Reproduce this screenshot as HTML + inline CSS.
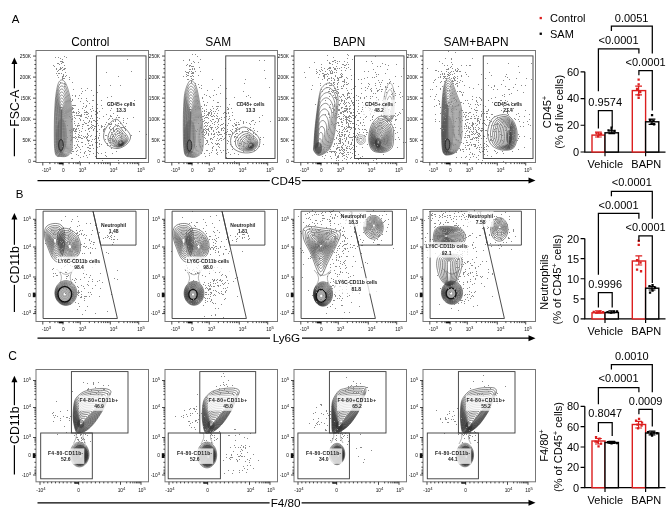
<!DOCTYPE html>
<html><head><meta charset="utf-8"><style>
html,body{margin:0;padding:0;background:#fff;}
body{width:669px;height:526px;overflow:hidden;font-family:"Liberation Sans", sans-serif;}
svg{display:block;will-change:transform;filter:blur(0.25px);}
</style></head><body>
<svg width="669" height="526" viewBox="0 0 669 526" font-family='"Liberation Sans", sans-serif'>
<rect width="669" height="526" fill="#fff"/>
<text x="15.60" y="22.80" font-size="11.50" text-anchor="middle" font-weight="normal" fill="#000" >A</text>
<text x="19.50" y="197.90" font-size="11.50" text-anchor="middle" font-weight="normal" fill="#000" >B</text>
<text x="12.70" y="359.90" font-size="12.00" text-anchor="middle" font-weight="normal" fill="#000" >C</text>
<text x="90.30" y="45.80" font-size="11.90" text-anchor="middle" font-weight="normal" fill="#000" >Control</text>
<text x="218.20" y="45.80" font-size="11.90" text-anchor="middle" font-weight="normal" fill="#000" >SAM</text>
<text x="349.20" y="45.80" font-size="11.90" text-anchor="middle" font-weight="normal" fill="#000" >BAPN</text>
<text x="476.00" y="45.80" font-size="11.90" text-anchor="middle" font-weight="normal" fill="#000" >SAM+BAPN</text>
<rect x="36.00" y="50.50" width="112.50" height="112.00" fill="none" stroke="#777" stroke-width="1"/>
<path d="M33.00,161.30H36.00M33.00,140.25H36.00M33.00,119.20H36.00M33.00,98.15H36.00M33.00,77.10H36.00M33.00,56.05H36.00M34.40,157.09H36.00M34.40,152.88H36.00M34.40,148.67H36.00M34.40,144.46H36.00M34.40,136.04H36.00M34.40,131.83H36.00M34.40,127.62H36.00M34.40,123.41H36.00M34.40,114.99H36.00M34.40,110.78H36.00M34.40,106.57H36.00M34.40,102.36H36.00M34.40,93.94H36.00M34.40,89.73H36.00M34.40,85.52H36.00M34.40,81.31H36.00M34.40,72.89H36.00M34.40,68.68H36.00M34.40,64.47H36.00M34.40,60.26H36.00" stroke="#1a1a1a" stroke-width="0.8" fill="none"/>
<text x="31.00" y="163.00" font-size="4.80" text-anchor="end" font-weight="normal" fill="#111" >0</text>
<text x="31.00" y="141.95" font-size="4.80" text-anchor="end" font-weight="normal" fill="#111" >50K</text>
<text x="31.00" y="120.90" font-size="4.80" text-anchor="end" font-weight="normal" fill="#111" >100K</text>
<text x="31.00" y="99.85" font-size="4.80" text-anchor="end" font-weight="normal" fill="#111" >150K</text>
<text x="31.00" y="78.80" font-size="4.80" text-anchor="end" font-weight="normal" fill="#111" >200K</text>
<text x="31.00" y="57.75" font-size="4.80" text-anchor="end" font-weight="normal" fill="#111" >250K</text>
<path d="M42.80,162.50V165.50M63.00,162.50V165.50M80.30,162.50V165.50M110.30,162.50V165.50M138.70,162.50V165.50M49.87,162.50V164.10M54.92,162.50V164.10M57.95,162.50V164.10M59.97,162.50V164.10M61.38,162.50V164.10M69.05,162.50V164.10M73.38,162.50V164.10M75.97,162.50V164.10M77.70,162.50V164.10M78.92,162.50V164.10M89.33,162.50V164.10M94.61,162.50V164.10M98.36,162.50V164.10M101.27,162.50V164.10M103.64,162.50V164.10M105.65,162.50V164.10M107.39,162.50V164.10M108.93,162.50V164.10M118.85,162.50V164.10M123.85,162.50V164.10M127.40,162.50V164.10M130.15,162.50V164.10M132.40,162.50V164.10M134.30,162.50V164.10M135.95,162.50V164.10M137.40,162.50V164.10" stroke="#1a1a1a" stroke-width="0.8" fill="none"/>
<text x="46.50" y="172.20" font-size="4.80" text-anchor="middle" font-weight="normal" fill="#111" >-10<tspan font-size="4.2" dy="-2.0">3</tspan></text>
<text x="63.40" y="172.20" font-size="4.80" text-anchor="middle" font-weight="normal" fill="#111" >0</text>
<text x="82.50" y="172.20" font-size="4.80" text-anchor="middle" font-weight="normal" fill="#111" >10<tspan font-size="4.2" dy="-2.0">3</tspan></text>
<text x="113.70" y="172.20" font-size="4.80" text-anchor="middle" font-weight="normal" fill="#111" >10<tspan font-size="4.2" dy="-2.0">4</tspan></text>
<text x="141.00" y="172.20" font-size="4.80" text-anchor="middle" font-weight="normal" fill="#111" >10<tspan font-size="4.2" dy="-2.0">5</tspan></text>
<rect x="165.00" y="50.50" width="112.50" height="112.00" fill="none" stroke="#777" stroke-width="1"/>
<path d="M162.00,161.30H165.00M162.00,140.25H165.00M162.00,119.20H165.00M162.00,98.15H165.00M162.00,77.10H165.00M162.00,56.05H165.00M163.40,157.09H165.00M163.40,152.88H165.00M163.40,148.67H165.00M163.40,144.46H165.00M163.40,136.04H165.00M163.40,131.83H165.00M163.40,127.62H165.00M163.40,123.41H165.00M163.40,114.99H165.00M163.40,110.78H165.00M163.40,106.57H165.00M163.40,102.36H165.00M163.40,93.94H165.00M163.40,89.73H165.00M163.40,85.52H165.00M163.40,81.31H165.00M163.40,72.89H165.00M163.40,68.68H165.00M163.40,64.47H165.00M163.40,60.26H165.00" stroke="#1a1a1a" stroke-width="0.8" fill="none"/>
<text x="160.00" y="163.00" font-size="4.80" text-anchor="end" font-weight="normal" fill="#111" >0</text>
<text x="160.00" y="141.95" font-size="4.80" text-anchor="end" font-weight="normal" fill="#111" >50K</text>
<text x="160.00" y="120.90" font-size="4.80" text-anchor="end" font-weight="normal" fill="#111" >100K</text>
<text x="160.00" y="99.85" font-size="4.80" text-anchor="end" font-weight="normal" fill="#111" >150K</text>
<text x="160.00" y="78.80" font-size="4.80" text-anchor="end" font-weight="normal" fill="#111" >200K</text>
<text x="160.00" y="57.75" font-size="4.80" text-anchor="end" font-weight="normal" fill="#111" >250K</text>
<path d="M171.80,162.50V165.50M192.00,162.50V165.50M209.30,162.50V165.50M239.30,162.50V165.50M267.70,162.50V165.50M178.87,162.50V164.10M183.92,162.50V164.10M186.95,162.50V164.10M188.97,162.50V164.10M190.38,162.50V164.10M198.06,162.50V164.10M202.38,162.50V164.10M204.97,162.50V164.10M206.70,162.50V164.10M207.92,162.50V164.10M218.33,162.50V164.10M223.61,162.50V164.10M227.36,162.50V164.10M230.27,162.50V164.10M232.64,162.50V164.10M234.65,162.50V164.10M236.39,162.50V164.10M237.93,162.50V164.10M247.85,162.50V164.10M252.85,162.50V164.10M256.40,162.50V164.10M259.15,162.50V164.10M261.40,162.50V164.10M263.30,162.50V164.10M264.95,162.50V164.10M266.40,162.50V164.10" stroke="#1a1a1a" stroke-width="0.8" fill="none"/>
<text x="175.50" y="172.20" font-size="4.80" text-anchor="middle" font-weight="normal" fill="#111" >-10<tspan font-size="4.2" dy="-2.0">3</tspan></text>
<text x="192.40" y="172.20" font-size="4.80" text-anchor="middle" font-weight="normal" fill="#111" >0</text>
<text x="211.50" y="172.20" font-size="4.80" text-anchor="middle" font-weight="normal" fill="#111" >10<tspan font-size="4.2" dy="-2.0">3</tspan></text>
<text x="242.70" y="172.20" font-size="4.80" text-anchor="middle" font-weight="normal" fill="#111" >10<tspan font-size="4.2" dy="-2.0">4</tspan></text>
<text x="270.00" y="172.20" font-size="4.80" text-anchor="middle" font-weight="normal" fill="#111" >10<tspan font-size="4.2" dy="-2.0">5</tspan></text>
<rect x="294.00" y="50.50" width="112.50" height="112.00" fill="none" stroke="#777" stroke-width="1"/>
<path d="M291.00,161.30H294.00M291.00,140.25H294.00M291.00,119.20H294.00M291.00,98.15H294.00M291.00,77.10H294.00M291.00,56.05H294.00M292.40,157.09H294.00M292.40,152.88H294.00M292.40,148.67H294.00M292.40,144.46H294.00M292.40,136.04H294.00M292.40,131.83H294.00M292.40,127.62H294.00M292.40,123.41H294.00M292.40,114.99H294.00M292.40,110.78H294.00M292.40,106.57H294.00M292.40,102.36H294.00M292.40,93.94H294.00M292.40,89.73H294.00M292.40,85.52H294.00M292.40,81.31H294.00M292.40,72.89H294.00M292.40,68.68H294.00M292.40,64.47H294.00M292.40,60.26H294.00" stroke="#1a1a1a" stroke-width="0.8" fill="none"/>
<text x="289.00" y="163.00" font-size="4.80" text-anchor="end" font-weight="normal" fill="#111" >0</text>
<text x="289.00" y="141.95" font-size="4.80" text-anchor="end" font-weight="normal" fill="#111" >50K</text>
<text x="289.00" y="120.90" font-size="4.80" text-anchor="end" font-weight="normal" fill="#111" >100K</text>
<text x="289.00" y="99.85" font-size="4.80" text-anchor="end" font-weight="normal" fill="#111" >150K</text>
<text x="289.00" y="78.80" font-size="4.80" text-anchor="end" font-weight="normal" fill="#111" >200K</text>
<text x="289.00" y="57.75" font-size="4.80" text-anchor="end" font-weight="normal" fill="#111" >250K</text>
<path d="M300.80,162.50V165.50M321.00,162.50V165.50M338.30,162.50V165.50M368.30,162.50V165.50M396.70,162.50V165.50M307.87,162.50V164.10M312.92,162.50V164.10M315.95,162.50V164.10M317.97,162.50V164.10M319.38,162.50V164.10M327.06,162.50V164.10M331.38,162.50V164.10M333.98,162.50V164.10M335.70,162.50V164.10M336.92,162.50V164.10M347.33,162.50V164.10M352.61,162.50V164.10M356.36,162.50V164.10M359.27,162.50V164.10M361.64,162.50V164.10M363.65,162.50V164.10M365.39,162.50V164.10M366.93,162.50V164.10M376.85,162.50V164.10M381.85,162.50V164.10M385.40,162.50V164.10M388.15,162.50V164.10M390.40,162.50V164.10M392.30,162.50V164.10M393.95,162.50V164.10M395.40,162.50V164.10" stroke="#1a1a1a" stroke-width="0.8" fill="none"/>
<text x="304.50" y="172.20" font-size="4.80" text-anchor="middle" font-weight="normal" fill="#111" >-10<tspan font-size="4.2" dy="-2.0">3</tspan></text>
<text x="321.40" y="172.20" font-size="4.80" text-anchor="middle" font-weight="normal" fill="#111" >0</text>
<text x="340.50" y="172.20" font-size="4.80" text-anchor="middle" font-weight="normal" fill="#111" >10<tspan font-size="4.2" dy="-2.0">3</tspan></text>
<text x="371.70" y="172.20" font-size="4.80" text-anchor="middle" font-weight="normal" fill="#111" >10<tspan font-size="4.2" dy="-2.0">4</tspan></text>
<text x="399.00" y="172.20" font-size="4.80" text-anchor="middle" font-weight="normal" fill="#111" >10<tspan font-size="4.2" dy="-2.0">5</tspan></text>
<rect x="423.00" y="50.50" width="112.50" height="112.00" fill="none" stroke="#777" stroke-width="1"/>
<path d="M420.00,161.30H423.00M420.00,140.25H423.00M420.00,119.20H423.00M420.00,98.15H423.00M420.00,77.10H423.00M420.00,56.05H423.00M421.40,157.09H423.00M421.40,152.88H423.00M421.40,148.67H423.00M421.40,144.46H423.00M421.40,136.04H423.00M421.40,131.83H423.00M421.40,127.62H423.00M421.40,123.41H423.00M421.40,114.99H423.00M421.40,110.78H423.00M421.40,106.57H423.00M421.40,102.36H423.00M421.40,93.94H423.00M421.40,89.73H423.00M421.40,85.52H423.00M421.40,81.31H423.00M421.40,72.89H423.00M421.40,68.68H423.00M421.40,64.47H423.00M421.40,60.26H423.00" stroke="#1a1a1a" stroke-width="0.8" fill="none"/>
<text x="418.00" y="163.00" font-size="4.80" text-anchor="end" font-weight="normal" fill="#111" >0</text>
<text x="418.00" y="141.95" font-size="4.80" text-anchor="end" font-weight="normal" fill="#111" >50K</text>
<text x="418.00" y="120.90" font-size="4.80" text-anchor="end" font-weight="normal" fill="#111" >100K</text>
<text x="418.00" y="99.85" font-size="4.80" text-anchor="end" font-weight="normal" fill="#111" >150K</text>
<text x="418.00" y="78.80" font-size="4.80" text-anchor="end" font-weight="normal" fill="#111" >200K</text>
<text x="418.00" y="57.75" font-size="4.80" text-anchor="end" font-weight="normal" fill="#111" >250K</text>
<path d="M429.80,162.50V165.50M450.00,162.50V165.50M467.30,162.50V165.50M497.30,162.50V165.50M525.70,162.50V165.50M436.87,162.50V164.10M441.92,162.50V164.10M444.95,162.50V164.10M446.97,162.50V164.10M448.38,162.50V164.10M456.06,162.50V164.10M460.38,162.50V164.10M462.98,162.50V164.10M464.70,162.50V164.10M465.92,162.50V164.10M476.33,162.50V164.10M481.61,162.50V164.10M485.36,162.50V164.10M488.27,162.50V164.10M490.64,162.50V164.10M492.65,162.50V164.10M494.39,162.50V164.10M495.93,162.50V164.10M505.85,162.50V164.10M510.85,162.50V164.10M514.40,162.50V164.10M517.15,162.50V164.10M519.40,162.50V164.10M521.30,162.50V164.10M522.95,162.50V164.10M524.40,162.50V164.10" stroke="#1a1a1a" stroke-width="0.8" fill="none"/>
<text x="433.50" y="172.20" font-size="4.80" text-anchor="middle" font-weight="normal" fill="#111" >-10<tspan font-size="4.2" dy="-2.0">3</tspan></text>
<text x="450.40" y="172.20" font-size="4.80" text-anchor="middle" font-weight="normal" fill="#111" >0</text>
<text x="469.50" y="172.20" font-size="4.80" text-anchor="middle" font-weight="normal" fill="#111" >10<tspan font-size="4.2" dy="-2.0">3</tspan></text>
<text x="500.70" y="172.20" font-size="4.80" text-anchor="middle" font-weight="normal" fill="#111" >10<tspan font-size="4.2" dy="-2.0">4</tspan></text>
<text x="528.00" y="172.20" font-size="4.80" text-anchor="middle" font-weight="normal" fill="#111" >10<tspan font-size="4.2" dy="-2.0">5</tspan></text>
<ellipse cx="61.5" cy="136.0" rx="5.5" ry="17.0" fill="#777" fill-opacity="0.35"/>
<ellipse cx="190.0" cy="137.0" rx="6.0" ry="17.0" fill="#777" fill-opacity="0.35"/>
<ellipse cx="447.5" cy="134.0" rx="6.0" ry="19.0" fill="#777" fill-opacity="0.35"/>
<path d="M61.30,80.00C62.72,79.67 64.47,80.67 66.00,84.00C67.53,87.33 69.45,93.17 70.50,100.00C71.55,106.83 72.05,117.00 72.30,125.00C72.55,133.00 72.72,142.92 72.00,148.00C71.28,153.08 69.83,154.08 68.00,155.50C66.17,156.92 63.08,156.75 61.00,156.50C58.92,156.25 56.62,157.58 55.50,154.00C54.38,150.42 54.38,143.17 54.30,135.00C54.22,126.83 54.47,113.17 55.00,105.00C55.53,96.83 56.45,90.17 57.50,86.00C58.55,81.83 59.88,80.33 61.30,80.00Z" fill="none" stroke="#2e2e2e" stroke-width="0.52"/>
<path d="M61.32,83.00C62.59,82.70 64.17,83.60 65.55,86.60C66.93,89.60 68.66,94.60 69.60,101.00C70.54,107.40 70.98,117.16 71.20,124.99C71.42,132.82 71.55,142.99 70.90,147.99C70.25,152.98 68.95,153.64 67.30,154.95C65.65,156.26 62.88,156.07 61.00,155.85C59.12,155.62 57.05,157.07 56.05,153.60C55.05,150.13 55.06,143.03 54.99,135.01C54.92,126.99 55.16,113.27 55.65,105.50C56.14,97.73 56.95,92.15 57.90,88.40C58.84,84.65 60.05,83.30 61.32,83.00Z" fill="none" stroke="#2e2e2e" stroke-width="0.52"/>
<path d="M61.34,86.00C62.47,85.73 63.87,86.53 65.10,89.20C66.33,91.87 67.87,96.04 68.70,102.00C69.53,107.96 69.92,117.31 70.10,124.97C70.29,132.63 70.39,143.07 69.81,147.97C69.22,152.88 68.07,153.20 66.60,154.40C65.13,155.60 62.67,155.40 61.00,155.20C59.33,155.00 57.49,156.56 56.60,153.20C55.71,149.84 55.73,142.88 55.68,135.02C55.63,127.15 55.86,113.37 56.30,106.00C56.74,98.63 57.46,94.13 58.30,90.80C59.14,87.47 60.21,86.27 61.34,86.00Z" fill="none" stroke="#2e2e2e" stroke-width="0.52"/>
<path d="M61.36,89.00C62.35,88.77 63.58,89.47 64.65,91.80C65.72,94.13 67.07,97.47 67.80,103.00C68.53,108.53 68.85,117.47 69.00,124.96C69.16,132.45 69.23,143.14 68.71,147.96C68.19,152.77 67.18,152.75 65.90,153.85C64.62,154.95 62.46,154.73 61.00,154.55C59.54,154.38 57.92,156.05 57.15,152.80C56.38,149.55 56.40,142.74 56.37,135.03C56.33,127.31 56.56,113.47 56.95,106.50C57.34,99.53 57.97,96.12 58.70,93.20C59.44,90.28 60.37,89.23 61.36,89.00Z" fill="none" stroke="#2e2e2e" stroke-width="0.52"/>
<path d="M61.38,92.00C62.23,91.80 63.28,92.40 64.20,94.40C65.12,96.40 66.28,98.91 66.90,104.00C67.52,109.09 67.79,117.62 67.91,124.95C68.02,132.27 68.06,143.22 67.61,147.95C67.16,152.67 66.30,152.31 65.20,153.30C64.10,154.29 62.25,154.05 61.00,153.90C59.75,153.75 58.36,155.54 57.70,152.40C57.04,149.26 57.07,142.60 57.05,135.03C57.04,127.47 57.26,113.57 57.60,107.00C57.94,100.43 58.47,98.10 59.10,95.60C59.73,93.10 60.53,92.20 61.38,92.00Z" fill="none" stroke="#2e2e2e" stroke-width="0.52"/>
<path d="M61.40,95.00C62.11,94.83 62.98,95.33 63.75,97.00C64.52,98.67 65.49,100.34 66.00,105.00C66.51,109.66 66.72,117.78 66.81,124.93C66.89,132.09 66.90,143.29 66.51,147.93C66.13,152.57 65.42,151.86 64.50,152.75C63.58,153.64 62.04,153.38 61.00,153.25C59.96,153.12 58.79,155.03 58.25,152.00C57.71,148.97 57.74,142.46 57.74,135.04C57.74,127.63 57.96,113.67 58.25,107.50C58.54,101.33 58.98,100.08 59.50,98.00C60.02,95.92 60.69,95.17 61.40,95.00Z" fill="none" stroke="#2e2e2e" stroke-width="0.52"/>
<path d="M61.42,98.00C61.99,97.87 62.69,98.27 63.30,99.60C63.91,100.93 64.70,101.78 65.10,106.00C65.50,110.22 65.66,117.93 65.71,124.92C65.76,131.90 65.73,143.37 65.42,147.92C65.10,152.46 64.54,151.42 63.80,152.20C63.06,152.98 61.83,152.70 61.00,152.60C60.17,152.50 59.23,154.52 58.80,151.60C58.37,148.68 58.42,142.32 58.43,135.05C58.45,127.78 58.66,113.78 58.90,108.00C59.14,102.22 59.48,102.07 59.90,100.40C60.32,98.73 60.85,98.13 61.42,98.00Z" fill="none" stroke="#2e2e2e" stroke-width="0.52"/>
<path d="M61.44,101.00C61.86,100.90 62.39,101.20 62.85,102.20C63.31,103.20 63.91,103.22 64.20,107.00C64.49,110.78 64.59,118.09 64.61,124.90C64.63,131.72 64.57,143.45 64.32,147.90C64.07,152.36 63.65,150.98 63.10,151.65C62.55,152.32 61.62,152.02 61.00,151.95C60.38,151.88 59.66,154.01 59.35,151.20C59.04,148.39 59.09,142.18 59.12,135.06C59.15,127.94 59.35,113.88 59.55,108.50C59.75,103.12 59.98,104.05 60.30,102.80C60.61,101.55 61.02,101.10 61.44,101.00Z" fill="none" stroke="#2e2e2e" stroke-width="0.52"/>
<path d="M61.46,104.00C61.74,103.93 62.09,104.13 62.40,104.80C62.71,105.47 63.11,104.65 63.30,108.00C63.49,111.35 63.52,118.24 63.51,124.89C63.50,131.54 63.41,143.52 63.22,147.89C63.04,152.26 62.77,150.53 62.40,151.10C62.03,151.67 61.42,151.35 61.00,151.30C60.58,151.25 60.10,153.51 59.90,150.80C59.70,148.09 59.76,142.04 59.81,135.07C59.86,128.10 60.05,113.98 60.20,109.00C60.35,104.02 60.49,106.03 60.70,105.20C60.91,104.37 61.18,104.07 61.46,104.00Z" fill="none" stroke="#2e2e2e" stroke-width="0.52"/>
<path d="M61.48,107.00C61.62,106.97 61.80,107.07 61.95,107.40C62.10,107.73 62.32,106.09 62.40,109.00C62.48,111.91 62.46,118.40 62.41,124.88C62.37,131.36 62.24,143.60 62.12,147.88C62.01,152.16 61.89,150.09 61.70,150.55C61.51,151.01 61.21,150.68 61.00,150.65C60.79,150.62 60.53,153.00 60.45,150.40C60.37,147.80 60.43,141.89 60.50,135.08C60.56,128.26 60.75,114.08 60.85,109.50C60.95,104.92 61.00,108.02 61.10,107.60C61.20,107.18 61.34,107.03 61.48,107.00Z" fill="none" stroke="#2e2e2e" stroke-width="0.52"/>
<path d="M61.50,110.00L61.00,150.00" stroke="#666" stroke-width="1.6" stroke-linecap="round"/>
<path d="M190.70,80.50C192.28,80.33 194.45,81.92 196.00,86.00C197.55,90.08 198.83,97.67 200.00,105.00C201.17,112.33 202.58,122.50 203.00,130.00C203.42,137.50 203.50,145.58 202.50,150.00C201.50,154.42 199.08,155.33 197.00,156.50C194.92,157.67 192.08,157.58 190.00,157.00C187.92,156.42 185.62,157.50 184.50,153.00C183.38,148.50 183.38,138.83 183.30,130.00C183.22,121.17 183.47,107.17 184.00,100.00C184.53,92.83 185.38,90.25 186.50,87.00C187.62,83.75 189.12,80.67 190.70,80.50Z" fill="none" stroke="#2e2e2e" stroke-width="0.52"/>
<path d="M190.68,83.36C192.12,83.21 194.09,84.65 195.50,88.36C196.91,92.08 198.08,98.70 199.14,105.64C200.19,112.57 201.46,122.58 201.82,129.97C202.19,137.36 202.24,145.65 201.32,149.97C200.40,154.29 198.21,154.84 196.32,155.91C194.42,156.97 191.85,156.89 189.95,156.36C188.06,155.83 185.96,157.12 184.95,152.73C183.95,148.34 183.97,138.62 183.91,130.02C183.85,121.41 184.10,107.88 184.59,101.09C185.08,94.30 185.85,92.23 186.86,89.27C187.88,86.32 189.24,83.52 190.68,83.36Z" fill="none" stroke="#2e2e2e" stroke-width="0.52"/>
<path d="M190.66,86.23C191.96,86.09 193.73,87.39 195.00,90.73C196.27,94.07 197.33,99.74 198.27,106.27C199.21,112.81 200.33,122.66 200.64,129.94C200.95,137.22 200.97,145.71 200.14,149.94C199.30,154.17 197.34,154.35 195.64,155.32C193.93,156.28 191.61,156.20 189.91,155.73C188.20,155.25 186.31,156.74 185.41,152.45C184.51,148.17 184.56,138.41 184.52,130.03C184.48,121.65 184.73,108.60 185.18,102.18C185.63,95.77 186.31,94.20 187.23,91.55C188.14,88.89 189.37,86.36 190.66,86.23Z" fill="none" stroke="#2e2e2e" stroke-width="0.52"/>
<path d="M190.65,89.09C191.80,88.97 193.37,90.12 194.50,93.09C195.63,96.06 196.58,100.77 197.41,106.91C198.24,113.05 199.21,122.74 199.46,129.91C199.72,137.07 199.71,145.77 198.96,149.91C198.21,154.04 196.47,153.86 194.95,154.73C193.44,155.59 191.38,155.52 189.86,155.09C188.35,154.67 186.65,156.36 185.86,152.18C185.08,148.01 185.15,138.20 185.13,130.05C185.12,121.90 185.36,109.31 185.77,103.27C186.18,97.23 186.78,96.18 187.59,93.82C188.40,91.45 189.49,89.21 190.65,89.09Z" fill="none" stroke="#2e2e2e" stroke-width="0.52"/>
<path d="M190.63,91.95C191.63,91.85 193.01,92.86 194.00,95.45C194.99,98.05 195.83,101.81 196.55,107.55C197.26,113.28 198.08,122.82 198.29,129.88C198.49,136.93 198.44,145.83 197.78,149.88C197.11,153.92 195.60,153.37 194.27,154.14C192.95,154.90 191.14,154.83 189.82,154.45C188.49,154.08 187.00,155.97 186.32,151.91C185.64,147.84 185.74,137.99 185.74,130.06C185.75,122.14 186.00,110.03 186.36,104.36C186.73,98.70 187.24,98.16 187.95,96.09C188.67,94.02 189.62,92.06 190.63,91.95Z" fill="none" stroke="#2e2e2e" stroke-width="0.52"/>
<path d="M190.61,94.82C191.47,94.73 192.65,95.59 193.50,97.82C194.35,100.05 195.08,102.84 195.68,108.18C196.28,113.52 196.95,122.90 197.11,129.84C197.26,136.79 197.18,145.89 196.59,149.84C196.01,153.79 194.73,152.88 193.59,153.55C192.45,154.21 190.91,154.14 189.77,153.82C188.64,153.50 187.34,155.59 186.77,151.64C186.20,147.68 186.32,137.78 186.36,130.08C186.39,122.38 186.63,110.74 186.95,105.45C187.28,100.17 187.71,100.14 188.32,98.36C188.93,96.59 189.75,94.91 190.61,94.82Z" fill="none" stroke="#2e2e2e" stroke-width="0.52"/>
<path d="M190.59,97.68C191.31,97.61 192.30,98.33 193.00,100.18C193.70,102.04 194.33,103.88 194.82,108.82C195.31,113.76 195.83,122.98 195.93,129.81C196.03,136.65 195.92,145.96 195.41,149.81C194.91,153.67 193.86,152.39 192.91,152.95C191.96,153.52 190.67,153.45 189.73,153.18C188.78,152.92 187.69,155.21 187.23,151.36C186.77,147.52 186.91,137.57 186.97,130.10C187.02,122.63 187.26,111.46 187.55,106.55C187.83,101.64 188.17,102.11 188.68,100.64C189.19,99.16 189.87,97.76 190.59,97.68Z" fill="none" stroke="#2e2e2e" stroke-width="0.52"/>
<path d="M190.57,100.55C191.15,100.48 191.94,101.06 192.50,102.55C193.06,104.03 193.58,104.91 193.95,109.45C194.33,113.99 194.70,123.06 194.75,129.78C194.80,136.50 194.65,146.02 194.23,149.78C193.81,153.55 192.99,151.90 192.23,152.36C191.47,152.82 190.44,152.76 189.68,152.55C188.92,152.33 188.03,154.83 187.68,151.09C187.33,147.35 187.50,137.35 187.58,130.11C187.65,122.87 187.89,112.17 188.14,107.64C188.38,103.10 188.64,104.09 189.05,102.91C189.45,101.73 190.00,100.61 190.57,100.55Z" fill="none" stroke="#2e2e2e" stroke-width="0.52"/>
<path d="M190.55,103.41C190.99,103.36 191.58,103.80 192.00,104.91C192.42,106.02 192.83,105.95 193.09,110.09C193.35,114.23 193.58,123.14 193.57,129.75C193.56,136.36 193.39,146.08 193.05,149.75C192.71,153.42 192.11,151.41 191.55,151.77C190.98,152.13 190.20,152.07 189.64,151.91C189.07,151.75 188.38,154.45 188.14,150.82C187.90,147.19 188.09,137.14 188.19,130.13C188.29,123.11 188.52,112.89 188.73,108.73C188.93,104.57 189.10,106.07 189.41,105.18C189.71,104.30 190.12,103.45 190.55,103.41Z" fill="none" stroke="#2e2e2e" stroke-width="0.52"/>
<path d="M190.54,106.27C190.82,106.24 191.22,106.53 191.50,107.27C191.78,108.02 192.08,106.99 192.23,110.73C192.38,114.47 192.45,123.22 192.39,129.72C192.33,136.22 192.13,146.14 191.87,149.72C191.62,153.30 191.24,150.92 190.86,151.18C190.48,151.44 189.97,151.38 189.59,151.27C189.21,151.17 188.72,154.07 188.59,150.55C188.46,147.02 188.68,136.93 188.80,130.14C188.92,123.36 189.16,113.60 189.32,109.82C189.48,106.04 189.57,108.05 189.77,107.45C189.98,106.86 190.25,106.30 190.54,106.27Z" fill="none" stroke="#2e2e2e" stroke-width="0.52"/>
<path d="M190.52,109.14C190.66,109.12 190.86,109.27 191.00,109.64C191.14,110.01 191.33,108.02 191.36,111.36C191.40,114.71 191.33,123.30 191.21,129.69C191.10,136.08 190.86,146.21 190.69,149.69C190.52,153.17 190.37,150.43 190.18,150.59C189.99,150.75 189.73,150.69 189.55,150.64C189.36,150.58 189.07,153.69 189.05,150.27C189.02,146.86 189.27,136.72 189.41,130.16C189.55,123.60 189.79,114.31 189.91,110.91C190.03,107.50 190.03,110.02 190.14,109.73C190.24,109.43 190.37,109.15 190.52,109.14Z" fill="none" stroke="#2e2e2e" stroke-width="0.52"/>
<path d="M190.50,112.00L189.50,150.00" stroke="#666" stroke-width="1.6" stroke-linecap="round"/>
<path d="M329.20,83.10C331.20,83.38 333.52,85.32 335.00,88.00C336.48,90.68 337.85,94.20 338.10,99.20C338.35,104.20 337.18,111.80 336.50,118.00C335.82,124.20 335.22,131.18 334.00,136.40C332.78,141.62 331.62,146.12 329.20,149.30C326.78,152.48 322.03,155.22 319.50,155.50C316.97,155.78 314.93,152.83 314.00,151.00C313.07,149.17 313.65,149.08 313.90,144.50C314.15,139.92 314.57,131.85 315.50,123.50C316.43,115.15 318.25,100.60 319.50,94.40C320.75,88.20 321.38,88.18 323.00,86.30C324.62,84.42 327.20,82.82 329.20,83.10Z" fill="none" stroke="#2e2e2e" stroke-width="0.52"/>
<path d="M328.47,87.50C330.33,87.76 332.49,89.56 333.87,92.06C335.25,94.56 336.52,97.83 336.75,102.48C336.99,107.13 335.90,114.21 335.27,119.98C334.63,125.75 334.07,132.25 332.94,137.10C331.81,141.96 330.72,146.14 328.47,149.11C326.22,152.07 321.80,154.61 319.44,154.88C317.09,155.14 315.19,152.39 314.33,150.69C313.46,148.98 314.00,148.90 314.23,144.64C314.47,140.37 314.85,132.87 315.72,125.10C316.59,117.33 318.28,103.78 319.44,98.01C320.61,92.24 321.20,92.23 322.70,90.48C324.21,88.72 326.61,87.24 328.47,87.50Z" fill="none" stroke="#2e2e2e" stroke-width="0.52"/>
<path d="M327.64,92.53C329.34,92.77 331.31,94.42 332.58,96.70C333.84,98.98 335.00,101.98 335.21,106.23C335.43,110.49 334.43,116.96 333.85,122.24C333.27,127.52 332.76,133.46 331.72,137.90C330.69,142.34 329.70,146.17 327.64,148.88C325.58,151.59 321.54,153.92 319.38,154.16C317.22,154.40 315.49,151.89 314.70,150.33C313.90,148.77 314.40,148.70 314.61,144.80C314.83,140.90 315.18,134.03 315.98,126.92C316.77,119.81 318.32,107.43 319.38,102.15C320.45,96.87 320.98,96.86 322.36,95.25C323.74,93.65 325.94,92.29 327.64,92.53Z" fill="none" stroke="#2e2e2e" stroke-width="0.52"/>
<path d="M326.76,97.83C328.30,98.05 330.07,99.53 331.21,101.59C332.35,103.65 333.40,106.35 333.59,110.19C333.79,114.03 332.89,119.86 332.36,124.62C331.84,129.38 331.38,134.74 330.45,138.75C329.51,142.75 328.62,146.21 326.76,148.65C324.91,151.09 321.26,153.19 319.31,153.41C317.37,153.63 315.81,151.36 315.09,149.95C314.38,148.55 314.82,148.48 315.02,144.96C315.21,141.45 315.53,135.25 316.24,128.84C316.96,122.43 318.35,111.26 319.31,106.50C320.27,101.74 320.76,101.73 322.00,100.29C323.24,98.84 325.23,97.61 326.76,97.83Z" fill="none" stroke="#2e2e2e" stroke-width="0.52"/>
<path d="M325.85,103.31C327.22,103.50 328.79,104.82 329.80,106.65C330.81,108.48 331.75,110.87 331.92,114.28C332.09,117.68 331.29,122.86 330.83,127.09C330.36,131.31 329.95,136.07 329.12,139.62C328.29,143.17 327.50,146.24 325.85,148.41C324.21,150.58 320.97,152.44 319.24,152.63C317.52,152.82 316.13,150.81 315.50,149.57C314.86,148.32 315.26,148.26 315.43,145.14C315.60,142.02 315.88,136.52 316.52,130.83C317.16,125.14 318.39,115.23 319.24,111.01C320.10,106.79 320.53,106.77 321.63,105.49C322.73,104.21 324.49,103.12 325.85,103.31Z" fill="none" stroke="#2e2e2e" stroke-width="0.52"/>
<path d="M324.92,108.93C326.11,109.10 327.48,110.25 328.36,111.84C329.24,113.43 330.05,115.51 330.19,118.47C330.34,121.44 329.65,125.94 329.25,129.61C328.84,133.29 328.49,137.42 327.77,140.52C327.04,143.61 326.35,146.27 324.92,148.16C323.49,150.05 320.68,151.66 319.17,151.83C317.67,152.00 316.47,150.25 315.92,149.17C315.36,148.08 315.71,148.03 315.86,145.31C316.00,142.60 316.25,137.82 316.80,132.87C317.36,127.92 318.43,119.30 319.17,115.63C319.91,111.96 320.29,111.95 321.25,110.83C322.21,109.71 323.74,108.77 324.92,108.93Z" fill="none" stroke="#2e2e2e" stroke-width="0.52"/>
<path d="M323.97,114.67C324.98,114.81 326.14,115.78 326.88,117.13C327.63,118.48 328.31,120.24 328.44,122.75C328.56,125.26 327.98,129.08 327.64,132.19C327.29,135.30 326.99,138.81 326.38,141.43C325.77,144.05 325.18,146.31 323.97,147.91C322.76,149.50 320.37,150.88 319.10,151.02C317.83,151.16 316.81,149.68 316.34,148.76C315.87,147.84 316.16,147.80 316.29,145.50C316.42,143.19 316.62,139.15 317.09,134.95C317.56,130.76 318.47,123.46 319.10,120.34C319.73,117.23 320.05,117.22 320.86,116.28C321.67,115.33 322.97,114.53 323.97,114.67Z" fill="none" stroke="#2e2e2e" stroke-width="0.52"/>
<path d="M323.01,120.51C323.83,120.62 324.77,121.41 325.38,122.51C325.99,123.61 326.55,125.06 326.65,127.11C326.76,129.16 326.28,132.27 326.00,134.81C325.72,137.36 325.47,140.22 324.97,142.36C324.47,144.50 324.00,146.34 323.01,147.65C322.01,148.95 320.07,150.07 319.03,150.19C317.99,150.31 317.16,149.10 316.77,148.35C316.39,147.59 316.63,147.56 316.73,145.68C316.83,143.80 317.01,140.49 317.39,137.07C317.77,133.65 318.52,127.68 319.03,125.14C319.54,122.60 319.80,122.59 320.46,121.82C321.13,121.05 322.19,120.39 323.01,120.51Z" fill="none" stroke="#2e2e2e" stroke-width="0.52"/>
<path d="M322.02,126.42C322.66,126.51 323.39,127.13 323.86,127.98C324.33,128.83 324.76,129.94 324.84,131.52C324.92,133.11 324.55,135.51 324.34,137.48C324.12,139.44 323.93,141.65 323.54,143.30C323.16,144.95 322.79,146.38 322.02,147.39C321.26,148.39 319.76,149.26 318.95,149.35C318.15,149.44 317.51,148.51 317.21,147.92C316.92,147.34 317.10,147.32 317.18,145.87C317.26,144.42 317.39,141.86 317.69,139.22C317.98,136.57 318.56,131.97 318.95,130.00C319.35,128.04 319.55,128.03 320.06,127.44C320.57,126.84 321.39,126.33 322.02,126.42Z" fill="none" stroke="#2e2e2e" stroke-width="0.52"/>
<path d="M321.03,132.42C321.48,132.48 321.99,132.91 322.32,133.51C322.65,134.10 322.95,134.88 323.01,135.99C323.06,137.10 322.81,138.79 322.65,140.17C322.50,141.55 322.37,143.10 322.10,144.26C321.83,145.42 321.57,146.41 321.03,147.12C320.50,147.83 319.44,148.44 318.88,148.50C318.31,148.56 317.86,147.91 317.66,147.50C317.45,147.09 317.58,147.07 317.63,146.06C317.69,145.04 317.78,143.25 317.99,141.39C318.20,139.54 318.60,136.30 318.88,134.93C319.16,133.55 319.30,133.55 319.66,133.13C320.01,132.71 320.59,132.35 321.03,132.42Z" fill="none" stroke="#2e2e2e" stroke-width="0.52"/>
<path d="M320.03,138.48C320.28,138.51 320.57,138.76 320.76,139.10C320.95,139.44 321.12,139.88 321.16,140.51C321.19,141.15 321.04,142.11 320.95,142.89C320.87,143.68 320.79,144.56 320.64,145.22C320.48,145.88 320.33,146.45 320.03,146.85C319.72,147.26 319.12,147.60 318.80,147.64C318.48,147.67 318.22,147.30 318.11,147.07C317.99,146.84 318.06,146.83 318.09,146.25C318.12,145.67 318.18,144.65 318.30,143.59C318.41,142.53 318.64,140.69 318.80,139.91C318.96,139.12 319.04,139.12 319.24,138.88C319.45,138.64 319.78,138.44 320.03,138.48Z" fill="none" stroke="#2e2e2e" stroke-width="0.52"/>
<path d="M447.60,78.60C448.90,77.93 450.23,79.27 451.80,82.00C453.37,84.73 455.42,90.72 457.00,95.00C458.58,99.28 460.50,102.70 461.30,107.70C462.10,112.70 461.77,119.87 461.80,125.00C461.83,130.13 462.30,134.17 461.50,138.50C460.70,142.83 459.18,148.25 457.00,151.00C454.82,153.75 450.73,154.83 448.40,155.00C446.07,155.17 444.13,155.33 443.00,152.00C441.87,148.67 441.77,142.83 441.60,135.00C441.43,127.17 441.60,113.17 442.00,105.00C442.40,96.83 443.07,90.40 444.00,86.00C444.93,81.60 446.30,79.27 447.60,78.60Z" fill="none" stroke="#2e2e2e" stroke-width="0.52"/>
<path d="M447.63,81.05C448.82,80.44 450.05,81.66 451.48,84.17C452.92,86.67 454.80,92.16 456.25,96.08C457.70,100.01 459.46,102.91 460.19,107.73C460.92,112.54 460.60,119.85 460.62,124.97C460.64,130.10 461.06,134.15 460.32,138.47C459.57,142.80 458.17,148.23 456.17,150.92C454.16,153.60 450.42,154.43 448.28,154.58C446.14,154.74 444.37,155.10 443.33,151.83C442.30,148.57 442.22,142.78 442.08,135.01C441.94,127.25 442.12,113.11 442.50,105.25C442.88,97.39 443.48,91.87 444.33,87.83C445.19,83.80 446.44,81.66 447.63,81.05Z" fill="none" stroke="#2e2e2e" stroke-width="0.52"/>
<path d="M447.67,83.50C448.75,82.94 449.86,84.06 451.17,86.33C452.47,88.61 454.18,93.60 455.50,97.17C456.82,100.74 458.43,103.12 459.08,107.75C459.74,112.38 459.43,119.83 459.43,124.94C459.44,130.06 459.81,134.13 459.13,138.44C458.45,142.76 457.16,148.21 455.33,150.83C453.51,153.45 450.11,154.03 448.17,154.17C446.22,154.31 444.60,154.86 443.67,151.67C442.73,148.48 442.67,142.72 442.56,135.02C442.45,127.33 442.65,113.06 443.00,105.50C443.35,97.94 443.89,93.33 444.67,89.67C445.44,86.00 446.58,84.06 447.67,83.50Z" fill="none" stroke="#2e2e2e" stroke-width="0.52"/>
<path d="M447.70,85.95C448.68,85.45 449.68,86.45 450.85,88.50C452.03,90.55 453.56,95.04 454.75,98.25C455.94,101.46 457.39,103.33 457.98,107.78C458.56,112.22 458.26,119.81 458.25,124.92C458.25,130.02 458.57,134.11 457.95,138.42C457.32,142.72 456.15,148.19 454.50,150.75C452.85,153.31 449.80,153.62 448.05,153.75C446.30,153.88 444.84,154.62 444.00,151.50C443.16,148.38 443.12,142.66 443.04,135.03C442.96,127.41 443.17,113.01 443.50,105.75C443.83,98.49 444.30,94.80 445.00,91.50C445.70,88.20 446.73,86.45 447.70,85.95Z" fill="none" stroke="#2e2e2e" stroke-width="0.52"/>
<path d="M447.73,88.40C448.60,87.96 449.49,88.84 450.53,90.67C451.58,92.49 452.94,96.48 454.00,99.33C455.06,102.19 456.36,103.54 456.87,107.80C457.38,112.06 457.09,119.79 457.07,124.89C457.05,129.99 457.33,134.09 456.76,138.39C456.19,142.68 455.14,148.18 453.67,150.67C452.20,153.16 449.49,153.22 447.93,153.33C446.38,153.44 445.07,154.38 444.33,151.33C443.60,148.29 443.57,142.60 443.52,135.05C443.46,127.49 443.70,112.95 444.00,106.00C444.30,99.05 444.71,96.27 445.33,93.33C445.96,90.40 446.87,88.84 447.73,88.40Z" fill="none" stroke="#2e2e2e" stroke-width="0.52"/>
<path d="M447.77,90.85C448.53,90.46 449.30,91.24 450.22,92.83C451.13,94.43 452.33,97.92 453.25,100.42C454.17,102.92 455.32,103.75 455.76,107.83C456.20,111.90 455.92,119.77 455.88,124.86C455.85,129.95 456.08,134.07 455.58,138.36C455.07,142.65 454.13,148.16 452.83,150.58C451.54,153.01 449.18,152.82 447.82,152.92C446.46,153.01 445.30,154.14 444.67,151.17C444.03,148.19 444.03,142.54 444.00,135.06C443.97,127.57 444.22,112.90 444.50,106.25C444.78,99.60 445.12,97.73 445.67,95.17C446.21,92.60 447.01,91.24 447.77,90.85Z" fill="none" stroke="#2e2e2e" stroke-width="0.52"/>
<path d="M447.80,93.30C448.45,92.97 449.12,93.63 449.90,95.00C450.68,96.37 451.71,99.36 452.50,101.50C453.29,103.64 454.28,103.96 454.65,107.85C455.02,111.74 454.74,119.75 454.70,124.83C454.66,129.91 454.84,134.05 454.39,138.33C453.94,142.61 453.12,148.14 452.00,150.50C450.88,152.86 448.87,152.42 447.70,152.50C446.53,152.58 445.54,153.91 445.00,151.00C444.46,148.09 444.48,142.49 444.48,135.07C444.48,127.65 444.75,112.84 445.00,106.50C445.25,100.16 445.53,99.20 446.00,97.00C446.47,94.80 447.15,93.63 447.80,93.30Z" fill="none" stroke="#2e2e2e" stroke-width="0.52"/>
<path d="M447.83,95.75C448.38,95.47 448.93,96.03 449.58,97.17C450.24,98.31 451.09,100.80 451.75,102.58C452.41,104.37 453.25,104.17 453.54,107.88C453.84,111.58 453.57,119.73 453.52,124.80C453.46,129.87 453.60,134.03 453.21,138.30C452.81,142.57 452.10,148.12 451.17,150.42C450.23,152.71 448.56,152.01 447.58,152.08C446.61,152.15 445.77,153.67 445.33,150.83C444.90,148.00 444.93,142.43 444.96,135.08C444.98,127.73 445.27,112.79 445.50,106.75C445.73,100.71 445.94,100.67 446.33,98.83C446.72,97.00 447.29,96.03 447.83,95.75Z" fill="none" stroke="#2e2e2e" stroke-width="0.52"/>
<path d="M447.87,98.20C448.30,97.98 448.74,98.42 449.27,99.33C449.79,100.24 450.47,102.24 451.00,103.67C451.53,105.09 452.21,104.38 452.43,107.90C452.66,111.42 452.40,119.71 452.34,124.77C452.27,129.84 452.35,134.01 452.02,138.27C451.69,142.53 451.09,148.10 450.33,150.33C449.57,152.57 448.24,151.61 447.47,151.67C446.69,151.72 446.01,153.43 445.67,150.67C445.33,147.90 445.38,142.37 445.44,135.09C445.49,127.81 445.79,112.74 446.00,107.00C446.21,101.26 446.36,102.13 446.67,100.67C446.98,99.20 447.43,98.42 447.87,98.20Z" fill="none" stroke="#2e2e2e" stroke-width="0.52"/>
<path d="M447.90,100.65C448.22,100.48 448.56,100.82 448.95,101.50C449.34,102.18 449.85,103.68 450.25,104.75C450.65,105.82 451.17,104.59 451.32,107.92C451.48,111.26 451.23,119.69 451.15,124.75C451.07,129.80 451.11,134.00 450.84,138.25C450.56,142.50 450.08,148.08 449.50,150.25C448.92,152.42 447.93,151.21 447.35,151.25C446.77,151.29 446.24,153.19 446.00,150.50C445.76,147.81 445.83,142.31 445.92,135.10C446.00,127.89 446.32,112.68 446.50,107.25C446.68,101.82 446.77,103.60 447.00,102.50C447.23,101.40 447.57,100.82 447.90,100.65Z" fill="none" stroke="#2e2e2e" stroke-width="0.52"/>
<path d="M447.93,103.10C448.15,102.99 448.37,103.21 448.63,103.67C448.89,104.12 449.24,105.12 449.50,105.83C449.76,106.55 450.14,104.80 450.22,107.95C450.29,111.10 450.06,119.67 449.97,124.72C449.88,129.76 449.87,133.98 449.65,138.22C449.43,142.46 449.07,148.06 448.67,150.17C448.26,152.27 447.62,150.81 447.23,150.83C446.84,150.86 446.47,152.95 446.33,150.33C446.19,147.71 446.28,142.25 446.39,135.11C446.51,127.98 446.84,112.63 447.00,107.50C447.16,102.37 447.18,105.07 447.33,104.33C447.49,103.60 447.72,103.21 447.93,103.10Z" fill="none" stroke="#2e2e2e" stroke-width="0.52"/>
<path d="M447.97,105.55C448.07,105.49 448.19,105.61 448.32,105.83C448.45,106.06 448.62,106.56 448.75,106.92C448.88,107.27 449.10,105.01 449.11,107.97C449.11,110.94 448.89,119.65 448.79,124.69C448.68,129.73 448.63,133.96 448.47,138.19C448.31,142.42 448.06,148.05 447.83,150.08C447.61,152.12 447.31,150.40 447.12,150.42C446.92,150.43 446.71,152.72 446.67,150.17C446.63,147.62 446.74,142.20 446.87,135.13C447.01,128.06 447.37,112.58 447.50,107.75C447.63,102.92 447.59,106.53 447.67,106.17C447.74,105.80 447.86,105.61 447.97,105.55Z" fill="none" stroke="#2e2e2e" stroke-width="0.52"/>
<path d="M448.00,108.00L447.00,150.00" stroke="#666" stroke-width="1.6" stroke-linecap="round"/>
<path d="M115.90,119.20C118.90,119.03 121.57,124.22 124.00,127.00C126.43,129.78 130.00,133.07 130.50,135.90C131.00,138.73 129.08,141.90 127.00,144.00C124.92,146.10 121.00,148.17 118.00,148.50C115.00,148.83 111.38,147.75 109.00,146.00C106.62,144.25 104.20,141.00 103.70,138.00C103.20,135.00 103.97,131.13 106.00,128.00C108.03,124.87 112.90,119.37 115.90,119.20Z" fill="none" stroke="#262626" stroke-width="0.55"/>
<path d="M117.18,125.31C119.43,125.19 121.42,129.07 123.25,131.15C125.07,133.23 127.74,135.69 128.11,137.81C128.48,139.93 127.05,142.30 125.49,143.87C123.93,145.45 121.00,146.99 118.75,147.24C116.51,147.49 113.80,146.68 112.02,145.37C110.23,144.06 108.43,141.63 108.05,139.38C107.68,137.14 108.25,134.24 109.77,131.90C111.29,129.55 114.94,125.44 117.18,125.31Z" fill="none" stroke="#262626" stroke-width="0.55"/>
<path d="M117.84,128.46C119.70,128.36 121.35,131.57 122.86,133.29C124.36,135.01 126.57,137.04 126.88,138.80C127.19,140.55 126.00,142.51 124.71,143.81C123.42,145.11 121.00,146.39 119.14,146.59C117.29,146.80 115.05,146.13 113.57,145.05C112.10,143.96 110.60,141.95 110.30,140.10C109.99,138.24 110.46,135.85 111.72,133.91C112.98,131.97 115.99,128.57 117.84,128.46Z" fill="none" stroke="#262626" stroke-width="0.55"/>
<path d="M118.38,131.02C119.92,130.93 121.29,133.59 122.54,135.02C123.79,136.45 125.62,138.14 125.88,139.60C126.14,141.05 125.15,142.68 124.08,143.76C123.01,144.84 121.00,145.90 119.46,146.07C117.92,146.24 116.06,145.68 114.83,144.78C113.61,143.89 112.37,142.22 112.11,140.67C111.86,139.13 112.25,137.15 113.29,135.54C114.34,133.93 116.84,131.10 118.38,131.02Z" fill="none" stroke="#262626" stroke-width="0.55"/>
<path d="M118.85,133.24C120.11,133.17 121.24,135.36 122.27,136.53C123.29,137.71 124.80,139.10 125.01,140.29C125.22,141.49 124.41,142.82 123.53,143.71C122.65,144.60 121.00,145.47 119.73,145.61C118.47,145.75 116.94,145.29 115.93,144.56C114.93,143.82 113.91,142.44 113.70,141.18C113.49,139.91 113.81,138.28 114.67,136.96C115.53,135.63 117.58,133.31 118.85,133.24Z" fill="none" stroke="#262626" stroke-width="0.55"/>
<path d="M119.27,135.25C120.29,135.20 121.19,136.96 122.02,137.90C122.84,138.85 124.05,139.96 124.22,140.92C124.39,141.88 123.74,142.96 123.04,143.67C122.33,144.38 121.00,145.08 119.98,145.20C118.96,145.31 117.74,144.94 116.93,144.35C116.12,143.75 115.30,142.65 115.13,141.63C114.96,140.62 115.22,139.30 115.91,138.24C116.60,137.18 118.25,135.31 119.27,135.25Z" fill="none" stroke="#262626" stroke-width="0.55"/>
<path d="M119.66,137.11C120.45,137.07 121.15,138.43 121.79,139.16C122.43,139.89 123.37,140.76 123.50,141.50C123.63,142.25 123.13,143.08 122.58,143.63C122.03,144.18 121.00,144.73 120.21,144.81C119.42,144.90 118.47,144.62 117.84,144.16C117.22,143.70 116.58,142.84 116.45,142.05C116.32,141.26 116.52,140.25 117.06,139.42C117.59,138.60 118.87,137.15 119.66,137.11Z" fill="none" stroke="#262626" stroke-width="0.55"/>
<path d="M120.02,138.84C120.60,138.81 121.11,139.81 121.57,140.34C122.04,140.87 122.72,141.50 122.82,142.04C122.92,142.59 122.55,143.19 122.15,143.60C121.75,144.00 121.00,144.39 120.43,144.46C119.85,144.52 119.16,144.31 118.70,143.98C118.24,143.64 117.78,143.02 117.69,142.45C117.59,141.87 117.74,141.13 118.13,140.53C118.52,139.93 119.45,138.88 120.02,138.84Z" fill="none" stroke="#262626" stroke-width="0.55"/>
<path d="M120.37,140.48C120.74,140.46 121.07,141.11 121.37,141.45C121.67,141.80 122.12,142.20 122.18,142.56C122.24,142.91 122.00,143.30 121.74,143.56C121.49,143.82 121.00,144.08 120.63,144.12C120.26,144.16 119.81,144.03 119.51,143.81C119.21,143.59 118.91,143.19 118.85,142.82C118.79,142.44 118.89,141.96 119.14,141.58C119.39,141.19 119.99,140.50 120.37,140.48Z" fill="none" stroke="#262626" stroke-width="0.55"/>
<path d="M242.30,127.30C245.47,126.47 248.13,128.05 251.00,130.00C253.87,131.95 258.33,136.00 259.50,139.00C260.67,142.00 259.42,145.75 258.00,148.00C256.58,150.25 254.00,151.83 251.00,152.50C248.00,153.17 243.25,153.08 240.00,152.00C236.75,150.92 232.83,148.83 231.50,146.00C230.17,143.17 230.20,138.12 232.00,135.00C233.80,131.88 239.13,128.13 242.30,127.30Z" fill="none" stroke="#262626" stroke-width="0.55"/>
<path d="M244.35,131.62C246.77,130.98 248.81,132.19 251.00,133.68C253.19,135.17 256.60,138.27 257.49,140.56C258.38,142.85 257.43,145.71 256.35,147.43C255.27,149.15 253.29,150.36 251.00,150.87C248.71,151.38 245.08,151.32 242.60,150.49C240.11,149.66 237.12,148.07 236.10,145.91C235.09,143.74 235.11,139.88 236.49,137.50C237.86,135.12 241.94,132.26 244.35,131.62Z" fill="none" stroke="#262626" stroke-width="0.55"/>
<path d="M245.41,133.85C247.45,133.31 249.16,134.33 251.00,135.58C252.84,136.84 255.71,139.44 256.46,141.36C257.21,143.29 256.40,145.70 255.49,147.14C254.59,148.59 252.93,149.60 251.00,150.03C249.07,150.46 246.02,150.41 243.94,149.71C241.85,149.01 239.33,147.68 238.48,145.86C237.62,144.04 237.64,140.79 238.80,138.79C239.96,136.79 243.38,134.38 245.41,133.85Z" fill="none" stroke="#262626" stroke-width="0.55"/>
<path d="M246.27,135.65C247.99,135.20 249.44,136.06 251.00,137.12C252.56,138.18 254.99,140.38 255.62,142.01C256.25,143.64 255.57,145.68 254.80,146.90C254.03,148.13 252.63,148.99 251.00,149.35C249.37,149.71 246.79,149.67 245.02,149.08C243.25,148.49 241.13,147.36 240.40,145.82C239.68,144.28 239.69,141.53 240.67,139.84C241.65,138.14 244.55,136.11 246.27,135.65Z" fill="none" stroke="#262626" stroke-width="0.55"/>
<path d="M247.02,137.23C248.47,136.85 249.69,137.57 251.00,138.46C252.31,139.35 254.36,141.21 254.89,142.58C255.42,143.95 254.85,145.67 254.20,146.70C253.55,147.73 252.37,148.45 251.00,148.76C249.63,149.06 247.45,149.02 245.97,148.53C244.48,148.03 242.69,147.08 242.08,145.78C241.47,144.49 241.48,142.18 242.31,140.75C243.13,139.32 245.57,137.61 247.02,137.23Z" fill="none" stroke="#262626" stroke-width="0.55"/>
<path d="M247.70,138.65C248.90,138.33 249.91,138.93 251.00,139.67C252.09,140.42 253.79,141.95 254.23,143.09C254.67,144.23 254.20,145.66 253.66,146.51C253.12,147.37 252.14,147.97 251.00,148.22C249.86,148.47 248.06,148.44 246.82,148.03C245.59,147.62 244.10,146.83 243.59,145.75C243.09,144.68 243.10,142.76 243.78,141.57C244.47,140.39 246.49,138.97 247.70,138.65Z" fill="none" stroke="#262626" stroke-width="0.55"/>
<path d="M248.32,139.96C249.29,139.70 250.12,140.19 251.00,140.79C251.88,141.39 253.26,142.64 253.62,143.57C253.98,144.49 253.59,145.65 253.16,146.34C252.72,147.03 251.92,147.52 251.00,147.73C250.08,147.93 248.61,147.91 247.61,147.57C246.61,147.24 245.40,146.60 244.99,145.72C244.58,144.85 244.59,143.29 245.15,142.33C245.70,141.37 247.34,140.22 248.32,139.96Z" fill="none" stroke="#262626" stroke-width="0.55"/>
<path d="M248.90,141.19C249.67,140.99 250.31,141.37 251.00,141.84C251.69,142.31 252.77,143.29 253.05,144.01C253.33,144.73 253.03,145.64 252.69,146.18C252.35,146.72 251.72,147.10 251.00,147.26C250.28,147.42 249.13,147.40 248.35,147.14C247.56,146.88 246.62,146.38 246.30,145.70C245.98,145.01 245.99,143.80 246.42,143.04C246.85,142.29 248.14,141.39 248.90,141.19Z" fill="none" stroke="#262626" stroke-width="0.55"/>
<path d="M249.45,142.35C250.02,142.20 250.49,142.48 251.00,142.83C251.51,143.17 252.30,143.89 252.51,144.43C252.72,144.96 252.50,145.63 252.24,146.03C251.99,146.43 251.53,146.71 251.00,146.83C250.47,146.95 249.62,146.93 249.04,146.74C248.47,146.55 247.77,146.17 247.53,145.67C247.30,145.17 247.30,144.27 247.62,143.72C247.94,143.16 248.89,142.49 249.45,142.35Z" fill="none" stroke="#262626" stroke-width="0.55"/>
<path d="M249.98,143.45C250.35,143.35 250.66,143.54 251.00,143.77C251.34,143.99 251.86,144.47 252.00,144.82C252.14,145.18 251.99,145.62 251.82,145.88C251.66,146.15 251.35,146.33 251.00,146.41C250.65,146.49 250.09,146.48 249.71,146.35C249.32,146.23 248.86,145.98 248.71,145.65C248.55,145.31 248.55,144.72 248.77,144.35C248.98,143.99 249.60,143.55 249.98,143.45Z" fill="none" stroke="#262626" stroke-width="0.55"/>
<path d="M368.70,140.00C368.53,136.00 369.38,129.83 371.00,126.00C372.62,122.17 375.90,118.33 378.40,117.00C380.90,115.67 383.57,116.17 386.00,118.00C388.43,119.83 391.83,123.50 393.00,128.00C394.17,132.50 393.83,141.17 393.00,145.00C392.17,148.83 390.17,149.75 388.00,151.00C385.83,152.25 382.67,152.67 380.00,152.50C377.33,152.33 373.88,152.08 372.00,150.00C370.12,147.92 368.87,144.00 368.70,140.00Z" fill="none" stroke="#262626" stroke-width="0.55"/>
<path d="M369.57,140.28C369.41,136.65 370.19,131.06 371.65,127.58C373.12,124.11 376.10,120.63 378.36,119.42C380.63,118.21 383.05,118.66 385.26,120.33C387.46,121.99 390.55,125.32 391.60,129.40C392.66,133.48 392.36,141.34 391.60,144.81C390.85,148.29 389.03,149.12 387.07,150.26C385.10,151.39 382.23,151.77 379.81,151.62C377.40,151.46 374.27,151.24 372.56,149.35C370.85,147.46 369.72,143.91 369.57,140.28Z" fill="none" stroke="#262626" stroke-width="0.55"/>
<path d="M370.21,140.49C370.07,137.13 370.78,131.97 372.13,128.76C373.49,125.54 376.24,122.33 378.34,121.21C380.43,120.10 382.66,120.52 384.70,122.05C386.74,123.59 389.59,126.66 390.57,130.43C391.55,134.20 391.27,141.46 390.57,144.68C389.87,147.89 388.19,148.66 386.38,149.70C384.56,150.75 381.91,151.10 379.68,150.96C377.44,150.82 374.55,150.61 372.97,148.87C371.39,147.12 370.35,143.84 370.21,140.49Z" fill="none" stroke="#262626" stroke-width="0.55"/>
<path d="M370.78,140.67C370.66,137.57 371.32,132.79 372.57,129.81C373.82,126.84 376.37,123.86 378.31,122.83C380.25,121.79 382.32,122.18 384.21,123.60C386.09,125.03 388.73,127.87 389.64,131.36C390.54,134.85 390.28,141.58 389.64,144.55C388.99,147.53 387.44,148.24 385.76,149.21C384.08,150.18 381.62,150.50 379.55,150.37C377.48,150.24 374.81,150.05 373.35,148.43C371.88,146.81 370.91,143.78 370.78,140.67Z" fill="none" stroke="#262626" stroke-width="0.55"/>
<path d="M371.32,140.85C371.20,137.98 371.81,133.55 372.98,130.80C374.14,128.05 376.49,125.29 378.29,124.34C380.08,123.38 382.00,123.74 383.74,125.06C385.49,126.37 387.93,129.00 388.77,132.23C389.60,135.46 389.37,141.68 388.77,144.44C388.17,147.19 386.73,147.85 385.18,148.74C383.62,149.64 381.35,149.94 379.44,149.82C377.52,149.70 375.05,149.52 373.69,148.02C372.34,146.53 371.44,143.72 371.32,140.85Z" fill="none" stroke="#262626" stroke-width="0.55"/>
<path d="M371.84,141.01C371.73,138.36 372.29,134.28 373.36,131.74C374.43,129.19 376.61,126.65 378.27,125.77C379.92,124.89 381.69,125.22 383.30,126.43C384.91,127.65 387.17,130.08 387.94,133.06C388.71,136.04 388.49,141.79 387.94,144.33C387.39,146.87 386.06,147.47 384.63,148.30C383.19,149.13 381.09,149.41 379.33,149.30C377.56,149.18 375.27,149.02 374.02,147.64C372.78,146.26 371.95,143.66 371.84,141.01Z" fill="none" stroke="#262626" stroke-width="0.55"/>
<path d="M372.33,141.17C372.23,138.73 372.75,134.97 373.73,132.64C374.72,130.30 376.72,127.96 378.24,127.15C379.77,126.34 381.39,126.64 382.88,127.76C384.36,128.88 386.43,131.11 387.15,133.85C387.86,136.60 387.65,141.88 387.15,144.22C386.64,146.56 385.42,147.12 384.10,147.88C382.78,148.64 380.85,148.89 379.22,148.79C377.59,148.69 375.49,148.54 374.34,147.27C373.19,146.00 372.43,143.61 372.33,141.17Z" fill="none" stroke="#262626" stroke-width="0.55"/>
<path d="M372.81,141.32C372.71,139.09 373.19,135.65 374.09,133.51C374.99,131.37 376.83,129.23 378.22,128.48C379.62,127.74 381.11,128.02 382.47,129.04C383.83,130.06 385.73,132.11 386.38,134.62C387.03,137.14 386.84,141.98 386.38,144.12C385.91,146.26 384.79,146.77 383.58,147.47C382.37,148.17 380.61,148.40 379.12,148.31C377.63,148.21 375.70,148.07 374.65,146.91C373.60,145.75 372.90,143.56 372.81,141.32Z" fill="none" stroke="#262626" stroke-width="0.55"/>
<path d="M373.27,141.47C373.18,139.44 373.62,136.30 374.44,134.35C375.26,132.40 376.93,130.45 378.20,129.77C379.48,129.10 380.83,129.35 382.07,130.28C383.31,131.22 385.04,133.08 385.63,135.37C386.22,137.66 386.05,142.07 385.63,144.02C385.21,145.97 384.19,146.43 383.09,147.07C381.98,147.71 380.37,147.92 379.02,147.83C377.66,147.75 375.91,147.62 374.95,146.56C373.99,145.50 373.35,143.51 373.27,141.47Z" fill="none" stroke="#262626" stroke-width="0.55"/>
<path d="M373.72,141.62C373.64,139.78 374.04,136.94 374.78,135.18C375.52,133.41 377.03,131.65 378.18,131.04C379.33,130.42 380.56,130.65 381.68,131.50C382.80,132.34 384.36,134.03 384.90,136.10C385.44,138.17 385.29,142.16 384.90,143.92C384.52,145.68 383.60,146.11 382.60,146.68C381.60,147.26 380.15,147.45 378.92,147.37C377.69,147.29 376.11,147.18 375.24,146.22C374.37,145.26 373.80,143.46 373.72,141.62Z" fill="none" stroke="#262626" stroke-width="0.55"/>
<path d="M374.16,141.76C374.09,140.11 374.44,137.57 375.11,135.99C375.78,134.40 377.13,132.82 378.17,132.27C379.20,131.72 380.30,131.93 381.30,132.68C382.31,133.44 383.71,134.95 384.19,136.81C384.67,138.67 384.53,142.24 384.19,143.83C383.85,145.41 383.02,145.79 382.13,146.30C381.23,146.82 379.93,146.99 378.83,146.92C377.72,146.85 376.30,146.75 375.52,145.89C374.75,145.03 374.23,143.41 374.16,141.76Z" fill="none" stroke="#262626" stroke-width="0.55"/>
<path d="M374.60,141.90C374.53,140.44 374.85,138.18 375.44,136.78C376.03,135.37 377.23,133.97 378.15,133.48C379.06,132.99 380.04,133.18 380.93,133.85C381.82,134.52 383.06,135.86 383.49,137.51C383.92,139.16 383.80,142.33 383.49,143.73C383.19,145.14 382.45,145.47 381.66,145.93C380.87,146.39 379.71,146.54 378.73,146.48C377.76,146.42 376.49,146.33 375.80,145.56C375.11,144.80 374.66,143.37 374.60,141.90Z" fill="none" stroke="#262626" stroke-width="0.55"/>
<path d="M375.02,142.04C374.97,140.76 375.24,138.78 375.76,137.55C376.28,136.33 377.33,135.10 378.13,134.67C378.93,134.24 379.78,134.40 380.56,134.99C381.34,135.58 382.43,136.75 382.81,138.19C383.18,139.64 383.07,142.41 382.81,143.64C382.54,144.87 381.90,145.16 381.20,145.56C380.51,145.96 379.50,146.10 378.64,146.04C377.79,145.99 376.68,145.91 376.08,145.24C375.47,144.58 375.07,143.32 375.02,142.04Z" fill="none" stroke="#262626" stroke-width="0.55"/>
<path d="M375.44,142.17C375.39,141.07 375.63,139.37 376.07,138.32C376.52,137.26 377.42,136.21 378.11,135.84C378.80,135.47 379.53,135.61 380.20,136.11C380.87,136.62 381.81,137.63 382.13,138.87C382.45,140.11 382.36,142.49 382.13,143.55C381.90,144.61 381.35,144.86 380.75,145.20C380.16,145.55 379.29,145.66 378.55,145.62C377.82,145.57 376.87,145.50 376.35,144.93C375.83,144.35 375.48,143.28 375.44,142.17Z" fill="none" stroke="#262626" stroke-width="0.55"/>
<path d="M375.85,142.31C375.81,141.38 376.01,139.96 376.38,139.07C376.76,138.18 377.51,137.30 378.09,136.99C378.67,136.68 379.29,136.80 379.85,137.22C380.41,137.64 381.20,138.49 381.47,139.53C381.74,140.57 381.66,142.58 381.47,143.46C381.28,144.35 380.81,144.56 380.31,144.85C379.81,145.14 379.08,145.23 378.46,145.20C377.85,145.16 377.05,145.10 376.61,144.62C376.18,144.14 375.89,143.23 375.85,142.31Z" fill="none" stroke="#262626" stroke-width="0.55"/>
<path d="M376.26,142.44C376.22,141.69 376.38,140.53 376.69,139.81C376.99,139.09 377.61,138.37 378.08,138.12C378.54,137.87 379.04,137.97 379.50,138.31C379.96,138.65 380.59,139.34 380.81,140.19C381.03,141.03 380.97,142.66 380.81,143.38C380.66,144.09 380.28,144.27 379.88,144.50C379.47,144.74 378.88,144.81 378.38,144.78C377.87,144.75 377.23,144.70 376.87,144.31C376.52,143.92 376.29,143.19 376.26,142.44Z" fill="none" stroke="#262626" stroke-width="0.55"/>
<path d="M376.66,142.57C376.63,141.99 376.75,141.10 376.99,140.54C377.22,139.99 377.70,139.43 378.06,139.24C378.42,139.05 378.80,139.12 379.16,139.39C379.51,139.65 380.00,140.18 380.17,140.83C380.34,141.48 380.29,142.74 380.17,143.29C380.05,143.84 379.76,143.98 379.45,144.16C379.13,144.34 378.67,144.40 378.29,144.37C377.90,144.35 377.41,144.31 377.13,144.01C376.86,143.71 376.68,143.14 376.66,142.57Z" fill="none" stroke="#262626" stroke-width="0.55"/>
<path d="M377.05,142.69C377.03,142.29 377.12,141.66 377.29,141.27C377.45,140.87 377.79,140.48 378.04,140.35C378.30,140.21 378.57,140.26 378.82,140.45C379.06,140.64 379.41,141.01 379.53,141.47C379.65,141.93 379.62,142.81 379.53,143.20C379.45,143.60 379.24,143.69 379.02,143.82C378.80,143.94 378.48,143.99 378.20,143.97C377.93,143.95 377.58,143.93 377.39,143.71C377.20,143.50 377.07,143.10 377.05,142.69Z" fill="none" stroke="#262626" stroke-width="0.55"/>
<path d="M487.60,135.30C487.17,131.70 488.37,127.03 489.50,124.00C490.63,120.97 491.68,118.63 494.40,117.10C497.12,115.57 502.57,114.05 505.80,114.80C509.03,115.55 511.90,118.37 513.80,121.60C515.70,124.83 517.20,129.83 517.20,134.20C517.20,138.57 516.27,145.15 513.80,147.80C511.33,150.45 506.02,150.47 502.40,150.10C498.78,149.73 494.57,148.07 492.10,145.60C489.63,143.13 488.03,138.90 487.60,135.30Z" fill="none" stroke="#262626" stroke-width="0.55"/>
<path d="M490.53,135.48C490.17,132.01 491.25,127.36 492.24,124.55C493.23,121.73 494.12,119.92 496.47,118.59C498.81,117.27 503.52,115.96 506.31,116.61C509.10,117.26 511.58,119.56 513.21,122.48C514.84,125.40 516.12,130.00 516.10,134.13C516.07,138.26 515.22,144.76 513.07,147.28C510.93,149.80 506.36,149.58 503.24,149.26C500.11,148.95 496.46,147.68 494.35,145.38C492.23,143.08 490.88,138.96 490.53,135.48Z" fill="none" stroke="#262626" stroke-width="0.55"/>
<path d="M492.69,135.62C492.40,132.24 493.39,127.61 494.27,124.95C495.15,122.30 495.93,120.87 498.00,119.70C500.07,118.53 504.22,117.38 506.68,117.95C509.14,118.52 511.34,120.44 512.77,123.13C514.21,125.81 515.32,130.12 515.28,134.08C515.24,138.04 514.44,144.47 512.54,146.89C510.63,149.32 506.61,148.92 503.85,148.65C501.10,148.37 497.87,147.39 496.01,145.22C494.15,143.05 492.98,139.00 492.69,135.62Z" fill="none" stroke="#262626" stroke-width="0.55"/>
<path d="M494.65,135.74C494.41,132.45 495.31,127.83 496.10,125.32C496.89,122.81 497.56,121.72 499.38,120.70C501.20,119.67 504.85,118.65 507.02,119.15C509.19,119.66 511.13,121.23 512.38,123.71C513.64,126.19 514.60,130.23 514.54,134.03C514.49,137.84 513.74,144.20 512.05,146.55C510.36,148.89 506.84,148.33 504.41,148.09C501.99,147.84 499.14,147.13 497.51,145.07C495.88,143.01 494.88,139.03 494.65,135.74Z" fill="none" stroke="#262626" stroke-width="0.55"/>
<path d="M496.47,135.85C496.29,132.64 497.10,128.03 497.80,125.66C498.50,123.29 499.08,122.52 500.67,121.63C502.26,120.73 505.45,119.84 507.34,120.28C509.23,120.72 510.93,121.97 512.01,124.26C513.10,126.54 513.92,130.33 513.85,133.99C513.79,137.65 513.09,143.96 511.60,146.22C510.11,148.48 507.05,147.78 504.93,147.57C502.82,147.35 500.32,146.89 498.91,144.94C497.50,142.98 496.65,139.07 496.47,135.85Z" fill="none" stroke="#262626" stroke-width="0.55"/>
<path d="M498.20,135.96C498.07,132.83 498.81,128.23 499.43,125.99C500.04,123.74 500.53,123.28 501.90,122.51C503.26,121.74 506.01,120.97 507.64,121.35C509.26,121.73 510.74,122.68 511.67,124.78C512.59,126.88 513.28,130.43 513.20,133.95C513.12,137.47 512.46,143.73 511.17,145.91C509.87,148.10 507.25,147.26 505.43,147.07C503.61,146.89 501.45,146.66 500.24,144.81C499.04,142.95 498.34,139.10 498.20,135.96Z" fill="none" stroke="#262626" stroke-width="0.55"/>
<path d="M499.87,136.07C499.78,133.00 500.45,128.42 500.99,126.30C501.52,124.18 501.92,124.01 503.07,123.36C504.23,122.71 506.55,122.06 507.93,122.38C509.30,122.70 510.56,123.35 511.33,125.28C512.10,127.20 512.67,130.52 512.57,133.91C512.48,137.30 511.87,143.50 510.76,145.62C509.64,147.73 507.44,146.75 505.90,146.60C504.36,146.44 502.53,146.44 501.52,144.68C500.51,142.93 499.96,139.13 499.87,136.07Z" fill="none" stroke="#262626" stroke-width="0.55"/>
<path d="M501.48,136.17C501.43,133.17 502.04,128.60 502.49,126.60C502.95,124.60 503.26,124.72 504.21,124.18C505.16,123.64 507.07,123.11 508.20,123.38C509.34,123.64 510.38,124.01 511.01,125.76C511.63,127.51 512.07,130.61 511.97,133.87C511.86,137.13 511.29,143.29 510.36,145.33C509.42,147.37 507.63,146.27 506.36,146.14C505.10,146.01 503.57,146.22 502.76,144.56C501.94,142.90 501.52,139.16 501.48,136.17Z" fill="none" stroke="#262626" stroke-width="0.55"/>
<path d="M503.04,136.27C503.04,133.34 503.58,128.77 503.96,126.89C504.34,125.01 504.56,125.41 505.32,124.98C506.07,124.56 507.58,124.14 508.48,124.34C509.37,124.55 510.21,124.64 510.69,126.23C511.17,127.81 511.50,130.70 511.38,133.84C511.26,136.97 510.73,143.08 509.97,145.05C509.21,147.03 507.81,145.79 506.81,145.69C505.81,145.59 504.58,146.01 503.96,144.44C503.33,142.87 503.04,139.19 503.04,136.27Z" fill="none" stroke="#262626" stroke-width="0.55"/>
<path d="M504.57,136.36C504.61,133.50 505.08,128.94 505.39,127.18C505.69,125.41 505.84,126.07 506.40,125.76C506.95,125.44 508.07,125.13 508.74,125.29C509.40,125.44 510.04,125.27 510.38,126.68C510.73,128.10 510.93,130.78 510.80,133.80C510.67,136.82 510.18,142.87 509.59,144.78C509.00,146.69 507.99,145.33 507.25,145.25C506.50,145.18 505.57,145.81 505.13,144.33C504.68,142.85 504.53,139.22 504.57,136.36Z" fill="none" stroke="#262626" stroke-width="0.55"/>
<path d="M506.06,136.45C506.15,133.66 506.55,129.11 506.79,127.46C507.02,125.80 507.08,126.73 507.45,126.52C507.82,126.31 508.56,126.11 509.00,126.21C509.44,126.31 509.88,125.87 510.08,127.13C510.29,128.39 510.38,130.87 510.24,133.76C510.09,136.66 509.65,142.67 509.22,144.52C508.79,146.36 508.16,144.88 507.67,144.83C507.18,144.78 506.54,145.61 506.27,144.22C506.01,142.82 505.98,139.25 506.06,136.45Z" fill="none" stroke="#262626" stroke-width="0.55"/>
<path d="M507.52,136.55C507.65,133.82 508.00,129.28 508.16,127.73C508.32,126.18 508.30,127.37 508.48,127.27C508.67,127.16 509.03,127.06 509.25,127.11C509.47,127.16 509.72,126.47 509.79,127.57C509.86,128.67 509.84,130.95 509.69,133.73C509.53,136.51 509.12,142.48 508.86,144.26C508.59,146.04 508.33,144.43 508.09,144.41C507.85,144.39 507.49,145.42 507.40,144.11C507.30,142.80 507.40,139.27 507.52,136.55Z" fill="none" stroke="#262626" stroke-width="0.55"/>
<path d="M384.00,118.00C382.58,114.17 383.55,100.83 384.50,95.00C385.45,89.17 388.15,83.50 389.70,83.00C391.25,82.50 393.25,86.17 393.80,92.00C394.35,97.83 394.63,113.67 393.00,118.00C391.37,122.33 385.42,121.83 384.00,118.00Z" fill="none" stroke="#555" stroke-width="0.45"/>
<path d="M385.03,118.00C383.88,114.89 384.67,104.06 385.44,99.32C386.21,94.59 388.40,89.99 389.66,89.58C390.92,89.17 392.55,92.15 392.99,96.89C393.44,101.62 393.67,114.48 392.34,118.00C391.02,121.52 386.18,121.11 385.03,118.00Z" fill="none" stroke="#555" stroke-width="0.45"/>
<path d="M386.07,118.00C385.18,115.61 385.79,107.29 386.38,103.65C386.97,100.01 388.66,96.47 389.62,96.16C390.59,95.85 391.84,98.14 392.18,101.78C392.53,105.42 392.70,115.30 391.68,118.00C390.66,120.70 386.95,120.39 386.07,118.00Z" fill="none" stroke="#555" stroke-width="0.45"/>
<path d="M387.10,118.00C386.48,116.33 386.91,110.52 387.32,107.97C387.73,105.43 388.91,102.96 389.59,102.74C390.26,102.52 391.13,104.12 391.37,106.66C391.61,109.21 391.74,116.11 391.03,118.00C390.31,119.89 387.72,119.67 387.10,118.00Z" fill="none" stroke="#555" stroke-width="0.45"/>
<path d="M388.14,118.00C387.78,117.05 388.02,113.74 388.26,112.30C388.50,110.85 389.17,109.44 389.55,109.32C389.93,109.20 390.43,110.11 390.57,111.55C390.70,113.00 390.77,116.93 390.37,118.00C389.96,119.07 388.49,118.95 388.14,118.00Z" fill="none" stroke="#555" stroke-width="0.45"/>
<path d="M356.50,140.00C356.33,138.42 357.75,135.67 359.00,135.00C360.25,134.33 363.00,134.83 364.00,136.00C365.00,137.17 365.67,140.58 365.00,142.00C364.33,143.42 361.42,144.83 360.00,144.50C358.58,144.17 356.67,141.58 356.50,140.00Z" fill="none" stroke="#555" stroke-width="0.45"/>
<path d="M357.75,140.00C357.64,138.91 358.61,137.02 359.47,136.57C360.33,136.11 362.22,136.45 362.90,137.25C363.59,138.05 364.05,140.40 363.59,141.37C363.13,142.35 361.13,143.32 360.16,143.09C359.18,142.86 357.87,141.09 357.75,140.00Z" fill="none" stroke="#555" stroke-width="0.45"/>
<path d="M359.01,140.00C358.94,139.41 359.47,138.38 359.94,138.13C360.41,137.88 361.43,138.07 361.81,138.51C362.18,138.94 362.43,140.22 362.18,140.75C361.93,141.28 360.84,141.80 360.31,141.68C359.78,141.56 359.07,140.59 359.01,140.00Z" fill="none" stroke="#555" stroke-width="0.45"/>
<ellipse cx="318.5" cy="148" rx="3.6" ry="6" fill="#333" fill-opacity="0.6"/>
<ellipse cx="61.0" cy="145.0" rx="2.3" ry="5.5" fill="#666" stroke="#222" stroke-width="0.9"/>
<ellipse cx="189.5" cy="145.5" rx="2.3" ry="5.5" fill="#666" stroke="#222" stroke-width="0.9"/>
<ellipse cx="447.5" cy="144.5" rx="2.3" ry="5.5" fill="#666" stroke="#222" stroke-width="0.9"/>
<ellipse cx="378.0" cy="143.0" rx="3.0" ry="5.0" fill="#222" fill-opacity="0.45"/>
<ellipse cx="509.0" cy="137.0" rx="3.0" ry="7.0" fill="#222" fill-opacity="0.45"/>
<ellipse cx="121.0" cy="143.0" rx="3.0" ry="3.0" fill="#222" fill-opacity="0.45"/>
<ellipse cx="251.0" cy="145.5" rx="3.0" ry="3.0" fill="#222" fill-opacity="0.45"/>
<path d="M64 78.5h1M62 59.5h1M61 63.5h1M63 62.5h1M65 76.5h1M69 77.5h1M64 69.5h1M59 84.5h1M62 76.5h1M63 78.5h1M55 57.5h1M64 91.5h1M54 66.5h1M62 67.5h1M60 68.5h1M65 72.5h1M62 61.5h1M64 86.5h1M64 68.5h1M57 75.5h1M63 69.5h1M53 65.5h1M57 63.5h1M62 62.5h1M60 82.5h1M58 70.5h1M64 65.5h1M56 73.5h1M64 56.5h1M60 67.5h1M66 57.5h1M60 58.5h1M57 71.5h1M60 69.5h1M58 57.5h1M64 83.5h1M61 68.5h1M66 75.5h1M62 78.5h1M58 63.5h1M61 61.5h1M61 73.5h1M63 75.5h1M56 69.5h1M62 79.5h1M65 68.5h1M60 61.5h1M59 64.5h1M56 68.5h1M65 84.5h1M62 70.5h1M62 77.5h1M63 74.5h1M60 68.5h1M69 79.5h1M58 77.5h1M58 73.5h1M59 73.5h1M59 69.5h1M63 76.5h1" stroke="#8a8a8a" stroke-width="1" fill="none"/>
<path d="M72 119.5h1M80 116.5h1M69 130.5h1M74 137.5h1M72 151.5h1M75 130.5h1M78 141.5h1M71 140.5h1M72 147.5h1M72 131.5h1M71 131.5h1M78 146.5h1M72 100.5h1M76 112.5h1M71 137.5h1M70 140.5h1M77 125.5h1M71 121.5h1M78 128.5h1M77 126.5h1M74 128.5h1M74 131.5h1M76 147.5h1M73 108.5h1M72 108.5h1M67 125.5h1M71 158.5h1M72 99.5h1M75 125.5h1M76 128.5h1M79 112.5h1M74 117.5h1M72 95.5h1M75 95.5h1M75 133.5h1M75 96.5h1M76 112.5h1M75 118.5h1M80 115.5h1M73 130.5h1M69 116.5h1M73 130.5h1M72 158.5h1M79 147.5h1M73 137.5h1M80 157.5h1M76 115.5h1M77 139.5h1M74 123.5h1M70 98.5h1M70 130.5h1M74 112.5h1M73 151.5h1M70 117.5h1M72 151.5h1M76 113.5h1M75 129.5h1M75 129.5h1M75 136.5h1M71 139.5h1M71 101.5h1M72 109.5h1M72 105.5h1M76 141.5h1M72 149.5h1M73 111.5h1M70 132.5h1M73 129.5h1M82 142.5h1M73 105.5h1M72 112.5h1M72 82.5h1M74 105.5h1M80 120.5h1M76 131.5h1M71 129.5h1M72 118.5h1M73 89.5h1" stroke="#8a8a8a" stroke-width="1" fill="none"/>
<path d="M93 148.5h1M93 153.5h1M80 119.5h1M79 115.5h1M96 135.5h1M79 115.5h1M96 110.5h1M82 138.5h1M97 152.5h1M82 108.5h1M78 137.5h1M88 150.5h1M93 148.5h1M78 111.5h1M87 137.5h1M80 152.5h1M73 128.5h1M79 137.5h1M91 124.5h1M89 151.5h1M81 116.5h1M78 123.5h1M78 98.5h1M92 108.5h1M67 137.5h1M76 137.5h1M95 111.5h1M76 147.5h1M72 107.5h1M79 115.5h1M96 126.5h1M71 153.5h1M91 126.5h1M101 144.5h1M92 118.5h1M86 155.5h1M92 125.5h1M75 138.5h1M88 147.5h1M92 145.5h1M87 136.5h1M83 136.5h1M90 136.5h1M80 137.5h1M85 112.5h1M87 140.5h1M83 156.5h1M89 148.5h1M92 100.5h1M72 137.5h1M83 120.5h1M91 135.5h1M88 113.5h1M97 92.5h1M94 120.5h1M93 130.5h1M89 154.5h1M81 93.5h1M81 88.5h1M81 115.5h1M90 118.5h1M89 103.5h1M88 125.5h1M92 144.5h1M79 118.5h1M101 100.5h1M84 137.5h1M94 120.5h1M87 139.5h1M97 131.5h1M85 151.5h1M95 121.5h1M89 128.5h1M87 101.5h1M88 128.5h1M76 129.5h1M79 118.5h1M95 111.5h1M96 124.5h1M97 142.5h1M97 147.5h1M83 120.5h1M88 135.5h1M91 141.5h1M79 132.5h1M92 127.5h1M81 131.5h1M96 146.5h1M82 146.5h1M85 123.5h1M98 138.5h1M88 129.5h1M62 146.5h1M99 85.5h1M65 121.5h1M95 136.5h1M91 116.5h1M78 136.5h1M76 151.5h1M92 127.5h1M80 157.5h1M86 98.5h1M79 95.5h1M93 110.5h1M86 137.5h1M97 104.5h1M91 121.5h1M85 90.5h1M87 133.5h1M89 140.5h1M80 101.5h1M92 106.5h1M108 123.5h1M70 144.5h1M85 117.5h1M82 124.5h1M75 148.5h1M96 131.5h1M81 135.5h1M95 138.5h1M85 136.5h1M77 144.5h1M99 144.5h1M94 139.5h1M76 154.5h1M97 112.5h1M85 144.5h1M91 111.5h1M78 109.5h1M89 145.5h1M93 125.5h1M89 121.5h1M96 131.5h1M84 152.5h1M87 125.5h1M79 130.5h1M99 111.5h1M96 111.5h1M80 149.5h1M79 125.5h1M84 153.5h1M91 122.5h1M84 137.5h1M81 142.5h1M96 143.5h1M78 155.5h1M87 157.5h1M91 128.5h1M81 138.5h1M95 156.5h1M79 161.5h1M82 126.5h1M104 128.5h1M86 106.5h1M87 88.5h1M88 141.5h1M87 112.5h1M102 126.5h1M82 128.5h1M78 115.5h1M74 115.5h1M70 135.5h1M83 124.5h1M89 120.5h1M102 108.5h1M88 140.5h1M84 112.5h1M77 150.5h1M84 137.5h1M71 119.5h1M90 127.5h1M86 114.5h1M94 126.5h1M92 139.5h1M82 128.5h1M87 114.5h1M86 117.5h1M75 131.5h1M88 143.5h1M91 115.5h1M80 149.5h1M81 98.5h1M72 116.5h1M101 105.5h1M97 117.5h1M84 114.5h1M101 153.5h1M80 137.5h1M74 121.5h1M88 122.5h1M91 90.5h1M105 124.5h1M71 114.5h1M73 112.5h1M94 128.5h1M96 149.5h1M103 116.5h1M78 134.5h1M98 153.5h1M86 138.5h1M101 153.5h1M74 145.5h1M95 138.5h1M86 100.5h1M90 148.5h1M93 95.5h1M95 142.5h1M95 114.5h1M88 116.5h1M85 130.5h1M90 109.5h1M87 134.5h1M86 123.5h1M84 122.5h1M99 133.5h1M78 113.5h1M83 103.5h1M90 145.5h1M73 111.5h1M81 114.5h1M93 100.5h1M87 140.5h1M103 131.5h1M89 151.5h1M75 125.5h1M97 120.5h1M90 145.5h1M90 145.5h1M86 105.5h1M75 105.5h1M93 129.5h1M83 106.5h1M111 138.5h1M77 145.5h1M88 147.5h1M102 160.5h1M89 131.5h1M85 107.5h1M84 112.5h1M82 91.5h1M92 118.5h1M87 118.5h1M86 112.5h1M78 125.5h1M84 110.5h1M79 135.5h1M97 108.5h1M87 147.5h1M97 113.5h1M77 115.5h1M90 151.5h1M86 111.5h1" stroke="#8a8a8a" stroke-width="1" fill="none"/>
<path d="M122 130.5h1M110 116.5h1M113 135.5h1M109 128.5h1M99 146.5h1M116 128.5h1M118 135.5h1M113 130.5h1M113 136.5h1M120 140.5h1M116 141.5h1M111 116.5h1M99 140.5h1M97 123.5h1M113 141.5h1M93 120.5h1M105 124.5h1M112 140.5h1M118 160.5h1M127 118.5h1M99 129.5h1M110 142.5h1M118 140.5h1M112 136.5h1M116 129.5h1M118 117.5h1M121 138.5h1M139 131.5h1M98 125.5h1M111 123.5h1M101 127.5h1M99 143.5h1M98 137.5h1M121 136.5h1M125 135.5h1M120 123.5h1M101 126.5h1M114 141.5h1M101 125.5h1M105 139.5h1M107 143.5h1M109 124.5h1M106 114.5h1M88 125.5h1M105 152.5h1M116 140.5h1M113 129.5h1M99 118.5h1M125 126.5h1M108 139.5h1M110 129.5h1M131 135.5h1M109 127.5h1M106 135.5h1M118 125.5h1M110 115.5h1M110 138.5h1M103 130.5h1M106 127.5h1M115 121.5h1M123 145.5h1M123 122.5h1M95 126.5h1M114 131.5h1M111 132.5h1M109 138.5h1M99 135.5h1M117 126.5h1M146 134.5h1M115 119.5h1M115 134.5h1M123 127.5h1M123 118.5h1M113 113.5h1M112 139.5h1M98 138.5h1M117 115.5h1M104 126.5h1M117 145.5h1M106 122.5h1M109 104.5h1M117 130.5h1M110 145.5h1M110 124.5h1M122 127.5h1M113 128.5h1M112 134.5h1M115 120.5h1M124 128.5h1M109 140.5h1M108 136.5h1M123 141.5h1M109 142.5h1M111 124.5h1M105 135.5h1M107 145.5h1M120 137.5h1M123 141.5h1M106 156.5h1M99 133.5h1M96 129.5h1M109 118.5h1M117 133.5h1M113 121.5h1M125 129.5h1M119 117.5h1M125 128.5h1M121 127.5h1M112 136.5h1M112 153.5h1M111 129.5h1M122 133.5h1M104 129.5h1M119 132.5h1M123 120.5h1M115 124.5h1M110 126.5h1M105 155.5h1M114 140.5h1M116 151.5h1M108 119.5h1M118 123.5h1M126 123.5h1M110 138.5h1M103 129.5h1M116 117.5h1M112 118.5h1M111 148.5h1M125 130.5h1M111 124.5h1" stroke="#8a8a8a" stroke-width="1" fill="none"/>
<path d="M145 79.5h1M118 76.5h1M110 110.5h1M120 85.5h1M133 117.5h1M133 103.5h1M111 108.5h1M131 71.5h1M111 96.5h1M106 72.5h1M107 97.5h1M110 85.5h1M127 106.5h1M134 100.5h1M127 59.5h1" stroke="#8a8a8a" stroke-width="1" fill="none"/>
<path d="M194 68.5h1M192 66.5h1M187 72.5h1M189 71.5h1M187 75.5h1M198 75.5h1M192 69.5h1M187 64.5h1M186 76.5h1M189 66.5h1M187 79.5h1M200 71.5h1M191 63.5h1M200 59.5h1M192 68.5h1M188 75.5h1M183 76.5h1M187 72.5h1M192 75.5h1M195 54.5h1M191 71.5h1M190 76.5h1M188 73.5h1M186 72.5h1M187 64.5h1M189 71.5h1M194 69.5h1M193 66.5h1M201 85.5h1M188 72.5h1M199 67.5h1M198 84.5h1M192 75.5h1M195 85.5h1M186 65.5h1M189 65.5h1M192 73.5h1M191 82.5h1M192 73.5h1M191 73.5h1M193 73.5h1M193 76.5h1M194 62.5h1M192 72.5h1M188 79.5h1M186 74.5h1M189 60.5h1M191 78.5h1M195 71.5h1M198 62.5h1M193 61.5h1M190 65.5h1M192 79.5h1M191 76.5h1M192 75.5h1M193 72.5h1M190 69.5h1M189 59.5h1M193 79.5h1M183 60.5h1M189 69.5h1M193 73.5h1M195 83.5h1M192 68.5h1M192 54.5h1M191 81.5h1M191 80.5h1M191 66.5h1M185 71.5h1M197 56.5h1" stroke="#8a8a8a" stroke-width="1" fill="none"/>
<path d="M204 113.5h1M207 117.5h1M200 139.5h1M204 135.5h1M202 131.5h1M202 108.5h1M202 134.5h1M204 153.5h1M206 115.5h1M204 110.5h1M204 111.5h1M201 117.5h1M207 102.5h1M205 130.5h1M201 128.5h1M204 123.5h1M208 128.5h1M209 112.5h1M202 97.5h1M200 127.5h1M204 118.5h1M202 98.5h1M206 150.5h1M204 105.5h1M197 100.5h1M202 134.5h1M201 88.5h1M206 150.5h1M200 142.5h1M196 131.5h1M197 103.5h1M205 122.5h1M208 113.5h1M206 143.5h1M203 130.5h1M206 131.5h1M204 120.5h1M198 106.5h1M200 146.5h1M199 108.5h1M195 130.5h1M202 132.5h1M205 134.5h1M209 153.5h1M207 150.5h1M204 104.5h1M205 128.5h1M206 117.5h1M204 115.5h1M206 129.5h1M202 134.5h1M201 106.5h1M201 119.5h1M201 132.5h1M201 119.5h1M199 87.5h1M202 146.5h1M208 144.5h1M200 120.5h1M202 121.5h1M204 123.5h1M205 144.5h1M208 112.5h1M206 115.5h1M200 117.5h1M204 132.5h1M203 131.5h1M205 125.5h1M206 105.5h1M203 101.5h1M197 129.5h1M202 136.5h1M203 131.5h1M206 126.5h1M202 116.5h1M201 127.5h1M204 111.5h1M199 134.5h1" stroke="#8a8a8a" stroke-width="1" fill="none"/>
<path d="M204 132.5h1M206 111.5h1M226 113.5h1M218 140.5h1M208 134.5h1M228 123.5h1M208 133.5h1M217 152.5h1M220 125.5h1M208 134.5h1M211 121.5h1M227 140.5h1M211 152.5h1M224 117.5h1M228 113.5h1M221 134.5h1M211 113.5h1M230 130.5h1M210 115.5h1M211 128.5h1M211 127.5h1M206 95.5h1M217 143.5h1M201 114.5h1M219 144.5h1M212 123.5h1M228 141.5h1M208 114.5h1M212 127.5h1M206 132.5h1M211 129.5h1M224 138.5h1M212 106.5h1M223 123.5h1M210 139.5h1M204 129.5h1M218 124.5h1M203 116.5h1M215 111.5h1M222 136.5h1M204 113.5h1M217 144.5h1M214 134.5h1M223 127.5h1M196 146.5h1M217 116.5h1M229 118.5h1M208 122.5h1M226 98.5h1M212 116.5h1M224 112.5h1M229 116.5h1M209 96.5h1M205 138.5h1M215 111.5h1M226 153.5h1M207 125.5h1M209 126.5h1M219 118.5h1M216 153.5h1M209 131.5h1M223 139.5h1M207 141.5h1M212 119.5h1M218 132.5h1M198 117.5h1M214 90.5h1M219 139.5h1M214 113.5h1M202 145.5h1M232 149.5h1M220 150.5h1M210 111.5h1M214 116.5h1M217 154.5h1M218 127.5h1M234 161.5h1M219 132.5h1M208 129.5h1M213 111.5h1M217 122.5h1M216 140.5h1M225 68.5h1M211 138.5h1M220 134.5h1M235 125.5h1M220 125.5h1M238 154.5h1M213 95.5h1M228 108.5h1M232 132.5h1M195 109.5h1M218 146.5h1M225 150.5h1M202 111.5h1M202 119.5h1M214 134.5h1M218 132.5h1M228 134.5h1M212 79.5h1M217 118.5h1M219 144.5h1M213 137.5h1M217 102.5h1M206 140.5h1M207 117.5h1M207 114.5h1M222 128.5h1M219 134.5h1M208 118.5h1M225 120.5h1M228 112.5h1M212 139.5h1M211 114.5h1M217 134.5h1M226 88.5h1M215 121.5h1M227 131.5h1M201 153.5h1M204 137.5h1M218 131.5h1M216 106.5h1M221 119.5h1M207 123.5h1M217 106.5h1M218 121.5h1M211 116.5h1M217 113.5h1M216 132.5h1M211 129.5h1M216 94.5h1M209 155.5h1M211 110.5h1M234 153.5h1M214 136.5h1M218 87.5h1M220 106.5h1M203 134.5h1M217 113.5h1M224 128.5h1M213 119.5h1M216 149.5h1M223 150.5h1M218 143.5h1M228 109.5h1M228 119.5h1M212 143.5h1M217 108.5h1M232 112.5h1M211 133.5h1M227 109.5h1M204 126.5h1M211 112.5h1M213 146.5h1M228 108.5h1M231 108.5h1M208 130.5h1M216 129.5h1M217 126.5h1M214 124.5h1M214 136.5h1M207 129.5h1M221 117.5h1M220 93.5h1M222 124.5h1M221 124.5h1M200 146.5h1M210 125.5h1M210 138.5h1M226 116.5h1M227 125.5h1M221 129.5h1M211 134.5h1M206 133.5h1M223 113.5h1M208 113.5h1M227 107.5h1M212 148.5h1M214 133.5h1M215 143.5h1M234 97.5h1M221 140.5h1M214 122.5h1M208 135.5h1M204 94.5h1M218 119.5h1M219 147.5h1M203 129.5h1M213 100.5h1M216 144.5h1M216 109.5h1M225 112.5h1M210 127.5h1M217 143.5h1M205 156.5h1M213 108.5h1M210 97.5h1M202 150.5h1M224 133.5h1M218 120.5h1M207 125.5h1M213 134.5h1M220 85.5h1M232 125.5h1M206 122.5h1M217 128.5h1M225 132.5h1M218 106.5h1M225 137.5h1M203 121.5h1M226 134.5h1M207 140.5h1M216 115.5h1M217 138.5h1M217 102.5h1M212 150.5h1M218 102.5h1M212 147.5h1M213 134.5h1M212 119.5h1M210 109.5h1M211 142.5h1M218 110.5h1M229 104.5h1M206 109.5h1M209 113.5h1M206 143.5h1M215 121.5h1M216 94.5h1M227 129.5h1M225 125.5h1M226 132.5h1M213 115.5h1M207 142.5h1M206 117.5h1M208 115.5h1M216 118.5h1M223 130.5h1M221 130.5h1M208 133.5h1M215 127.5h1M207 90.5h1M226 157.5h1M213 131.5h1M198 123.5h1M221 119.5h1M205 117.5h1M220 138.5h1M221 152.5h1M221 128.5h1M229 134.5h1M225 124.5h1M230 144.5h1M211 128.5h1M218 135.5h1M216 150.5h1M210 120.5h1" stroke="#8a8a8a" stroke-width="1" fill="none"/>
<path d="M260 137.5h1M242 132.5h1M236 131.5h1M255 122.5h1M239 145.5h1M235 134.5h1M234 137.5h1M221 138.5h1M242 131.5h1M228 152.5h1M243 121.5h1M234 123.5h1M247 141.5h1M241 139.5h1M242 131.5h1M249 146.5h1M249 129.5h1M253 120.5h1M254 150.5h1M248 142.5h1M246 136.5h1M234 119.5h1M249 139.5h1M233 126.5h1M251 144.5h1M259 146.5h1M236 122.5h1M248 130.5h1M246 146.5h1M259 121.5h1M246 122.5h1M232 146.5h1M230 120.5h1M243 123.5h1M239 129.5h1M239 148.5h1M242 131.5h1M245 143.5h1M235 130.5h1M227 149.5h1M235 140.5h1M250 130.5h1M237 133.5h1M252 120.5h1M243 146.5h1M243 151.5h1M235 134.5h1M253 132.5h1M221 124.5h1M240 143.5h1M250 129.5h1M250 124.5h1M254 130.5h1M250 127.5h1M244 142.5h1M230 134.5h1M234 136.5h1M241 144.5h1M238 122.5h1M249 135.5h1M238 124.5h1M239 145.5h1M253 136.5h1M250 130.5h1M250 145.5h1M236 129.5h1M243 134.5h1M256 143.5h1M227 143.5h1M257 131.5h1M240 137.5h1M247 131.5h1M248 141.5h1M242 141.5h1M244 136.5h1M263 137.5h1M250 139.5h1M235 124.5h1M259 117.5h1M235 128.5h1M237 127.5h1M247 143.5h1M236 133.5h1M234 136.5h1M263 144.5h1M231 131.5h1M249 137.5h1M260 139.5h1M236 125.5h1M239 124.5h1M213 130.5h1M253 142.5h1M237 137.5h1M248 144.5h1M257 142.5h1M236 137.5h1M234 137.5h1M235 136.5h1M237 137.5h1M243 122.5h1M237 140.5h1M230 154.5h1M232 115.5h1M254 124.5h1M236 128.5h1M239 131.5h1M229 136.5h1M232 133.5h1M236 124.5h1M232 129.5h1M234 141.5h1M255 134.5h1M245 147.5h1M253 138.5h1M239 143.5h1M251 121.5h1M249 123.5h1M262 115.5h1M247 129.5h1M248 139.5h1M236 131.5h1M253 133.5h1M247 133.5h1M253 135.5h1M245 127.5h1M247 133.5h1M270 121.5h1M240 120.5h1M239 128.5h1M256 134.5h1" stroke="#8a8a8a" stroke-width="1" fill="none"/>
<path d="M250 97.5h1M245 79.5h1M244 83.5h1M269 87.5h1M248 95.5h1M264 60.5h1M246 96.5h1M243 91.5h1M246 104.5h1M264 70.5h1M265 78.5h1M253 128.5h1M259 60.5h1" stroke="#8a8a8a" stroke-width="1" fill="none"/>
<path d="M327 73.5h1M345 70.5h1M314 62.5h1M346 82.5h1M334 80.5h1M326 87.5h1M346 68.5h1M331 78.5h1M331 80.5h1M322 73.5h1M337 78.5h1M343 64.5h1M347 84.5h1M324 76.5h1M337 61.5h1M324 77.5h1M316 69.5h1M331 70.5h1M341 75.5h1M329 89.5h1M329 70.5h1M322 79.5h1M326 74.5h1M330 67.5h1M341 73.5h1M316 73.5h1M321 89.5h1M322 70.5h1M333 82.5h1M316 71.5h1M342 88.5h1M336 72.5h1M328 68.5h1M353 88.5h1M333 83.5h1M329 62.5h1M352 59.5h1M328 74.5h1M335 69.5h1M328 78.5h1M335 68.5h1M337 63.5h1M321 64.5h1M329 78.5h1M332 61.5h1M327 76.5h1M338 82.5h1M329 67.5h1M342 74.5h1M334 88.5h1M329 63.5h1M344 80.5h1M318 77.5h1M334 69.5h1M330 85.5h1M337 77.5h1M332 71.5h1M333 78.5h1M344 65.5h1M333 57.5h1M335 90.5h1M327 80.5h1M339 77.5h1M320 85.5h1M325 74.5h1M327 69.5h1M336 66.5h1M334 82.5h1M321 67.5h1M331 85.5h1M329 68.5h1M329 82.5h1M334 69.5h1M330 93.5h1M332 73.5h1M309 67.5h1M317 72.5h1M335 69.5h1M334 72.5h1M344 81.5h1M320 83.5h1M322 79.5h1M319 70.5h1M348 55.5h1M311 89.5h1M346 77.5h1M330 72.5h1M330 88.5h1M342 76.5h1M330 68.5h1M330 73.5h1M335 76.5h1M323 73.5h1M335 60.5h1M332 72.5h1M305 77.5h1M320 71.5h1M334 68.5h1M341 73.5h1M304 72.5h1M347 78.5h1M343 86.5h1M327 87.5h1M319 74.5h1M345 65.5h1M333 67.5h1M334 60.5h1M337 83.5h1M323 75.5h1M331 70.5h1M347 58.5h1M335 75.5h1M324 75.5h1M324 78.5h1M331 83.5h1M327 79.5h1M335 62.5h1M350 69.5h1M337 68.5h1M330 63.5h1M337 78.5h1M341 76.5h1M330 71.5h1M328 68.5h1M335 76.5h1M328 68.5h1M324 74.5h1M327 60.5h1M339 61.5h1M323 76.5h1M331 77.5h1M333 85.5h1M322 91.5h1M339 68.5h1M333 61.5h1M329 85.5h1M340 74.5h1M321 69.5h1M327 55.5h1M348 67.5h1M324 68.5h1M327 80.5h1M338 79.5h1M325 71.5h1M337 86.5h1M326 84.5h1M342 81.5h1M312 85.5h1M338 78.5h1M332 64.5h1" stroke="#8a8a8a" stroke-width="1" fill="none"/>
<path d="M357 137.5h1M331 151.5h1M338 104.5h1M353 115.5h1M352 103.5h1M336 70.5h1M351 93.5h1M347 117.5h1M330 140.5h1M347 97.5h1M348 142.5h1M342 126.5h1M358 109.5h1M341 119.5h1M342 142.5h1M351 137.5h1M337 148.5h1M348 120.5h1M358 154.5h1M353 123.5h1M336 111.5h1M350 158.5h1M346 119.5h1M344 101.5h1M335 123.5h1M337 89.5h1M349 134.5h1M348 135.5h1M351 79.5h1M338 147.5h1M351 79.5h1M348 93.5h1M349 103.5h1M341 112.5h1M339 134.5h1M346 122.5h1M337 131.5h1M358 103.5h1M352 139.5h1M347 112.5h1M348 116.5h1M341 96.5h1M355 116.5h1M344 134.5h1M345 140.5h1M340 113.5h1M367 144.5h1M346 159.5h1M344 67.5h1M347 119.5h1M348 64.5h1M349 96.5h1M348 123.5h1M347 157.5h1M353 145.5h1M347 93.5h1M344 82.5h1M346 119.5h1M340 97.5h1M349 106.5h1M348 127.5h1M341 126.5h1M348 93.5h1M341 136.5h1M351 128.5h1M351 113.5h1M335 115.5h1M347 108.5h1M343 129.5h1M353 136.5h1M339 118.5h1M338 139.5h1M364 129.5h1M356 124.5h1M346 119.5h1M348 125.5h1M354 144.5h1M346 64.5h1M328 113.5h1M337 135.5h1M349 120.5h1M353 112.5h1M327 141.5h1M328 141.5h1M344 111.5h1M349 121.5h1M344 104.5h1M353 118.5h1M349 137.5h1M344 100.5h1M331 91.5h1M343 81.5h1M346 131.5h1M341 121.5h1M347 94.5h1M341 113.5h1M333 146.5h1M341 107.5h1M336 113.5h1M354 96.5h1M350 127.5h1M346 123.5h1M340 103.5h1M347 130.5h1M344 96.5h1M352 115.5h1M335 153.5h1M346 106.5h1M347 157.5h1M346 122.5h1M327 133.5h1M337 122.5h1M344 128.5h1M350 113.5h1M338 133.5h1M346 128.5h1M364 135.5h1M357 111.5h1M365 117.5h1M344 108.5h1M347 127.5h1M346 117.5h1M358 106.5h1M353 102.5h1M352 102.5h1M362 129.5h1M329 107.5h1M349 115.5h1M339 138.5h1M343 116.5h1M349 116.5h1M366 130.5h1M328 114.5h1M351 117.5h1M345 129.5h1M343 118.5h1M346 105.5h1M354 108.5h1M346 137.5h1M353 104.5h1M346 99.5h1M347 109.5h1M346 110.5h1M351 121.5h1M345 116.5h1M363 132.5h1M349 120.5h1M342 139.5h1M355 129.5h1M340 138.5h1M344 100.5h1M359 129.5h1M349 146.5h1M346 116.5h1M368 102.5h1M342 122.5h1M332 133.5h1M340 77.5h1M348 83.5h1M345 103.5h1M340 112.5h1M348 117.5h1M350 113.5h1M336 114.5h1M345 119.5h1M344 115.5h1M351 137.5h1M352 115.5h1M344 79.5h1M353 97.5h1M338 123.5h1M341 146.5h1M358 100.5h1M361 138.5h1M364 125.5h1M348 126.5h1M344 110.5h1M337 117.5h1M351 128.5h1M354 74.5h1M369 108.5h1M349 118.5h1M324 158.5h1M361 83.5h1M344 131.5h1M350 137.5h1M355 136.5h1M348 143.5h1M361 111.5h1M344 108.5h1M353 97.5h1M357 158.5h1M339 109.5h1M352 153.5h1M350 129.5h1M350 112.5h1M345 98.5h1M335 128.5h1M344 111.5h1M349 115.5h1M348 92.5h1M344 102.5h1M360 98.5h1M351 127.5h1M334 124.5h1M347 54.5h1M353 109.5h1M339 104.5h1M343 111.5h1M341 146.5h1M365 87.5h1M358 113.5h1M339 105.5h1M338 110.5h1M342 64.5h1M337 106.5h1M349 109.5h1M340 119.5h1M338 139.5h1M343 143.5h1M349 97.5h1M331 124.5h1M315 104.5h1M338 109.5h1M343 151.5h1M349 118.5h1M346 108.5h1M344 127.5h1M341 88.5h1M341 134.5h1M338 116.5h1M341 132.5h1M341 67.5h1M348 154.5h1M339 132.5h1M360 97.5h1M350 112.5h1M339 131.5h1M334 127.5h1M351 143.5h1M342 124.5h1M359 132.5h1M351 144.5h1M346 102.5h1M321 105.5h1M343 120.5h1M349 108.5h1M343 116.5h1M339 140.5h1M343 149.5h1M352 140.5h1M335 113.5h1M342 100.5h1M355 86.5h1M339 125.5h1M338 125.5h1M325 100.5h1M338 160.5h1M346 109.5h1M338 155.5h1M332 117.5h1M347 122.5h1M335 88.5h1M336 149.5h1M341 121.5h1M357 142.5h1M343 112.5h1M346 121.5h1M337 106.5h1M334 90.5h1M354 126.5h1M353 105.5h1M340 139.5h1M354 139.5h1M360 117.5h1M346 120.5h1M338 109.5h1M350 152.5h1M340 143.5h1M349 111.5h1M346 139.5h1M342 154.5h1M353 127.5h1M356 135.5h1M344 127.5h1M354 131.5h1M350 121.5h1M336 137.5h1M341 101.5h1M348 141.5h1M339 136.5h1M346 118.5h1M345 108.5h1M341 86.5h1M365 136.5h1M349 115.5h1M326 74.5h1M354 118.5h1M347 131.5h1M366 116.5h1M351 148.5h1M329 146.5h1M349 134.5h1M356 146.5h1M355 128.5h1M344 149.5h1M346 156.5h1M345 110.5h1M329 117.5h1M338 143.5h1M346 121.5h1M345 134.5h1M348 97.5h1M346 84.5h1M342 134.5h1M336 114.5h1M358 79.5h1M350 108.5h1M350 144.5h1M346 122.5h1M346 138.5h1M341 147.5h1M350 116.5h1M343 114.5h1M341 122.5h1M339 129.5h1M351 142.5h1M336 99.5h1M347 95.5h1M354 123.5h1M358 159.5h1M349 127.5h1M347 152.5h1M355 137.5h1M341 118.5h1M338 80.5h1M351 101.5h1M358 106.5h1M348 102.5h1M331 158.5h1M342 107.5h1M349 148.5h1M352 123.5h1M339 132.5h1M352 139.5h1M344 136.5h1M329 135.5h1M334 144.5h1M360 157.5h1M338 114.5h1M343 143.5h1M347 131.5h1M360 122.5h1M350 105.5h1M363 122.5h1M358 120.5h1M346 159.5h1M342 135.5h1M332 104.5h1M344 138.5h1M336 130.5h1M355 117.5h1M328 129.5h1M350 113.5h1M339 116.5h1M350 123.5h1M345 117.5h1M358 134.5h1M345 145.5h1M339 110.5h1M362 125.5h1M357 133.5h1M333 134.5h1M340 152.5h1M338 122.5h1M345 141.5h1M358 125.5h1M351 100.5h1M347 62.5h1M361 158.5h1M345 106.5h1M359 113.5h1M351 112.5h1M337 147.5h1M354 133.5h1M351 75.5h1M348 123.5h1M352 123.5h1M347 111.5h1M350 98.5h1M365 107.5h1M349 132.5h1M330 142.5h1M337 145.5h1M357 139.5h1M341 126.5h1M343 114.5h1M350 137.5h1M351 89.5h1M348 124.5h1M336 123.5h1M360 123.5h1M336 148.5h1M362 147.5h1M345 119.5h1M336 160.5h1M358 128.5h1M335 90.5h1M352 137.5h1M334 139.5h1M343 94.5h1M334 109.5h1M348 136.5h1M345 111.5h1M342 132.5h1M356 115.5h1M353 118.5h1M338 123.5h1M339 131.5h1M337 108.5h1M347 119.5h1M362 156.5h1M342 130.5h1" stroke="#8a8a8a" stroke-width="1" fill="none"/>
<path d="M363 105.5h1M377 66.5h1M357 120.5h1M378 74.5h1M390 124.5h1M395 102.5h1M367 132.5h1M386 125.5h1M382 80.5h1M355 151.5h1M366 104.5h1M394 124.5h1M370 108.5h1M395 93.5h1M356 95.5h1M353 149.5h1M375 85.5h1M349 126.5h1M378 105.5h1M387 87.5h1M375 135.5h1M385 143.5h1M370 89.5h1M369 110.5h1M372 63.5h1M396 119.5h1M364 71.5h1M379 89.5h1M376 74.5h1M371 104.5h1M400 92.5h1M382 89.5h1M383 121.5h1M372 123.5h1M379 82.5h1M383 107.5h1M360 138.5h1M362 107.5h1M389 79.5h1M381 115.5h1M392 104.5h1M374 106.5h1M368 107.5h1M389 140.5h1M372 77.5h1M382 100.5h1M362 102.5h1M391 88.5h1M370 114.5h1M383 154.5h1M399 112.5h1M383 106.5h1M383 126.5h1M388 65.5h1M394 91.5h1M366 104.5h1M361 93.5h1M373 160.5h1M376 109.5h1M394 130.5h1M384 102.5h1M390 111.5h1M381 91.5h1M372 119.5h1M385 108.5h1M370 136.5h1M375 72.5h1M393 89.5h1M367 77.5h1M397 147.5h1M371 111.5h1M370 133.5h1M382 116.5h1M380 84.5h1M377 91.5h1M389 127.5h1M397 132.5h1M403 142.5h1M376 97.5h1M373 69.5h1M375 83.5h1M378 126.5h1M370 98.5h1M373 93.5h1M400 128.5h1M368 86.5h1M369 101.5h1M385 106.5h1M363 111.5h1M382 128.5h1M388 147.5h1M395 95.5h1M384 96.5h1M378 118.5h1M362 109.5h1M375 127.5h1M371 61.5h1M387 83.5h1M392 118.5h1M395 139.5h1M399 139.5h1M390 120.5h1M367 88.5h1M378 111.5h1M366 132.5h1M353 133.5h1M371 88.5h1M385 110.5h1M376 159.5h1M391 94.5h1M379 125.5h1M364 98.5h1M376 149.5h1M372 116.5h1M392 136.5h1M373 123.5h1M386 92.5h1M366 134.5h1M387 124.5h1M405 142.5h1M361 79.5h1M377 145.5h1M366 96.5h1M375 93.5h1M368 83.5h1M389 116.5h1M376 127.5h1M381 105.5h1M363 114.5h1M392 106.5h1M393 127.5h1M376 108.5h1M391 116.5h1M334 110.5h1M384 115.5h1M382 145.5h1M378 90.5h1M395 116.5h1M380 86.5h1M398 86.5h1M378 99.5h1M376 135.5h1M375 56.5h1M395 113.5h1M390 81.5h1M403 68.5h1M373 133.5h1M391 121.5h1M383 113.5h1M391 116.5h1M389 82.5h1M370 109.5h1M373 115.5h1M380 150.5h1M381 114.5h1M371 111.5h1M385 116.5h1M387 121.5h1M374 77.5h1M402 109.5h1M388 106.5h1M391 121.5h1M400 97.5h1M394 115.5h1M394 105.5h1M371 90.5h1M381 123.5h1M385 86.5h1M395 76.5h1M358 96.5h1M374 112.5h1M381 89.5h1M387 69.5h1M350 149.5h1M376 100.5h1M387 144.5h1M392 93.5h1M370 120.5h1M378 110.5h1M365 129.5h1M396 64.5h1M385 87.5h1M389 83.5h1M374 144.5h1M376 108.5h1M397 115.5h1M388 103.5h1M344 61.5h1M372 117.5h1M369 137.5h1M376 76.5h1M378 105.5h1M382 119.5h1M370 113.5h1M384 107.5h1M371 104.5h1M356 100.5h1M378 100.5h1M369 84.5h1M393 96.5h1M361 111.5h1M395 127.5h1M380 122.5h1M380 66.5h1M346 126.5h1M398 114.5h1M389 140.5h1M381 127.5h1M367 104.5h1M376 88.5h1M377 133.5h1M393 90.5h1M402 96.5h1M363 119.5h1M387 137.5h1M395 133.5h1M364 78.5h1M401 76.5h1M378 99.5h1M383 119.5h1M380 132.5h1M372 96.5h1M393 83.5h1M389 132.5h1M379 103.5h1M385 73.5h1M361 93.5h1M346 88.5h1M364 114.5h1M392 106.5h1M372 109.5h1M386 116.5h1M361 88.5h1M388 109.5h1M381 82.5h1M395 102.5h1M395 119.5h1M378 100.5h1M394 103.5h1M395 120.5h1M370 96.5h1M379 123.5h1M389 114.5h1M387 99.5h1M391 116.5h1M366 61.5h1M365 90.5h1M386 89.5h1M391 118.5h1M381 135.5h1M385 64.5h1M393 116.5h1M377 90.5h1M399 94.5h1M400 113.5h1M398 137.5h1M382 63.5h1M364 97.5h1M378 80.5h1M371 91.5h1M375 130.5h1M368 71.5h1M378 108.5h1" stroke="#8a8a8a" stroke-width="1" fill="none"/>
<path d="M339 96.5h1M335 98.5h1M338 93.5h1M332 92.5h1M338 89.5h1M334 104.5h1M337 95.5h1M335 97.5h1M335 92.5h1M334 106.5h1M338 92.5h1M342 111.5h1M347 98.5h1M333 90.5h1M341 77.5h1M332 112.5h1M338 110.5h1M328 91.5h1M334 106.5h1M337 80.5h1M334 79.5h1M331 73.5h1M329 96.5h1M336 97.5h1M337 87.5h1M341 70.5h1M335 88.5h1M334 105.5h1M341 100.5h1M332 90.5h1M337 99.5h1M336 93.5h1M334 101.5h1M329 91.5h1M343 85.5h1M349 93.5h1M334 88.5h1M333 95.5h1M342 94.5h1M337 91.5h1M339 100.5h1M336 106.5h1M336 107.5h1M334 97.5h1M341 99.5h1M341 101.5h1M343 95.5h1M343 103.5h1M325 114.5h1M336 108.5h1M337 84.5h1M332 108.5h1M347 90.5h1M330 104.5h1M334 84.5h1M337 99.5h1M338 92.5h1M330 93.5h1M341 108.5h1M344 84.5h1" stroke="#8a8a8a" stroke-width="1" fill="none"/>
<path d="M347 148.5h1M325 155.5h1M342 150.5h1M352 147.5h1M346 150.5h1M332 151.5h1M343 153.5h1M341 153.5h1M342 145.5h1M335 155.5h1M351 157.5h1M326 149.5h1M341 149.5h1M329 147.5h1M339 141.5h1M333 151.5h1M324 147.5h1M346 147.5h1M323 149.5h1M330 151.5h1M336 137.5h1M340 136.5h1M342 156.5h1M355 155.5h1M338 157.5h1M334 143.5h1M329 151.5h1M327 145.5h1M336 143.5h1M334 152.5h1M344 150.5h1M346 148.5h1M343 155.5h1M336 138.5h1M330 156.5h1M352 153.5h1M334 151.5h1M342 160.5h1M342 147.5h1M343 149.5h1M339 150.5h1M344 158.5h1M321 144.5h1M339 153.5h1M343 144.5h1M324 151.5h1M340 150.5h1M344 152.5h1M346 154.5h1M331 152.5h1M337 156.5h1M339 135.5h1M339 149.5h1M328 142.5h1M347 146.5h1M338 156.5h1M342 148.5h1M330 149.5h1M336 152.5h1M327 152.5h1M344 135.5h1M335 154.5h1M344 155.5h1M340 141.5h1M319 154.5h1M354 146.5h1M331 158.5h1M348 152.5h1M337 157.5h1M344 149.5h1M336 158.5h1M342 153.5h1M339 147.5h1M339 143.5h1M322 156.5h1M335 151.5h1M330 146.5h1M340 142.5h1M340 140.5h1" stroke="#8a8a8a" stroke-width="1" fill="none"/>
<path d="M444 73.5h1M451 59.5h1M450 72.5h1M452 81.5h1M465 72.5h1M438 71.5h1M462 81.5h1M448 69.5h1M446 80.5h1M460 71.5h1M468 76.5h1M457 68.5h1M448 51.5h1M441 81.5h1M441 71.5h1M435 70.5h1M470 65.5h1M464 85.5h1M455 77.5h1M454 76.5h1M448 75.5h1M434 80.5h1M448 75.5h1M452 64.5h1M455 80.5h1M451 84.5h1M457 71.5h1M445 76.5h1M439 61.5h1M453 78.5h1M445 82.5h1M440 77.5h1M453 83.5h1M459 82.5h1M446 87.5h1M449 73.5h1M446 69.5h1M448 74.5h1M448 68.5h1M461 76.5h1M457 81.5h1M454 79.5h1M455 77.5h1M455 70.5h1M444 81.5h1M454 78.5h1M449 90.5h1M461 65.5h1M457 76.5h1M450 67.5h1M457 78.5h1M456 71.5h1M453 71.5h1M442 63.5h1M461 75.5h1M469 65.5h1M446 71.5h1M446 78.5h1M447 69.5h1M451 62.5h1M443 76.5h1M455 69.5h1M449 73.5h1M461 76.5h1M452 80.5h1M451 78.5h1M444 76.5h1M466 65.5h1M447 74.5h1M459 71.5h1M466 74.5h1M460 91.5h1M450 74.5h1M451 66.5h1M454 76.5h1M448 72.5h1M454 80.5h1M442 73.5h1M445 58.5h1M458 69.5h1M451 58.5h1M440 76.5h1M447 65.5h1M427 68.5h1M449 75.5h1M449 77.5h1M447 65.5h1M436 70.5h1M452 68.5h1M472 58.5h1M453 77.5h1M455 84.5h1M436 86.5h1M444 74.5h1M457 83.5h1M460 80.5h1M450 86.5h1M442 74.5h1M451 71.5h1M444 77.5h1" stroke="#8a8a8a" stroke-width="1" fill="none"/>
<path d="M466 156.5h1M480 135.5h1M456 152.5h1M465 147.5h1M477 134.5h1M469 106.5h1M471 108.5h1M466 128.5h1M473 133.5h1M478 145.5h1M459 111.5h1M461 102.5h1M472 125.5h1M481 114.5h1M469 131.5h1M475 133.5h1M487 145.5h1M460 150.5h1M486 125.5h1M474 138.5h1M484 123.5h1M482 160.5h1M483 129.5h1M460 134.5h1M477 104.5h1M481 99.5h1M477 132.5h1M464 137.5h1M475 118.5h1M491 125.5h1M468 116.5h1M476 100.5h1M478 116.5h1M474 116.5h1M467 130.5h1M478 127.5h1M472 126.5h1M466 142.5h1M473 133.5h1M462 94.5h1M475 144.5h1M472 99.5h1M470 112.5h1M489 117.5h1M477 104.5h1M463 116.5h1M465 100.5h1M476 137.5h1M469 135.5h1M471 118.5h1M462 110.5h1M472 96.5h1M466 126.5h1M484 113.5h1M452 127.5h1M478 105.5h1M467 135.5h1M475 129.5h1M487 131.5h1M483 148.5h1M471 139.5h1M482 123.5h1M484 143.5h1M459 91.5h1M475 110.5h1M467 122.5h1M467 145.5h1M475 110.5h1M477 110.5h1M476 140.5h1M484 147.5h1M471 134.5h1M483 136.5h1M478 118.5h1M480 98.5h1M480 135.5h1M487 111.5h1M471 125.5h1M473 156.5h1M477 137.5h1M483 138.5h1M478 159.5h1M486 141.5h1M479 122.5h1M459 148.5h1M476 148.5h1M478 142.5h1M470 127.5h1M481 115.5h1M476 131.5h1M472 134.5h1M471 116.5h1M461 126.5h1M472 153.5h1M463 149.5h1M459 119.5h1M489 120.5h1M479 97.5h1M474 109.5h1M468 145.5h1M471 134.5h1M465 123.5h1M469 148.5h1M497 124.5h1M486 113.5h1M467 142.5h1M476 110.5h1M476 115.5h1M461 92.5h1M470 129.5h1M470 139.5h1M469 112.5h1M465 137.5h1M476 107.5h1M478 129.5h1M479 151.5h1M474 144.5h1M483 111.5h1M477 110.5h1M468 128.5h1M480 144.5h1M472 123.5h1M479 149.5h1M473 144.5h1M461 110.5h1M476 130.5h1M466 131.5h1M478 140.5h1M458 130.5h1M500 118.5h1M476 112.5h1M478 136.5h1M478 159.5h1M475 104.5h1M479 133.5h1M466 115.5h1M462 149.5h1M481 128.5h1M460 122.5h1M468 126.5h1M478 135.5h1M494 138.5h1M475 123.5h1M474 118.5h1M481 130.5h1M492 140.5h1M461 157.5h1M485 78.5h1M464 114.5h1M483 122.5h1M476 132.5h1M465 117.5h1M469 128.5h1M444 110.5h1M472 153.5h1M454 98.5h1M453 145.5h1M470 157.5h1M469 144.5h1M488 110.5h1M453 150.5h1M493 131.5h1M458 126.5h1M477 120.5h1M478 155.5h1M485 106.5h1M469 137.5h1M465 112.5h1M456 157.5h1M483 109.5h1M460 121.5h1M481 116.5h1M486 116.5h1M486 138.5h1M465 133.5h1M475 127.5h1M497 152.5h1M454 135.5h1M458 104.5h1M473 128.5h1M468 103.5h1M468 127.5h1M480 130.5h1M483 151.5h1M469 136.5h1M482 130.5h1M491 156.5h1M484 147.5h1M461 132.5h1M495 131.5h1M473 127.5h1M465 116.5h1M479 123.5h1M463 151.5h1M473 128.5h1M486 117.5h1M463 92.5h1M461 142.5h1M477 147.5h1M500 147.5h1M486 149.5h1M465 145.5h1M476 137.5h1M470 104.5h1M473 114.5h1M465 124.5h1M477 147.5h1M471 144.5h1M493 89.5h1M486 149.5h1M488 109.5h1M453 151.5h1M468 119.5h1M469 135.5h1M472 132.5h1M477 119.5h1M477 102.5h1M454 134.5h1M465 145.5h1M487 113.5h1M459 128.5h1M440 128.5h1M480 119.5h1M465 157.5h1M444 120.5h1M458 134.5h1M482 128.5h1M469 154.5h1M473 123.5h1M474 146.5h1M491 98.5h1M461 138.5h1M466 119.5h1M483 135.5h1M477 121.5h1M480 104.5h1M465 135.5h1M486 144.5h1M467 100.5h1M468 135.5h1M460 118.5h1M461 116.5h1M491 98.5h1M452 108.5h1M487 155.5h1M478 120.5h1M481 138.5h1M463 143.5h1M485 124.5h1M485 130.5h1M483 120.5h1M484 154.5h1M476 125.5h1M480 152.5h1M467 137.5h1M463 103.5h1M473 137.5h1M506 132.5h1M459 120.5h1M469 132.5h1M479 128.5h1M458 140.5h1M488 125.5h1M478 138.5h1M471 145.5h1M469 123.5h1M473 88.5h1M455 106.5h1M466 149.5h1M466 119.5h1M468 145.5h1M474 154.5h1M469 87.5h1M455 121.5h1M478 105.5h1M459 112.5h1M450 138.5h1M491 114.5h1M484 136.5h1M494 104.5h1M483 138.5h1M487 151.5h1M477 132.5h1M460 135.5h1M471 131.5h1M462 131.5h1M481 100.5h1M451 111.5h1M481 147.5h1M469 159.5h1M472 138.5h1M479 134.5h1M479 123.5h1M482 113.5h1M460 149.5h1M491 136.5h1M476 101.5h1M472 154.5h1M466 112.5h1M463 112.5h1M464 128.5h1M472 139.5h1M482 151.5h1M476 157.5h1M466 140.5h1M470 142.5h1M473 131.5h1M484 120.5h1M479 136.5h1M475 146.5h1M472 138.5h1M470 104.5h1M488 134.5h1M470 118.5h1M452 132.5h1M470 152.5h1M458 117.5h1M462 120.5h1M466 125.5h1M476 138.5h1M468 113.5h1M473 124.5h1M475 137.5h1M479 121.5h1M465 120.5h1M464 126.5h1M479 147.5h1M449 119.5h1M475 145.5h1M453 120.5h1M494 150.5h1M455 144.5h1M459 119.5h1M467 119.5h1M491 114.5h1M483 145.5h1M483 105.5h1M473 144.5h1M469 149.5h1M477 118.5h1M484 149.5h1M480 104.5h1M481 111.5h1M456 139.5h1M472 122.5h1M481 131.5h1" stroke="#8a8a8a" stroke-width="1" fill="none"/>
<path d="M494 135.5h1M525 110.5h1M496 153.5h1M527 121.5h1M503 153.5h1M512 144.5h1M490 140.5h1M507 101.5h1M516 103.5h1M494 116.5h1M508 108.5h1M508 114.5h1M529 119.5h1M512 151.5h1M489 122.5h1M510 108.5h1M492 102.5h1M507 132.5h1M502 140.5h1M507 131.5h1M481 131.5h1M507 112.5h1M516 114.5h1M501 125.5h1M500 140.5h1M514 134.5h1M500 124.5h1M502 151.5h1M490 139.5h1M509 135.5h1M509 105.5h1M517 140.5h1M507 104.5h1M504 102.5h1M492 140.5h1M503 145.5h1M505 100.5h1M503 106.5h1M524 147.5h1M486 146.5h1M519 136.5h1M473 129.5h1M506 111.5h1M503 112.5h1M511 125.5h1M529 114.5h1M500 149.5h1M513 108.5h1M518 119.5h1M474 134.5h1M488 127.5h1M507 122.5h1M504 148.5h1M495 151.5h1M477 124.5h1M496 128.5h1M502 122.5h1M502 114.5h1M502 135.5h1M486 130.5h1M501 100.5h1M487 133.5h1M502 127.5h1M488 135.5h1M510 131.5h1M523 122.5h1M501 137.5h1M519 116.5h1M487 133.5h1M507 125.5h1M508 133.5h1M507 124.5h1M530 138.5h1M505 130.5h1M523 126.5h1M488 146.5h1M507 126.5h1M486 111.5h1M524 116.5h1M498 105.5h1M477 124.5h1M512 140.5h1M524 136.5h1M508 110.5h1M475 123.5h1M491 139.5h1M505 122.5h1M503 141.5h1M497 117.5h1M513 129.5h1M491 121.5h1M518 149.5h1M506 129.5h1M511 102.5h1M509 94.5h1M518 138.5h1M507 132.5h1M508 120.5h1M487 119.5h1M519 121.5h1M506 127.5h1M510 148.5h1M478 133.5h1M488 100.5h1M503 161.5h1M496 137.5h1M507 119.5h1M506 124.5h1M507 113.5h1M512 135.5h1M515 119.5h1M500 128.5h1M503 121.5h1M518 134.5h1M494 129.5h1M501 119.5h1M530 125.5h1M496 120.5h1M520 126.5h1M507 115.5h1M515 137.5h1M497 123.5h1M500 134.5h1M504 126.5h1M493 125.5h1M506 129.5h1M514 118.5h1M492 114.5h1M528 124.5h1M472 124.5h1M513 87.5h1M518 113.5h1M498 119.5h1M495 124.5h1M501 110.5h1M490 121.5h1M499 131.5h1M492 118.5h1" stroke="#8a8a8a" stroke-width="1" fill="none"/>
<path d="M488 85.5h1M508 63.5h1M495 97.5h1M489 72.5h1M526 78.5h1M519 72.5h1M504 94.5h1M521 85.5h1M511 93.5h1M505 86.5h1M506 74.5h1M487 63.5h1M500 100.5h1M509 89.5h1M503 80.5h1M515 84.5h1M531 63.5h1M517 90.5h1M494 85.5h1M504 96.5h1M494 86.5h1M491 75.5h1M501 84.5h1M516 78.5h1M497 89.5h1M501 100.5h1M476 97.5h1M491 87.5h1M518 66.5h1M531 79.5h1M481 74.5h1M508 89.5h1M525 85.5h1M507 77.5h1M505 76.5h1M509 79.5h1M502 95.5h1M481 89.5h1M478 84.5h1M523 92.5h1" stroke="#8a8a8a" stroke-width="1" fill="none"/>
<path d="M439 101.5h1M462 95.5h1M444 65.5h1M458 105.5h1M451 111.5h1M438 100.5h1M436 94.5h1M451 102.5h1M430 96.5h1M444 85.5h1M456 83.5h1M442 86.5h1M457 70.5h1M435 119.5h1M460 80.5h1M438 77.5h1M454 126.5h1M443 78.5h1M454 73.5h1M457 91.5h1M434 99.5h1M452 105.5h1M445 109.5h1M456 118.5h1M451 109.5h1M440 88.5h1M440 89.5h1M440 74.5h1M447 83.5h1M448 115.5h1M445 92.5h1M457 85.5h1M447 90.5h1M444 91.5h1M445 111.5h1M457 86.5h1M435 96.5h1M435 79.5h1M440 113.5h1M450 95.5h1M460 102.5h1M452 93.5h1M443 92.5h1M445 100.5h1M452 106.5h1M456 100.5h1M439 103.5h1M445 78.5h1M444 95.5h1M430 89.5h1M432 89.5h1M450 104.5h1M445 78.5h1M441 112.5h1M435 121.5h1M452 74.5h1M441 124.5h1M445 139.5h1M439 104.5h1M453 81.5h1M443 115.5h1M443 130.5h1M455 99.5h1M452 112.5h1M449 127.5h1M449 102.5h1M456 71.5h1M451 101.5h1M448 102.5h1M439 121.5h1M456 109.5h1M453 98.5h1M456 100.5h1M455 52.5h1M442 128.5h1M445 76.5h1M440 82.5h1M445 103.5h1M443 96.5h1M448 117.5h1M447 98.5h1M433 82.5h1M435 114.5h1M440 107.5h1M445 117.5h1M434 106.5h1M456 101.5h1M447 76.5h1M436 105.5h1" stroke="#8a8a8a" stroke-width="1" fill="none"/>
<rect x="96.40" y="55.90" width="49.60" height="102.60" fill="none" stroke="#3a3a3a" stroke-width="0.9"/>
<text x="121.10" y="105.80" font-size="5.00" text-anchor="middle" font-weight="bold" fill="#222" >CD45+ cells</text>
<text x="121.10" y="112.00" font-size="5.00" text-anchor="middle" font-weight="bold" fill="#222" >13.3</text>
<rect x="225.75" y="55.90" width="49.25" height="102.60" fill="none" stroke="#3a3a3a" stroke-width="0.9"/>
<text x="250.50" y="105.80" font-size="5.00" text-anchor="middle" font-weight="bold" fill="#222" >CD45+ cells</text>
<text x="250.50" y="112.00" font-size="5.00" text-anchor="middle" font-weight="bold" fill="#222" >13.3</text>
<rect x="354.50" y="55.90" width="49.50" height="102.60" fill="none" stroke="#3a3a3a" stroke-width="0.9"/>
<rect x="363.00" y="99.60" width="32.00" height="15.5" fill="#fff" fill-opacity="0.78"/>
<text x="379.00" y="105.80" font-size="5.00" text-anchor="middle" font-weight="bold" fill="#222" >CD45+ cells</text>
<text x="379.00" y="112.00" font-size="5.00" text-anchor="middle" font-weight="bold" fill="#222" >48.2</text>
<rect x="483.25" y="55.90" width="49.75" height="102.60" fill="none" stroke="#3a3a3a" stroke-width="0.9"/>
<text x="508.00" y="105.80" font-size="5.00" text-anchor="middle" font-weight="bold" fill="#222" >CD45+ cells</text>
<text x="508.00" y="112.00" font-size="5.00" text-anchor="middle" font-weight="bold" fill="#222" >21.4</text>
<rect x="36.00" y="209.50" width="112.50" height="112.00" fill="none" stroke="#777" stroke-width="1"/>
<path d="M33.00,219.30H36.00M33.00,247.00H36.00M33.00,277.00H36.00M33.00,295.00H36.00M33.00,313.60H36.00M34.40,238.66H36.00M34.40,233.78H36.00M34.40,230.32H36.00M34.40,227.64H36.00M34.40,225.45H36.00M34.40,223.59H36.00M34.40,221.98H36.00M34.40,220.57H36.00M34.40,267.97H36.00M34.40,262.69H36.00M34.40,258.94H36.00M34.40,256.03H36.00M34.40,253.66H36.00M34.40,251.65H36.00M34.40,249.91H36.00M34.40,248.37H36.00M34.40,288.70H36.00M34.40,284.20H36.00M34.40,281.50H36.00M34.40,279.70H36.00M34.40,278.44H36.00M34.40,301.82H36.00M34.40,306.70H36.00M34.40,309.62H36.00M34.40,311.57H36.00M34.40,312.94H36.00" stroke="#1a1a1a" stroke-width="0.8" fill="none"/>
<text x="31.00" y="221.00" font-size="4.80" text-anchor="end" font-weight="normal" fill="#111" >10<tspan font-size="4.2" dy="-2.0">5</tspan></text>
<text x="31.00" y="248.70" font-size="4.80" text-anchor="end" font-weight="normal" fill="#111" >10<tspan font-size="4.2" dy="-2.0">4</tspan></text>
<text x="31.00" y="278.70" font-size="4.80" text-anchor="end" font-weight="normal" fill="#111" >10<tspan font-size="4.2" dy="-2.0">3</tspan></text>
<text x="31.00" y="296.70" font-size="4.80" text-anchor="end" font-weight="normal" fill="#111" >0</text>
<text x="31.00" y="315.30" font-size="4.80" text-anchor="end" font-weight="normal" fill="#111" >-10<tspan font-size="4.2" dy="-2.0">3</tspan></text>
<path d="M42.80,321.50V324.50M63.00,321.50V324.50M80.30,321.50V324.50M110.30,321.50V324.50M138.70,321.50V324.50M49.87,321.50V323.10M54.92,321.50V323.10M57.95,321.50V323.10M59.97,321.50V323.10M61.38,321.50V323.10M69.05,321.50V323.10M73.38,321.50V323.10M75.97,321.50V323.10M77.70,321.50V323.10M78.92,321.50V323.10M89.33,321.50V323.10M94.61,321.50V323.10M98.36,321.50V323.10M101.27,321.50V323.10M103.64,321.50V323.10M105.65,321.50V323.10M107.39,321.50V323.10M108.93,321.50V323.10M118.85,321.50V323.10M123.85,321.50V323.10M127.40,321.50V323.10M130.15,321.50V323.10M132.40,321.50V323.10M134.30,321.50V323.10M135.95,321.50V323.10M137.40,321.50V323.10" stroke="#1a1a1a" stroke-width="0.8" fill="none"/>
<text x="46.50" y="331.20" font-size="4.80" text-anchor="middle" font-weight="normal" fill="#111" >-10<tspan font-size="4.2" dy="-2.0">3</tspan></text>
<text x="63.40" y="331.20" font-size="4.80" text-anchor="middle" font-weight="normal" fill="#111" >0</text>
<text x="82.50" y="331.20" font-size="4.80" text-anchor="middle" font-weight="normal" fill="#111" >10<tspan font-size="4.2" dy="-2.0">3</tspan></text>
<text x="113.70" y="331.20" font-size="4.80" text-anchor="middle" font-weight="normal" fill="#111" >10<tspan font-size="4.2" dy="-2.0">4</tspan></text>
<text x="141.00" y="331.20" font-size="4.80" text-anchor="middle" font-weight="normal" fill="#111" >10<tspan font-size="4.2" dy="-2.0">5</tspan></text>
<rect x="165.00" y="209.50" width="112.50" height="112.00" fill="none" stroke="#777" stroke-width="1"/>
<path d="M162.00,219.30H165.00M162.00,247.00H165.00M162.00,277.00H165.00M162.00,295.00H165.00M162.00,313.60H165.00M163.40,238.66H165.00M163.40,233.78H165.00M163.40,230.32H165.00M163.40,227.64H165.00M163.40,225.45H165.00M163.40,223.59H165.00M163.40,221.98H165.00M163.40,220.57H165.00M163.40,267.97H165.00M163.40,262.69H165.00M163.40,258.94H165.00M163.40,256.03H165.00M163.40,253.66H165.00M163.40,251.65H165.00M163.40,249.91H165.00M163.40,248.37H165.00M163.40,288.70H165.00M163.40,284.20H165.00M163.40,281.50H165.00M163.40,279.70H165.00M163.40,278.44H165.00M163.40,301.82H165.00M163.40,306.70H165.00M163.40,309.62H165.00M163.40,311.57H165.00M163.40,312.94H165.00" stroke="#1a1a1a" stroke-width="0.8" fill="none"/>
<text x="160.00" y="221.00" font-size="4.80" text-anchor="end" font-weight="normal" fill="#111" >10<tspan font-size="4.2" dy="-2.0">5</tspan></text>
<text x="160.00" y="248.70" font-size="4.80" text-anchor="end" font-weight="normal" fill="#111" >10<tspan font-size="4.2" dy="-2.0">4</tspan></text>
<text x="160.00" y="278.70" font-size="4.80" text-anchor="end" font-weight="normal" fill="#111" >10<tspan font-size="4.2" dy="-2.0">3</tspan></text>
<text x="160.00" y="296.70" font-size="4.80" text-anchor="end" font-weight="normal" fill="#111" >0</text>
<text x="160.00" y="315.30" font-size="4.80" text-anchor="end" font-weight="normal" fill="#111" >-10<tspan font-size="4.2" dy="-2.0">3</tspan></text>
<path d="M171.80,321.50V324.50M192.00,321.50V324.50M209.30,321.50V324.50M239.30,321.50V324.50M267.70,321.50V324.50M178.87,321.50V323.10M183.92,321.50V323.10M186.95,321.50V323.10M188.97,321.50V323.10M190.38,321.50V323.10M198.06,321.50V323.10M202.38,321.50V323.10M204.97,321.50V323.10M206.70,321.50V323.10M207.92,321.50V323.10M218.33,321.50V323.10M223.61,321.50V323.10M227.36,321.50V323.10M230.27,321.50V323.10M232.64,321.50V323.10M234.65,321.50V323.10M236.39,321.50V323.10M237.93,321.50V323.10M247.85,321.50V323.10M252.85,321.50V323.10M256.40,321.50V323.10M259.15,321.50V323.10M261.40,321.50V323.10M263.30,321.50V323.10M264.95,321.50V323.10M266.40,321.50V323.10" stroke="#1a1a1a" stroke-width="0.8" fill="none"/>
<text x="175.50" y="331.20" font-size="4.80" text-anchor="middle" font-weight="normal" fill="#111" >-10<tspan font-size="4.2" dy="-2.0">3</tspan></text>
<text x="192.40" y="331.20" font-size="4.80" text-anchor="middle" font-weight="normal" fill="#111" >0</text>
<text x="211.50" y="331.20" font-size="4.80" text-anchor="middle" font-weight="normal" fill="#111" >10<tspan font-size="4.2" dy="-2.0">3</tspan></text>
<text x="242.70" y="331.20" font-size="4.80" text-anchor="middle" font-weight="normal" fill="#111" >10<tspan font-size="4.2" dy="-2.0">4</tspan></text>
<text x="270.00" y="331.20" font-size="4.80" text-anchor="middle" font-weight="normal" fill="#111" >10<tspan font-size="4.2" dy="-2.0">5</tspan></text>
<rect x="294.00" y="209.50" width="112.50" height="112.00" fill="none" stroke="#777" stroke-width="1"/>
<path d="M291.00,219.30H294.00M291.00,247.00H294.00M291.00,277.00H294.00M291.00,295.00H294.00M291.00,313.60H294.00M292.40,238.66H294.00M292.40,233.78H294.00M292.40,230.32H294.00M292.40,227.64H294.00M292.40,225.45H294.00M292.40,223.59H294.00M292.40,221.98H294.00M292.40,220.57H294.00M292.40,267.97H294.00M292.40,262.69H294.00M292.40,258.94H294.00M292.40,256.03H294.00M292.40,253.66H294.00M292.40,251.65H294.00M292.40,249.91H294.00M292.40,248.37H294.00M292.40,288.70H294.00M292.40,284.20H294.00M292.40,281.50H294.00M292.40,279.70H294.00M292.40,278.44H294.00M292.40,301.82H294.00M292.40,306.70H294.00M292.40,309.62H294.00M292.40,311.57H294.00M292.40,312.94H294.00" stroke="#1a1a1a" stroke-width="0.8" fill="none"/>
<text x="289.00" y="221.00" font-size="4.80" text-anchor="end" font-weight="normal" fill="#111" >10<tspan font-size="4.2" dy="-2.0">5</tspan></text>
<text x="289.00" y="248.70" font-size="4.80" text-anchor="end" font-weight="normal" fill="#111" >10<tspan font-size="4.2" dy="-2.0">4</tspan></text>
<text x="289.00" y="278.70" font-size="4.80" text-anchor="end" font-weight="normal" fill="#111" >10<tspan font-size="4.2" dy="-2.0">3</tspan></text>
<text x="289.00" y="296.70" font-size="4.80" text-anchor="end" font-weight="normal" fill="#111" >0</text>
<text x="289.00" y="315.30" font-size="4.80" text-anchor="end" font-weight="normal" fill="#111" >-10<tspan font-size="4.2" dy="-2.0">3</tspan></text>
<path d="M300.80,321.50V324.50M321.00,321.50V324.50M338.30,321.50V324.50M368.30,321.50V324.50M396.70,321.50V324.50M307.87,321.50V323.10M312.92,321.50V323.10M315.95,321.50V323.10M317.97,321.50V323.10M319.38,321.50V323.10M327.06,321.50V323.10M331.38,321.50V323.10M333.98,321.50V323.10M335.70,321.50V323.10M336.92,321.50V323.10M347.33,321.50V323.10M352.61,321.50V323.10M356.36,321.50V323.10M359.27,321.50V323.10M361.64,321.50V323.10M363.65,321.50V323.10M365.39,321.50V323.10M366.93,321.50V323.10M376.85,321.50V323.10M381.85,321.50V323.10M385.40,321.50V323.10M388.15,321.50V323.10M390.40,321.50V323.10M392.30,321.50V323.10M393.95,321.50V323.10M395.40,321.50V323.10" stroke="#1a1a1a" stroke-width="0.8" fill="none"/>
<text x="304.50" y="331.20" font-size="4.80" text-anchor="middle" font-weight="normal" fill="#111" >-10<tspan font-size="4.2" dy="-2.0">3</tspan></text>
<text x="321.40" y="331.20" font-size="4.80" text-anchor="middle" font-weight="normal" fill="#111" >0</text>
<text x="340.50" y="331.20" font-size="4.80" text-anchor="middle" font-weight="normal" fill="#111" >10<tspan font-size="4.2" dy="-2.0">3</tspan></text>
<text x="371.70" y="331.20" font-size="4.80" text-anchor="middle" font-weight="normal" fill="#111" >10<tspan font-size="4.2" dy="-2.0">4</tspan></text>
<text x="399.00" y="331.20" font-size="4.80" text-anchor="middle" font-weight="normal" fill="#111" >10<tspan font-size="4.2" dy="-2.0">5</tspan></text>
<rect x="423.00" y="209.50" width="112.50" height="112.00" fill="none" stroke="#777" stroke-width="1"/>
<path d="M420.00,219.30H423.00M420.00,247.00H423.00M420.00,277.00H423.00M420.00,295.00H423.00M420.00,313.60H423.00M421.40,238.66H423.00M421.40,233.78H423.00M421.40,230.32H423.00M421.40,227.64H423.00M421.40,225.45H423.00M421.40,223.59H423.00M421.40,221.98H423.00M421.40,220.57H423.00M421.40,267.97H423.00M421.40,262.69H423.00M421.40,258.94H423.00M421.40,256.03H423.00M421.40,253.66H423.00M421.40,251.65H423.00M421.40,249.91H423.00M421.40,248.37H423.00M421.40,288.70H423.00M421.40,284.20H423.00M421.40,281.50H423.00M421.40,279.70H423.00M421.40,278.44H423.00M421.40,301.82H423.00M421.40,306.70H423.00M421.40,309.62H423.00M421.40,311.57H423.00M421.40,312.94H423.00" stroke="#1a1a1a" stroke-width="0.8" fill="none"/>
<text x="418.00" y="221.00" font-size="4.80" text-anchor="end" font-weight="normal" fill="#111" >10<tspan font-size="4.2" dy="-2.0">5</tspan></text>
<text x="418.00" y="248.70" font-size="4.80" text-anchor="end" font-weight="normal" fill="#111" >10<tspan font-size="4.2" dy="-2.0">4</tspan></text>
<text x="418.00" y="278.70" font-size="4.80" text-anchor="end" font-weight="normal" fill="#111" >10<tspan font-size="4.2" dy="-2.0">3</tspan></text>
<text x="418.00" y="296.70" font-size="4.80" text-anchor="end" font-weight="normal" fill="#111" >0</text>
<text x="418.00" y="315.30" font-size="4.80" text-anchor="end" font-weight="normal" fill="#111" >-10<tspan font-size="4.2" dy="-2.0">3</tspan></text>
<path d="M429.80,321.50V324.50M450.00,321.50V324.50M467.30,321.50V324.50M497.30,321.50V324.50M525.70,321.50V324.50M436.87,321.50V323.10M441.92,321.50V323.10M444.95,321.50V323.10M446.97,321.50V323.10M448.38,321.50V323.10M456.06,321.50V323.10M460.38,321.50V323.10M462.98,321.50V323.10M464.70,321.50V323.10M465.92,321.50V323.10M476.33,321.50V323.10M481.61,321.50V323.10M485.36,321.50V323.10M488.27,321.50V323.10M490.64,321.50V323.10M492.65,321.50V323.10M494.39,321.50V323.10M495.93,321.50V323.10M505.85,321.50V323.10M510.85,321.50V323.10M514.40,321.50V323.10M517.15,321.50V323.10M519.40,321.50V323.10M521.30,321.50V323.10M522.95,321.50V323.10M524.40,321.50V323.10" stroke="#1a1a1a" stroke-width="0.8" fill="none"/>
<text x="433.50" y="331.20" font-size="4.80" text-anchor="middle" font-weight="normal" fill="#111" >-10<tspan font-size="4.2" dy="-2.0">3</tspan></text>
<text x="450.40" y="331.20" font-size="4.80" text-anchor="middle" font-weight="normal" fill="#111" >0</text>
<text x="469.50" y="331.20" font-size="4.80" text-anchor="middle" font-weight="normal" fill="#111" >10<tspan font-size="4.2" dy="-2.0">3</tspan></text>
<text x="500.70" y="331.20" font-size="4.80" text-anchor="middle" font-weight="normal" fill="#111" >10<tspan font-size="4.2" dy="-2.0">4</tspan></text>
<text x="528.00" y="331.20" font-size="4.80" text-anchor="middle" font-weight="normal" fill="#111" >10<tspan font-size="4.2" dy="-2.0">5</tspan></text>
<path d="M44.50,232.00C44.78,229.67 45.42,227.42 47.00,226.00C48.58,224.58 51.67,223.67 54.00,223.50C56.33,223.33 59.25,223.58 61.00,225.00C62.75,226.42 63.92,228.67 64.50,232.00C65.08,235.33 64.92,241.00 64.50,245.00C64.08,249.00 63.08,253.17 62.00,256.00C60.92,258.83 59.58,261.67 58.00,262.00C56.42,262.33 54.17,260.33 52.50,258.00C50.83,255.67 49.20,251.00 48.00,248.00C46.80,245.00 45.88,242.67 45.30,240.00C44.72,237.33 44.22,234.33 44.50,232.00Z" fill="none" stroke="#262626" stroke-width="0.55"/>
<path d="M45.76,233.08C46.01,231.02 46.57,229.04 47.96,227.80C49.35,226.55 52.07,225.74 54.12,225.60C56.17,225.45 58.74,225.67 60.28,226.92C61.82,228.16 62.85,230.14 63.36,233.08C63.87,236.01 63.73,241.00 63.36,244.52C62.99,248.04 62.11,251.71 61.16,254.20C60.21,256.70 59.03,259.19 57.64,259.48C56.25,259.78 54.27,258.02 52.80,255.96C51.33,253.91 49.90,249.80 48.84,247.16C47.78,244.52 46.98,242.47 46.46,240.12C45.95,237.77 45.51,235.13 45.76,233.08Z" fill="none" stroke="#262626" stroke-width="0.55"/>
<path d="M46.77,233.94C46.99,232.11 47.49,230.35 48.73,229.24C49.97,228.13 52.39,227.41 54.22,227.28C56.05,227.15 58.33,227.35 59.70,228.46C61.08,229.57 61.99,231.33 62.45,233.94C62.91,236.56 62.77,241.00 62.45,244.14C62.12,247.27 61.34,250.54 60.49,252.76C59.64,254.98 58.59,257.20 57.35,257.46C56.11,257.73 54.35,256.16 53.04,254.33C51.73,252.50 50.45,248.84 49.51,246.49C48.57,244.14 47.85,242.31 47.40,240.22C46.94,238.13 46.55,235.77 46.77,233.94Z" fill="none" stroke="#262626" stroke-width="0.55"/>
<path d="M47.70,234.74C47.90,233.12 48.34,231.56 49.44,230.57C50.54,229.59 52.68,228.95 54.30,228.84C55.93,228.72 57.95,228.89 59.17,229.88C60.39,230.86 61.20,232.43 61.60,234.74C62.01,237.06 61.89,241.00 61.60,243.78C61.31,246.56 60.62,249.46 59.87,251.43C59.11,253.40 58.19,255.37 57.09,255.60C55.98,255.83 54.42,254.44 53.26,252.82C52.10,251.19 50.97,247.95 50.13,245.87C49.30,243.78 48.66,242.16 48.26,240.30C47.85,238.45 47.50,236.37 47.70,234.74Z" fill="none" stroke="#262626" stroke-width="0.55"/>
<path d="M48.59,235.50C48.76,234.08 49.15,232.71 50.11,231.84C51.08,230.98 52.96,230.42 54.39,230.31C55.81,230.21 57.60,230.36 58.66,231.23C59.73,232.09 60.44,233.47 60.80,235.50C61.16,237.54 61.06,241.00 60.80,243.44C60.55,245.89 59.94,248.43 59.27,250.16C58.61,251.89 57.80,253.62 56.83,253.82C55.87,254.03 54.49,252.81 53.47,251.38C52.46,249.96 51.46,247.11 50.73,245.27C49.99,243.44 49.43,242.02 49.08,240.39C48.72,238.76 48.42,236.93 48.59,235.50Z" fill="none" stroke="#262626" stroke-width="0.55"/>
<path d="M49.44,236.24C49.59,235.00 49.93,233.81 50.77,233.06C51.60,232.31 53.24,231.83 54.47,231.74C55.71,231.65 57.25,231.78 58.18,232.53C59.10,233.28 59.72,234.47 60.03,236.24C60.34,238.00 60.25,241.00 60.03,243.12C59.81,245.23 59.28,247.44 58.71,248.94C58.13,250.44 57.43,251.94 56.59,252.12C55.75,252.29 54.56,251.23 53.68,250.00C52.79,248.76 51.93,246.29 51.29,244.71C50.66,243.12 50.17,241.88 49.87,240.47C49.56,239.06 49.29,237.47 49.44,236.24Z" fill="none" stroke="#262626" stroke-width="0.55"/>
<path d="M50.27,236.95C50.40,235.90 50.68,234.88 51.40,234.24C52.11,233.61 53.50,233.19 54.55,233.12C55.60,233.04 56.91,233.16 57.70,233.79C58.49,234.43 59.02,235.44 59.28,236.95C59.54,238.45 59.47,241.00 59.28,242.80C59.09,244.60 58.64,246.48 58.15,247.76C57.66,249.03 57.06,250.31 56.35,250.46C55.64,250.61 54.62,249.71 53.87,248.66C53.12,247.61 52.39,245.50 51.85,244.15C51.31,242.80 50.89,241.75 50.63,240.55C50.37,239.35 50.14,238.00 50.27,236.95Z" fill="none" stroke="#262626" stroke-width="0.55"/>
<path d="M51.08,237.64C51.18,236.77 51.42,235.93 52.01,235.40C52.60,234.87 53.76,234.53 54.63,234.46C55.50,234.40 56.59,234.50 57.24,235.02C57.89,235.55 58.33,236.39 58.55,237.64C58.77,238.88 58.70,241.00 58.55,242.49C58.39,243.99 58.02,245.54 57.61,246.60C57.21,247.66 56.71,248.72 56.12,248.84C55.53,248.97 54.69,248.22 54.07,247.35C53.44,246.48 52.83,244.73 52.39,243.61C51.94,242.49 51.60,241.62 51.38,240.63C51.16,239.63 50.97,238.51 51.08,237.64Z" fill="none" stroke="#262626" stroke-width="0.55"/>
<path d="M51.87,238.32C51.95,237.62 52.14,236.95 52.61,236.53C53.09,236.11 54.01,235.83 54.70,235.78C55.40,235.73 56.27,235.81 56.79,236.23C57.31,236.65 57.66,237.32 57.83,238.32C58.01,239.31 57.96,241.00 57.83,242.19C57.71,243.39 57.41,244.63 57.09,245.47C56.76,246.32 56.37,247.16 55.89,247.26C55.42,247.36 54.75,246.76 54.25,246.07C53.76,245.37 53.27,243.98 52.91,243.09C52.55,242.19 52.28,241.50 52.11,240.70C51.93,239.91 51.78,239.01 51.87,238.32Z" fill="none" stroke="#262626" stroke-width="0.55"/>
<path d="M52.65,238.98C52.71,238.46 52.85,237.95 53.21,237.64C53.56,237.32 54.25,237.11 54.78,237.08C55.30,237.04 55.95,237.09 56.35,237.41C56.74,237.73 57.00,238.23 57.13,238.98C57.26,239.73 57.22,241.00 57.13,241.90C57.04,242.79 56.81,243.73 56.57,244.36C56.33,245.00 56.03,245.63 55.67,245.71C55.32,245.78 54.81,245.34 54.44,244.81C54.07,244.29 53.70,243.24 53.43,242.57C53.16,241.90 52.96,241.37 52.82,240.78C52.69,240.18 52.58,239.50 52.65,238.98Z" fill="none" stroke="#262626" stroke-width="0.55"/>
<path d="M53.41,239.64C53.45,239.28 53.55,238.94 53.79,238.73C54.03,238.51 54.49,238.37 54.85,238.35C55.20,238.32 55.64,238.36 55.91,238.57C56.17,238.79 56.35,239.13 56.44,239.64C56.53,240.14 56.50,241.00 56.44,241.61C56.38,242.21 56.23,242.84 56.06,243.27C55.90,243.70 55.69,244.13 55.45,244.18C55.21,244.23 54.87,243.93 54.62,243.58C54.37,243.22 54.12,242.52 53.94,242.06C53.76,241.61 53.62,241.25 53.53,240.85C53.44,240.44 53.37,239.99 53.41,239.64Z" fill="none" stroke="#262626" stroke-width="0.55"/>
<path d="M58.00,233.00C58.78,230.58 61.00,229.08 63.00,228.50C65.00,227.92 67.67,228.42 70.00,229.50C72.33,230.58 75.25,232.58 77.00,235.00C78.75,237.42 80.17,240.83 80.50,244.00C80.83,247.17 80.25,251.50 79.00,254.00C77.75,256.50 75.17,258.08 73.00,259.00C70.83,259.92 68.00,260.50 66.00,259.50C64.00,258.50 62.28,255.75 61.00,253.00C59.72,250.25 58.80,246.33 58.30,243.00C57.80,239.67 57.22,235.42 58.00,233.00Z" fill="none" stroke="#262626" stroke-width="0.55"/>
<path d="M59.44,234.68C60.13,232.55 62.08,231.23 63.84,230.72C65.60,230.20 67.95,230.64 70.00,231.60C72.05,232.55 74.62,234.31 76.16,236.44C77.70,238.57 78.95,241.57 79.24,244.36C79.54,247.15 79.02,250.96 77.92,253.16C76.82,255.36 74.55,256.76 72.64,257.56C70.73,258.37 68.24,258.88 66.48,258.00C64.72,257.12 63.21,254.70 62.08,252.28C60.95,249.86 60.14,246.41 59.70,243.48C59.26,240.55 58.75,236.80 59.44,234.68Z" fill="none" stroke="#262626" stroke-width="0.55"/>
<path d="M60.59,236.02C61.21,234.13 62.94,232.95 64.51,232.50C66.08,232.04 68.17,232.43 70.00,233.28C71.83,234.13 74.12,235.70 75.49,237.59C76.86,239.49 77.97,242.17 78.23,244.65C78.49,247.13 78.04,250.53 77.06,252.49C76.08,254.45 74.05,255.69 72.35,256.41C70.65,257.13 68.43,257.58 66.86,256.80C65.30,256.02 63.95,253.86 62.94,251.70C61.94,249.55 61.22,246.48 60.83,243.86C60.44,241.25 59.98,237.92 60.59,236.02Z" fill="none" stroke="#262626" stroke-width="0.55"/>
<path d="M61.66,237.27C62.20,235.59 63.74,234.55 65.13,234.14C66.52,233.74 68.38,234.08 70.00,234.84C71.62,235.59 73.65,236.98 74.87,238.66C76.08,240.34 77.07,242.71 77.30,244.91C77.53,247.12 77.12,250.13 76.26,251.87C75.39,253.60 73.59,254.70 72.09,255.34C70.58,255.98 68.61,256.38 67.22,255.69C65.83,254.99 64.64,253.08 63.74,251.17C62.85,249.26 62.21,246.54 61.87,244.22C61.52,241.90 61.11,238.95 61.66,237.27Z" fill="none" stroke="#262626" stroke-width="0.55"/>
<path d="M62.67,238.45C63.15,236.98 64.50,236.06 65.73,235.70C66.95,235.35 68.58,235.65 70.00,236.31C71.42,236.98 73.21,238.20 74.27,239.67C75.34,241.15 76.21,243.23 76.41,245.17C76.62,247.10 76.26,249.75 75.50,251.27C74.73,252.80 73.15,253.77 71.83,254.33C70.51,254.89 68.78,255.24 67.56,254.63C66.34,254.02 65.29,252.34 64.50,250.66C63.72,248.98 63.16,246.59 62.86,244.56C62.55,242.52 62.19,239.93 62.67,238.45Z" fill="none" stroke="#262626" stroke-width="0.55"/>
<path d="M63.65,239.59C64.06,238.31 65.24,237.52 66.29,237.21C67.35,236.90 68.76,237.16 70.00,237.74C71.24,238.31 72.78,239.37 73.71,240.65C74.63,241.93 75.38,243.74 75.56,245.41C75.73,247.09 75.43,249.38 74.76,250.71C74.10,252.03 72.73,252.87 71.59,253.35C70.44,253.84 68.94,254.15 67.88,253.62C66.82,253.09 65.92,251.63 65.24,250.18C64.56,248.72 64.07,246.65 63.81,244.88C63.54,243.12 63.23,240.87 63.65,239.59Z" fill="none" stroke="#262626" stroke-width="0.55"/>
<path d="M64.59,240.69C64.95,239.61 65.95,238.93 66.85,238.67C67.75,238.40 68.95,238.63 70.00,239.12C71.05,239.61 72.36,240.51 73.15,241.59C73.94,242.68 74.58,244.22 74.73,245.65C74.88,247.08 74.62,249.03 74.05,250.15C73.49,251.28 72.33,251.99 71.35,252.41C70.38,252.82 69.10,253.08 68.20,252.63C67.30,252.18 66.52,250.94 65.95,249.70C65.37,248.46 64.96,246.70 64.73,245.20C64.50,243.70 64.24,241.78 64.59,240.69Z" fill="none" stroke="#262626" stroke-width="0.55"/>
<path d="M65.52,241.77C65.81,240.87 66.64,240.31 67.39,240.09C68.13,239.87 69.13,240.06 70.00,240.46C70.87,240.87 71.96,241.62 72.61,242.52C73.27,243.42 73.80,244.70 73.92,245.88C74.05,247.06 73.83,248.68 73.36,249.61C72.89,250.55 71.93,251.14 71.12,251.48C70.31,251.82 69.25,252.04 68.51,251.67C67.76,251.29 67.12,250.27 66.64,249.24C66.16,248.21 65.82,246.75 65.63,245.51C65.44,244.26 65.23,242.67 65.52,241.77Z" fill="none" stroke="#262626" stroke-width="0.55"/>
<path d="M66.42,242.83C66.66,242.11 67.32,241.66 67.91,241.48C68.51,241.31 69.30,241.46 70.00,241.78C70.70,242.11 71.57,242.70 72.09,243.42C72.61,244.14 73.03,245.16 73.13,246.11C73.23,247.05 73.06,248.34 72.68,249.09C72.31,249.83 71.54,250.30 70.89,250.58C70.25,250.85 69.40,251.03 68.81,250.73C68.21,250.43 67.70,249.61 67.32,248.79C66.93,247.97 66.66,246.80 66.51,245.81C66.36,244.81 66.19,243.55 66.42,242.83Z" fill="none" stroke="#262626" stroke-width="0.55"/>
<path d="M67.31,243.86C67.48,243.32 67.98,242.98 68.43,242.85C68.88,242.72 69.48,242.83 70.00,243.08C70.52,243.32 71.18,243.77 71.57,244.31C71.96,244.85 72.28,245.62 72.35,246.33C72.43,247.04 72.30,248.01 72.02,248.57C71.74,249.13 71.16,249.49 70.67,249.69C70.19,249.90 69.55,250.03 69.10,249.80C68.65,249.58 68.27,248.96 67.98,248.35C67.69,247.73 67.49,246.85 67.38,246.10C67.26,245.36 67.13,244.40 67.31,243.86Z" fill="none" stroke="#262626" stroke-width="0.55"/>
<path d="M68.18,244.88C68.30,244.51 68.64,244.28 68.94,244.20C69.24,244.11 69.65,244.18 70.00,244.35C70.35,244.51 70.80,244.81 71.06,245.18C71.33,245.55 71.54,246.07 71.59,246.55C71.64,247.03 71.55,247.68 71.36,248.06C71.17,248.44 70.78,248.68 70.45,248.82C70.13,248.96 69.70,249.05 69.39,248.89C69.09,248.74 68.83,248.33 68.64,247.91C68.44,247.49 68.30,246.90 68.23,246.39C68.15,245.89 68.06,245.24 68.18,244.88Z" fill="none" stroke="#262626" stroke-width="0.55"/>
<path d="M173.00,232.00C173.28,229.67 173.92,227.42 175.50,226.00C177.08,224.58 180.17,223.67 182.50,223.50C184.83,223.33 187.75,223.58 189.50,225.00C191.25,226.42 192.42,228.67 193.00,232.00C193.58,235.33 193.42,241.00 193.00,245.00C192.58,249.00 191.58,253.17 190.50,256.00C189.42,258.83 188.08,261.67 186.50,262.00C184.92,262.33 182.67,260.33 181.00,258.00C179.33,255.67 177.70,251.00 176.50,248.00C175.30,245.00 174.38,242.67 173.80,240.00C173.22,237.33 172.72,234.33 173.00,232.00Z" fill="none" stroke="#262626" stroke-width="0.55"/>
<path d="M174.26,233.08C174.51,231.02 175.07,229.04 176.46,227.80C177.85,226.55 180.57,225.74 182.62,225.60C184.67,225.45 187.24,225.67 188.78,226.92C190.32,228.16 191.35,230.14 191.86,233.08C192.37,236.01 192.23,241.00 191.86,244.52C191.49,248.04 190.61,251.71 189.66,254.20C188.71,256.70 187.53,259.19 186.14,259.48C184.75,259.78 182.77,258.02 181.30,255.96C179.83,253.91 178.40,249.80 177.34,247.16C176.28,244.52 175.48,242.47 174.96,240.12C174.45,237.77 174.01,235.13 174.26,233.08Z" fill="none" stroke="#262626" stroke-width="0.55"/>
<path d="M175.27,233.94C175.49,232.11 175.99,230.35 177.23,229.24C178.47,228.13 180.89,227.41 182.72,227.28C184.55,227.15 186.83,227.35 188.20,228.46C189.58,229.57 190.49,231.33 190.95,233.94C191.41,236.56 191.27,241.00 190.95,244.14C190.62,247.27 189.84,250.54 188.99,252.76C188.14,254.98 187.09,257.20 185.85,257.46C184.61,257.73 182.85,256.16 181.54,254.33C180.23,252.50 178.95,248.84 178.01,246.49C177.07,244.14 176.35,242.31 175.90,240.22C175.44,238.13 175.05,235.77 175.27,233.94Z" fill="none" stroke="#262626" stroke-width="0.55"/>
<path d="M176.20,234.74C176.40,233.12 176.84,231.56 177.94,230.57C179.04,229.59 181.18,228.95 182.80,228.84C184.43,228.72 186.45,228.89 187.67,229.88C188.89,230.86 189.70,232.43 190.10,234.74C190.51,237.06 190.39,241.00 190.10,243.78C189.81,246.56 189.12,249.46 188.37,251.43C187.61,253.40 186.69,255.37 185.59,255.60C184.48,255.83 182.92,254.44 181.76,252.82C180.60,251.19 179.47,247.95 178.63,245.87C177.80,243.78 177.16,242.16 176.76,240.30C176.35,238.45 176.00,236.37 176.20,234.74Z" fill="none" stroke="#262626" stroke-width="0.55"/>
<path d="M177.09,235.50C177.26,234.08 177.65,232.71 178.61,231.84C179.58,230.98 181.46,230.42 182.89,230.31C184.31,230.21 186.10,230.36 187.16,231.23C188.23,232.09 188.94,233.47 189.30,235.50C189.66,237.54 189.56,241.00 189.30,243.44C189.05,245.89 188.44,248.43 187.77,250.16C187.11,251.89 186.30,253.62 185.33,253.82C184.37,254.03 182.99,252.81 181.97,251.38C180.96,249.96 179.96,247.11 179.23,245.27C178.49,243.44 177.93,242.02 177.58,240.39C177.22,238.76 176.92,236.93 177.09,235.50Z" fill="none" stroke="#262626" stroke-width="0.55"/>
<path d="M177.94,236.24C178.09,235.00 178.43,233.81 179.27,233.06C180.10,232.31 181.74,231.83 182.97,231.74C184.21,231.65 185.75,231.78 186.68,232.53C187.60,233.28 188.22,234.47 188.53,236.24C188.84,238.00 188.75,241.00 188.53,243.12C188.31,245.23 187.78,247.44 187.21,248.94C186.63,250.44 185.93,251.94 185.09,252.12C184.25,252.29 183.06,251.23 182.18,250.00C181.29,248.76 180.43,246.29 179.79,244.71C179.16,243.12 178.67,241.88 178.37,240.47C178.06,239.06 177.79,237.47 177.94,236.24Z" fill="none" stroke="#262626" stroke-width="0.55"/>
<path d="M178.77,236.95C178.90,235.90 179.18,234.88 179.90,234.24C180.61,233.61 182.00,233.19 183.05,233.12C184.10,233.04 185.41,233.16 186.20,233.79C186.99,234.43 187.52,235.44 187.78,236.95C188.04,238.45 187.97,241.00 187.78,242.80C187.59,244.60 187.14,246.48 186.65,247.76C186.16,249.03 185.56,250.31 184.85,250.46C184.14,250.61 183.12,249.71 182.37,248.66C181.62,247.61 180.89,245.50 180.35,244.15C179.81,242.80 179.39,241.75 179.13,240.55C178.87,239.35 178.64,238.00 178.77,236.95Z" fill="none" stroke="#262626" stroke-width="0.55"/>
<path d="M179.58,237.64C179.68,236.77 179.92,235.93 180.51,235.40C181.10,234.87 182.26,234.53 183.13,234.46C184.00,234.40 185.09,234.50 185.74,235.02C186.39,235.55 186.83,236.39 187.05,237.64C187.27,238.88 187.20,241.00 187.05,242.49C186.89,243.99 186.52,245.54 186.11,246.60C185.71,247.66 185.21,248.72 184.62,248.84C184.03,248.97 183.19,248.22 182.57,247.35C181.94,246.48 181.33,244.73 180.89,243.61C180.44,242.49 180.10,241.62 179.88,240.63C179.66,239.63 179.47,238.51 179.58,237.64Z" fill="none" stroke="#262626" stroke-width="0.55"/>
<path d="M180.37,238.32C180.45,237.62 180.64,236.95 181.11,236.53C181.59,236.11 182.51,235.83 183.20,235.78C183.90,235.73 184.77,235.81 185.29,236.23C185.81,236.65 186.16,237.32 186.33,238.32C186.51,239.31 186.46,241.00 186.33,242.19C186.21,243.39 185.91,244.63 185.59,245.47C185.26,246.32 184.87,247.16 184.39,247.26C183.92,247.36 183.25,246.76 182.75,246.07C182.26,245.37 181.77,243.98 181.41,243.09C181.05,242.19 180.78,241.50 180.61,240.70C180.43,239.91 180.28,239.01 180.37,238.32Z" fill="none" stroke="#262626" stroke-width="0.55"/>
<path d="M181.15,238.98C181.21,238.46 181.35,237.95 181.71,237.64C182.06,237.32 182.75,237.11 183.28,237.08C183.80,237.04 184.45,237.09 184.85,237.41C185.24,237.73 185.50,238.23 185.63,238.98C185.76,239.73 185.72,241.00 185.63,241.90C185.54,242.79 185.31,243.73 185.07,244.36C184.83,245.00 184.53,245.63 184.17,245.71C183.82,245.78 183.31,245.34 182.94,244.81C182.57,244.29 182.20,243.24 181.93,242.57C181.66,241.90 181.46,241.37 181.32,240.78C181.19,240.18 181.08,239.50 181.15,238.98Z" fill="none" stroke="#262626" stroke-width="0.55"/>
<path d="M181.91,239.64C181.95,239.28 182.05,238.94 182.29,238.73C182.53,238.51 182.99,238.37 183.35,238.35C183.70,238.32 184.14,238.36 184.41,238.57C184.67,238.79 184.85,239.13 184.94,239.64C185.03,240.14 185.00,241.00 184.94,241.61C184.88,242.21 184.73,242.84 184.56,243.27C184.40,243.70 184.19,244.13 183.95,244.18C183.71,244.23 183.37,243.93 183.12,243.58C182.87,243.22 182.62,242.52 182.44,242.06C182.26,241.61 182.12,241.25 182.03,240.85C181.94,240.44 181.87,239.99 181.91,239.64Z" fill="none" stroke="#262626" stroke-width="0.55"/>
<path d="M186.50,233.00C187.28,230.58 189.50,229.08 191.50,228.50C193.50,227.92 196.17,228.42 198.50,229.50C200.83,230.58 203.75,232.58 205.50,235.00C207.25,237.42 208.67,240.83 209.00,244.00C209.33,247.17 208.75,251.50 207.50,254.00C206.25,256.50 203.67,258.08 201.50,259.00C199.33,259.92 196.50,260.50 194.50,259.50C192.50,258.50 190.78,255.75 189.50,253.00C188.22,250.25 187.30,246.33 186.80,243.00C186.30,239.67 185.72,235.42 186.50,233.00Z" fill="none" stroke="#262626" stroke-width="0.55"/>
<path d="M187.94,234.68C188.63,232.55 190.58,231.23 192.34,230.72C194.10,230.20 196.45,230.64 198.50,231.60C200.55,232.55 203.12,234.31 204.66,236.44C206.20,238.57 207.45,241.57 207.74,244.36C208.04,247.15 207.52,250.96 206.42,253.16C205.32,255.36 203.05,256.76 201.14,257.56C199.23,258.37 196.74,258.88 194.98,258.00C193.22,257.12 191.71,254.70 190.58,252.28C189.45,249.86 188.64,246.41 188.20,243.48C187.76,240.55 187.25,236.80 187.94,234.68Z" fill="none" stroke="#262626" stroke-width="0.55"/>
<path d="M189.09,236.02C189.71,234.13 191.44,232.95 193.01,232.50C194.58,232.04 196.67,232.43 198.50,233.28C200.33,234.13 202.62,235.70 203.99,237.59C205.36,239.49 206.47,242.17 206.73,244.65C206.99,247.13 206.54,250.53 205.56,252.49C204.58,254.45 202.55,255.69 200.85,256.41C199.15,257.13 196.93,257.58 195.36,256.80C193.80,256.02 192.45,253.86 191.44,251.70C190.44,249.55 189.72,246.48 189.33,243.86C188.94,241.25 188.48,237.92 189.09,236.02Z" fill="none" stroke="#262626" stroke-width="0.55"/>
<path d="M190.16,237.27C190.70,235.59 192.24,234.55 193.63,234.14C195.02,233.74 196.88,234.08 198.50,234.84C200.12,235.59 202.15,236.98 203.37,238.66C204.58,240.34 205.57,242.71 205.80,244.91C206.03,247.12 205.62,250.13 204.76,251.87C203.89,253.60 202.09,254.70 200.59,255.34C199.08,255.98 197.11,256.38 195.72,255.69C194.33,254.99 193.14,253.08 192.24,251.17C191.35,249.26 190.71,246.54 190.37,244.22C190.02,241.90 189.61,238.95 190.16,237.27Z" fill="none" stroke="#262626" stroke-width="0.55"/>
<path d="M191.17,238.45C191.65,236.98 193.00,236.06 194.23,235.70C195.45,235.35 197.08,235.65 198.50,236.31C199.92,236.98 201.71,238.20 202.77,239.67C203.84,241.15 204.71,243.23 204.91,245.17C205.12,247.10 204.76,249.75 204.00,251.27C203.23,252.80 201.65,253.77 200.33,254.33C199.01,254.89 197.28,255.24 196.06,254.63C194.84,254.02 193.79,252.34 193.00,250.66C192.22,248.98 191.66,246.59 191.36,244.56C191.05,242.52 190.69,239.93 191.17,238.45Z" fill="none" stroke="#262626" stroke-width="0.55"/>
<path d="M192.15,239.59C192.56,238.31 193.74,237.52 194.79,237.21C195.85,236.90 197.26,237.16 198.50,237.74C199.74,238.31 201.28,239.37 202.21,240.65C203.13,241.93 203.88,243.74 204.06,245.41C204.23,247.09 203.93,249.38 203.26,250.71C202.60,252.03 201.23,252.87 200.09,253.35C198.94,253.84 197.44,254.15 196.38,253.62C195.32,253.09 194.42,251.63 193.74,250.18C193.06,248.72 192.57,246.65 192.31,244.88C192.04,243.12 191.73,240.87 192.15,239.59Z" fill="none" stroke="#262626" stroke-width="0.55"/>
<path d="M193.09,240.69C193.45,239.61 194.45,238.93 195.35,238.67C196.25,238.40 197.45,238.63 198.50,239.12C199.55,239.61 200.86,240.51 201.65,241.59C202.44,242.68 203.08,244.22 203.23,245.65C203.38,247.08 203.12,249.03 202.55,250.15C201.99,251.28 200.83,251.99 199.85,252.41C198.88,252.82 197.60,253.08 196.70,252.63C195.80,252.18 195.02,250.94 194.45,249.70C193.87,248.46 193.46,246.70 193.23,245.20C193.00,243.70 192.74,241.78 193.09,240.69Z" fill="none" stroke="#262626" stroke-width="0.55"/>
<path d="M194.02,241.77C194.31,240.87 195.14,240.31 195.89,240.09C196.63,239.87 197.63,240.06 198.50,240.46C199.37,240.87 200.46,241.62 201.11,242.52C201.77,243.42 202.30,244.70 202.42,245.88C202.55,247.06 202.33,248.68 201.86,249.61C201.39,250.55 200.43,251.14 199.62,251.48C198.81,251.82 197.75,252.04 197.01,251.67C196.26,251.29 195.62,250.27 195.14,249.24C194.66,248.21 194.32,246.75 194.13,245.51C193.94,244.26 193.73,242.67 194.02,241.77Z" fill="none" stroke="#262626" stroke-width="0.55"/>
<path d="M194.92,242.83C195.16,242.11 195.82,241.66 196.41,241.48C197.01,241.31 197.80,241.46 198.50,241.78C199.20,242.11 200.07,242.70 200.59,243.42C201.11,244.14 201.53,245.16 201.63,246.11C201.73,247.05 201.56,248.34 201.18,249.09C200.81,249.83 200.04,250.30 199.39,250.58C198.75,250.85 197.90,251.03 197.31,250.73C196.71,250.43 196.20,249.61 195.82,248.79C195.43,247.97 195.16,246.80 195.01,245.81C194.86,244.81 194.69,243.55 194.92,242.83Z" fill="none" stroke="#262626" stroke-width="0.55"/>
<path d="M195.81,243.86C195.98,243.32 196.48,242.98 196.93,242.85C197.38,242.72 197.98,242.83 198.50,243.08C199.02,243.32 199.68,243.77 200.07,244.31C200.46,244.85 200.78,245.62 200.85,246.33C200.93,247.04 200.80,248.01 200.52,248.57C200.24,249.13 199.66,249.49 199.17,249.69C198.69,249.90 198.05,250.03 197.60,249.80C197.15,249.58 196.77,248.96 196.48,248.35C196.19,247.73 195.99,246.85 195.88,246.10C195.76,245.36 195.63,244.40 195.81,243.86Z" fill="none" stroke="#262626" stroke-width="0.55"/>
<path d="M196.68,244.88C196.80,244.51 197.14,244.28 197.44,244.20C197.74,244.11 198.15,244.18 198.50,244.35C198.85,244.51 199.30,244.81 199.56,245.18C199.83,245.55 200.04,246.07 200.09,246.55C200.14,247.03 200.05,247.68 199.86,248.06C199.67,248.44 199.28,248.68 198.95,248.82C198.63,248.96 198.20,249.05 197.89,248.89C197.59,248.74 197.33,248.33 197.14,247.91C196.94,247.49 196.80,246.90 196.73,246.39C196.65,245.89 196.56,245.24 196.68,244.88Z" fill="none" stroke="#262626" stroke-width="0.55"/>
<path d="M303.50,229.00C304.50,226.75 306.92,226.67 310.00,226.50C313.08,226.33 317.83,227.42 322.00,228.00C326.17,228.58 331.92,229.00 335.00,230.00C338.08,231.00 340.33,231.33 340.50,234.00C340.67,236.67 338.08,241.33 336.00,246.00C333.92,250.67 330.42,257.08 328.00,262.00C325.58,266.92 323.33,274.17 321.50,275.50C319.67,276.83 318.75,273.58 317.00,270.00C315.25,266.42 313.17,259.00 311.00,254.00C308.83,249.00 305.25,244.17 304.00,240.00C302.75,235.83 302.50,231.25 303.50,229.00Z" fill="none" stroke="#262626" stroke-width="0.55"/>
<path d="M305.77,231.20C306.68,229.25 308.69,229.13 311.37,228.93C314.06,228.73 318.24,229.50 321.89,230.00C325.54,230.50 330.60,231.03 333.30,231.95C335.99,232.87 337.83,233.17 338.04,235.51C338.25,237.85 336.35,241.88 334.55,246.00C332.75,250.12 329.43,256.03 327.24,260.26C325.05,264.50 323.05,270.31 321.43,271.41C319.81,272.52 319.12,269.91 317.52,266.90C315.92,263.88 313.76,257.71 311.82,253.34C309.88,248.97 306.90,244.36 305.89,240.67C304.88,236.98 304.85,233.16 305.77,231.20Z" fill="none" stroke="#262626" stroke-width="0.55"/>
<path d="M307.51,232.90C308.36,231.17 310.04,231.03 312.43,230.80C314.81,230.57 318.54,231.07 321.80,231.51C325.07,231.95 329.60,232.58 331.99,233.44C334.38,234.30 335.91,234.58 336.15,236.68C336.40,238.77 335.05,242.29 333.47,246.00C331.89,249.71 328.68,255.24 326.66,258.94C324.65,262.65 322.83,267.32 321.38,268.24C319.92,269.17 319.41,267.07 317.92,264.50C316.42,261.94 314.18,256.75 312.42,252.87C310.65,248.98 308.14,244.50 307.32,241.17C306.50,237.84 306.66,234.63 307.51,232.90Z" fill="none" stroke="#262626" stroke-width="0.55"/>
<path d="M309.06,234.40C309.85,232.87 311.25,232.71 313.36,232.46C315.47,232.20 318.82,232.48 321.73,232.86C324.64,233.25 328.71,233.96 330.83,234.76C332.96,235.57 334.20,235.83 334.48,237.70C334.76,239.58 333.89,242.66 332.50,246.00C331.11,249.34 328.01,254.53 326.15,257.77C324.29,261.01 322.64,264.68 321.33,265.45C320.02,266.22 319.66,264.56 318.27,262.39C316.87,260.22 314.57,255.89 312.96,252.43C311.35,248.97 309.24,244.63 308.59,241.62C307.94,238.62 308.26,235.93 309.06,234.40Z" fill="none" stroke="#262626" stroke-width="0.55"/>
<path d="M310.45,235.76C311.20,234.41 312.34,234.24 314.21,233.96C316.08,233.68 319.07,233.77 321.66,234.10C324.26,234.43 327.90,235.21 329.78,235.97C331.66,236.72 332.66,236.97 332.96,238.64C333.27,240.31 332.81,242.99 331.60,246.00C330.38,249.01 327.40,253.87 325.68,256.69C323.96,259.52 322.47,262.30 321.29,262.93C320.11,263.56 319.89,262.29 318.59,260.47C317.29,258.66 314.95,255.09 313.48,252.02C312.00,248.95 310.26,244.74 309.76,242.03C309.26,239.32 309.71,237.10 310.45,235.76Z" fill="none" stroke="#262626" stroke-width="0.55"/>
<path d="M311.73,236.99C312.42,235.81 313.34,235.63 314.98,235.34C316.63,235.04 319.29,234.96 321.60,235.25C323.90,235.54 327.15,236.37 328.81,237.07C330.47,237.78 331.25,238.00 331.57,239.49C331.90,240.98 331.80,243.30 330.74,246.00C329.69,248.70 326.82,253.25 325.24,255.69C323.66,258.13 322.31,260.15 321.25,260.65C320.19,261.16 320.09,260.23 318.88,258.73C317.67,257.22 315.31,254.34 313.97,251.62C312.63,248.90 311.22,244.85 310.85,242.42C310.47,239.98 311.04,238.17 311.73,236.99Z" fill="none" stroke="#262626" stroke-width="0.55"/>
<path d="M312.90,238.13C313.54,237.10 314.26,236.90 315.70,236.60C317.14,236.30 319.50,236.08 321.54,236.33C323.57,236.57 326.46,237.44 327.92,238.10C329.38,238.75 329.96,238.96 330.30,240.28C330.63,241.60 330.84,243.59 329.93,246.00C329.01,248.41 326.28,252.65 324.83,254.75C323.37,256.84 322.16,258.18 321.21,258.58C320.27,258.98 320.27,258.35 319.15,257.12C318.02,255.90 315.68,253.62 314.46,251.23C313.25,248.84 312.12,244.96 311.86,242.78C311.60,240.59 312.26,239.16 312.90,238.13Z" fill="none" stroke="#262626" stroke-width="0.55"/>
<path d="M313.97,239.17C314.56,238.28 315.11,238.08 316.36,237.77C317.61,237.47 319.69,237.13 321.48,237.34C323.27,237.55 325.82,238.43 327.09,239.04C328.36,239.65 328.78,239.84 329.12,241.00C329.46,242.16 329.92,243.86 329.14,246.00C328.36,248.14 325.76,252.08 324.44,253.86C323.11,255.64 322.02,256.40 321.18,256.70C320.34,257.00 320.43,256.63 319.39,255.65C318.35,254.68 316.04,252.94 314.94,250.85C313.85,248.76 312.98,245.06 312.82,243.11C312.66,241.17 313.38,240.06 313.97,239.17Z" fill="none" stroke="#262626" stroke-width="0.55"/>
<path d="M314.96,240.13C315.50,239.37 315.89,239.16 316.97,238.85C318.05,238.55 319.87,238.11 321.43,238.29C322.99,238.47 325.22,239.36 326.32,239.92C327.42,240.48 327.69,240.66 328.04,241.67C328.38,242.68 329.05,244.11 328.39,246.00C327.73,247.89 325.28,251.52 324.07,253.02C322.86,254.52 321.89,254.78 321.15,254.99C320.41,255.21 320.57,255.06 319.62,254.31C318.66,253.55 316.40,252.28 315.42,250.46C314.44,248.65 313.80,245.15 313.72,243.43C313.64,241.71 314.41,240.89 314.96,240.13Z" fill="none" stroke="#262626" stroke-width="0.55"/>
<path d="M315.85,241.00C316.35,240.36 316.61,240.15 317.53,239.85C318.45,239.55 320.03,239.04 321.38,239.19C322.72,239.34 324.67,240.22 325.61,240.73C326.55,241.25 326.70,241.41 327.04,242.28C327.38,243.16 328.21,244.34 327.65,246.00C327.10,247.66 324.81,250.98 323.72,252.22C322.63,253.46 321.78,253.31 321.13,253.45C320.48,253.60 320.69,253.63 319.82,253.07C318.95,252.51 316.77,251.64 315.90,250.08C315.02,248.52 314.57,245.24 314.57,243.73C314.56,242.22 315.36,241.65 315.85,241.00Z" fill="none" stroke="#262626" stroke-width="0.55"/>
<path d="M316.68,241.80C317.12,241.26 317.27,241.06 318.05,240.76C318.82,240.47 320.18,239.92 321.33,240.04C322.48,240.16 324.15,241.02 324.95,241.48C325.75,241.95 325.79,242.09 326.12,242.85C326.45,243.60 327.40,244.56 326.94,246.00C326.49,247.44 324.36,250.45 323.39,251.47C322.42,252.48 321.67,251.99 321.10,252.07C320.54,252.16 320.80,252.34 320.01,251.95C319.22,251.55 317.15,251.02 316.38,249.70C315.60,248.38 315.32,245.33 315.37,244.01C315.42,242.70 316.23,242.34 316.68,241.80Z" fill="none" stroke="#262626" stroke-width="0.55"/>
<path d="M317.22,242.33C317.62,241.86 317.73,241.68 318.41,241.41C319.09,241.15 320.28,240.64 321.29,240.74C322.30,240.84 323.77,241.62 324.47,242.04C325.17,242.45 325.19,242.58 325.49,243.24C325.79,243.90 326.66,244.74 326.27,246.00C325.87,247.26 323.97,249.95 323.11,250.83C322.25,251.70 321.59,251.21 321.09,251.27C320.59,251.33 320.83,251.53 320.13,251.20C319.43,250.87 317.57,250.45 316.89,249.29C316.20,248.13 315.98,245.41 316.03,244.25C316.09,243.09 316.83,242.80 317.22,242.33Z" fill="none" stroke="#262626" stroke-width="0.55"/>
<path d="M317.69,242.79C318.04,242.37 318.14,242.22 318.73,241.98C319.33,241.75 320.37,241.31 321.26,241.40C322.14,241.49 323.42,242.17 324.04,242.53C324.65,242.90 324.66,243.01 324.93,243.58C325.19,244.16 325.96,244.89 325.61,246.00C325.26,247.11 323.60,249.46 322.85,250.22C322.09,250.99 321.51,250.56 321.08,250.61C320.64,250.66 320.86,250.84 320.24,250.55C319.63,250.26 318.00,249.89 317.40,248.88C316.80,247.87 316.60,245.48 316.65,244.47C316.70,243.45 317.35,243.20 317.69,242.79Z" fill="none" stroke="#262626" stroke-width="0.55"/>
<path d="M318.16,243.24C318.46,242.88 318.54,242.75 319.05,242.55C319.56,242.35 320.46,241.96 321.22,242.04C321.98,242.12 323.08,242.70 323.61,243.02C324.14,243.33 324.15,243.43 324.38,243.92C324.60,244.42 325.26,245.05 324.96,246.00C324.67,246.95 323.24,248.97 322.59,249.63C321.94,250.29 321.44,249.92 321.07,249.96C320.69,250.01 320.88,250.16 320.35,249.91C319.82,249.66 318.42,249.35 317.91,248.48C317.39,247.60 317.22,245.55 317.26,244.68C317.30,243.81 317.86,243.59 318.16,243.24Z" fill="none" stroke="#262626" stroke-width="0.55"/>
<path d="M318.61,243.68C318.86,243.38 318.94,243.27 319.37,243.10C319.79,242.94 320.55,242.61 321.18,242.68C321.82,242.74 322.75,243.23 323.19,243.50C323.63,243.76 323.64,243.84 323.83,244.26C324.02,244.67 324.58,245.20 324.33,246.00C324.08,246.80 322.88,248.49 322.33,249.05C321.79,249.60 321.37,249.29 321.06,249.33C320.74,249.37 320.90,249.49 320.45,249.28C320.01,249.07 318.83,248.81 318.40,248.08C317.97,247.35 317.83,245.63 317.86,244.89C317.90,244.16 318.36,243.98 318.61,243.68Z" fill="none" stroke="#262626" stroke-width="0.55"/>
<path d="M319.06,244.12C319.27,243.88 319.33,243.78 319.67,243.65C320.02,243.51 320.63,243.25 321.15,243.31C321.67,243.36 322.42,243.76 322.78,243.97C323.14,244.18 323.14,244.25 323.30,244.59C323.45,244.92 323.90,245.35 323.70,246.00C323.50,246.65 322.52,248.02 322.08,248.47C321.64,248.92 321.30,248.67 321.05,248.70C320.79,248.73 320.92,248.83 320.56,248.66C320.20,248.49 319.24,248.28 318.89,247.69C318.54,247.09 318.43,245.70 318.45,245.10C318.48,244.51 318.86,244.36 319.06,244.12Z" fill="none" stroke="#262626" stroke-width="0.55"/>
<path d="M319.51,244.55C319.66,244.36 319.71,244.29 319.98,244.19C320.25,244.08 320.72,243.88 321.12,243.92C321.51,243.96 322.09,244.27 322.37,244.43C322.65,244.60 322.65,244.65 322.77,244.91C322.89,245.17 323.24,245.50 323.08,246.00C322.92,246.50 322.17,247.56 321.83,247.91C321.49,248.25 321.23,248.05 321.04,248.08C320.84,248.10 320.93,248.18 320.66,248.05C320.38,247.92 319.65,247.76 319.38,247.30C319.11,246.84 319.02,245.77 319.04,245.31C319.06,244.85 319.35,244.74 319.51,244.55Z" fill="none" stroke="#262626" stroke-width="0.55"/>
<path d="M319.95,244.98C320.06,244.85 320.09,244.80 320.28,244.72C320.47,244.65 320.80,244.51 321.08,244.53C321.36,244.56 321.77,244.78 321.97,244.90C322.16,245.01 322.17,245.05 322.25,245.23C322.33,245.41 322.58,245.65 322.47,246.00C322.36,246.35 321.83,247.10 321.59,247.34C321.35,247.59 321.16,247.45 321.02,247.47C320.89,247.48 320.95,247.54 320.76,247.45C320.56,247.36 320.04,247.24 319.85,246.92C319.66,246.59 319.60,245.83 319.62,245.51C319.63,245.19 319.84,245.11 319.95,244.98Z" fill="none" stroke="#262626" stroke-width="0.55"/>
<path d="M433.40,236.00C433.68,233.32 434.43,229.52 436.70,227.90C438.97,226.28 443.38,226.30 447.00,226.30C450.62,226.30 455.57,226.95 458.40,227.90C461.23,228.85 462.88,229.98 464.00,232.00C465.12,234.02 465.77,237.83 465.10,240.00C464.43,242.17 463.35,244.00 460.00,245.00C456.65,246.00 449.17,246.17 445.00,246.00C440.83,245.83 436.93,245.67 435.00,244.00C433.07,242.33 433.12,238.68 433.40,236.00Z" fill="none" stroke="#262626" stroke-width="0.55"/>
<path d="M434.47,236.00C434.73,233.54 435.41,230.06 437.49,228.59C439.56,227.11 443.60,227.12 446.92,227.12C450.23,227.12 454.76,227.72 457.35,228.59C459.94,229.45 461.46,230.49 462.48,232.34C463.50,234.18 464.09,237.68 463.48,239.66C462.87,241.65 461.88,243.32 458.82,244.24C455.75,245.15 448.90,245.31 445.08,245.15C441.27,245.00 437.70,244.85 435.93,243.32C434.16,241.80 434.21,238.46 434.47,236.00Z" fill="none" stroke="#262626" stroke-width="0.55"/>
<path d="M435.32,236.00C435.56,233.73 436.20,230.51 438.12,229.13C440.04,227.76 443.78,227.78 446.85,227.78C449.91,227.78 454.11,228.33 456.51,229.13C458.91,229.94 460.31,230.90 461.26,232.61C462.20,234.32 462.75,237.55 462.19,239.39C461.62,241.23 460.71,242.78 457.87,243.63C455.03,244.48 448.68,244.62 445.15,244.48C441.62,244.33 438.32,244.19 436.68,242.78C435.04,241.37 435.08,238.27 435.32,236.00Z" fill="none" stroke="#262626" stroke-width="0.55"/>
<path d="M436.11,236.00C436.33,233.89 436.92,230.91 438.70,229.64C440.48,228.37 443.95,228.39 446.78,228.39C449.62,228.39 453.51,228.90 455.73,229.64C457.96,230.39 459.25,231.28 460.13,232.86C461.00,234.44 461.51,237.44 460.99,239.14C460.47,240.84 459.62,242.28 456.99,243.06C454.36,243.85 448.49,243.98 445.22,243.85C441.95,243.72 438.88,243.59 437.37,242.28C435.85,240.97 435.89,238.11 436.11,236.00Z" fill="none" stroke="#262626" stroke-width="0.55"/>
<path d="M436.86,236.00C437.07,234.05 437.61,231.30 439.26,230.13C440.90,228.95 444.10,228.97 446.73,228.97C449.35,228.97 452.94,229.44 454.99,230.13C457.05,230.81 458.24,231.64 459.05,233.10C459.86,234.56 460.34,237.33 459.85,238.90C459.37,240.47 458.58,241.80 456.15,242.53C453.72,243.25 448.30,243.37 445.27,243.25C442.25,243.13 439.42,243.01 438.02,241.80C436.62,240.59 436.66,237.95 436.86,236.00Z" fill="none" stroke="#262626" stroke-width="0.55"/>
<path d="M437.59,236.00C437.77,234.21 438.28,231.67 439.79,230.59C441.30,229.51 444.25,229.52 446.67,229.52C449.08,229.52 452.39,229.96 454.28,230.59C456.17,231.23 457.28,231.98 458.02,233.33C458.77,234.68 459.20,237.22 458.76,238.67C458.31,240.12 457.59,241.34 455.35,242.01C453.11,242.68 448.11,242.79 445.33,242.68C442.55,242.57 439.95,242.46 438.65,241.34C437.36,240.23 437.40,237.79 437.59,236.00Z" fill="none" stroke="#262626" stroke-width="0.55"/>
<path d="M438.29,236.00C438.46,234.36 438.92,232.03 440.31,231.04C441.69,230.05 444.40,230.06 446.61,230.06C448.83,230.06 451.86,230.46 453.59,231.04C455.32,231.62 456.33,232.32 457.02,233.55C457.70,234.79 458.10,237.12 457.69,238.45C457.28,239.77 456.62,240.90 454.57,241.51C452.52,242.12 447.94,242.22 445.39,242.12C442.84,242.02 440.45,241.92 439.27,240.90C438.08,239.88 438.11,237.64 438.29,236.00Z" fill="none" stroke="#262626" stroke-width="0.55"/>
<path d="M438.97,236.00C439.13,234.50 439.55,232.38 440.81,231.48C442.08,230.58 444.54,230.59 446.56,230.59C448.58,230.59 451.34,230.95 452.92,231.48C454.50,232.01 455.42,232.64 456.04,233.77C456.66,234.89 457.03,237.02 456.65,238.23C456.28,239.44 455.68,240.46 453.81,241.02C451.94,241.58 447.77,241.67 445.44,241.58C443.12,241.49 440.94,241.39 439.86,240.46C438.79,239.53 438.81,237.50 438.97,236.00Z" fill="none" stroke="#262626" stroke-width="0.55"/>
<path d="M439.64,236.00C439.78,234.65 440.16,232.73 441.31,231.91C442.45,231.10 444.68,231.10 446.50,231.10C448.33,231.10 450.83,231.43 452.26,231.91C453.69,232.39 454.52,232.96 455.08,233.98C455.65,235.00 455.98,236.93 455.64,238.02C455.30,239.11 454.76,240.04 453.07,240.54C451.38,241.05 447.60,241.13 445.50,241.05C443.39,240.96 441.42,240.88 440.45,240.04C439.47,239.20 439.50,237.35 439.64,236.00Z" fill="none" stroke="#262626" stroke-width="0.55"/>
<path d="M440.30,236.00C440.43,234.79 440.77,233.07 441.79,232.33C442.82,231.60 444.82,231.61 446.45,231.61C448.09,231.61 450.33,231.90 451.61,232.33C452.89,232.76 453.64,233.28 454.15,234.19C454.65,235.10 454.95,236.83 454.64,237.81C454.34,238.79 453.85,239.62 452.34,240.07C450.82,240.53 447.43,240.60 445.55,240.53C443.66,240.45 441.90,240.37 441.02,239.62C440.15,238.87 440.17,237.21 440.30,236.00Z" fill="none" stroke="#262626" stroke-width="0.55"/>
<path d="M440.94,236.00C441.06,234.92 441.36,233.40 442.27,232.75C443.18,232.10 444.95,232.11 446.40,232.11C447.85,232.11 449.84,232.37 450.98,232.75C452.11,233.13 452.77,233.59 453.22,234.40C453.67,235.20 453.93,236.74 453.66,237.60C453.40,238.47 452.96,239.21 451.62,239.61C450.27,240.01 447.27,240.08 445.60,240.01C443.93,239.95 442.36,239.88 441.59,239.21C440.81,238.54 440.83,237.08 440.94,236.00Z" fill="none" stroke="#262626" stroke-width="0.55"/>
<path d="M441.58,236.00C441.68,235.06 441.94,233.73 442.74,233.16C443.53,232.59 445.08,232.60 446.35,232.60C447.62,232.60 449.36,232.83 450.35,233.16C451.34,233.49 451.92,233.89 452.31,234.60C452.70,235.30 452.93,236.64 452.70,237.40C452.46,238.16 452.09,238.81 450.91,239.16C449.74,239.51 447.11,239.57 445.65,239.51C444.19,239.45 442.82,239.39 442.14,238.81C441.46,238.22 441.48,236.94 441.58,236.00Z" fill="none" stroke="#262626" stroke-width="0.55"/>
<path d="M442.21,236.00C442.29,235.19 442.52,234.05 443.20,233.56C443.88,233.08 445.21,233.08 446.30,233.08C447.39,233.08 448.88,233.28 449.73,233.56C450.58,233.85 451.08,234.19 451.42,234.80C451.75,235.40 451.95,236.55 451.75,237.20C451.55,237.86 451.22,238.41 450.21,238.71C449.20,239.01 446.95,239.06 445.70,239.01C444.45,238.96 443.27,238.91 442.69,238.41C442.11,237.91 442.12,236.81 442.21,236.00Z" fill="none" stroke="#262626" stroke-width="0.55"/>
<path d="M442.83,236.00C442.90,235.32 443.09,234.37 443.66,233.96C444.23,233.55 445.34,233.56 446.25,233.56C447.16,233.56 448.41,233.72 449.12,233.96C449.83,234.20 450.25,234.49 450.53,234.99C450.81,235.50 450.97,236.46 450.81,237.01C450.64,237.55 450.37,238.01 449.52,238.26C448.68,238.52 446.80,238.56 445.75,238.52C444.70,238.47 443.72,238.43 443.23,238.01C442.75,237.59 442.76,236.68 442.83,236.00Z" fill="none" stroke="#262626" stroke-width="0.55"/>
<path d="M443.44,236.00C443.50,235.46 443.65,234.68 444.11,234.36C444.57,234.03 445.47,234.03 446.20,234.03C446.94,234.03 447.94,234.16 448.52,234.36C449.09,234.55 449.43,234.78 449.65,235.19C449.88,235.60 450.01,236.37 449.88,236.81C449.74,237.25 449.52,237.62 448.84,237.83C448.16,238.03 446.64,238.06 445.80,238.03C444.95,238.00 444.16,237.96 443.77,237.62C443.37,237.29 443.38,236.54 443.44,236.00Z" fill="none" stroke="#262626" stroke-width="0.55"/>
<path d="M444.05,236.00C444.09,235.58 444.21,235.00 444.56,234.75C444.91,234.50 445.59,234.50 446.15,234.50C446.71,234.50 447.48,234.60 447.92,234.75C448.36,234.89 448.61,235.07 448.79,235.38C448.96,235.69 449.06,236.28 448.96,236.62C448.85,236.96 448.69,237.24 448.17,237.39C447.65,237.55 446.49,237.57 445.85,237.55C445.20,237.52 444.60,237.50 444.30,237.24C444.00,236.98 444.00,236.42 444.05,236.00Z" fill="none" stroke="#262626" stroke-width="0.55"/>
<path d="M444.65,236.00C444.68,235.71 444.76,235.30 445.00,235.13C445.25,234.96 445.72,234.96 446.11,234.96C446.49,234.96 447.03,235.03 447.33,235.13C447.63,235.23 447.81,235.35 447.93,235.57C448.05,235.79 448.12,236.20 448.05,236.43C447.98,236.66 447.86,236.86 447.50,236.96C447.14,237.07 446.34,237.09 445.89,237.07C445.45,237.05 445.03,237.04 444.82,236.86C444.61,236.68 444.62,236.29 444.65,236.00Z" fill="none" stroke="#262626" stroke-width="0.55"/>
<path d="M76.90,293.00C76.90,294.58 76.60,296.28 76.06,297.75C75.53,299.21 74.67,300.65 73.68,301.77C72.69,302.89 71.41,303.85 70.11,304.46C68.81,305.06 67.30,305.40 65.90,305.40C64.50,305.40 62.99,305.06 61.69,304.46C60.39,303.85 59.11,302.89 58.12,301.77C57.13,300.65 56.27,299.21 55.74,297.75C55.20,296.28 54.90,294.58 54.90,293.00C54.90,291.42 55.20,289.72 55.74,288.25C56.27,286.79 57.13,285.35 58.12,284.23C59.11,283.11 60.39,282.15 61.69,281.54C62.99,280.94 64.50,280.60 65.90,280.60C67.30,280.60 68.81,280.94 70.11,281.54C71.41,282.15 72.69,283.11 73.68,284.23C74.67,285.35 75.53,286.79 76.06,288.25C76.60,289.72 76.90,291.42 76.90,293.00Z" fill="none" stroke="#262626" stroke-width="0.55"/>
<path d="M75.96,293.24C75.96,294.72 75.68,296.31 75.17,297.67C74.67,299.04 73.87,300.39 72.95,301.43C72.02,302.48 70.82,303.38 69.61,303.94C68.40,304.51 66.99,304.82 65.68,304.82C64.37,304.82 62.96,304.51 61.75,303.94C60.54,303.38 59.34,302.48 58.41,301.43C57.49,300.39 56.69,299.04 56.19,297.67C55.69,296.31 55.40,294.72 55.40,293.24C55.40,291.76 55.69,290.17 56.19,288.81C56.69,287.44 57.49,286.09 58.41,285.05C59.34,284.00 60.54,283.10 61.75,282.54C62.96,281.97 64.37,281.66 65.68,281.66C66.99,281.66 68.40,281.97 69.61,282.54C70.82,283.10 72.02,284.00 72.95,285.05C73.87,286.09 74.67,287.44 75.17,288.81C75.68,290.17 75.96,291.76 75.96,293.24Z" fill="none" stroke="#262626" stroke-width="0.55"/>
<path d="M75.14,293.45C75.14,294.83 74.88,296.33 74.41,297.61C73.93,298.89 73.18,300.16 72.31,301.14C71.44,302.12 70.32,302.97 69.18,303.50C68.05,304.03 66.72,304.32 65.49,304.32C64.26,304.32 62.94,304.03 61.80,303.50C60.66,302.97 59.54,302.12 58.67,301.14C57.80,300.16 57.05,298.89 56.58,297.61C56.10,296.33 55.84,294.83 55.84,293.45C55.84,292.06 56.10,290.57 56.58,289.28C57.05,288.00 57.80,286.74 58.67,285.75C59.54,284.77 60.66,283.93 61.80,283.40C62.94,282.87 64.26,282.57 65.49,282.57C66.72,282.57 68.05,282.87 69.18,283.40C70.32,283.93 71.44,284.77 72.31,285.75C73.18,286.74 73.93,288.00 74.41,289.28C74.88,290.57 75.14,292.06 75.14,293.45Z" fill="none" stroke="#262626" stroke-width="0.55"/>
<path d="M74.37,293.64C74.37,294.95 74.12,296.35 73.68,297.55C73.23,298.75 72.53,299.94 71.71,300.86C70.90,301.78 69.84,302.57 68.78,303.07C67.71,303.57 66.47,303.85 65.31,303.85C64.16,303.85 62.91,303.57 61.85,303.07C60.78,302.57 59.72,301.78 58.91,300.86C58.09,299.94 57.39,298.75 56.95,297.55C56.50,296.35 56.26,294.95 56.26,293.64C56.26,292.34 56.50,290.94 56.95,289.74C57.39,288.53 58.09,287.35 58.91,286.43C59.72,285.50 60.78,284.71 61.85,284.21C62.91,283.71 64.16,283.44 65.31,283.44C66.47,283.44 67.71,283.71 68.78,284.21C69.84,284.71 70.90,285.50 71.71,286.43C72.53,287.35 73.23,288.53 73.68,289.74C74.12,290.94 74.37,292.34 74.37,293.64Z" fill="none" stroke="#262626" stroke-width="0.55"/>
<path d="M73.62,293.83C73.62,295.05 73.38,296.36 72.97,297.49C72.56,298.62 71.90,299.73 71.13,300.59C70.37,301.45 69.38,302.20 68.38,302.66C67.38,303.13 66.22,303.39 65.14,303.39C64.05,303.39 62.89,303.13 61.89,302.66C60.89,302.20 59.91,301.45 59.14,300.59C58.38,299.73 57.72,298.62 57.30,297.49C56.89,296.36 56.66,295.05 56.66,293.83C56.66,292.61 56.89,291.30 57.30,290.17C57.72,289.05 58.38,287.94 59.14,287.07C59.91,286.21 60.89,285.47 61.89,285.00C62.89,284.53 64.05,284.27 65.14,284.27C66.22,284.27 67.38,284.53 68.38,285.00C69.38,285.47 70.37,286.21 71.13,287.07C71.90,287.94 72.56,289.05 72.97,290.17C73.38,291.30 73.62,292.61 73.62,293.83Z" fill="none" stroke="#262626" stroke-width="0.55"/>
<path d="M72.89,294.02C72.89,295.16 72.67,296.38 72.28,297.43C71.90,298.49 71.28,299.53 70.57,300.33C69.85,301.14 68.93,301.83 68.00,302.27C67.06,302.70 65.98,302.95 64.97,302.95C63.96,302.95 62.87,302.70 61.94,302.27C61.00,301.83 60.08,301.14 59.37,300.33C58.65,299.53 58.04,298.49 57.65,297.43C57.26,296.38 57.05,295.16 57.05,294.02C57.05,292.88 57.26,291.65 57.65,290.60C58.04,289.55 58.65,288.51 59.37,287.71C60.08,286.90 61.00,286.21 61.94,285.77C62.87,285.33 63.96,285.09 64.97,285.09C65.98,285.09 67.06,285.33 68.00,285.77C68.93,286.21 69.85,286.90 70.57,287.71C71.28,288.51 71.90,289.55 72.28,290.60C72.67,291.65 72.89,292.88 72.89,294.02Z" fill="none" stroke="#262626" stroke-width="0.55"/>
<path d="M72.17,294.20C72.17,295.26 71.97,296.40 71.61,297.38C71.25,298.36 70.68,299.33 70.01,300.07C69.35,300.82 68.49,301.47 67.62,301.88C66.75,302.28 65.74,302.51 64.80,302.51C63.86,302.51 62.85,302.28 61.98,301.88C61.11,301.47 60.25,300.82 59.59,300.07C58.92,299.33 58.35,298.36 57.99,297.38C57.63,296.40 57.43,295.26 57.43,294.20C57.43,293.14 57.63,292.00 57.99,291.02C58.35,290.04 58.92,289.07 59.59,288.33C60.25,287.58 61.11,286.93 61.98,286.52C62.85,286.12 63.86,285.89 64.80,285.89C65.74,285.89 66.75,286.12 67.62,286.52C68.49,286.93 69.35,287.58 70.01,288.33C70.68,289.07 71.25,290.04 71.61,291.02C71.97,292.00 72.17,293.14 72.17,294.20Z" fill="none" stroke="#262626" stroke-width="0.55"/>
<ellipse cx="64.80" cy="294.20" rx="6.85" ry="7.73" fill="#b8b8b8" stroke="#111" stroke-width="1.5"/>
<ellipse cx="64.80" cy="294.20" rx="5.31" ry="5.98" fill="none" stroke="#777" stroke-width="0.4"/>
<ellipse cx="64.80" cy="294.20" rx="3.83" ry="4.32" fill="none" stroke="#777" stroke-width="0.4"/>
<ellipse cx="64.80" cy="294.20" rx="2.36" ry="2.66" fill="none" stroke="#777" stroke-width="0.4"/>
<circle cx="64.80" cy="294.20" r="1.1" fill="#fff"/>
<path d="M56.9,269.0 C62.9,275.0 61.9,279.0 59.9,283.0 M73.9,269.0 C68.9,275.0 69.9,279.0 71.9,283.0" fill="none" stroke="#555" stroke-width="0.45"/>
<path d="M59.9,271.0 Q65.9,278.0 71.9,271.0" fill="none" stroke="#555" stroke-width="0.45"/>
<path d="M203.90,293.30C203.90,294.83 203.63,296.48 203.15,297.89C202.66,299.31 201.89,300.70 201.00,301.79C200.11,302.87 198.96,303.80 197.79,304.39C196.62,304.97 195.26,305.30 194.00,305.30C192.74,305.30 191.38,304.97 190.21,304.39C189.04,303.80 187.89,302.87 187.00,301.79C186.11,300.70 185.34,299.31 184.85,297.89C184.37,296.48 184.10,294.83 184.10,293.30C184.10,291.77 184.37,290.12 184.85,288.71C185.34,287.29 186.11,285.90 187.00,284.81C187.89,283.73 189.04,282.80 190.21,282.21C191.38,281.63 192.74,281.30 194.00,281.30C195.26,281.30 196.62,281.63 197.79,282.21C198.96,282.80 200.11,283.73 201.00,284.81C201.89,285.90 202.66,287.29 203.15,288.71C203.63,290.12 203.90,291.77 203.90,293.30Z" fill="none" stroke="#262626" stroke-width="0.55"/>
<path d="M203.16,293.44C203.16,294.87 202.90,296.41 202.45,297.74C202.00,299.06 201.28,300.37 200.44,301.38C199.60,302.40 198.52,303.27 197.43,303.82C196.34,304.37 195.07,304.68 193.88,304.68C192.70,304.68 191.43,304.37 190.34,303.82C189.24,303.27 188.17,302.40 187.33,301.38C186.49,300.37 185.77,299.06 185.32,297.74C184.87,296.41 184.61,294.87 184.61,293.44C184.61,292.01 184.87,290.46 185.32,289.14C185.77,287.81 186.49,286.51 187.33,285.49C188.17,284.48 189.24,283.61 190.34,283.06C191.43,282.51 192.70,282.20 193.88,282.20C195.07,282.20 196.34,282.51 197.43,283.06C198.52,283.61 199.60,284.48 200.44,285.49C201.28,286.51 202.00,287.81 202.45,289.14C202.90,290.46 203.16,292.01 203.16,293.44Z" fill="none" stroke="#262626" stroke-width="0.55"/>
<path d="M202.51,293.56C202.51,294.91 202.27,296.36 201.85,297.61C201.42,298.85 200.74,300.08 199.95,301.04C199.17,301.99 198.15,302.81 197.12,303.33C196.10,303.85 194.90,304.14 193.78,304.14C192.67,304.14 191.47,303.85 190.45,303.33C189.42,302.81 188.40,301.99 187.61,301.04C186.83,300.08 186.15,298.85 185.72,297.61C185.30,296.36 185.06,294.91 185.06,293.56C185.06,292.21 185.30,290.76 185.72,289.51C186.15,288.26 186.83,287.03 187.61,286.08C188.40,285.13 189.42,284.30 190.45,283.79C191.47,283.27 192.67,282.98 193.78,282.98C194.90,282.98 196.10,283.27 197.12,283.79C198.15,284.30 199.17,285.13 199.95,286.08C200.74,287.03 201.42,288.26 201.85,289.51C202.27,290.76 202.51,292.21 202.51,293.56Z" fill="none" stroke="#262626" stroke-width="0.55"/>
<path d="M201.90,293.67C201.90,294.94 201.67,296.31 201.27,297.48C200.87,298.65 200.23,299.81 199.49,300.71C198.75,301.61 197.80,302.38 196.83,302.87C195.86,303.35 194.74,303.62 193.69,303.62C192.64,303.62 191.52,303.35 190.55,302.87C189.58,302.38 188.63,301.61 187.88,300.71C187.14,299.81 186.51,298.65 186.11,297.48C185.70,296.31 185.48,294.94 185.48,293.67C185.48,292.40 185.70,291.04 186.11,289.86C186.51,288.69 187.14,287.53 187.88,286.64C188.63,285.74 189.58,284.97 190.55,284.48C191.52,283.99 192.64,283.72 193.69,283.72C194.74,283.72 195.86,283.99 196.83,284.48C197.80,284.97 198.75,285.74 199.49,286.64C200.23,287.53 200.87,288.69 201.27,289.86C201.67,291.04 201.90,292.40 201.90,293.67Z" fill="none" stroke="#262626" stroke-width="0.55"/>
<path d="M201.31,293.78C201.31,294.97 201.10,296.26 200.72,297.36C200.34,298.46 199.74,299.55 199.05,300.39C198.35,301.23 197.46,301.96 196.55,302.42C195.64,302.87 194.58,303.13 193.60,303.13C192.61,303.13 191.56,302.87 190.65,302.42C189.74,301.96 188.84,301.23 188.15,300.39C187.45,299.55 186.85,298.46 186.48,297.36C186.10,296.26 185.89,294.97 185.89,293.78C185.89,292.59 186.10,291.31 186.48,290.21C186.85,289.11 187.45,288.02 188.15,287.18C188.84,286.33 189.74,285.61 190.65,285.15C191.56,284.69 192.61,284.44 193.60,284.44C194.58,284.44 195.64,284.69 196.55,285.15C197.46,285.61 198.35,286.33 199.05,287.18C199.74,288.02 200.34,289.11 200.72,290.21C201.10,291.31 201.31,292.59 201.31,293.78Z" fill="none" stroke="#262626" stroke-width="0.55"/>
<path d="M200.73,293.89C200.73,295.01 200.53,296.21 200.18,297.24C199.83,298.27 199.27,299.29 198.61,300.08C197.96,300.87 197.12,301.55 196.27,301.98C195.42,302.41 194.43,302.64 193.51,302.64C192.59,302.64 191.60,302.41 190.74,301.98C189.89,301.55 189.05,300.87 188.40,300.08C187.75,299.29 187.19,298.27 186.84,297.24C186.48,296.21 186.29,295.01 186.29,293.89C186.29,292.77 186.48,291.57 186.84,290.54C187.19,289.51 187.75,288.49 188.40,287.70C189.05,286.91 189.89,286.23 190.74,285.80C191.60,285.38 192.59,285.14 193.51,285.14C194.43,285.14 195.42,285.38 196.27,285.80C197.12,286.23 197.96,286.91 198.61,287.70C199.27,288.49 199.83,289.51 200.18,290.54C200.53,291.57 200.73,292.77 200.73,293.89Z" fill="none" stroke="#262626" stroke-width="0.55"/>
<path d="M200.16,294.00C200.16,295.04 199.98,296.16 199.65,297.12C199.32,298.09 198.80,299.04 198.19,299.78C197.58,300.51 196.80,301.15 196.00,301.55C195.21,301.95 194.28,302.17 193.42,302.17C192.56,302.17 191.63,301.95 190.84,301.55C190.04,301.15 189.26,300.51 188.65,299.78C188.04,299.04 187.52,298.09 187.19,297.12C186.86,296.16 186.68,295.04 186.68,294.00C186.68,292.95 186.86,291.83 187.19,290.87C187.52,289.90 188.04,288.95 188.65,288.21C189.26,287.48 190.04,286.84 190.84,286.44C191.63,286.04 192.56,285.82 193.42,285.82C194.28,285.82 195.21,286.04 196.00,286.44C196.80,286.84 197.58,287.48 198.19,288.21C198.80,288.95 199.32,289.90 199.65,290.87C199.98,291.83 200.16,292.95 200.16,294.00Z" fill="none" stroke="#262626" stroke-width="0.55"/>
<path d="M199.61,294.10C199.61,295.07 199.44,296.11 199.13,297.01C198.83,297.91 198.34,298.79 197.77,299.48C197.21,300.16 196.47,300.75 195.74,301.13C195.00,301.50 194.13,301.70 193.33,301.70C192.53,301.70 191.67,301.50 190.93,301.13C190.19,300.75 189.46,300.16 188.90,299.48C188.33,298.79 187.84,297.91 187.54,297.01C187.23,296.11 187.06,295.07 187.06,294.10C187.06,293.13 187.23,292.08 187.54,291.19C187.84,290.29 188.33,289.41 188.90,288.72C189.46,288.03 190.19,287.44 190.93,287.07C191.67,286.70 192.53,286.49 193.33,286.49C194.13,286.49 195.00,286.70 195.74,287.07C196.47,287.44 197.21,288.03 197.77,288.72C198.34,289.41 198.83,290.29 199.13,291.19C199.44,292.08 199.61,293.13 199.61,294.10Z" fill="none" stroke="#262626" stroke-width="0.55"/>
<path d="M199.06,294.20C199.06,295.10 198.90,296.07 198.62,296.90C198.33,297.73 197.88,298.55 197.36,299.18C196.83,299.82 196.16,300.37 195.47,300.71C194.79,301.05 193.99,301.25 193.25,301.25C192.51,301.25 191.71,301.05 191.03,300.71C190.34,300.37 189.66,299.82 189.14,299.18C188.62,298.55 188.16,297.73 187.88,296.90C187.60,296.07 187.44,295.10 187.44,294.20C187.44,293.30 187.60,292.34 187.88,291.51C188.16,290.67 188.62,289.86 189.14,289.22C189.66,288.58 190.34,288.04 191.03,287.69C191.71,287.35 192.51,287.16 193.25,287.16C193.99,287.16 194.79,287.35 195.47,287.69C196.16,288.04 196.83,288.58 197.36,289.22C197.88,289.86 198.33,290.67 198.62,291.51C198.90,292.34 199.06,293.30 199.06,294.20Z" fill="none" stroke="#262626" stroke-width="0.55"/>
<path d="M198.52,294.30C198.52,295.13 198.37,296.02 198.11,296.79C197.85,297.55 197.43,298.31 196.95,298.89C196.47,299.48 195.85,299.98 195.21,300.30C194.58,300.62 193.85,300.79 193.17,300.79C192.48,300.79 191.75,300.62 191.12,300.30C190.49,299.98 189.86,299.48 189.38,298.89C188.90,298.31 188.48,297.55 188.22,296.79C187.96,296.02 187.81,295.13 187.81,294.30C187.81,293.47 187.96,292.58 188.22,291.82C188.48,291.05 188.90,290.30 189.38,289.71C189.86,289.13 190.49,288.62 191.12,288.31C191.75,287.99 192.48,287.81 193.17,287.81C193.85,287.81 194.58,287.99 195.21,288.31C195.85,288.62 196.47,289.13 196.95,289.71C197.43,290.30 197.85,291.05 198.11,291.82C198.37,292.58 198.52,293.47 198.52,294.30Z" fill="none" stroke="#262626" stroke-width="0.55"/>
<path d="M197.98,294.40C197.98,295.16 197.85,295.98 197.61,296.68C197.37,297.38 196.99,298.07 196.55,298.60C196.11,299.14 195.54,299.60 194.96,299.89C194.38,300.18 193.71,300.34 193.08,300.34C192.46,300.34 191.78,300.18 191.21,299.89C190.63,299.60 190.06,299.14 189.62,298.60C189.17,298.07 188.79,297.38 188.55,296.68C188.31,295.98 188.18,295.16 188.18,294.40C188.18,293.64 188.31,292.83 188.55,292.13C188.79,291.43 189.17,290.74 189.62,290.20C190.06,289.66 190.63,289.20 191.21,288.91C191.78,288.62 192.46,288.46 193.08,288.46C193.71,288.46 194.38,288.62 194.96,288.91C195.54,289.20 196.11,289.66 196.55,290.20C196.99,290.74 197.37,291.43 197.61,292.13C197.85,292.83 197.98,293.64 197.98,294.40Z" fill="none" stroke="#262626" stroke-width="0.55"/>
<path d="M197.46,294.50C197.46,295.19 197.33,295.93 197.12,296.57C196.90,297.20 196.55,297.83 196.15,298.32C195.75,298.81 195.23,299.23 194.70,299.49C194.18,299.75 193.57,299.90 193.00,299.90C192.43,299.90 191.82,299.75 191.30,299.49C190.77,299.23 190.25,298.81 189.85,298.32C189.45,297.83 189.10,297.20 188.88,296.57C188.67,295.93 188.54,295.19 188.54,294.50C188.54,293.81 188.67,293.07 188.88,292.43C189.10,291.80 189.45,291.17 189.85,290.68C190.25,290.19 190.77,289.77 191.30,289.51C191.82,289.25 192.43,289.10 193.00,289.10C193.57,289.10 194.18,289.25 194.70,289.51C195.23,289.77 195.75,290.19 196.15,290.68C196.55,291.17 196.90,291.80 197.12,292.43C197.33,293.07 197.46,293.81 197.46,294.50Z" fill="none" stroke="#262626" stroke-width="0.55"/>
<ellipse cx="193.00" cy="294.50" rx="4.14" ry="5.02" fill="#b8b8b8" stroke="#111" stroke-width="1.5"/>
<ellipse cx="193.00" cy="294.50" rx="3.21" ry="3.89" fill="none" stroke="#777" stroke-width="0.4"/>
<ellipse cx="193.00" cy="294.50" rx="2.32" ry="2.81" fill="none" stroke="#777" stroke-width="0.4"/>
<ellipse cx="193.00" cy="294.50" rx="1.43" ry="1.73" fill="none" stroke="#777" stroke-width="0.4"/>
<circle cx="193.00" cy="294.50" r="1.1" fill="#fff"/>
<path d="M185.0,269.3 C191.0,275.3 190.0,279.3 188.0,283.3 M202.0,269.3 C197.0,275.3 198.0,279.3 200.0,283.3" fill="none" stroke="#555" stroke-width="0.45"/>
<path d="M188.0,271.3 Q194.0,278.3 200.0,271.3" fill="none" stroke="#555" stroke-width="0.45"/>
<path d="M332.60,294.00C332.60,295.56 332.34,297.23 331.87,298.67C331.40,300.11 330.65,301.53 329.79,302.63C328.92,303.73 327.81,304.68 326.67,305.27C325.54,305.87 324.22,306.20 323.00,306.20C321.78,306.20 320.46,305.87 319.33,305.27C318.19,304.68 317.08,303.73 316.21,302.63C315.35,301.53 314.60,300.11 314.13,298.67C313.66,297.23 313.40,295.56 313.40,294.00C313.40,292.44 313.66,290.77 314.13,289.33C314.60,287.89 315.35,286.47 316.21,285.37C317.08,284.27 318.19,283.32 319.33,282.73C320.46,282.13 321.78,281.80 323.00,281.80C324.22,281.80 325.54,282.13 326.67,282.73C327.81,283.32 328.92,284.27 329.79,285.37C330.65,286.47 331.40,287.89 331.87,289.33C332.34,290.77 332.60,292.44 332.60,294.00Z" fill="none" stroke="#262626" stroke-width="0.55"/>
<path d="M331.84,294.24C331.84,295.71 331.59,297.29 331.15,298.65C330.71,300.01 330.00,301.35 329.19,302.39C328.37,303.43 327.31,304.32 326.24,304.89C325.17,305.45 323.93,305.76 322.77,305.76C321.62,305.76 320.37,305.45 319.30,304.89C318.23,304.32 317.18,303.43 316.36,302.39C315.54,301.35 314.84,300.01 314.40,298.65C313.95,297.29 313.71,295.71 313.71,294.24C313.71,292.77 313.95,291.19 314.40,289.83C314.84,288.47 315.54,287.13 316.36,286.09C317.18,285.05 318.23,284.15 319.30,283.59C320.37,283.03 321.62,282.71 322.77,282.71C323.93,282.71 325.17,283.03 326.24,283.59C327.31,284.15 328.37,285.05 329.19,286.09C330.00,287.13 330.71,288.47 331.15,289.83C331.59,291.19 331.84,292.77 331.84,294.24Z" fill="none" stroke="#262626" stroke-width="0.55"/>
<path d="M331.18,294.45C331.18,295.84 330.95,297.34 330.53,298.63C330.11,299.92 329.44,301.19 328.66,302.18C327.89,303.17 326.89,304.02 325.87,304.55C324.86,305.09 323.68,305.39 322.58,305.39C321.48,305.39 320.30,305.09 319.28,304.55C318.27,304.02 317.27,303.17 316.49,302.18C315.71,301.19 315.04,299.92 314.62,298.63C314.20,297.34 313.97,295.84 313.97,294.45C313.97,293.05 314.20,291.55 314.62,290.26C315.04,288.97 315.71,287.70 316.49,286.71C317.27,285.72 318.27,284.87 319.28,284.34C320.30,283.81 321.48,283.51 322.58,283.51C323.68,283.51 324.86,283.81 325.87,284.34C326.89,284.87 327.89,285.72 328.66,286.71C329.44,287.70 330.11,288.97 330.53,290.26C330.95,291.55 331.18,293.05 331.18,294.45Z" fill="none" stroke="#262626" stroke-width="0.55"/>
<path d="M330.56,294.64C330.56,295.97 330.34,297.39 329.94,298.62C329.54,299.84 328.91,301.05 328.17,301.99C327.43,302.92 326.48,303.73 325.52,304.24C324.55,304.74 323.43,305.03 322.39,305.03C321.35,305.03 320.23,304.74 319.26,304.24C318.30,303.73 317.35,302.92 316.61,301.99C315.88,301.05 315.24,299.84 314.84,298.62C314.44,297.39 314.22,295.97 314.22,294.64C314.22,293.32 314.44,291.89 314.84,290.67C315.24,289.45 315.88,288.24 316.61,287.30C317.35,286.36 318.30,285.56 319.26,285.05C320.23,284.54 321.35,284.26 322.39,284.26C323.43,284.26 324.55,284.54 325.52,285.05C326.48,285.56 327.43,286.36 328.17,287.30C328.91,288.24 329.54,289.45 329.94,290.67C330.34,291.89 330.56,293.32 330.56,294.64Z" fill="none" stroke="#262626" stroke-width="0.55"/>
<path d="M329.96,294.83C329.96,296.09 329.75,297.44 329.37,298.60C328.99,299.76 328.39,300.91 327.69,301.80C326.99,302.68 326.09,303.45 325.18,303.93C324.26,304.41 323.20,304.68 322.21,304.68C321.22,304.68 320.16,304.41 319.25,303.93C318.33,303.45 317.43,302.68 316.73,301.80C316.03,300.91 315.43,299.76 315.05,298.60C314.67,297.44 314.46,296.09 314.46,294.83C314.46,293.58 314.67,292.23 315.05,291.06C315.43,289.90 316.03,288.76 316.73,287.87C317.43,286.98 318.33,286.22 319.25,285.74C320.16,285.26 321.22,284.99 322.21,284.99C323.20,284.99 324.26,285.26 325.18,285.74C326.09,286.22 326.99,286.98 327.69,287.87C328.39,288.76 328.99,289.90 329.37,291.06C329.75,292.23 329.96,293.58 329.96,294.83Z" fill="none" stroke="#262626" stroke-width="0.55"/>
<path d="M329.37,295.02C329.37,296.21 329.17,297.49 328.81,298.59C328.46,299.68 327.88,300.77 327.22,301.61C326.56,302.45 325.71,303.18 324.84,303.63C323.98,304.09 322.97,304.34 322.04,304.34C321.10,304.34 320.09,304.09 319.23,303.63C318.36,303.18 317.51,302.45 316.85,301.61C316.19,300.77 315.62,299.68 315.26,298.59C314.90,297.49 314.70,296.21 314.70,295.02C314.70,293.83 314.90,292.55 315.26,291.45C315.62,290.35 316.19,289.27 316.85,288.43C317.51,287.58 318.36,286.86 319.23,286.40C320.09,285.95 321.10,285.69 322.04,285.69C322.97,285.69 323.98,285.95 324.84,286.40C325.71,286.86 326.56,287.58 327.22,288.43C327.88,289.27 328.46,290.35 328.81,291.45C329.17,292.55 329.37,293.83 329.37,295.02Z" fill="none" stroke="#262626" stroke-width="0.55"/>
<path d="M328.80,295.20C328.80,296.32 328.61,297.53 328.27,298.57C327.93,299.61 327.39,300.63 326.77,301.43C326.14,302.22 325.33,302.91 324.52,303.34C323.70,303.77 322.75,304.01 321.86,304.01C320.98,304.01 320.03,303.77 319.21,303.34C318.39,302.91 317.59,302.22 316.96,301.43C316.34,300.63 315.80,299.61 315.46,298.57C315.12,297.53 314.93,296.32 314.93,295.20C314.93,294.08 315.12,292.87 315.46,291.83C315.80,290.79 316.34,289.76 316.96,288.97C317.59,288.18 318.39,287.49 319.21,287.06C320.03,286.63 320.98,286.39 321.86,286.39C322.75,286.39 323.70,286.63 324.52,287.06C325.33,287.49 326.14,288.18 326.77,288.97C327.39,289.76 327.93,290.79 328.27,291.83C328.61,292.87 328.80,294.08 328.80,295.20Z" fill="none" stroke="#262626" stroke-width="0.55"/>
<path d="M328.23,295.38C328.23,296.44 328.05,297.58 327.73,298.56C327.41,299.54 326.91,300.50 326.32,301.25C325.73,302.00 324.97,302.65 324.20,303.05C323.43,303.46 322.53,303.68 321.69,303.68C320.86,303.68 319.96,303.46 319.19,303.05C318.42,302.65 317.66,302.00 317.07,301.25C316.48,300.50 315.97,299.54 315.66,298.56C315.34,297.58 315.16,296.44 315.16,295.38C315.16,294.32 315.34,293.18 315.66,292.20C315.97,291.22 316.48,290.25 317.07,289.51C317.66,288.76 318.42,288.11 319.19,287.70C319.96,287.30 320.86,287.07 321.69,287.07C322.53,287.07 323.43,287.30 324.20,287.70C324.97,288.11 325.73,288.76 326.32,289.51C326.91,290.25 327.41,291.22 327.73,292.20C328.05,293.18 328.23,294.32 328.23,295.38Z" fill="none" stroke="#262626" stroke-width="0.55"/>
<path d="M327.67,295.55C327.67,296.55 327.50,297.62 327.20,298.54C326.90,299.46 326.43,300.37 325.87,301.08C325.32,301.78 324.60,302.39 323.88,302.77C323.15,303.15 322.31,303.36 321.53,303.36C320.74,303.36 319.90,303.15 319.18,302.77C318.45,302.39 317.74,301.78 317.18,301.08C316.63,300.37 316.15,299.46 315.85,298.54C315.55,297.62 315.38,296.55 315.38,295.55C315.38,294.56 315.55,293.49 315.85,292.57C316.15,291.65 316.63,290.74 317.18,290.03C317.74,289.33 318.45,288.72 319.18,288.34C319.90,287.96 320.74,287.75 321.53,287.75C322.31,287.75 323.15,287.96 323.88,288.34C324.60,288.72 325.32,289.33 325.87,290.03C326.43,290.74 326.90,291.65 327.20,292.57C327.50,293.49 327.67,294.56 327.67,295.55Z" fill="none" stroke="#262626" stroke-width="0.55"/>
<path d="M327.12,295.73C327.12,296.66 326.96,297.67 326.68,298.53C326.40,299.39 325.95,300.24 325.43,300.90C324.92,301.56 324.24,302.13 323.57,302.49C322.89,302.85 322.10,303.05 321.36,303.05C320.63,303.05 319.84,302.85 319.16,302.49C318.48,302.13 317.81,301.56 317.29,300.90C316.77,300.24 316.32,299.39 316.04,298.53C315.76,297.67 315.60,296.66 315.60,295.73C315.60,294.79 315.76,293.79 316.04,292.93C316.32,292.07 316.77,291.21 317.29,290.55C317.81,289.89 318.48,289.32 319.16,288.97C319.84,288.61 320.63,288.41 321.36,288.41C322.10,288.41 322.89,288.61 323.57,288.97C324.24,289.32 324.92,289.89 325.43,290.55C325.95,291.21 326.40,292.07 326.68,292.93C326.96,293.79 327.12,294.79 327.12,295.73Z" fill="none" stroke="#262626" stroke-width="0.55"/>
<path d="M326.58,295.90C326.58,296.77 326.43,297.71 326.17,298.51C325.90,299.32 325.49,300.11 325.00,300.73C324.52,301.35 323.89,301.88 323.26,302.21C322.62,302.55 321.89,302.73 321.20,302.73C320.51,302.73 319.78,302.55 319.14,302.21C318.51,301.88 317.88,301.35 317.40,300.73C316.91,300.11 316.50,299.32 316.23,298.51C315.97,297.71 315.82,296.77 315.82,295.90C315.82,295.03 315.97,294.09 316.23,293.29C316.50,292.48 316.91,291.69 317.40,291.07C317.88,290.45 318.51,289.92 319.14,289.59C319.78,289.25 320.51,289.07 321.20,289.07C321.89,289.07 322.62,289.25 323.26,289.59C323.89,289.92 324.52,290.45 325.00,291.07C325.49,291.69 325.90,292.48 326.17,293.29C326.43,294.09 326.58,295.03 326.58,295.90Z" fill="none" stroke="#262626" stroke-width="0.55"/>
<ellipse cx="321.20" cy="295.90" rx="5.00" ry="6.35" fill="#b8b8b8" stroke="#111" stroke-width="1.5"/>
<ellipse cx="321.20" cy="295.90" rx="3.87" ry="4.92" fill="none" stroke="#777" stroke-width="0.4"/>
<ellipse cx="321.20" cy="295.90" rx="2.80" ry="3.55" fill="none" stroke="#777" stroke-width="0.4"/>
<ellipse cx="321.20" cy="295.90" rx="1.72" ry="2.19" fill="none" stroke="#777" stroke-width="0.4"/>
<circle cx="321.20" cy="295.90" r="1.1" fill="#fff"/>
<path d="M314.0,270.0 C320.0,276.0 319.0,280.0 317.0,284.0 M331.0,270.0 C326.0,276.0 327.0,280.0 329.0,284.0" fill="none" stroke="#555" stroke-width="0.45"/>
<path d="M317.0,272.0 Q323.0,279.0 329.0,272.0" fill="none" stroke="#555" stroke-width="0.45"/>
<path d="M462.60,292.70C462.60,294.18 462.31,295.77 461.79,297.14C461.28,298.51 460.45,299.86 459.50,300.90C458.54,301.95 457.31,302.85 456.06,303.42C454.81,303.98 453.35,304.30 452.00,304.30C450.65,304.30 449.19,303.98 447.94,303.42C446.69,302.85 445.46,301.95 444.50,300.90C443.55,299.86 442.72,298.51 442.21,297.14C441.69,295.77 441.40,294.18 441.40,292.70C441.40,291.22 441.69,289.63 442.21,288.26C442.72,286.89 443.55,285.54 444.50,284.50C445.46,283.45 446.69,282.55 447.94,281.98C449.19,281.42 450.65,281.10 452.00,281.10C453.35,281.10 454.81,281.42 456.06,281.98C457.31,282.55 458.54,283.45 459.50,284.50C460.45,285.54 461.28,286.89 461.79,288.26C462.31,289.63 462.60,291.22 462.60,292.70Z" fill="none" stroke="#262626" stroke-width="0.55"/>
<path d="M461.82,292.79C461.82,294.17 461.55,295.67 461.06,296.95C460.58,298.23 459.81,299.49 458.91,300.47C458.01,301.45 456.86,302.30 455.69,302.83C454.52,303.36 453.15,303.66 451.89,303.66C450.62,303.66 449.26,303.36 448.09,302.83C446.92,302.30 445.76,301.45 444.86,300.47C443.97,299.49 443.19,298.23 442.71,296.95C442.23,295.67 441.95,294.17 441.95,292.79C441.95,291.40 442.23,289.91 442.71,288.63C443.19,287.35 443.97,286.08 444.86,285.10C445.76,284.12 446.92,283.28 448.09,282.75C449.26,282.22 450.62,281.92 451.89,281.92C453.15,281.92 454.52,282.22 455.69,282.75C456.86,283.28 458.01,284.12 458.91,285.10C459.81,286.08 460.58,287.35 461.06,288.63C461.55,289.91 461.82,291.40 461.82,292.79Z" fill="none" stroke="#262626" stroke-width="0.55"/>
<path d="M461.14,292.86C461.14,294.17 460.89,295.58 460.43,296.78C459.97,297.99 459.25,299.18 458.40,300.10C457.56,301.03 456.47,301.82 455.37,302.32C454.27,302.82 452.98,303.10 451.79,303.10C450.60,303.10 449.31,302.82 448.21,302.32C447.11,301.82 446.02,301.03 445.17,300.10C444.33,299.18 443.60,297.99 443.15,296.78C442.69,295.58 442.43,294.17 442.43,292.86C442.43,291.56 442.69,290.15 443.15,288.95C443.60,287.74 444.33,286.55 445.17,285.63C446.02,284.70 447.11,283.91 448.21,283.41C449.31,282.91 450.60,282.63 451.79,282.63C452.98,282.63 454.27,282.91 455.37,283.41C456.47,283.91 457.56,284.70 458.40,285.63C459.25,286.55 459.97,287.74 460.43,288.95C460.89,290.15 461.14,291.56 461.14,292.86Z" fill="none" stroke="#262626" stroke-width="0.55"/>
<path d="M460.50,292.94C460.50,294.17 460.26,295.49 459.83,296.62C459.40,297.76 458.72,298.88 457.92,299.75C457.13,300.62 456.10,301.37 455.07,301.84C454.03,302.31 452.82,302.57 451.70,302.57C450.57,302.57 449.36,302.31 448.33,301.84C447.29,301.37 446.26,300.62 445.47,299.75C444.67,298.88 443.99,297.76 443.56,296.62C443.13,295.49 442.89,294.17 442.89,292.94C442.89,291.71 443.13,290.38 443.56,289.25C443.99,288.11 444.67,286.99 445.47,286.12C446.26,285.25 447.29,284.50 448.33,284.03C449.36,283.56 450.57,283.30 451.70,283.30C452.82,283.30 454.03,283.56 455.07,284.03C456.10,284.50 457.13,285.25 457.92,286.12C458.72,286.99 459.40,288.11 459.83,289.25C460.26,290.38 460.50,291.71 460.50,292.94Z" fill="none" stroke="#262626" stroke-width="0.55"/>
<path d="M459.88,293.01C459.88,294.16 459.66,295.41 459.25,296.47C458.85,297.54 458.20,298.59 457.46,299.41C456.71,300.23 455.75,300.93 454.77,301.37C453.80,301.82 452.66,302.06 451.61,302.06C450.55,302.06 449.41,301.82 448.44,301.37C447.46,300.93 446.50,300.23 445.75,299.41C445.01,298.59 444.36,297.54 443.96,296.47C443.55,295.41 443.33,294.16 443.33,293.01C443.33,291.85 443.55,290.61 443.96,289.54C444.36,288.47 445.01,287.42 445.75,286.60C446.50,285.79 447.46,285.08 448.44,284.64C449.41,284.20 450.55,283.95 451.61,283.95C452.66,283.95 453.80,284.20 454.77,284.64C455.75,285.08 456.71,285.79 457.46,286.60C458.20,287.42 458.85,288.47 459.25,289.54C459.66,290.61 459.88,291.85 459.88,293.01Z" fill="none" stroke="#262626" stroke-width="0.55"/>
<path d="M459.28,293.08C459.28,294.16 459.07,295.32 458.69,296.32C458.31,297.33 457.70,298.31 457.00,299.08C456.30,299.85 455.40,300.51 454.49,300.92C453.57,301.34 452.51,301.57 451.52,301.57C450.53,301.57 449.46,301.34 448.55,300.92C447.63,300.51 446.73,299.85 446.03,299.08C445.33,298.31 444.73,297.33 444.35,296.32C443.97,295.32 443.76,294.16 443.76,293.08C443.76,291.99 443.97,290.83 444.35,289.83C444.73,288.82 445.33,287.84 446.03,287.07C446.73,286.30 447.63,285.64 448.55,285.23C449.46,284.82 450.53,284.58 451.52,284.58C452.51,284.58 453.57,284.82 454.49,285.23C455.40,285.64 456.30,286.30 457.00,287.07C457.70,287.84 458.31,288.82 458.69,289.83C459.07,290.83 459.28,291.99 459.28,293.08Z" fill="none" stroke="#262626" stroke-width="0.55"/>
<path d="M458.69,293.14C458.69,294.15 458.49,295.24 458.13,296.18C457.78,297.12 457.21,298.04 456.56,298.75C455.91,299.47 455.06,300.09 454.21,300.48C453.35,300.86 452.36,301.08 451.43,301.08C450.51,301.08 449.51,300.86 448.66,300.48C447.80,300.09 446.96,299.47 446.30,298.75C445.65,298.04 445.08,297.12 444.73,296.18C444.38,295.24 444.18,294.15 444.18,293.14C444.18,292.13 444.38,291.04 444.73,290.10C445.08,289.17 445.65,288.25 446.30,287.53C446.96,286.81 447.80,286.20 448.66,285.81C449.51,285.42 450.51,285.20 451.43,285.20C452.36,285.20 453.35,285.42 454.21,285.81C455.06,286.20 455.91,286.81 456.56,287.53C457.21,288.25 457.78,289.17 458.13,290.10C458.49,291.04 458.69,292.13 458.69,293.14Z" fill="none" stroke="#262626" stroke-width="0.55"/>
<path d="M458.10,293.21C458.10,294.15 457.92,295.17 457.59,296.04C457.26,296.91 456.73,297.77 456.12,298.44C455.51,299.10 454.73,299.68 453.93,300.04C453.14,300.40 452.21,300.60 451.35,300.60C450.49,300.60 449.56,300.40 448.76,300.04C447.97,299.68 447.18,299.10 446.57,298.44C445.96,297.77 445.44,296.91 445.11,296.04C444.78,295.17 444.59,294.15 444.59,293.21C444.59,292.26 444.78,291.25 445.11,290.38C445.44,289.51 445.96,288.65 446.57,287.98C447.18,287.31 447.97,286.74 448.76,286.38C449.56,286.02 450.49,285.82 451.35,285.82C452.21,285.82 453.14,286.02 453.93,286.38C454.73,286.74 455.51,287.31 456.12,287.98C456.73,288.65 457.26,289.51 457.59,290.38C457.92,291.25 458.10,292.26 458.10,293.21Z" fill="none" stroke="#262626" stroke-width="0.55"/>
<path d="M457.53,293.27C457.53,294.15 457.36,295.09 457.05,295.90C456.75,296.70 456.26,297.50 455.69,298.12C455.13,298.74 454.40,299.27 453.66,299.61C452.92,299.94 452.06,300.13 451.26,300.13C450.46,300.13 449.60,299.94 448.87,299.61C448.13,299.27 447.40,298.74 446.83,298.12C446.27,297.50 445.78,296.70 445.48,295.90C445.17,295.09 445.00,294.15 445.00,293.27C445.00,292.40 445.17,291.46 445.48,290.65C445.78,289.84 446.27,289.04 446.83,288.43C447.40,287.81 448.13,287.27 448.87,286.94C449.60,286.60 450.46,286.42 451.26,286.42C452.06,286.42 452.92,286.60 453.66,286.94C454.40,287.27 455.13,287.81 455.69,288.43C456.26,289.04 456.75,289.84 457.05,290.65C457.36,291.46 457.53,292.40 457.53,293.27Z" fill="none" stroke="#262626" stroke-width="0.55"/>
<path d="M456.96,293.34C456.96,294.14 456.80,295.01 456.52,295.76C456.24,296.50 455.79,297.24 455.27,297.81C454.75,298.38 454.07,298.87 453.39,299.18C452.71,299.49 451.92,299.66 451.18,299.66C450.44,299.66 449.65,299.49 448.97,299.18C448.29,298.87 447.62,298.38 447.09,297.81C446.57,297.24 446.12,296.50 445.84,295.76C445.56,295.01 445.40,294.14 445.40,293.34C445.40,292.53 445.56,291.66 445.84,290.92C446.12,290.17 446.57,289.43 447.09,288.86C447.62,288.29 448.29,287.80 448.97,287.49C449.65,287.18 450.44,287.01 451.18,287.01C451.92,287.01 452.71,287.18 453.39,287.49C454.07,287.80 454.75,288.29 455.27,288.86C455.79,289.43 456.24,290.17 456.52,290.92C456.80,291.66 456.96,292.53 456.96,293.34Z" fill="none" stroke="#262626" stroke-width="0.55"/>
<path d="M456.40,293.40C456.40,294.14 456.26,294.94 456.00,295.62C455.74,296.30 455.33,296.98 454.85,297.50C454.37,298.02 453.75,298.48 453.13,298.76C452.50,299.04 451.78,299.20 451.10,299.20C450.42,299.20 449.70,299.04 449.07,298.76C448.45,298.48 447.83,298.02 447.35,297.50C446.87,296.98 446.46,296.30 446.20,295.62C445.94,294.94 445.80,294.14 445.80,293.40C445.80,292.66 445.94,291.86 446.20,291.18C446.46,290.50 446.87,289.82 447.35,289.30C447.83,288.78 448.45,288.32 449.07,288.04C449.70,287.76 450.42,287.60 451.10,287.60C451.78,287.60 452.50,287.76 453.13,288.04C453.75,288.32 454.37,288.78 454.85,289.30C455.33,289.82 455.74,290.50 456.00,291.18C456.26,291.86 456.40,292.66 456.40,293.40Z" fill="none" stroke="#262626" stroke-width="0.55"/>
<ellipse cx="451.10" cy="293.40" rx="4.93" ry="5.39" fill="#b8b8b8" stroke="#111" stroke-width="1.5"/>
<ellipse cx="451.10" cy="293.40" rx="3.82" ry="4.18" fill="none" stroke="#777" stroke-width="0.4"/>
<ellipse cx="451.10" cy="293.40" rx="2.76" ry="3.02" fill="none" stroke="#777" stroke-width="0.4"/>
<ellipse cx="451.10" cy="293.40" rx="1.70" ry="1.86" fill="none" stroke="#777" stroke-width="0.4"/>
<circle cx="451.10" cy="293.40" r="1.1" fill="#fff"/>
<path d="M443.0,268.7 C449.0,274.7 448.0,278.7 446.0,282.7 M460.0,268.7 C455.0,274.7 456.0,278.7 458.0,282.7" fill="none" stroke="#555" stroke-width="0.45"/>
<path d="M446.0,270.7 Q452.0,277.7 458.0,270.7" fill="none" stroke="#555" stroke-width="0.45"/>
<path d="M383.20,227.30C383.20,228.81 382.94,230.43 382.46,231.82C381.99,233.21 381.23,234.58 380.36,235.64C379.48,236.71 378.36,237.63 377.21,238.20C376.07,238.78 374.74,239.10 373.50,239.10C372.26,239.10 370.93,238.78 369.79,238.20C368.64,237.63 367.52,236.71 366.64,235.64C365.77,234.58 365.01,233.21 364.54,231.82C364.06,230.43 363.80,228.81 363.80,227.30C363.80,225.79 364.06,224.17 364.54,222.78C365.01,221.39 365.77,220.02 366.64,218.96C367.52,217.89 368.64,216.97 369.79,216.40C370.93,215.82 372.26,215.50 373.50,215.50C374.74,215.50 376.07,215.82 377.21,216.40C378.36,216.97 379.48,217.89 380.36,218.96C381.23,220.02 381.99,221.39 382.46,222.78C382.94,224.17 383.20,225.79 383.20,227.30Z" fill="none" stroke="#262626" stroke-width="0.55"/>
<path d="M382.11,227.06C382.11,228.39 381.88,229.82 381.46,231.04C381.04,232.27 380.38,233.48 379.61,234.42C378.84,235.36 377.84,236.17 376.83,236.67C375.82,237.18 374.65,237.47 373.56,237.47C372.47,237.47 371.29,237.18 370.29,236.67C369.28,236.17 368.28,235.36 367.51,234.42C366.74,233.48 366.08,232.27 365.66,231.04C365.24,229.82 365.01,228.39 365.01,227.06C365.01,225.74 365.24,224.31 365.66,223.08C366.08,221.86 366.74,220.65 367.51,219.71C368.28,218.77 369.28,217.96 370.29,217.45C371.29,216.94 372.47,216.66 373.56,216.66C374.65,216.66 375.82,216.94 376.83,217.45C377.84,217.96 378.84,218.77 379.61,219.71C380.38,220.65 381.04,221.86 381.46,223.08C381.88,224.31 382.11,225.74 382.11,227.06Z" fill="none" stroke="#262626" stroke-width="0.55"/>
<path d="M381.17,226.86C381.17,228.03 380.96,229.29 380.59,230.38C380.22,231.46 379.64,232.53 378.95,233.36C378.27,234.19 377.39,234.90 376.50,235.35C375.61,235.80 374.57,236.05 373.61,236.05C372.65,236.05 371.61,235.80 370.72,235.35C369.83,234.90 368.95,234.19 368.27,233.36C367.58,232.53 367.00,231.46 366.63,230.38C366.26,229.29 366.05,228.03 366.05,226.86C366.05,225.69 366.26,224.42 366.63,223.34C367.00,222.26 367.58,221.19 368.27,220.36C368.95,219.53 369.83,218.81 370.72,218.36C371.61,217.92 372.65,217.66 373.61,217.66C374.57,217.66 375.61,217.92 376.50,218.36C377.39,218.81 378.27,219.53 378.95,220.36C379.64,221.19 380.22,222.26 380.59,223.34C380.96,224.42 381.17,225.69 381.17,226.86Z" fill="none" stroke="#262626" stroke-width="0.55"/>
<path d="M380.27,226.66C380.27,227.69 380.09,228.79 379.77,229.74C379.45,230.69 378.93,231.63 378.34,232.35C377.74,233.08 376.97,233.71 376.19,234.10C375.41,234.49 374.50,234.71 373.66,234.71C372.82,234.71 371.91,234.49 371.13,234.10C370.35,233.71 369.58,233.08 368.98,232.35C368.39,231.63 367.87,230.69 367.55,229.74C367.23,228.79 367.04,227.69 367.04,226.66C367.04,225.64 367.23,224.53 367.55,223.58C367.87,222.64 368.39,221.70 368.98,220.97C369.58,220.25 370.35,219.62 371.13,219.23C371.91,218.84 372.82,218.62 373.66,218.62C374.50,218.62 375.41,218.84 376.19,219.23C376.97,219.62 377.74,220.25 378.34,220.97C378.93,221.70 379.45,222.64 379.77,223.58C380.09,224.53 380.27,225.64 380.27,226.66Z" fill="none" stroke="#262626" stroke-width="0.55"/>
<path d="M379.41,226.48C379.41,227.36 379.25,228.31 378.97,229.13C378.70,229.95 378.25,230.76 377.74,231.38C377.22,232.01 376.56,232.55 375.89,232.89C375.22,233.22 374.43,233.41 373.71,233.41C372.98,233.41 372.20,233.22 371.52,232.89C370.85,232.55 370.19,232.01 369.67,231.38C369.16,230.76 368.72,229.95 368.44,229.13C368.16,228.31 368.00,227.36 368.00,226.48C368.00,225.59 368.16,224.64 368.44,223.82C368.72,223.00 369.16,222.20 369.67,221.57C370.19,220.94 370.85,220.41 371.52,220.07C372.20,219.73 372.98,219.54 373.71,219.54C374.43,219.54 375.22,219.73 375.89,220.07C376.56,220.41 377.22,220.94 377.74,221.57C378.25,222.20 378.70,223.00 378.97,223.82C379.25,224.64 379.41,225.59 379.41,226.48Z" fill="none" stroke="#262626" stroke-width="0.55"/>
<path d="M378.57,226.29C378.57,227.04 378.43,227.84 378.20,228.53C377.96,229.22 377.59,229.91 377.16,230.43C376.72,230.96 376.16,231.42 375.59,231.70C375.03,231.99 374.37,232.15 373.75,232.15C373.14,232.15 372.48,231.99 371.91,231.70C371.34,231.42 370.78,230.96 370.35,230.43C369.91,229.91 369.54,229.22 369.30,228.53C369.07,227.84 368.94,227.04 368.94,226.29C368.94,225.55 369.07,224.74 369.30,224.05C369.54,223.36 369.91,222.68 370.35,222.15C370.78,221.62 371.34,221.17 371.91,220.88C372.48,220.60 373.14,220.44 373.75,220.44C374.37,220.44 375.03,220.60 375.59,220.88C376.16,221.17 376.72,221.62 377.16,222.15C377.59,222.68 377.96,223.36 378.20,224.05C378.43,224.74 378.57,225.55 378.57,226.29Z" fill="none" stroke="#262626" stroke-width="0.55"/>
<path d="M377.74,226.11C377.74,226.72 377.63,227.38 377.44,227.95C377.25,228.51 376.94,229.07 376.58,229.50C376.23,229.94 375.77,230.31 375.31,230.54C374.84,230.78 374.30,230.91 373.80,230.91C373.29,230.91 372.75,230.78 372.29,230.54C371.82,230.31 371.36,229.94 371.01,229.50C370.65,229.07 370.35,228.51 370.15,227.95C369.96,227.38 369.85,226.72 369.85,226.11C369.85,225.50 369.96,224.84 370.15,224.28C370.35,223.71 370.65,223.15 371.01,222.72C371.36,222.29 371.82,221.92 372.29,221.68C372.75,221.45 373.29,221.32 373.80,221.32C374.30,221.32 374.84,221.45 375.31,221.68C375.77,221.92 376.23,222.29 376.58,222.72C376.94,223.15 377.25,223.71 377.44,224.28C377.63,224.84 377.74,225.50 377.74,226.11Z" fill="none" stroke="#262626" stroke-width="0.55"/>
<path d="M376.93,225.94C376.93,226.42 376.84,226.93 376.69,227.37C376.54,227.82 376.30,228.25 376.02,228.59C375.74,228.93 375.39,229.22 375.02,229.40C374.66,229.59 374.23,229.69 373.84,229.69C373.45,229.69 373.02,229.59 372.66,229.40C372.30,229.22 371.94,228.93 371.66,228.59C371.38,228.25 371.14,227.82 370.99,227.37C370.84,226.93 370.76,226.42 370.76,225.94C370.76,225.46 370.84,224.94 370.99,224.50C371.14,224.06 371.38,223.62 371.66,223.28C371.94,222.94 372.30,222.65 372.66,222.47C373.02,222.29 373.45,222.18 373.84,222.18C374.23,222.18 374.66,222.29 375.02,222.47C375.39,222.65 375.74,222.94 376.02,223.28C376.30,223.62 376.54,224.06 376.69,224.50C376.84,224.94 376.93,225.46 376.93,225.94Z" fill="none" stroke="#262626" stroke-width="0.55"/>
<path d="M376.13,225.76C376.13,226.11 376.06,226.48 375.95,226.81C375.85,227.13 375.67,227.44 375.47,227.69C375.27,227.94 375.01,228.15 374.74,228.28C374.48,228.41 374.17,228.49 373.88,228.49C373.60,228.49 373.29,228.41 373.03,228.28C372.76,228.15 372.50,227.94 372.30,227.69C372.10,227.44 371.92,227.13 371.81,226.81C371.70,226.48 371.64,226.11 371.64,225.76C371.64,225.41 371.70,225.04 371.81,224.72C371.92,224.40 372.10,224.08 372.30,223.83C372.50,223.59 372.76,223.38 373.03,223.24C373.29,223.11 373.60,223.04 373.88,223.04C374.17,223.04 374.48,223.11 374.74,223.24C375.01,223.38 375.27,223.59 375.47,223.83C375.67,224.08 375.85,224.40 375.95,224.72C376.06,225.04 376.13,225.41 376.13,225.76Z" fill="none" stroke="#262626" stroke-width="0.55"/>
<path d="M375.33,225.59C375.33,225.81 375.30,226.04 375.23,226.25C375.16,226.45 375.05,226.65 374.92,226.80C374.80,226.95 374.63,227.09 374.47,227.17C374.30,227.25 374.11,227.30 373.93,227.30C373.75,227.30 373.55,227.25 373.39,227.17C373.22,227.09 373.06,226.95 372.93,226.80C372.81,226.65 372.70,226.45 372.63,226.25C372.56,226.04 372.52,225.81 372.52,225.59C372.52,225.37 372.56,225.14 372.63,224.94C372.70,224.73 372.81,224.53 372.93,224.38C373.06,224.23 373.22,224.09 373.39,224.01C373.55,223.93 373.75,223.88 373.93,223.88C374.11,223.88 374.30,223.93 374.47,224.01C374.63,224.09 374.80,224.23 374.92,224.38C375.05,224.53 375.16,224.73 375.23,224.94C375.30,225.14 375.33,225.37 375.33,225.59Z" fill="none" stroke="#262626" stroke-width="0.55"/>
<path d="M507.90,229.40C507.90,230.91 507.67,232.53 507.25,233.92C506.83,235.31 506.16,236.68 505.38,237.74C504.61,238.81 503.60,239.73 502.59,240.30C501.58,240.88 500.40,241.20 499.30,241.20C498.20,241.20 497.02,240.88 496.01,240.30C495.00,239.73 493.99,238.81 493.22,237.74C492.44,236.68 491.77,235.31 491.35,233.92C490.93,232.53 490.70,230.91 490.70,229.40C490.70,227.89 490.93,226.27 491.35,224.88C491.77,223.49 492.44,222.12 493.22,221.06C493.99,219.99 495.00,219.07 496.01,218.50C497.02,217.92 498.20,217.60 499.30,217.60C500.40,217.60 501.58,217.92 502.59,218.50C503.60,219.07 504.61,219.99 505.38,221.06C506.16,222.12 506.83,223.49 507.25,224.88C507.67,226.27 507.90,227.89 507.90,229.40Z" fill="none" stroke="#262626" stroke-width="0.55"/>
<path d="M506.73,229.11C506.73,230.40 506.53,231.78 506.17,232.97C505.81,234.16 505.24,235.34 504.57,236.25C503.91,237.16 503.05,237.94 502.19,238.44C501.32,238.93 500.31,239.20 499.37,239.20C498.43,239.20 497.42,238.93 496.56,238.44C495.69,237.94 494.83,237.16 494.17,236.25C493.51,235.34 492.94,234.16 492.58,232.97C492.22,231.78 492.02,230.40 492.02,229.11C492.02,227.82 492.22,226.44 492.58,225.25C492.94,224.06 493.51,222.88 494.17,221.97C494.83,221.06 495.69,220.28 496.56,219.79C497.42,219.29 498.43,219.02 499.37,219.02C500.31,219.02 501.32,219.29 502.19,219.79C503.05,220.28 503.91,221.06 504.57,221.97C505.24,222.88 505.81,224.06 506.17,225.25C506.53,226.44 506.73,227.82 506.73,229.11Z" fill="none" stroke="#262626" stroke-width="0.55"/>
<path d="M505.71,228.86C505.71,229.96 505.54,231.14 505.24,232.16C504.93,233.17 504.44,234.17 503.87,234.95C503.31,235.73 502.58,236.40 501.84,236.82C501.10,237.24 500.24,237.47 499.43,237.47C498.63,237.47 497.77,237.24 497.03,236.82C496.29,236.40 495.56,235.73 495.00,234.95C494.43,234.17 493.94,233.17 493.63,232.16C493.33,231.14 493.16,229.96 493.16,228.86C493.16,227.76 493.33,226.58 493.63,225.56C493.94,224.55 494.43,223.55 495.00,222.77C495.56,221.99 496.29,221.32 497.03,220.90C497.77,220.48 498.63,220.25 499.43,220.25C500.24,220.25 501.10,220.48 501.84,220.90C502.58,221.32 503.31,221.99 503.87,222.77C504.44,223.55 504.93,224.55 505.24,225.56C505.54,226.58 505.71,227.76 505.71,228.86Z" fill="none" stroke="#262626" stroke-width="0.55"/>
<path d="M504.75,228.62C504.75,229.54 504.61,230.53 504.35,231.38C504.09,232.23 503.69,233.07 503.21,233.72C502.74,234.37 502.13,234.93 501.51,235.29C500.89,235.64 500.16,235.83 499.49,235.83C498.82,235.83 498.10,235.64 497.48,235.29C496.86,234.93 496.25,234.37 495.78,233.72C495.30,233.07 494.89,232.23 494.64,231.38C494.38,230.53 494.24,229.54 494.24,228.62C494.24,227.70 494.38,226.71 494.64,225.86C494.89,225.01 495.30,224.17 495.78,223.52C496.25,222.87 496.86,222.31 497.48,221.96C498.10,221.61 498.82,221.41 499.49,221.41C500.16,221.41 500.89,221.61 501.51,221.96C502.13,222.31 502.74,222.87 503.21,223.52C503.69,224.17 504.09,225.01 504.35,225.86C504.61,226.71 504.75,227.70 504.75,228.62Z" fill="none" stroke="#262626" stroke-width="0.55"/>
<path d="M503.82,228.39C503.82,229.14 503.70,229.94 503.49,230.63C503.29,231.32 502.95,232.01 502.57,232.53C502.18,233.06 501.69,233.52 501.19,233.80C500.68,234.09 500.10,234.25 499.55,234.25C499.01,234.25 498.42,234.09 497.92,233.80C497.42,233.52 496.92,233.06 496.53,232.53C496.15,232.01 495.82,231.32 495.61,230.63C495.40,229.94 495.28,229.14 495.28,228.39C495.28,227.65 495.40,226.84 495.61,226.15C495.82,225.46 496.15,224.78 496.53,224.25C496.92,223.72 497.42,223.27 497.92,222.98C498.42,222.70 499.01,222.54 499.55,222.54C500.10,222.54 500.68,222.70 501.19,222.98C501.69,223.27 502.18,223.72 502.57,224.25C502.95,224.78 503.29,225.46 503.49,226.15C503.70,226.84 503.82,227.65 503.82,228.39Z" fill="none" stroke="#262626" stroke-width="0.55"/>
<path d="M502.91,228.17C502.91,228.75 502.82,229.37 502.66,229.90C502.50,230.44 502.24,230.97 501.94,231.37C501.65,231.78 501.26,232.14 500.87,232.36C500.48,232.58 500.03,232.70 499.61,232.70C499.19,232.70 498.73,232.58 498.34,232.36C497.95,232.14 497.57,231.78 497.27,231.37C496.97,230.97 496.72,230.44 496.56,229.90C496.39,229.37 496.30,228.75 496.30,228.17C496.30,227.59 496.39,226.97 496.56,226.43C496.72,225.90 496.97,225.37 497.27,224.96C497.57,224.55 497.95,224.20 498.34,223.98C498.73,223.76 499.19,223.63 499.61,223.63C500.03,223.63 500.48,223.76 500.87,223.98C501.26,224.20 501.65,224.55 501.94,224.96C502.24,225.37 502.50,225.90 502.66,226.43C502.82,226.97 502.91,227.59 502.91,228.17Z" fill="none" stroke="#262626" stroke-width="0.55"/>
<path d="M502.02,227.95C502.02,228.36 501.96,228.81 501.84,229.19C501.73,229.57 501.54,229.95 501.33,230.24C501.12,230.53 500.84,230.78 500.57,230.94C500.29,231.10 499.96,231.19 499.66,231.19C499.36,231.19 499.04,231.10 498.76,230.94C498.48,230.78 498.21,230.53 497.99,230.24C497.78,229.95 497.60,229.57 497.48,229.19C497.37,228.81 497.30,228.36 497.30,227.95C497.30,227.54 497.37,227.09 497.48,226.71C497.60,226.33 497.78,225.95 497.99,225.66C498.21,225.37 498.48,225.12 498.76,224.96C499.04,224.80 499.36,224.71 499.66,224.71C499.96,224.71 500.29,224.80 500.57,224.96C500.84,225.12 501.12,225.37 501.33,225.66C501.54,225.95 501.73,226.33 501.84,226.71C501.96,227.09 502.02,227.54 502.02,227.95Z" fill="none" stroke="#262626" stroke-width="0.55"/>
<path d="M501.15,227.73C501.15,227.98 501.11,228.25 501.04,228.48C500.97,228.72 500.86,228.94 500.73,229.12C500.60,229.30 500.43,229.45 500.26,229.55C500.10,229.64 499.90,229.70 499.72,229.70C499.53,229.70 499.34,229.64 499.17,229.55C499.00,229.45 498.83,229.30 498.70,229.12C498.58,228.94 498.46,228.72 498.39,228.48C498.32,228.25 498.29,227.98 498.29,227.73C498.29,227.48 498.32,227.21 498.39,226.98C498.46,226.75 498.58,226.52 498.70,226.34C498.83,226.17 499.00,226.01 499.17,225.92C499.34,225.82 499.53,225.77 499.72,225.77C499.90,225.77 500.10,225.82 500.26,225.92C500.43,226.01 500.60,226.17 500.73,226.34C500.86,226.52 500.97,226.75 501.04,226.98C501.11,227.21 501.15,227.48 501.15,227.73Z" fill="none" stroke="#262626" stroke-width="0.55"/>
<path d="M437.00,260.00C437.50,257.83 437.83,256.00 440.00,255.00C442.17,254.00 446.67,253.83 450.00,254.00C453.33,254.17 458.00,254.17 460.00,256.00C462.00,257.83 462.33,261.33 462.00,265.00C461.67,268.67 459.67,274.67 458.00,278.00C456.33,281.33 454.00,283.83 452.00,285.00C450.00,286.17 448.00,286.17 446.00,285.00C444.00,283.83 441.50,280.83 440.00,278.00C438.50,275.17 437.50,271.00 437.00,268.00C436.50,265.00 436.50,262.17 437.00,260.00Z" fill="none" stroke="#262626" stroke-width="0.55"/>
<path d="M439.08,260.35C439.50,258.38 439.77,257.04 441.56,256.21C443.35,255.39 447.07,255.25 449.83,255.39C452.58,255.53 456.44,255.44 458.09,257.04C459.74,258.64 460.02,261.51 459.74,265.00C459.47,268.49 457.82,274.75 456.44,278.00C455.06,281.25 453.13,283.40 451.48,284.48C449.83,285.56 448.17,285.56 446.52,284.48C444.87,283.40 442.80,280.75 441.56,278.00C440.32,275.25 439.50,270.94 439.08,268.00C438.67,265.06 438.67,262.31 439.08,260.35Z" fill="none" stroke="#262626" stroke-width="0.55"/>
<path d="M440.89,260.65C441.22,258.86 441.45,257.94 442.91,257.27C444.38,256.59 447.42,256.48 449.68,256.59C451.93,256.70 455.09,256.54 456.44,257.94C457.79,259.34 458.02,261.66 457.79,265.00C457.56,268.34 456.21,274.83 455.09,278.00C453.96,281.17 452.38,283.02 451.03,284.03C449.68,285.03 448.32,285.03 446.97,284.03C445.62,283.02 443.93,280.67 442.91,278.00C441.90,275.33 441.22,270.89 440.89,268.00C440.55,265.11 440.55,262.44 440.89,260.65Z" fill="none" stroke="#262626" stroke-width="0.55"/>
<path d="M442.60,260.93C442.86,259.31 443.04,258.80 444.20,258.27C445.35,257.73 447.76,257.64 449.53,257.73C451.31,257.82 453.80,257.59 454.87,258.80C455.94,260.01 456.11,261.80 455.94,265.00C455.76,268.20 454.69,274.90 453.80,278.00C452.91,281.10 451.67,282.67 450.60,283.60C449.53,284.53 448.47,284.53 447.40,283.60C446.33,282.67 445.00,280.60 444.20,278.00C443.40,275.40 442.86,270.84 442.60,268.00C442.33,265.16 442.33,262.56 442.60,260.93Z" fill="none" stroke="#262626" stroke-width="0.55"/>
<path d="M444.25,261.21C444.45,259.75 444.58,259.63 445.44,259.23C446.30,258.83 448.08,258.77 449.40,258.83C450.71,258.90 452.56,258.60 453.35,259.63C454.14,260.65 454.28,261.94 454.14,265.00C454.01,268.06 453.22,274.97 452.56,278.00C451.90,281.03 450.98,282.32 450.19,283.19C449.40,284.05 448.60,284.05 447.81,283.19C447.02,282.32 446.03,280.53 445.44,278.00C444.85,275.47 444.45,270.80 444.25,268.00C444.05,265.20 444.05,262.67 444.25,261.21Z" fill="none" stroke="#262626" stroke-width="0.55"/>
<path d="M445.86,261.48C446.00,260.17 446.08,260.43 446.65,260.17C447.21,259.91 448.39,259.87 449.26,259.91C450.13,259.95 451.35,259.58 451.87,260.43C452.40,261.28 452.48,262.07 452.40,265.00C452.31,267.93 451.79,275.04 451.35,278.00C450.92,280.96 450.31,281.99 449.78,282.78C449.26,283.58 448.74,283.58 448.22,282.78C447.69,281.99 447.04,280.46 446.65,278.00C446.26,275.54 446.00,270.75 445.86,268.00C445.73,265.25 445.73,262.78 445.86,261.48Z" fill="none" stroke="#262626" stroke-width="0.55"/>
<path d="M447.45,261.74C447.51,260.59 447.55,261.22 447.83,261.09C448.11,260.96 448.70,260.94 449.13,260.96C449.56,260.99 450.17,260.55 450.42,261.22C450.68,261.90 450.73,262.20 450.68,265.00C450.64,267.80 450.38,275.10 450.17,278.00C449.95,280.90 449.65,281.66 449.39,282.39C449.13,283.12 448.87,283.12 448.61,282.39C448.35,281.66 448.03,280.40 447.83,278.00C447.64,275.60 447.51,270.71 447.45,268.00C447.38,265.29 447.38,262.89 447.45,261.74Z" fill="none" stroke="#262626" stroke-width="0.55"/>
<path d="M77 216.5h1M63 236.5h1M70 230.5h1M72 231.5h1M54 232.5h1M78 241.5h1M63 244.5h1M73 238.5h1M61 242.5h1M73 243.5h1M77 233.5h1M78 235.5h1M66 245.5h1M71 240.5h1M72 219.5h1M84 234.5h1M80 230.5h1M45 243.5h1M64 237.5h1M51 230.5h1M70 227.5h1M69 231.5h1M63 227.5h1M92 248.5h1M79 225.5h1M68 257.5h1M67 242.5h1M82 230.5h1M69 251.5h1M78 259.5h1M60 256.5h1M58 246.5h1M69 242.5h1M76 241.5h1M66 242.5h1M62 241.5h1M68 249.5h1M67 250.5h1M58 233.5h1M75 240.5h1M80 245.5h1M60 241.5h1M65 242.5h1M61 249.5h1M76 230.5h1M68 236.5h1M69 228.5h1M53 234.5h1M68 230.5h1M51 256.5h1M65 216.5h1M53 241.5h1M60 231.5h1M59 229.5h1M65 246.5h1M77 226.5h1M62 248.5h1M86 235.5h1M91 234.5h1M72 251.5h1M86 223.5h1M77 239.5h1M62 252.5h1M69 244.5h1M53 239.5h1M57 240.5h1M67 241.5h1M61 220.5h1M77 232.5h1M55 253.5h1M70 242.5h1M76 233.5h1M65 248.5h1M82 262.5h1M45 232.5h1M59 248.5h1M68 239.5h1M68 235.5h1M79 231.5h1M71 221.5h1M72 243.5h1M53 233.5h1M84 243.5h1M71 251.5h1M63 243.5h1M81 233.5h1M69 243.5h1M78 221.5h1M74 242.5h1M65 234.5h1" stroke="#8a8a8a" stroke-width="1" fill="none"/>
<path d="M79 234.5h1M85 263.5h1M82 253.5h1M83 235.5h1M91 241.5h1M84 246.5h1M85 238.5h1M76 249.5h1M70 250.5h1M80 250.5h1M86 246.5h1M90 253.5h1M90 252.5h1M91 259.5h1M95 248.5h1M98 235.5h1M74 248.5h1M92 267.5h1M94 242.5h1M93 242.5h1M90 243.5h1M88 248.5h1M92 230.5h1M77 255.5h1M89 239.5h1M83 273.5h1M75 261.5h1M84 270.5h1M90 247.5h1M83 246.5h1M90 223.5h1M77 253.5h1M84 253.5h1M81 234.5h1M99 262.5h1M93 244.5h1M89 240.5h1M77 251.5h1M86 246.5h1M81 244.5h1" stroke="#8a8a8a" stroke-width="1" fill="none"/>
<path d="M75 291.5h1M71 303.5h1M78 287.5h1M92 281.5h1M91 294.5h1M77 294.5h1M75 302.5h1M85 296.5h1M77 286.5h1M87 284.5h1M78 290.5h1M89 296.5h1M84 300.5h1M88 285.5h1M76 293.5h1M84 296.5h1M92 288.5h1M81 294.5h1M100 288.5h1M73 290.5h1M63 288.5h1M79 306.5h1M69 292.5h1M81 291.5h1M78 295.5h1M87 306.5h1M99 296.5h1M73 300.5h1M76 292.5h1M80 297.5h1M79 292.5h1M74 289.5h1M75 282.5h1M90 275.5h1M75 302.5h1M81 285.5h1M69 284.5h1M88 281.5h1M70 292.5h1M71 299.5h1M81 291.5h1M74 280.5h1M78 292.5h1M77 309.5h1M80 279.5h1M95 285.5h1M88 292.5h1M75 278.5h1M77 292.5h1M71 283.5h1M78 293.5h1M81 296.5h1M65 293.5h1M84 298.5h1M81 296.5h1M84 300.5h1M83 273.5h1M97 281.5h1M66 289.5h1M78 303.5h1M83 286.5h1M81 297.5h1M70 284.5h1M74 294.5h1M75 292.5h1M84 277.5h1M86 296.5h1M84 288.5h1M89 277.5h1M76 279.5h1" stroke="#8a8a8a" stroke-width="1" fill="none"/>
<path d="M67 276.5h1M66 276.5h1M65 271.5h1M67 264.5h1M66 272.5h1M53 268.5h1M56 275.5h1M74 258.5h1M61 268.5h1M65 265.5h1M53 273.5h1M57 275.5h1M62 262.5h1M72 279.5h1M67 270.5h1M66 278.5h1M53 276.5h1M65 272.5h1M70 265.5h1M60 272.5h1M52 269.5h1M64 266.5h1M68 275.5h1M55 273.5h1M72 266.5h1" stroke="#8a8a8a" stroke-width="1" fill="none"/>
<path d="M103 238.5h1M112 233.5h1M111 239.5h1M109 233.5h1M99 232.5h1M105 237.5h1M109 238.5h1M111 235.5h1M107 237.5h1M114 236.5h1M117 239.5h1M110 236.5h1M108 236.5h1M112 244.5h1M111 237.5h1M114 239.5h1M113 242.5h1M113 239.5h1M107 235.5h1M107 235.5h1" stroke="#8a8a8a" stroke-width="1" fill="none"/>
<path d="M107 311.5h1M85 310.5h1M82 314.5h1M86 274.5h1M117 270.5h1M74 293.5h1M85 247.5h1M111 235.5h1M100 273.5h1M102 282.5h1M95 313.5h1M95 225.5h1M106 252.5h1M114 278.5h1M70 304.5h1M95 264.5h1M90 292.5h1M111 294.5h1M117 279.5h1M61 258.5h1M78 291.5h1M99 280.5h1M83 261.5h1M92 279.5h1M108 253.5h1" stroke="#8a8a8a" stroke-width="1" fill="none"/>
<path d="M193 228.5h1M199 229.5h1M200 234.5h1M212 223.5h1M190 230.5h1M207 253.5h1M219 220.5h1M192 243.5h1M203 228.5h1M186 245.5h1M213 249.5h1M205 231.5h1M184 236.5h1M203 219.5h1M191 230.5h1M187 235.5h1M184 244.5h1M198 242.5h1M201 246.5h1M202 245.5h1M201 243.5h1M199 229.5h1M206 240.5h1M194 239.5h1M213 231.5h1M200 242.5h1M206 225.5h1M204 247.5h1M194 238.5h1M188 238.5h1M179 240.5h1M179 224.5h1M192 236.5h1M205 222.5h1M197 222.5h1M197 241.5h1M204 240.5h1M195 242.5h1M187 231.5h1M193 239.5h1M215 250.5h1M203 252.5h1M194 225.5h1M201 237.5h1M209 236.5h1M195 241.5h1M171 251.5h1M213 242.5h1M199 240.5h1M216 238.5h1M214 227.5h1M197 263.5h1M189 250.5h1M203 237.5h1M196 244.5h1M196 248.5h1M187 235.5h1M192 229.5h1M197 247.5h1M205 238.5h1M192 241.5h1M193 244.5h1M198 261.5h1M213 245.5h1M214 247.5h1M214 239.5h1M208 246.5h1M206 245.5h1M193 235.5h1M203 241.5h1M192 237.5h1M188 246.5h1M181 232.5h1M197 237.5h1M185 237.5h1M174 242.5h1M202 235.5h1M205 241.5h1M180 250.5h1M191 222.5h1M199 253.5h1M208 251.5h1M189 223.5h1M186 251.5h1M191 242.5h1M194 255.5h1M195 226.5h1M186 230.5h1M205 240.5h1M195 235.5h1M200 243.5h1M175 242.5h1M197 245.5h1M193 260.5h1M219 232.5h1M208 248.5h1M196 243.5h1M182 217.5h1M196 222.5h1" stroke="#8a8a8a" stroke-width="1" fill="none"/>
<path d="M216 248.5h1M214 261.5h1M215 252.5h1M215 240.5h1M203 238.5h1M213 248.5h1M223 253.5h1M211 247.5h1M226 249.5h1M216 215.5h1M206 233.5h1M209 239.5h1M215 246.5h1M218 248.5h1M210 249.5h1M207 241.5h1M210 216.5h1M218 251.5h1M216 241.5h1M224 246.5h1M212 247.5h1M228 253.5h1M212 239.5h1M221 241.5h1M214 232.5h1M220 246.5h1M214 267.5h1M210 248.5h1M215 243.5h1M219 255.5h1M216 246.5h1M221 268.5h1M226 239.5h1M210 236.5h1M207 249.5h1M225 249.5h1M220 247.5h1M215 235.5h1M218 237.5h1M209 247.5h1" stroke="#8a8a8a" stroke-width="1" fill="none"/>
<path d="M221 291.5h1M207 298.5h1M220 285.5h1M215 295.5h1M226 290.5h1M202 290.5h1M197 288.5h1M217 285.5h1M214 286.5h1M220 279.5h1M215 290.5h1M215 303.5h1M202 293.5h1M210 288.5h1M221 275.5h1M213 280.5h1M212 279.5h1M191 300.5h1M213 295.5h1M208 290.5h1M219 293.5h1M221 281.5h1M221 304.5h1M228 283.5h1M205 288.5h1M209 286.5h1M224 283.5h1M227 287.5h1M220 280.5h1M208 294.5h1M215 283.5h1M227 280.5h1M226 277.5h1M213 303.5h1M213 283.5h1M214 279.5h1M218 292.5h1M219 293.5h1M194 283.5h1M212 302.5h1M196 281.5h1M216 291.5h1M206 292.5h1M208 289.5h1M213 286.5h1M211 300.5h1M217 285.5h1M220 285.5h1M205 276.5h1M205 292.5h1M207 264.5h1M205 285.5h1M209 273.5h1M217 279.5h1M193 280.5h1M225 288.5h1M211 292.5h1M213 270.5h1M209 289.5h1M205 300.5h1M204 316.5h1M204 282.5h1M220 285.5h1M209 271.5h1M203 284.5h1M229 271.5h1M206 294.5h1M213 283.5h1M210 296.5h1M191 294.5h1M225 282.5h1M207 288.5h1M218 286.5h1M217 282.5h1M219 280.5h1M206 287.5h1M209 288.5h1M221 293.5h1M213 290.5h1M213 281.5h1M210 289.5h1M223 284.5h1M203 305.5h1M226 276.5h1M210 282.5h1M225 291.5h1M209 298.5h1M216 280.5h1M204 297.5h1M201 287.5h1M211 293.5h1M210 284.5h1M224 299.5h1M214 294.5h1M193 299.5h1M196 284.5h1M208 283.5h1M205 292.5h1M210 292.5h1M205 294.5h1M233 281.5h1M214 280.5h1M225 298.5h1M213 286.5h1M211 286.5h1M205 298.5h1M195 296.5h1M218 285.5h1M191 303.5h1M210 301.5h1M192 285.5h1M205 302.5h1M223 294.5h1M202 275.5h1M223 288.5h1M198 273.5h1M202 318.5h1M211 315.5h1M220 271.5h1M237 296.5h1M222 294.5h1M207 301.5h1M210 294.5h1M208 285.5h1M219 272.5h1M196 301.5h1M215 308.5h1M210 285.5h1M218 308.5h1" stroke="#8a8a8a" stroke-width="1" fill="none"/>
<path d="M197 272.5h1M187 267.5h1M189 269.5h1M194 271.5h1M191 263.5h1M188 260.5h1M187 270.5h1M199 270.5h1M198 265.5h1M195 273.5h1M197 273.5h1M198 273.5h1M187 268.5h1M193 269.5h1M197 268.5h1M189 272.5h1M199 270.5h1M194 271.5h1M191 273.5h1M196 271.5h1M196 267.5h1M189 282.5h1M186 265.5h1M185 270.5h1M192 270.5h1" stroke="#8a8a8a" stroke-width="1" fill="none"/>
<path d="M236 239.5h1M242 238.5h1M237 233.5h1M237 234.5h1M236 241.5h1M248 236.5h1M248 239.5h1M237 238.5h1M242 238.5h1M232 240.5h1M248 235.5h1M230 235.5h1M242 238.5h1M227 237.5h1M242 237.5h1M244 234.5h1M243 232.5h1M247 233.5h1M241 231.5h1M243 234.5h1M239 236.5h1M242 234.5h1M249 238.5h1M244 237.5h1M235 236.5h1" stroke="#8a8a8a" stroke-width="1" fill="none"/>
<path d="M225 275.5h1M235 270.5h1M215 315.5h1M222 274.5h1M225 292.5h1M211 299.5h1M210 254.5h1M235 278.5h1M223 317.5h1M237 277.5h1M192 211.5h1M215 314.5h1M215 272.5h1M193 269.5h1M222 280.5h1M217 267.5h1M222 283.5h1M242 251.5h1M229 251.5h1M223 254.5h1M217 230.5h1M217 261.5h1M205 269.5h1M218 252.5h1" stroke="#8a8a8a" stroke-width="1" fill="none"/>
<path d="M326 239.5h1M329 230.5h1M330 249.5h1M323 215.5h1M322 252.5h1M327 239.5h1M318 247.5h1M316 245.5h1M319 234.5h1M315 220.5h1M320 263.5h1M328 239.5h1M302 250.5h1M308 225.5h1M310 256.5h1M326 243.5h1M334 236.5h1M332 250.5h1M314 223.5h1M311 227.5h1M320 247.5h1M329 251.5h1M325 212.5h1M330 225.5h1M322 245.5h1M329 252.5h1M340 271.5h1M314 233.5h1M344 231.5h1M329 248.5h1M335 237.5h1M317 223.5h1M331 232.5h1M334 241.5h1M312 238.5h1M324 251.5h1M301 252.5h1M329 252.5h1M319 232.5h1M314 238.5h1M322 220.5h1M320 243.5h1M308 232.5h1M330 223.5h1M330 228.5h1M314 244.5h1M334 223.5h1M317 229.5h1M321 246.5h1M329 246.5h1M319 251.5h1M318 236.5h1M313 232.5h1M314 241.5h1M335 239.5h1M301 233.5h1M300 248.5h1M330 220.5h1M326 242.5h1M303 238.5h1M315 229.5h1M321 237.5h1M312 243.5h1M317 251.5h1M327 232.5h1M310 258.5h1M317 243.5h1M336 231.5h1M345 218.5h1M347 238.5h1M348 251.5h1M347 243.5h1M327 233.5h1M308 245.5h1M309 228.5h1M306 225.5h1M313 249.5h1M312 243.5h1M317 241.5h1M318 243.5h1M312 215.5h1M309 242.5h1M318 264.5h1M316 231.5h1M319 234.5h1M340 230.5h1M330 221.5h1M320 249.5h1M310 226.5h1M307 237.5h1M312 249.5h1M324 244.5h1M300 231.5h1M344 244.5h1M314 234.5h1M323 256.5h1M312 229.5h1M313 255.5h1M315 252.5h1M317 232.5h1M332 251.5h1M317 245.5h1M320 258.5h1M337 250.5h1M328 232.5h1M307 238.5h1M318 234.5h1M314 245.5h1M316 252.5h1M318 230.5h1M319 258.5h1M350 244.5h1M334 244.5h1M303 252.5h1M343 228.5h1M335 228.5h1M312 255.5h1M325 238.5h1M316 214.5h1M325 250.5h1M331 230.5h1M312 250.5h1M320 229.5h1M326 249.5h1M323 245.5h1M327 230.5h1M314 226.5h1M326 232.5h1M316 254.5h1M312 245.5h1M326 233.5h1M309 224.5h1M315 225.5h1M309 229.5h1M310 258.5h1M319 259.5h1M326 228.5h1M338 246.5h1M336 257.5h1M308 237.5h1M308 258.5h1M312 232.5h1M322 241.5h1M330 257.5h1M309 217.5h1M328 238.5h1M333 263.5h1M338 239.5h1M306 218.5h1M300 248.5h1M326 264.5h1M318 232.5h1M314 256.5h1M303 229.5h1M320 240.5h1M329 245.5h1M308 235.5h1M313 235.5h1M307 237.5h1M323 246.5h1M312 235.5h1M319 230.5h1M321 246.5h1M339 230.5h1M320 238.5h1M318 234.5h1M312 241.5h1M311 257.5h1M335 236.5h1M317 250.5h1M331 241.5h1M326 234.5h1M327 232.5h1M303 264.5h1M298 216.5h1M321 224.5h1M304 230.5h1M329 233.5h1M343 245.5h1M322 244.5h1M342 241.5h1M318 229.5h1M331 246.5h1M320 241.5h1M334 242.5h1M319 241.5h1M331 241.5h1M311 231.5h1M326 227.5h1M330 247.5h1M330 245.5h1M335 245.5h1M310 253.5h1M342 235.5h1" stroke="#8a8a8a" stroke-width="1" fill="none"/>
<path d="M352 266.5h1M339 274.5h1M343 211.5h1M345 223.5h1M354 245.5h1M336 260.5h1M345 260.5h1M345 268.5h1M347 256.5h1M343 227.5h1M343 250.5h1M338 254.5h1M337 248.5h1M327 236.5h1M344 236.5h1M341 226.5h1M337 248.5h1M328 248.5h1M340 229.5h1M344 248.5h1M342 251.5h1M345 265.5h1M346 244.5h1M330 264.5h1M342 246.5h1M345 244.5h1M328 246.5h1M334 234.5h1M333 281.5h1M333 231.5h1M346 267.5h1M336 266.5h1M340 261.5h1M332 259.5h1M343 234.5h1M320 275.5h1M333 241.5h1M354 231.5h1M332 246.5h1M336 266.5h1M334 247.5h1M333 242.5h1M331 252.5h1M336 238.5h1M332 285.5h1M343 262.5h1M344 261.5h1M351 236.5h1M330 267.5h1M321 234.5h1M344 263.5h1M339 245.5h1M334 270.5h1M352 247.5h1M340 272.5h1M335 273.5h1M345 237.5h1M340 268.5h1M342 272.5h1M353 245.5h1M355 261.5h1M323 271.5h1M342 279.5h1M355 248.5h1M345 223.5h1M340 243.5h1M337 274.5h1M343 253.5h1M335 239.5h1M331 255.5h1M335 266.5h1M345 248.5h1M342 231.5h1M339 256.5h1M322 246.5h1M336 252.5h1M335 238.5h1M346 256.5h1M334 232.5h1M343 235.5h1M357 246.5h1M329 219.5h1M339 279.5h1M347 248.5h1M346 219.5h1M344 240.5h1M341 256.5h1M344 241.5h1M339 248.5h1M338 224.5h1M333 236.5h1M350 276.5h1M350 247.5h1M348 273.5h1M339 256.5h1M342 264.5h1M361 245.5h1M339 257.5h1M338 260.5h1M334 252.5h1" stroke="#8a8a8a" stroke-width="1" fill="none"/>
<path d="M340 296.5h1M340 282.5h1M347 293.5h1M315 288.5h1M335 286.5h1M334 294.5h1M323 289.5h1M323 287.5h1M339 290.5h1M330 282.5h1M342 292.5h1M334 282.5h1M328 293.5h1M322 300.5h1M346 289.5h1M339 286.5h1M330 291.5h1M333 279.5h1M334 287.5h1M333 285.5h1M324 299.5h1M354 290.5h1M332 291.5h1M342 289.5h1M327 282.5h1M316 292.5h1M324 290.5h1M325 298.5h1M329 273.5h1M331 286.5h1M335 308.5h1M326 313.5h1M316 289.5h1M342 293.5h1M322 290.5h1M332 288.5h1M325 291.5h1M329 288.5h1M331 299.5h1M342 298.5h1M341 300.5h1M331 298.5h1M327 276.5h1M335 296.5h1M327 286.5h1M351 302.5h1M323 295.5h1M350 285.5h1M341 305.5h1M346 286.5h1M351 285.5h1M340 286.5h1M321 299.5h1M325 290.5h1M332 285.5h1M329 292.5h1M330 272.5h1M324 285.5h1M347 284.5h1M329 295.5h1M333 300.5h1M320 299.5h1M334 286.5h1M316 301.5h1M344 283.5h1M332 304.5h1M328 301.5h1M344 312.5h1M335 295.5h1M359 306.5h1M334 300.5h1M349 295.5h1M351 288.5h1M337 298.5h1M322 274.5h1M319 290.5h1M321 288.5h1M317 295.5h1M335 285.5h1M329 290.5h1M335 292.5h1M325 282.5h1M331 278.5h1M349 312.5h1M331 294.5h1M327 283.5h1M320 287.5h1M330 306.5h1M312 295.5h1M333 285.5h1" stroke="#8a8a8a" stroke-width="1" fill="none"/>
<path d="M388 224.5h1M371 238.5h1M377 232.5h1M379 215.5h1M372 226.5h1M375 217.5h1M381 218.5h1M355 226.5h1M373 242.5h1M379 244.5h1M373 232.5h1M371 233.5h1M374 240.5h1M388 219.5h1M360 215.5h1M367 221.5h1M376 228.5h1M360 218.5h1M363 240.5h1M370 217.5h1M373 210.5h1M371 238.5h1M376 222.5h1M380 225.5h1M379 234.5h1M373 236.5h1M372 231.5h1M371 231.5h1M358 241.5h1M370 214.5h1M366 228.5h1M375 215.5h1M359 235.5h1M384 211.5h1M360 222.5h1M393 248.5h1M377 244.5h1M378 228.5h1M377 239.5h1M379 235.5h1M374 234.5h1M387 227.5h1M381 222.5h1M369 229.5h1M378 224.5h1M385 220.5h1M384 221.5h1M361 213.5h1M386 231.5h1M369 232.5h1M381 240.5h1M366 226.5h1M366 232.5h1M350 226.5h1M378 236.5h1M357 225.5h1M362 242.5h1M377 234.5h1M382 234.5h1M371 227.5h1M365 233.5h1M362 245.5h1M376 222.5h1M379 226.5h1M372 229.5h1M366 232.5h1M365 219.5h1M365 221.5h1M379 230.5h1M370 229.5h1M386 214.5h1M363 222.5h1M377 229.5h1M382 215.5h1M358 242.5h1M354 232.5h1M378 244.5h1M365 226.5h1M360 239.5h1M382 226.5h1M379 228.5h1M383 222.5h1M340 223.5h1" stroke="#8a8a8a" stroke-width="1" fill="none"/>
<path d="M330 216.5h1M327 219.5h1M346 215.5h1M334 217.5h1M331 214.5h1M340 213.5h1M333 210.5h1M346 216.5h1M340 215.5h1M308 218.5h1M318 214.5h1M307 213.5h1M305 214.5h1M347 217.5h1M303 222.5h1M315 212.5h1M332 218.5h1M332 217.5h1M324 218.5h1M316 220.5h1M312 210.5h1M329 221.5h1M330 212.5h1M359 213.5h1M322 215.5h1M351 221.5h1M335 214.5h1M314 214.5h1M320 221.5h1M350 218.5h1M349 213.5h1M355 217.5h1M346 220.5h1M340 213.5h1M335 215.5h1M321 213.5h1M345 220.5h1M309 212.5h1M337 216.5h1M340 218.5h1M323 218.5h1M322 212.5h1M331 211.5h1M352 213.5h1M363 218.5h1M364 214.5h1M365 216.5h1M332 211.5h1M334 218.5h1M335 215.5h1M343 219.5h1M352 212.5h1M322 218.5h1M329 211.5h1M339 212.5h1M312 222.5h1M310 219.5h1" stroke="#8a8a8a" stroke-width="1" fill="none"/>
<path d="M363 232.5h1M318 285.5h1M336 255.5h1M352 292.5h1M327 289.5h1M355 282.5h1M361 253.5h1M353 275.5h1M337 283.5h1M342 305.5h1M364 281.5h1M365 262.5h1M355 289.5h1M317 265.5h1M367 263.5h1M360 290.5h1M340 263.5h1M339 295.5h1M348 277.5h1M352 288.5h1M327 307.5h1M359 293.5h1M353 256.5h1M336 259.5h1M308 290.5h1M339 298.5h1M337 276.5h1M302 277.5h1M328 303.5h1M340 268.5h1M376 291.5h1M345 238.5h1M361 267.5h1M345 249.5h1M347 296.5h1M357 283.5h1M339 266.5h1M346 272.5h1M342 318.5h1M346 280.5h1" stroke="#8a8a8a" stroke-width="1" fill="none"/>
<path d="M462 214.5h1M461 211.5h1M434 214.5h1M485 217.5h1M477 213.5h1M447 222.5h1M445 222.5h1M501 214.5h1M461 216.5h1M464 217.5h1M445 216.5h1M478 211.5h1M456 216.5h1M477 212.5h1M465 219.5h1M439 215.5h1M486 221.5h1M458 212.5h1M429 211.5h1M446 220.5h1M432 215.5h1M453 221.5h1M464 217.5h1M431 214.5h1M481 221.5h1M449 211.5h1M454 216.5h1M442 214.5h1M439 217.5h1M443 213.5h1M440 222.5h1M467 219.5h1M432 218.5h1M450 217.5h1M434 223.5h1M435 214.5h1M450 215.5h1M474 216.5h1M494 216.5h1M424 220.5h1M443 224.5h1M432 213.5h1M454 216.5h1M455 211.5h1M453 218.5h1M444 216.5h1M468 222.5h1M438 220.5h1M479 217.5h1M449 215.5h1M485 219.5h1M456 219.5h1M466 216.5h1M497 222.5h1M475 214.5h1M474 218.5h1M459 216.5h1M447 215.5h1M489 218.5h1M440 223.5h1M454 213.5h1M431 220.5h1M451 219.5h1M461 219.5h1M456 219.5h1M445 212.5h1M442 215.5h1M492 213.5h1M474 210.5h1M463 215.5h1M469 212.5h1M435 216.5h1M481 211.5h1M496 219.5h1M493 219.5h1M474 211.5h1M447 217.5h1M431 215.5h1M442 217.5h1" stroke="#8a8a8a" stroke-width="1" fill="none"/>
<path d="M467 226.5h1M465 234.5h1M439 244.5h1M448 232.5h1M457 240.5h1M445 232.5h1M444 230.5h1M449 231.5h1M452 244.5h1M477 223.5h1M428 216.5h1M446 230.5h1M446 240.5h1M448 245.5h1M462 237.5h1M468 246.5h1M440 247.5h1M459 232.5h1M465 248.5h1M462 243.5h1M441 231.5h1M432 245.5h1M476 237.5h1M449 237.5h1M451 245.5h1M444 232.5h1M457 247.5h1M472 245.5h1M437 231.5h1M429 247.5h1M424 244.5h1M463 240.5h1M464 213.5h1M451 236.5h1M450 217.5h1M440 226.5h1M455 249.5h1M459 230.5h1M439 224.5h1M430 239.5h1M452 232.5h1M435 234.5h1M428 218.5h1M454 225.5h1M450 243.5h1M435 223.5h1M440 238.5h1M471 217.5h1M458 227.5h1M433 241.5h1M457 243.5h1M450 228.5h1M433 243.5h1M461 230.5h1M434 227.5h1M436 229.5h1M441 211.5h1M457 234.5h1M463 236.5h1M437 239.5h1M437 230.5h1M456 231.5h1M444 230.5h1M446 231.5h1M450 242.5h1M464 246.5h1M441 233.5h1M427 257.5h1M444 242.5h1M463 232.5h1M445 244.5h1M451 231.5h1M456 225.5h1M472 233.5h1M451 231.5h1M456 243.5h1M438 234.5h1M463 225.5h1M452 248.5h1M458 227.5h1M461 245.5h1M473 248.5h1M446 226.5h1M461 245.5h1M449 239.5h1M438 256.5h1M492 216.5h1M461 235.5h1M441 237.5h1M455 225.5h1M437 233.5h1M453 228.5h1M459 229.5h1M450 241.5h1M450 240.5h1M436 230.5h1M459 244.5h1M443 250.5h1M459 241.5h1M439 240.5h1M470 221.5h1M427 233.5h1M459 240.5h1M441 230.5h1M440 234.5h1M450 251.5h1M446 230.5h1M444 239.5h1M443 226.5h1M451 245.5h1M440 253.5h1M442 229.5h1M427 250.5h1M435 226.5h1M450 246.5h1M458 246.5h1M466 237.5h1M449 257.5h1M456 229.5h1M440 216.5h1M452 236.5h1M445 251.5h1M438 233.5h1M455 239.5h1M464 238.5h1M447 244.5h1M469 235.5h1M449 233.5h1M444 216.5h1M457 226.5h1M479 235.5h1M447 236.5h1M458 225.5h1M456 242.5h1M425 237.5h1M470 235.5h1M459 235.5h1M450 232.5h1M440 238.5h1M440 241.5h1M444 234.5h1M425 241.5h1M460 234.5h1M441 230.5h1M452 243.5h1M472 244.5h1M432 239.5h1M457 238.5h1M465 235.5h1M443 232.5h1M460 239.5h1M460 227.5h1M448 222.5h1M435 241.5h1M456 223.5h1M456 223.5h1" stroke="#8a8a8a" stroke-width="1" fill="none"/>
<path d="M467 281.5h1M472 272.5h1M460 239.5h1M462 259.5h1M480 264.5h1M464 276.5h1M458 258.5h1M467 274.5h1M476 251.5h1M463 284.5h1M475 278.5h1M468 261.5h1M476 275.5h1M480 276.5h1M470 279.5h1M470 263.5h1M473 242.5h1M475 267.5h1M472 265.5h1M458 256.5h1M465 263.5h1M465 243.5h1M456 267.5h1M475 268.5h1M470 273.5h1M459 250.5h1M464 262.5h1M453 254.5h1M462 257.5h1M462 266.5h1M476 251.5h1M476 257.5h1M463 240.5h1M467 252.5h1M458 267.5h1M474 262.5h1M472 265.5h1M458 259.5h1M463 282.5h1M457 252.5h1M457 286.5h1M456 267.5h1M473 276.5h1M477 275.5h1M461 254.5h1M455 249.5h1M463 264.5h1M456 261.5h1M458 279.5h1M467 249.5h1M467 262.5h1M460 254.5h1M463 272.5h1M454 289.5h1M450 292.5h1M465 269.5h1M475 247.5h1M462 255.5h1M462 251.5h1M456 255.5h1M472 259.5h1M475 291.5h1M478 266.5h1M454 256.5h1M474 262.5h1M464 272.5h1M457 259.5h1M455 272.5h1M461 264.5h1M464 251.5h1M463 273.5h1M482 276.5h1M481 277.5h1M459 276.5h1M471 265.5h1M468 261.5h1M462 261.5h1M469 268.5h1M467 251.5h1M470 272.5h1" stroke="#8a8a8a" stroke-width="1" fill="none"/>
<path d="M453 300.5h1M461 300.5h1M469 294.5h1M465 299.5h1M445 281.5h1M477 305.5h1M458 303.5h1M464 301.5h1M473 306.5h1M472 284.5h1M465 294.5h1M474 292.5h1M452 280.5h1M461 291.5h1M462 290.5h1M458 283.5h1M463 288.5h1M454 304.5h1M460 286.5h1M461 302.5h1M449 291.5h1M454 297.5h1M468 300.5h1M458 292.5h1M458 293.5h1M469 287.5h1M454 288.5h1M441 290.5h1M456 291.5h1M469 291.5h1M474 283.5h1M464 295.5h1M457 286.5h1M467 288.5h1M459 281.5h1M449 294.5h1M472 295.5h1M460 276.5h1M439 304.5h1M467 297.5h1M456 291.5h1M461 288.5h1M458 289.5h1M440 288.5h1M470 298.5h1M467 282.5h1M471 296.5h1M458 285.5h1M444 299.5h1M461 292.5h1M458 310.5h1M467 294.5h1M471 292.5h1M458 296.5h1M457 289.5h1M464 295.5h1M463 274.5h1M464 303.5h1M451 285.5h1M473 296.5h1M457 289.5h1M460 300.5h1M457 294.5h1M462 291.5h1M448 288.5h1M461 288.5h1M461 293.5h1M460 288.5h1M462 300.5h1M453 285.5h1" stroke="#8a8a8a" stroke-width="1" fill="none"/>
<path d="M489 234.5h1M494 230.5h1M494 237.5h1M503 233.5h1M492 228.5h1M505 228.5h1M495 242.5h1M499 221.5h1M508 238.5h1M513 230.5h1M508 229.5h1M497 232.5h1M498 245.5h1M501 218.5h1M503 242.5h1M491 235.5h1M505 226.5h1M493 233.5h1M482 228.5h1M508 237.5h1M497 217.5h1M499 228.5h1M501 232.5h1M480 235.5h1M489 211.5h1M489 235.5h1M490 243.5h1M491 222.5h1M507 233.5h1M485 244.5h1M500 228.5h1M500 244.5h1M496 216.5h1M487 226.5h1M496 216.5h1M490 229.5h1M495 237.5h1M498 230.5h1M502 240.5h1M509 232.5h1M509 216.5h1M503 229.5h1M500 218.5h1M501 239.5h1M513 231.5h1M507 225.5h1M501 246.5h1M481 216.5h1M513 229.5h1M506 242.5h1M493 224.5h1M485 220.5h1M502 227.5h1M494 237.5h1M506 223.5h1M506 226.5h1M505 227.5h1M515 236.5h1M499 222.5h1M495 228.5h1M495 223.5h1M498 223.5h1M501 239.5h1M505 232.5h1M488 227.5h1M507 224.5h1M511 241.5h1M496 230.5h1M509 238.5h1M500 238.5h1M497 234.5h1M503 232.5h1M489 220.5h1M495 219.5h1M501 234.5h1M509 219.5h1M511 249.5h1M505 212.5h1" stroke="#8a8a8a" stroke-width="1" fill="none"/>
<path d="M484 286.5h1M467 245.5h1M468 275.5h1M475 279.5h1M483 250.5h1M467 261.5h1M441 270.5h1M486 242.5h1M487 228.5h1M492 273.5h1M455 280.5h1M492 296.5h1M468 236.5h1M492 274.5h1M470 281.5h1M465 271.5h1M435 253.5h1M488 272.5h1M491 246.5h1M442 268.5h1M488 269.5h1M445 253.5h1M486 261.5h1M460 285.5h1M468 300.5h1M461 241.5h1M481 283.5h1M456 263.5h1M482 261.5h1M451 308.5h1M468 273.5h1M437 275.5h1M499 248.5h1M487 278.5h1M467 254.5h1M504 233.5h1M462 253.5h1M451 288.5h1M476 273.5h1M476 271.5h1" stroke="#8a8a8a" stroke-width="1" fill="none"/>
<path d="M43.10,211.20 L93.00,211.20 L117.40,318.50 L43.10,318.50 Z" fill="none" stroke="#3a3a3a" stroke-width="0.9"/>
<path d="M93.00,211.20 L136.00,211.20 L136.00,245.10 L100.71,245.10 Z" fill="none" stroke="#3a3a3a" stroke-width="0.9"/>
<path d="M172.10,211.20 L222.00,211.20 L246.40,318.50 L172.10,318.50 Z" fill="none" stroke="#3a3a3a" stroke-width="0.9"/>
<path d="M222.00,211.20 L264.90,211.20 L264.90,245.10 L229.71,245.10 Z" fill="none" stroke="#3a3a3a" stroke-width="0.9"/>
<path d="M301.10,211.20 L351.00,211.20 L375.40,318.50 L301.10,318.50 Z" fill="none" stroke="#3a3a3a" stroke-width="0.9"/>
<path d="M351.00,211.20 L392.40,211.20 L392.40,245.10 L358.71,245.10 Z" fill="none" stroke="#3a3a3a" stroke-width="0.9"/>
<path d="M430.10,211.20 L480.00,211.20 L504.40,318.50 L430.10,318.50 Z" fill="none" stroke="#3a3a3a" stroke-width="0.9"/>
<path d="M480.00,211.20 L521.40,211.20 L521.40,245.10 L487.71,245.10 Z" fill="none" stroke="#3a3a3a" stroke-width="0.9"/>
<text x="113.60" y="226.50" font-size="5.00" text-anchor="middle" font-weight="bold" fill="#222" >Neutrophil</text>
<text x="113.60" y="232.70" font-size="5.00" text-anchor="middle" font-weight="bold" fill="#222" >1.48</text>
<rect x="57.00" y="256.60" width="44.00" height="15.5" fill="#fff" fill-opacity="0.78"/>
<text x="79.00" y="262.80" font-size="5.00" text-anchor="middle" font-weight="bold" fill="#222" >LY6C-CD11b cells</text>
<text x="79.00" y="269.00" font-size="5.00" text-anchor="middle" font-weight="bold" fill="#222" >98.4</text>
<text x="242.80" y="226.80" font-size="5.00" text-anchor="middle" font-weight="bold" fill="#222" >Neutrophil</text>
<text x="242.80" y="233.00" font-size="5.00" text-anchor="middle" font-weight="bold" fill="#222" >1.81</text>
<rect x="186.00" y="256.60" width="44.00" height="15.5" fill="#fff" fill-opacity="0.78"/>
<text x="208.00" y="262.80" font-size="5.00" text-anchor="middle" font-weight="bold" fill="#222" >LY6C-CD11b cells</text>
<text x="208.00" y="269.00" font-size="5.00" text-anchor="middle" font-weight="bold" fill="#222" >98.0</text>
<rect x="340.30" y="211.30" width="26.00" height="15.5" fill="#fff" fill-opacity="0.78"/>
<text x="353.30" y="217.50" font-size="5.00" text-anchor="middle" font-weight="bold" fill="#222" >Neutrophil</text>
<text x="353.30" y="223.70" font-size="5.00" text-anchor="middle" font-weight="bold" fill="#222" >18.3</text>
<rect x="334.30" y="278.10" width="44.00" height="15.5" fill="#fff" fill-opacity="0.78"/>
<text x="356.30" y="284.30" font-size="5.00" text-anchor="middle" font-weight="bold" fill="#222" >LY6C-CD11b cells</text>
<text x="356.30" y="290.50" font-size="5.00" text-anchor="middle" font-weight="bold" fill="#222" >81.8</text>
<rect x="467.60" y="211.30" width="26.00" height="15.5" fill="#fff" fill-opacity="0.78"/>
<text x="480.60" y="217.50" font-size="5.00" text-anchor="middle" font-weight="bold" fill="#222" >Neutrophil</text>
<text x="480.60" y="223.70" font-size="5.00" text-anchor="middle" font-weight="bold" fill="#222" >7.58</text>
<rect x="424.60" y="242.10" width="44.00" height="15.5" fill="#fff" fill-opacity="0.78"/>
<text x="446.60" y="248.30" font-size="5.00" text-anchor="middle" font-weight="bold" fill="#222" >LY6C-CD11b cells</text>
<text x="446.60" y="254.50" font-size="5.00" text-anchor="middle" font-weight="bold" fill="#222" >92.1</text>
<rect x="36.00" y="369.50" width="112.50" height="112.30" fill="none" stroke="#777" stroke-width="1"/>
<path d="M33.00,380.50H36.00M33.00,407.50H36.00M33.00,437.50H36.00M33.00,455.50H36.00M33.00,475.00H36.00M34.40,399.37H36.00M34.40,394.62H36.00M34.40,391.24H36.00M34.40,388.63H36.00M34.40,386.49H36.00M34.40,384.68H36.00M34.40,383.12H36.00M34.40,381.74H36.00M34.40,428.47H36.00M34.40,423.19H36.00M34.40,419.44H36.00M34.40,416.53H36.00M34.40,414.16H36.00M34.40,412.15H36.00M34.40,410.41H36.00M34.40,408.87H36.00M34.40,449.20H36.00M34.40,444.70H36.00M34.40,442.00H36.00M34.40,440.20H36.00M34.40,438.94H36.00M34.40,462.32H36.00M34.40,467.20H36.00M34.40,470.12H36.00M34.40,472.07H36.00M34.40,473.44H36.00" stroke="#1a1a1a" stroke-width="0.8" fill="none"/>
<text x="31.00" y="382.20" font-size="4.80" text-anchor="end" font-weight="normal" fill="#111" >10<tspan font-size="4.2" dy="-2.0">5</tspan></text>
<text x="31.00" y="409.20" font-size="4.80" text-anchor="end" font-weight="normal" fill="#111" >10<tspan font-size="4.2" dy="-2.0">4</tspan></text>
<text x="31.00" y="439.20" font-size="4.80" text-anchor="end" font-weight="normal" fill="#111" >10<tspan font-size="4.2" dy="-2.0">3</tspan></text>
<text x="31.00" y="457.20" font-size="4.80" text-anchor="end" font-weight="normal" fill="#111" >0</text>
<text x="31.00" y="476.70" font-size="4.80" text-anchor="end" font-weight="normal" fill="#111" >-10<tspan font-size="4.2" dy="-2.0">3</tspan></text>
<path d="M40.00,481.80V484.80M78.70,481.80V484.80M120.50,481.80V484.80M141.00,481.80V484.80M43.87,481.80V483.40M47.74,481.80V483.40M51.61,481.80V483.40M55.48,481.80V483.40M59.35,481.80V483.40M63.22,481.80V483.40M67.09,481.80V483.40M70.96,481.80V483.40M74.83,481.80V483.40M82.88,481.80V483.40M87.06,481.80V483.40M91.24,481.80V483.40M95.42,481.80V483.40M99.60,481.80V483.40M103.78,481.80V483.40M107.96,481.80V483.40M112.14,481.80V483.40M116.32,481.80V483.40M126.67,481.80V483.40M130.28,481.80V483.40M132.84,481.80V483.40M134.83,481.80V483.40M136.45,481.80V483.40M137.82,481.80V483.40M139.01,481.80V483.40M140.06,481.80V483.40" stroke="#1a1a1a" stroke-width="0.8" fill="none"/>
<text x="41.00" y="491.50" font-size="4.80" text-anchor="middle" font-weight="normal" fill="#111" >-10<tspan font-size="4.2" dy="-2.0">4</tspan></text>
<text x="78.70" y="491.50" font-size="4.80" text-anchor="middle" font-weight="normal" fill="#111" >0</text>
<text x="121.50" y="491.50" font-size="4.80" text-anchor="middle" font-weight="normal" fill="#111" >10<tspan font-size="4.2" dy="-2.0">4</tspan></text>
<text x="142.00" y="491.50" font-size="4.80" text-anchor="middle" font-weight="normal" fill="#111" >10<tspan font-size="4.2" dy="-2.0">5</tspan></text>
<rect x="165.00" y="369.50" width="112.50" height="112.30" fill="none" stroke="#777" stroke-width="1"/>
<path d="M162.00,380.50H165.00M162.00,407.50H165.00M162.00,437.50H165.00M162.00,455.50H165.00M162.00,475.00H165.00M163.40,399.37H165.00M163.40,394.62H165.00M163.40,391.24H165.00M163.40,388.63H165.00M163.40,386.49H165.00M163.40,384.68H165.00M163.40,383.12H165.00M163.40,381.74H165.00M163.40,428.47H165.00M163.40,423.19H165.00M163.40,419.44H165.00M163.40,416.53H165.00M163.40,414.16H165.00M163.40,412.15H165.00M163.40,410.41H165.00M163.40,408.87H165.00M163.40,449.20H165.00M163.40,444.70H165.00M163.40,442.00H165.00M163.40,440.20H165.00M163.40,438.94H165.00M163.40,462.32H165.00M163.40,467.20H165.00M163.40,470.12H165.00M163.40,472.07H165.00M163.40,473.44H165.00" stroke="#1a1a1a" stroke-width="0.8" fill="none"/>
<text x="160.00" y="382.20" font-size="4.80" text-anchor="end" font-weight="normal" fill="#111" >10<tspan font-size="4.2" dy="-2.0">5</tspan></text>
<text x="160.00" y="409.20" font-size="4.80" text-anchor="end" font-weight="normal" fill="#111" >10<tspan font-size="4.2" dy="-2.0">4</tspan></text>
<text x="160.00" y="439.20" font-size="4.80" text-anchor="end" font-weight="normal" fill="#111" >10<tspan font-size="4.2" dy="-2.0">3</tspan></text>
<text x="160.00" y="457.20" font-size="4.80" text-anchor="end" font-weight="normal" fill="#111" >0</text>
<text x="160.00" y="476.70" font-size="4.80" text-anchor="end" font-weight="normal" fill="#111" >-10<tspan font-size="4.2" dy="-2.0">3</tspan></text>
<path d="M169.00,481.80V484.80M207.70,481.80V484.80M249.50,481.80V484.80M270.00,481.80V484.80M172.87,481.80V483.40M176.74,481.80V483.40M180.61,481.80V483.40M184.48,481.80V483.40M188.35,481.80V483.40M192.22,481.80V483.40M196.09,481.80V483.40M199.96,481.80V483.40M203.83,481.80V483.40M211.88,481.80V483.40M216.06,481.80V483.40M220.24,481.80V483.40M224.42,481.80V483.40M228.60,481.80V483.40M232.78,481.80V483.40M236.96,481.80V483.40M241.14,481.80V483.40M245.32,481.80V483.40M255.67,481.80V483.40M259.28,481.80V483.40M261.84,481.80V483.40M263.83,481.80V483.40M265.45,481.80V483.40M266.82,481.80V483.40M268.01,481.80V483.40M269.06,481.80V483.40" stroke="#1a1a1a" stroke-width="0.8" fill="none"/>
<text x="170.00" y="491.50" font-size="4.80" text-anchor="middle" font-weight="normal" fill="#111" >-10<tspan font-size="4.2" dy="-2.0">4</tspan></text>
<text x="207.70" y="491.50" font-size="4.80" text-anchor="middle" font-weight="normal" fill="#111" >0</text>
<text x="250.50" y="491.50" font-size="4.80" text-anchor="middle" font-weight="normal" fill="#111" >10<tspan font-size="4.2" dy="-2.0">4</tspan></text>
<text x="271.00" y="491.50" font-size="4.80" text-anchor="middle" font-weight="normal" fill="#111" >10<tspan font-size="4.2" dy="-2.0">5</tspan></text>
<rect x="294.00" y="369.50" width="112.50" height="112.30" fill="none" stroke="#777" stroke-width="1"/>
<path d="M291.00,380.50H294.00M291.00,407.50H294.00M291.00,437.50H294.00M291.00,455.50H294.00M291.00,475.00H294.00M292.40,399.37H294.00M292.40,394.62H294.00M292.40,391.24H294.00M292.40,388.63H294.00M292.40,386.49H294.00M292.40,384.68H294.00M292.40,383.12H294.00M292.40,381.74H294.00M292.40,428.47H294.00M292.40,423.19H294.00M292.40,419.44H294.00M292.40,416.53H294.00M292.40,414.16H294.00M292.40,412.15H294.00M292.40,410.41H294.00M292.40,408.87H294.00M292.40,449.20H294.00M292.40,444.70H294.00M292.40,442.00H294.00M292.40,440.20H294.00M292.40,438.94H294.00M292.40,462.32H294.00M292.40,467.20H294.00M292.40,470.12H294.00M292.40,472.07H294.00M292.40,473.44H294.00" stroke="#1a1a1a" stroke-width="0.8" fill="none"/>
<text x="289.00" y="382.20" font-size="4.80" text-anchor="end" font-weight="normal" fill="#111" >10<tspan font-size="4.2" dy="-2.0">5</tspan></text>
<text x="289.00" y="409.20" font-size="4.80" text-anchor="end" font-weight="normal" fill="#111" >10<tspan font-size="4.2" dy="-2.0">4</tspan></text>
<text x="289.00" y="439.20" font-size="4.80" text-anchor="end" font-weight="normal" fill="#111" >10<tspan font-size="4.2" dy="-2.0">3</tspan></text>
<text x="289.00" y="457.20" font-size="4.80" text-anchor="end" font-weight="normal" fill="#111" >0</text>
<text x="289.00" y="476.70" font-size="4.80" text-anchor="end" font-weight="normal" fill="#111" >-10<tspan font-size="4.2" dy="-2.0">3</tspan></text>
<path d="M298.00,481.80V484.80M336.70,481.80V484.80M378.50,481.80V484.80M399.00,481.80V484.80M301.87,481.80V483.40M305.74,481.80V483.40M309.61,481.80V483.40M313.48,481.80V483.40M317.35,481.80V483.40M321.22,481.80V483.40M325.09,481.80V483.40M328.96,481.80V483.40M332.83,481.80V483.40M340.88,481.80V483.40M345.06,481.80V483.40M349.24,481.80V483.40M353.42,481.80V483.40M357.60,481.80V483.40M361.78,481.80V483.40M365.96,481.80V483.40M370.14,481.80V483.40M374.32,481.80V483.40M384.67,481.80V483.40M388.28,481.80V483.40M390.84,481.80V483.40M392.83,481.80V483.40M394.45,481.80V483.40M395.82,481.80V483.40M397.01,481.80V483.40M398.06,481.80V483.40" stroke="#1a1a1a" stroke-width="0.8" fill="none"/>
<text x="299.00" y="491.50" font-size="4.80" text-anchor="middle" font-weight="normal" fill="#111" >-10<tspan font-size="4.2" dy="-2.0">4</tspan></text>
<text x="336.70" y="491.50" font-size="4.80" text-anchor="middle" font-weight="normal" fill="#111" >0</text>
<text x="379.50" y="491.50" font-size="4.80" text-anchor="middle" font-weight="normal" fill="#111" >10<tspan font-size="4.2" dy="-2.0">4</tspan></text>
<text x="400.00" y="491.50" font-size="4.80" text-anchor="middle" font-weight="normal" fill="#111" >10<tspan font-size="4.2" dy="-2.0">5</tspan></text>
<rect x="423.00" y="369.50" width="112.50" height="112.30" fill="none" stroke="#777" stroke-width="1"/>
<path d="M420.00,380.50H423.00M420.00,407.50H423.00M420.00,437.50H423.00M420.00,455.50H423.00M420.00,475.00H423.00M421.40,399.37H423.00M421.40,394.62H423.00M421.40,391.24H423.00M421.40,388.63H423.00M421.40,386.49H423.00M421.40,384.68H423.00M421.40,383.12H423.00M421.40,381.74H423.00M421.40,428.47H423.00M421.40,423.19H423.00M421.40,419.44H423.00M421.40,416.53H423.00M421.40,414.16H423.00M421.40,412.15H423.00M421.40,410.41H423.00M421.40,408.87H423.00M421.40,449.20H423.00M421.40,444.70H423.00M421.40,442.00H423.00M421.40,440.20H423.00M421.40,438.94H423.00M421.40,462.32H423.00M421.40,467.20H423.00M421.40,470.12H423.00M421.40,472.07H423.00M421.40,473.44H423.00" stroke="#1a1a1a" stroke-width="0.8" fill="none"/>
<text x="418.00" y="382.20" font-size="4.80" text-anchor="end" font-weight="normal" fill="#111" >10<tspan font-size="4.2" dy="-2.0">5</tspan></text>
<text x="418.00" y="409.20" font-size="4.80" text-anchor="end" font-weight="normal" fill="#111" >10<tspan font-size="4.2" dy="-2.0">4</tspan></text>
<text x="418.00" y="439.20" font-size="4.80" text-anchor="end" font-weight="normal" fill="#111" >10<tspan font-size="4.2" dy="-2.0">3</tspan></text>
<text x="418.00" y="457.20" font-size="4.80" text-anchor="end" font-weight="normal" fill="#111" >0</text>
<text x="418.00" y="476.70" font-size="4.80" text-anchor="end" font-weight="normal" fill="#111" >-10<tspan font-size="4.2" dy="-2.0">3</tspan></text>
<path d="M427.00,481.80V484.80M465.70,481.80V484.80M507.50,481.80V484.80M528.00,481.80V484.80M430.87,481.80V483.40M434.74,481.80V483.40M438.61,481.80V483.40M442.48,481.80V483.40M446.35,481.80V483.40M450.22,481.80V483.40M454.09,481.80V483.40M457.96,481.80V483.40M461.83,481.80V483.40M469.88,481.80V483.40M474.06,481.80V483.40M478.24,481.80V483.40M482.42,481.80V483.40M486.60,481.80V483.40M490.78,481.80V483.40M494.96,481.80V483.40M499.14,481.80V483.40M503.32,481.80V483.40M513.67,481.80V483.40M517.28,481.80V483.40M519.84,481.80V483.40M521.83,481.80V483.40M523.45,481.80V483.40M524.82,481.80V483.40M526.01,481.80V483.40M527.06,481.80V483.40" stroke="#1a1a1a" stroke-width="0.8" fill="none"/>
<text x="428.00" y="491.50" font-size="4.80" text-anchor="middle" font-weight="normal" fill="#111" >-10<tspan font-size="4.2" dy="-2.0">4</tspan></text>
<text x="465.70" y="491.50" font-size="4.80" text-anchor="middle" font-weight="normal" fill="#111" >0</text>
<text x="508.50" y="491.50" font-size="4.80" text-anchor="middle" font-weight="normal" fill="#111" >10<tspan font-size="4.2" dy="-2.0">4</tspan></text>
<text x="529.00" y="491.50" font-size="4.80" text-anchor="middle" font-weight="normal" fill="#111" >10<tspan font-size="4.2" dy="-2.0">5</tspan></text>
<path d="M76.00,431.50C74.88,429.33 73.72,423.92 73.30,420.00C72.88,416.08 73.13,411.50 73.50,408.00C73.87,404.50 74.12,401.53 75.50,399.00C76.88,396.47 79.72,394.25 81.80,392.80C83.88,391.35 85.87,390.93 88.00,390.30C90.13,389.67 91.90,389.30 94.60,389.00C97.30,388.70 101.55,388.23 104.20,388.50C106.85,388.77 109.53,389.52 110.50,390.60C111.47,391.68 110.58,393.27 110.00,395.00C109.42,396.73 108.17,398.53 107.00,401.00C105.83,403.47 105.07,406.20 103.00,409.80C100.93,413.40 97.25,419.23 94.60,422.60C91.95,425.97 89.53,428.27 87.10,430.00C84.67,431.73 81.85,432.75 80.00,433.00C78.15,433.25 77.12,433.67 76.00,431.50Z" fill="none" stroke="#262626" stroke-width="0.55"/>
<path d="M76.25,431.08C75.20,429.03 74.09,423.90 73.70,420.19C73.30,416.48 73.54,412.14 73.89,408.83C74.23,405.51 74.47,402.70 75.78,400.30C77.09,397.90 79.77,395.80 81.75,394.43C83.72,393.06 85.60,392.66 87.62,392.06C89.64,391.46 91.31,391.12 93.87,390.83C96.43,390.55 100.45,390.11 102.96,390.36C105.47,390.61 108.01,391.32 108.93,392.35C109.84,393.37 109.01,394.87 108.45,396.51C107.90,398.16 106.72,399.86 105.61,402.20C104.51,404.53 103.78,407.12 101.82,410.53C99.87,413.94 96.38,419.46 93.87,422.65C91.36,425.84 89.07,428.02 86.77,429.66C84.46,431.30 81.79,432.27 80.04,432.50C78.29,432.74 77.31,433.13 76.25,431.08Z" fill="none" stroke="#262626" stroke-width="0.55"/>
<path d="M76.51,430.66C75.51,428.73 74.47,423.88 74.09,420.38C73.72,416.88 73.95,412.78 74.27,409.65C74.60,406.52 74.82,403.87 76.06,401.60C77.30,399.34 79.83,397.36 81.69,396.06C83.56,394.76 85.33,394.39 87.24,393.83C89.15,393.26 90.72,392.93 93.14,392.66C95.55,392.40 99.35,391.98 101.72,392.22C104.09,392.45 106.49,393.13 107.36,394.09C108.22,395.06 107.43,396.48 106.91,398.03C106.39,399.58 105.27,401.19 104.23,403.39C103.18,405.60 102.50,408.04 100.65,411.26C98.80,414.48 95.51,419.70 93.14,422.71C90.77,425.72 88.61,427.77 86.43,429.32C84.26,430.87 81.74,431.78 80.08,432.00C78.43,432.23 77.51,432.60 76.51,430.66Z" fill="none" stroke="#262626" stroke-width="0.55"/>
<path d="M76.76,430.25C75.82,428.42 74.84,423.87 74.49,420.57C74.14,417.28 74.35,413.42 74.66,410.48C74.97,407.53 75.18,405.04 76.34,402.91C77.51,400.78 79.89,398.91 81.64,397.69C83.39,396.47 85.06,396.12 86.86,395.59C88.65,395.06 90.14,394.75 92.41,394.50C94.68,394.24 98.25,393.85 100.48,394.07C102.71,394.30 104.97,394.93 105.78,395.84C106.60,396.75 105.85,398.08 105.36,399.54C104.87,401.00 103.82,402.51 102.84,404.59C101.86,406.66 101.21,408.96 99.47,411.99C97.74,415.02 94.64,419.93 92.41,422.76C90.18,425.59 88.15,427.53 86.10,428.98C84.05,430.44 81.68,431.30 80.13,431.51C78.57,431.72 77.70,432.07 76.76,430.25Z" fill="none" stroke="#262626" stroke-width="0.55"/>
<path d="M77.02,429.83C76.14,428.12 75.22,423.85 74.89,420.76C74.56,417.68 74.76,414.06 75.05,411.30C75.33,408.54 75.53,406.21 76.62,404.21C77.71,402.21 79.95,400.47 81.59,399.32C83.23,398.18 84.79,397.85 86.48,397.35C88.16,396.85 89.55,396.56 91.68,396.33C93.81,396.09 97.16,395.72 99.24,395.93C101.33,396.14 103.45,396.73 104.21,397.59C104.97,398.44 104.28,399.69 103.82,401.06C103.36,402.42 102.37,403.84 101.45,405.79C100.53,407.73 99.93,409.88 98.30,412.72C96.67,415.56 93.77,420.16 91.68,422.81C89.59,425.47 87.68,427.28 85.77,428.64C83.85,430.01 81.63,430.81 80.17,431.01C78.71,431.21 77.90,431.53 77.02,429.83Z" fill="none" stroke="#262626" stroke-width="0.55"/>
<path d="M77.27,429.41C76.45,427.82 75.59,423.83 75.29,420.95C74.98,418.07 75.16,414.70 75.43,412.13C75.70,409.56 75.89,407.37 76.90,405.51C77.92,403.65 80.00,402.02 81.54,400.95C83.07,399.89 84.53,399.58 86.09,399.11C87.66,398.65 88.96,398.38 90.95,398.16C92.93,397.94 96.06,397.60 98.01,397.79C99.95,397.99 101.93,398.54 102.64,399.34C103.35,400.13 102.70,401.30 102.27,402.57C101.84,403.85 100.92,405.17 100.06,406.98C99.21,408.80 98.64,410.81 97.12,413.45C95.60,416.10 92.90,420.39 90.95,422.86C89.00,425.34 87.22,427.03 85.43,428.31C83.64,429.58 81.57,430.33 80.21,430.51C78.85,430.70 78.09,431.00 77.27,429.41Z" fill="none" stroke="#262626" stroke-width="0.55"/>
<path d="M77.52,428.99C76.76,427.51 75.97,423.82 75.68,421.14C75.40,418.47 75.57,415.34 75.82,412.96C76.07,410.57 76.24,408.54 77.18,406.81C78.13,405.09 80.06,403.57 81.48,402.58C82.90,401.59 84.26,401.31 85.71,400.88C87.17,400.45 88.37,400.20 90.22,399.99C92.06,399.79 94.96,399.47 96.77,399.65C98.58,399.83 100.41,400.34 101.07,401.08C101.73,401.82 101.12,402.90 100.72,404.08C100.33,405.27 99.47,406.50 98.68,408.18C97.88,409.86 97.36,411.73 95.95,414.18C94.54,416.64 92.02,420.62 90.22,422.92C88.41,425.21 86.76,426.78 85.10,427.97C83.44,429.15 81.52,429.84 80.25,430.01C78.99,430.18 78.29,430.47 77.52,428.99Z" fill="none" stroke="#262626" stroke-width="0.55"/>
<path d="M77.78,428.57C77.08,427.21 76.34,423.80 76.08,421.33C75.82,418.87 75.97,415.98 76.21,413.78C76.44,411.58 76.59,409.71 77.46,408.12C78.33,406.52 80.12,405.13 81.43,404.21C82.74,403.30 83.99,403.04 85.33,402.64C86.67,402.24 87.79,402.01 89.49,401.82C91.19,401.63 93.86,401.34 95.53,401.51C97.20,401.68 98.89,402.15 99.49,402.83C100.10,403.51 99.55,404.51 99.18,405.60C98.81,406.69 98.02,407.82 97.29,409.38C96.56,410.93 96.07,412.65 94.77,414.91C93.47,417.18 91.15,420.85 89.49,422.97C87.82,425.09 86.30,426.54 84.77,427.63C83.23,428.72 81.46,429.36 80.30,429.52C79.13,429.67 78.48,429.94 77.78,428.57Z" fill="none" stroke="#262626" stroke-width="0.55"/>
<path d="M78.03,428.15C77.39,426.91 76.72,423.78 76.48,421.52C76.24,419.27 76.38,416.62 76.59,414.61C76.80,412.59 76.95,410.88 77.74,409.42C78.54,407.96 80.18,406.68 81.38,405.84C82.58,405.01 83.72,404.77 84.95,404.40C86.18,404.04 87.20,403.83 88.76,403.65C90.31,403.48 92.76,403.21 94.29,403.37C95.82,403.52 97.36,403.95 97.92,404.58C98.48,405.20 97.97,406.11 97.63,407.11C97.30,408.11 96.58,409.15 95.90,410.57C95.23,411.99 94.79,413.57 93.60,415.64C92.41,417.72 90.28,421.08 88.76,423.02C87.23,424.96 85.83,426.29 84.43,427.29C83.03,428.29 81.41,428.87 80.34,429.02C79.27,429.16 78.68,429.40 78.03,428.15Z" fill="none" stroke="#262626" stroke-width="0.55"/>
<path d="M78.29,427.74C77.70,426.60 77.09,423.77 76.87,421.72C76.66,419.66 76.79,417.27 76.98,415.43C77.17,413.60 77.30,412.05 78.03,410.72C78.75,409.39 80.23,408.23 81.32,407.48C82.41,406.72 83.45,406.50 84.57,406.17C85.69,405.83 86.61,405.64 88.02,405.49C89.44,405.33 91.66,405.08 93.05,405.22C94.44,405.36 95.84,405.76 96.35,406.32C96.85,406.89 96.39,407.72 96.09,408.63C95.78,409.53 95.13,410.48 94.52,411.77C93.91,413.06 93.50,414.49 92.42,416.38C91.34,418.26 89.41,421.31 88.02,423.08C86.64,424.84 85.37,426.04 84.10,426.95C82.82,427.86 81.35,428.39 80.38,428.52C79.41,428.65 78.87,428.87 78.29,427.74Z" fill="none" stroke="#262626" stroke-width="0.55"/>
<path d="M78.54,427.32C78.02,426.30 77.47,423.75 77.27,421.91C77.07,420.06 77.19,417.91 77.36,416.26C77.54,414.61 77.65,413.22 78.31,412.02C78.96,410.83 80.29,409.79 81.27,409.11C82.25,408.42 83.18,408.23 84.19,407.93C85.19,407.63 86.02,407.46 87.29,407.32C88.56,407.18 90.56,406.96 91.81,407.08C93.06,407.21 94.32,407.56 94.78,408.07C95.23,408.58 94.82,409.33 94.54,410.14C94.27,410.96 93.68,411.80 93.13,412.96C92.58,414.13 92.22,415.41 91.25,417.11C90.27,418.80 88.54,421.55 87.29,423.13C86.05,424.71 84.91,425.80 83.76,426.61C82.62,427.43 81.29,427.91 80.42,428.02C79.55,428.14 79.07,428.34 78.54,427.32Z" fill="none" stroke="#262626" stroke-width="0.55"/>
<path d="M78.80,426.90C78.33,425.99 77.84,423.73 77.67,422.10C77.49,420.46 77.60,418.55 77.75,417.08C77.90,415.62 78.01,414.38 78.59,413.33C79.16,412.27 80.35,411.34 81.22,410.74C82.09,410.13 82.92,409.96 83.81,409.69C84.70,409.43 85.44,409.27 86.56,409.15C87.69,409.02 89.47,408.83 90.57,408.94C91.68,409.05 92.80,409.37 93.20,409.82C93.61,410.27 93.24,410.93 93.00,411.66C92.75,412.38 92.23,413.13 91.74,414.16C91.26,415.19 90.93,416.33 90.07,417.84C89.21,419.34 87.67,421.78 86.56,423.18C85.46,424.59 84.45,425.55 83.43,426.27C82.41,427.00 81.24,427.42 80.47,427.53C79.69,427.63 79.26,427.80 78.80,426.90Z" fill="none" stroke="#262626" stroke-width="0.55"/>
<path d="M79.05,426.48C78.64,425.69 78.22,423.72 78.06,422.29C77.91,420.86 78.00,419.19 78.14,417.91C78.27,416.63 78.36,415.55 78.87,414.63C79.37,413.70 80.40,412.90 81.16,412.37C81.92,411.84 82.65,411.69 83.43,411.46C84.20,411.22 84.85,411.09 85.83,410.98C86.82,410.87 88.37,410.70 89.33,410.80C90.30,410.90 91.28,411.17 91.63,411.56C91.98,411.96 91.66,412.54 91.45,413.17C91.24,413.80 90.78,414.46 90.36,415.36C89.93,416.26 89.65,417.25 88.90,418.57C88.14,419.88 86.80,422.01 85.83,423.24C84.87,424.46 83.99,425.30 83.10,425.93C82.21,426.57 81.18,426.94 80.51,427.03C79.83,427.12 79.46,427.27 79.05,426.48Z" fill="none" stroke="#262626" stroke-width="0.55"/>
<path d="M79.30,426.06C78.96,425.39 78.59,423.70 78.46,422.48C78.33,421.26 78.41,419.83 78.52,418.74C78.64,417.65 78.72,416.72 79.15,415.93C79.58,415.14 80.46,414.45 81.11,414.00C81.76,413.55 82.38,413.42 83.04,413.22C83.71,413.02 84.26,412.91 85.10,412.81C85.94,412.72 87.27,412.57 88.10,412.66C88.92,412.74 89.76,412.97 90.06,413.31C90.36,413.65 90.09,414.14 89.90,414.68C89.72,415.22 89.33,415.79 88.97,416.55C88.60,417.32 88.37,418.18 87.72,419.30C87.08,420.42 85.93,422.24 85.10,423.29C84.28,424.34 83.52,425.05 82.76,425.60C82.01,426.14 81.13,426.45 80.55,426.53C79.97,426.61 79.65,426.74 79.30,426.06Z" fill="none" stroke="#262626" stroke-width="0.55"/>
<path d="M79.56,425.64C79.27,425.08 78.97,423.68 78.86,422.67C78.75,421.65 78.82,420.47 78.91,419.56C79.01,418.66 79.07,417.89 79.43,417.23C79.79,416.58 80.52,416.00 81.06,415.63C81.60,415.25 82.11,415.15 82.66,414.98C83.22,414.82 83.67,414.72 84.37,414.64C85.07,414.57 86.17,414.45 86.86,414.52C87.54,414.58 88.24,414.78 88.49,415.06C88.74,415.34 88.51,415.75 88.36,416.20C88.21,416.65 87.88,417.11 87.58,417.75C87.28,418.39 87.08,419.10 86.55,420.03C86.01,420.96 85.06,422.47 84.37,423.34C83.69,424.21 83.06,424.81 82.43,425.26C81.80,425.71 81.07,425.97 80.59,426.03C80.11,426.10 79.85,426.21 79.56,425.64Z" fill="none" stroke="#262626" stroke-width="0.55"/>
<path d="M79.81,425.23C79.58,424.78 79.34,423.67 79.26,422.86C79.17,422.05 79.22,421.11 79.30,420.39C79.37,419.67 79.42,419.06 79.71,418.54C79.99,418.01 80.58,417.56 81.01,417.26C81.43,416.96 81.84,416.87 82.28,416.74C82.72,416.61 83.09,416.54 83.64,416.48C84.20,416.41 85.07,416.32 85.62,416.37C86.16,416.43 86.72,416.58 86.91,416.81C87.11,417.03 86.93,417.35 86.81,417.71C86.69,418.07 86.43,418.44 86.19,418.95C85.95,419.45 85.80,420.02 85.37,420.76C84.95,421.50 84.19,422.70 83.64,423.39C83.10,424.09 82.60,424.56 82.10,424.92C81.60,425.27 81.02,425.48 80.64,425.54C80.25,425.59 80.04,425.67 79.81,425.23Z" fill="none" stroke="#262626" stroke-width="0.55"/>
<path d="M80.07,424.81C79.90,424.48 79.72,423.65 79.65,423.05C79.59,422.45 79.63,421.75 79.68,421.21C79.74,420.68 79.78,420.23 79.99,419.84C80.20,419.45 80.63,419.11 80.95,418.89C81.27,418.67 81.57,418.60 81.90,418.51C82.23,418.41 82.50,418.35 82.91,418.31C83.32,418.26 83.97,418.19 84.38,418.23C84.78,418.27 85.19,418.39 85.34,418.55C85.49,418.72 85.36,418.96 85.27,419.23C85.18,419.49 84.99,419.77 84.81,420.14C84.63,420.52 84.51,420.94 84.20,421.49C83.88,422.04 83.32,422.93 82.91,423.45C82.51,423.96 82.14,424.31 81.76,424.58C81.39,424.84 80.96,425.00 80.68,425.04C80.39,425.08 80.24,425.14 80.07,424.81Z" fill="none" stroke="#262626" stroke-width="0.55"/>
<ellipse cx="80.80" cy="423.60" rx="1.20" ry="1.44" fill="none" stroke="#262626" stroke-width="0.55"/>
<ellipse cx="80.80" cy="423.60" rx="2.20" ry="2.64" fill="none" stroke="#262626" stroke-width="0.55"/>
<ellipse cx="80.80" cy="423.60" rx="3.20" ry="3.84" fill="none" stroke="#262626" stroke-width="0.55"/>
<path d="M204.68,431.56C203.65,429.39 202.75,423.93 202.40,420.00C202.05,416.07 202.23,411.48 202.56,408.00C202.89,404.52 203.07,401.73 204.40,399.14C205.73,396.55 208.49,393.97 210.56,392.44C212.63,390.91 214.60,390.59 216.80,389.94C219.00,389.29 220.95,388.84 223.76,388.54C226.57,388.24 231.13,387.86 233.66,388.14C236.19,388.42 238.13,389.12 238.94,390.20C239.75,391.28 239.09,392.77 238.50,394.60C237.91,396.43 236.57,398.59 235.40,401.20C234.23,403.81 233.52,406.61 231.46,410.24C229.40,413.87 225.72,419.63 223.02,422.96C220.32,426.29 217.68,428.57 215.28,430.24C212.88,431.91 210.37,432.78 208.60,433.00C206.83,433.22 205.71,433.73 204.68,431.56Z" fill="none" stroke="#262626" stroke-width="0.55"/>
<path d="M205.00,431.23C204.01,429.17 203.17,423.98 202.83,420.25C202.49,416.52 202.67,412.15 202.98,408.85C203.30,405.55 203.46,402.90 204.73,400.43C206.00,397.97 208.62,395.52 210.58,394.07C212.55,392.61 214.42,392.31 216.51,391.69C218.60,391.08 220.45,390.65 223.12,390.36C225.79,390.08 230.12,389.72 232.53,389.98C234.93,390.25 236.78,390.92 237.54,391.94C238.31,392.96 237.69,394.38 237.12,396.12C236.56,397.86 235.29,399.91 234.18,402.39C233.07,404.87 232.40,407.53 230.44,410.98C228.48,414.42 224.98,419.90 222.42,423.06C219.86,426.23 217.35,428.39 215.07,429.98C212.78,431.57 210.40,432.39 208.72,432.60C207.04,432.81 205.98,433.29 205.00,431.23Z" fill="none" stroke="#262626" stroke-width="0.55"/>
<path d="M205.31,430.90C204.38,428.95 203.58,424.03 203.26,420.50C202.94,416.97 203.10,412.83 203.40,409.70C203.70,406.57 203.86,404.06 205.06,401.73C206.26,399.39 208.74,397.08 210.60,395.70C212.46,394.32 214.24,394.03 216.22,393.45C218.20,392.86 219.95,392.46 222.48,392.19C225.01,391.92 229.12,391.58 231.39,391.83C233.67,392.07 235.42,392.71 236.15,393.68C236.87,394.65 236.28,395.99 235.75,397.64C235.22,399.29 234.02,401.23 232.96,403.58C231.90,405.93 231.27,408.45 229.41,411.72C227.56,414.98 224.24,420.16 221.82,423.16C219.39,426.16 217.01,428.21 214.85,429.72C212.69,431.22 210.43,432.00 208.84,432.20C207.25,432.40 206.24,432.85 205.31,430.90Z" fill="none" stroke="#262626" stroke-width="0.55"/>
<path d="M205.63,430.58C204.75,428.73 203.99,424.09 203.69,420.75C203.39,417.41 203.54,413.51 203.83,410.55C204.11,407.59 204.26,405.22 205.39,403.02C206.52,400.81 208.87,398.63 210.63,397.32C212.38,396.02 214.06,395.75 215.93,395.20C217.80,394.65 219.46,394.26 221.85,394.01C224.23,393.75 228.11,393.43 230.26,393.67C232.41,393.90 234.06,394.50 234.75,395.42C235.43,396.34 234.88,397.60 234.38,399.16C233.87,400.72 232.74,402.55 231.74,404.77C230.74,406.99 230.14,409.37 228.39,412.45C226.64,415.54 223.51,420.43 221.22,423.27C218.92,426.10 216.68,428.03 214.64,429.45C212.60,430.88 210.46,431.61 208.96,431.80C207.46,431.99 206.51,432.42 205.63,430.58Z" fill="none" stroke="#262626" stroke-width="0.55"/>
<path d="M205.94,430.25C205.12,428.51 204.40,424.14 204.12,421.00C203.84,417.86 203.98,414.18 204.25,411.40C204.51,408.62 204.65,406.39 205.72,404.31C206.79,402.24 208.99,400.18 210.65,398.95C212.30,397.73 213.88,397.47 215.64,396.95C217.40,396.43 218.96,396.07 221.21,395.83C223.46,395.59 227.10,395.29 229.13,395.51C231.15,395.73 232.71,396.30 233.35,397.16C234.00,398.02 233.47,399.21 233.00,400.68C232.53,402.15 231.46,403.87 230.52,405.96C229.58,408.05 229.02,410.29 227.37,413.19C225.72,416.09 222.77,420.70 220.62,423.37C218.46,426.03 216.35,427.85 214.42,429.19C212.50,430.53 210.49,431.22 209.08,431.40C207.67,431.58 206.77,431.98 205.94,430.25Z" fill="none" stroke="#262626" stroke-width="0.55"/>
<path d="M206.26,429.92C205.48,428.30 204.81,424.19 204.55,421.25C204.29,418.31 204.42,414.86 204.67,412.25C204.92,409.64 205.05,407.55 206.05,405.61C207.05,403.66 209.12,401.73 210.67,400.58C212.22,399.43 213.70,399.19 215.35,398.70C217.00,398.22 218.46,397.88 220.57,397.66C222.68,397.43 226.10,397.15 228.00,397.36C229.89,397.56 231.35,398.09 231.95,398.90C232.56,399.71 232.07,400.83 231.62,402.20C231.18,403.58 230.18,405.20 229.30,407.15C228.42,409.11 227.89,411.21 226.34,413.93C224.80,416.65 222.04,420.97 220.01,423.47C217.99,425.97 216.01,427.68 214.21,428.93C212.41,430.19 210.52,430.84 209.20,431.00C207.88,431.17 207.03,431.55 206.26,429.92Z" fill="none" stroke="#262626" stroke-width="0.55"/>
<path d="M206.58,429.59C205.85,428.08 205.23,424.25 204.98,421.50C204.73,418.75 204.86,415.53 205.09,413.10C205.33,410.67 205.45,408.71 206.38,406.90C207.31,405.08 209.25,403.28 210.69,402.21C212.14,401.13 213.52,400.91 215.06,400.46C216.60,400.00 217.96,399.69 219.93,399.48C221.90,399.27 225.09,399.00 226.86,399.20C228.63,399.39 229.99,399.89 230.56,400.64C231.12,401.39 230.66,402.44 230.25,403.72C229.84,405.00 228.90,406.52 228.08,408.34C227.26,410.16 226.77,412.13 225.32,414.67C223.88,417.21 221.30,421.24 219.41,423.57C217.53,425.91 215.68,427.50 214.00,428.67C212.31,429.84 210.56,430.45 209.32,430.60C208.08,430.75 207.30,431.11 206.58,429.59Z" fill="none" stroke="#262626" stroke-width="0.55"/>
<path d="M206.89,429.26C206.22,427.86 205.64,424.30 205.41,421.75C205.18,419.20 205.30,416.21 205.51,413.95C205.73,411.69 205.84,409.88 206.71,408.19C207.58,406.51 209.37,404.83 210.71,403.84C212.06,402.84 213.34,402.63 214.77,402.21C216.20,401.79 217.47,401.50 219.29,401.30C221.12,401.11 224.08,400.86 225.73,401.04C227.37,401.22 228.64,401.68 229.16,402.38C229.69,403.08 229.26,404.05 228.88,405.24C228.49,406.43 227.62,407.84 226.86,409.53C226.10,411.22 225.64,413.05 224.30,415.41C222.96,417.76 220.57,421.51 218.81,423.67C217.06,425.84 215.34,427.32 213.78,428.41C212.22,429.49 210.59,430.06 209.44,430.20C208.29,430.34 207.56,430.67 206.89,429.26Z" fill="none" stroke="#262626" stroke-width="0.55"/>
<path d="M207.21,428.94C206.59,427.64 206.05,424.36 205.84,422.00C205.63,419.64 205.74,416.89 205.94,414.80C206.14,412.71 206.24,411.04 207.04,409.48C207.84,407.93 209.50,406.38 210.74,405.46C211.98,404.54 213.16,404.35 214.48,403.96C215.80,403.57 216.97,403.30 218.66,403.12C220.34,402.94 223.08,402.72 224.60,402.88C226.11,403.05 227.28,403.47 227.76,404.12C228.25,404.77 227.85,405.66 227.50,406.76C227.15,407.86 226.34,409.16 225.64,410.72C224.94,412.28 224.51,413.97 223.28,416.14C222.04,418.32 219.83,421.78 218.21,423.78C216.59,425.78 215.01,427.14 213.57,428.14C212.13,429.15 210.62,429.67 209.56,429.80C208.50,429.93 207.83,430.24 207.21,428.94Z" fill="none" stroke="#262626" stroke-width="0.55"/>
<path d="M207.52,428.61C206.96,427.42 206.46,424.41 206.27,422.25C206.08,420.09 206.17,417.56 206.36,415.65C206.54,413.74 206.64,412.20 207.37,410.78C208.10,409.35 209.62,407.94 210.76,407.09C211.89,406.25 212.98,406.07 214.19,405.72C215.40,405.36 216.47,405.11 218.02,404.95C219.56,404.78 222.07,404.57 223.46,404.73C224.85,404.88 225.92,405.27 226.37,405.86C226.81,406.45 226.45,407.27 226.12,408.28C225.80,409.29 225.07,410.48 224.42,411.91C223.77,413.34 223.39,414.89 222.25,416.88C221.12,418.88 219.09,422.04 217.61,423.88C216.13,425.71 214.68,426.96 213.35,427.88C212.03,428.80 210.65,429.28 209.68,429.40C208.71,429.52 208.09,429.80 207.52,428.61Z" fill="none" stroke="#262626" stroke-width="0.55"/>
<path d="M207.84,428.28C207.32,427.20 206.88,424.46 206.70,422.50C206.52,420.54 206.61,418.24 206.78,416.50C206.95,414.76 207.03,413.37 207.70,412.07C208.37,410.77 209.75,409.49 210.78,408.72C211.81,407.95 212.80,407.80 213.90,407.47C215.00,407.15 215.97,406.92 217.38,406.77C218.78,406.62 221.06,406.43 222.33,406.57C223.59,406.71 224.57,407.06 224.97,407.60C225.37,408.14 225.05,408.88 224.75,409.80C224.45,410.72 223.79,411.80 223.20,413.10C222.61,414.40 222.26,415.81 221.23,417.62C220.20,419.43 218.36,422.31 217.01,423.98C215.66,425.65 214.34,426.78 213.14,427.62C211.94,428.46 210.68,428.89 209.80,429.00C208.92,429.11 208.36,429.36 207.84,428.28Z" fill="none" stroke="#262626" stroke-width="0.55"/>
<path d="M208.16,427.95C207.69,426.98 207.29,424.52 207.13,422.75C206.97,420.98 207.05,418.91 207.20,417.35C207.35,415.79 207.43,414.53 208.03,413.36C208.63,412.20 209.87,411.04 210.80,410.35C211.73,409.66 212.62,409.52 213.61,409.22C214.60,408.93 215.48,408.73 216.74,408.59C218.01,408.46 220.06,408.29 221.20,408.41C222.34,408.54 223.21,408.86 223.57,409.34C223.94,409.82 223.64,410.50 223.38,411.32C223.11,412.14 222.51,413.12 221.98,414.29C221.45,415.46 221.14,416.73 220.21,418.36C219.28,419.99 217.62,422.58 216.41,424.08C215.20,425.58 214.01,426.61 212.93,427.36C211.84,428.11 210.71,428.50 209.92,428.60C209.12,428.70 208.62,428.93 208.16,427.95Z" fill="none" stroke="#262626" stroke-width="0.55"/>
<path d="M208.47,427.62C208.06,426.76 207.70,424.57 207.56,423.00C207.42,421.43 207.49,419.59 207.62,418.20C207.76,416.81 207.83,415.69 208.36,414.66C208.89,413.62 210.00,412.59 210.82,411.98C211.65,411.36 212.44,411.24 213.32,410.98C214.20,410.72 214.98,410.54 216.10,410.42C217.23,410.30 219.05,410.15 220.06,410.26C221.08,410.37 221.85,410.65 222.18,411.08C222.50,411.51 222.24,412.11 222.00,412.84C221.76,413.57 221.23,414.44 220.76,415.48C220.29,416.52 220.01,417.65 219.18,419.10C218.36,420.55 216.89,422.85 215.81,424.18C214.73,425.52 213.67,426.43 212.71,427.10C211.75,427.77 210.75,428.11 210.04,428.20C209.33,428.29 208.89,428.49 208.47,427.62Z" fill="none" stroke="#262626" stroke-width="0.55"/>
<path d="M208.79,427.30C208.43,426.54 208.11,424.62 207.99,423.25C207.87,421.88 207.93,420.27 208.05,419.05C208.16,417.83 208.22,416.86 208.69,415.95C209.16,415.04 210.12,414.14 210.85,413.60C211.57,413.07 212.26,412.96 213.03,412.73C213.80,412.50 214.48,412.34 215.47,412.24C216.45,412.13 218.05,412.00 218.93,412.10C219.82,412.20 220.50,412.44 220.78,412.82C221.06,413.20 220.83,413.72 220.62,414.36C220.42,415.00 219.95,415.76 219.54,416.67C219.13,417.58 218.88,418.56 218.16,419.83C217.44,421.10 216.15,423.12 215.21,424.29C214.26,425.45 213.34,426.25 212.50,426.83C211.66,427.42 210.78,427.72 210.16,427.80C209.54,427.88 209.15,428.05 208.79,427.30Z" fill="none" stroke="#262626" stroke-width="0.55"/>
<path d="M209.10,426.97C208.79,426.32 208.53,424.68 208.42,423.50C208.31,422.32 208.37,420.94 208.47,419.90C208.57,418.86 208.62,418.02 209.02,417.24C209.42,416.46 210.25,415.69 210.87,415.23C211.49,414.77 212.08,414.68 212.74,414.48C213.40,414.29 213.99,414.15 214.83,414.06C215.67,413.97 217.04,413.86 217.80,413.94C218.56,414.02 219.14,414.24 219.38,414.56C219.62,414.88 219.43,415.33 219.25,415.88C219.07,416.43 218.67,417.08 218.32,417.86C217.97,418.64 217.76,419.48 217.14,420.57C216.52,421.66 215.41,423.39 214.61,424.39C213.80,425.39 213.00,426.07 212.28,426.57C211.56,427.07 210.81,427.33 210.28,427.40C209.75,427.47 209.41,427.62 209.10,426.97Z" fill="none" stroke="#262626" stroke-width="0.55"/>
<path d="M209.42,426.64C209.16,426.10 208.94,424.73 208.85,423.75C208.76,422.77 208.81,421.62 208.89,420.75C208.97,419.88 209.02,419.18 209.35,418.54C209.68,417.89 210.37,417.24 210.89,416.86C211.41,416.48 211.90,416.40 212.45,416.24C213.00,416.07 213.49,415.96 214.19,415.88C214.89,415.81 216.03,415.72 216.66,415.78C217.30,415.85 217.78,416.03 217.99,416.30C218.19,416.57 218.02,416.94 217.88,417.40C217.73,417.86 217.39,418.40 217.10,419.05C216.81,419.70 216.63,420.40 216.12,421.31C215.60,422.22 214.68,423.66 214.00,424.49C213.33,425.32 212.67,425.89 212.07,426.31C211.47,426.73 210.84,426.94 210.40,427.00C209.96,427.06 209.68,427.18 209.42,426.64Z" fill="none" stroke="#262626" stroke-width="0.55"/>
<path d="M209.74,426.31C209.53,425.88 209.35,424.79 209.28,424.00C209.21,423.21 209.25,422.30 209.31,421.60C209.38,420.90 209.41,420.35 209.68,419.83C209.95,419.31 210.50,418.79 210.91,418.49C211.33,418.18 211.72,418.12 212.16,417.99C212.60,417.86 212.99,417.77 213.55,417.71C214.11,417.65 215.03,417.57 215.53,417.63C216.04,417.68 216.43,417.82 216.59,418.04C216.75,418.26 216.62,418.55 216.50,418.92C216.38,419.29 216.11,419.72 215.88,420.24C215.65,420.76 215.50,421.32 215.09,422.05C214.68,422.77 213.94,423.93 213.40,424.59C212.86,425.26 212.34,425.71 211.86,426.05C211.38,426.38 210.87,426.56 210.52,426.60C210.17,426.64 209.94,426.75 209.74,426.31Z" fill="none" stroke="#262626" stroke-width="0.55"/>
<path d="M210.05,425.98C209.90,425.66 209.76,424.84 209.71,424.25C209.66,423.66 209.68,422.97 209.73,422.45C209.78,421.93 209.81,421.51 210.01,421.12C210.21,420.73 210.62,420.35 210.93,420.12C211.24,419.89 211.54,419.84 211.87,419.74C212.20,419.64 212.49,419.58 212.91,419.53C213.34,419.49 214.02,419.43 214.40,419.47C214.78,419.51 215.07,419.62 215.19,419.78C215.31,419.94 215.21,420.17 215.12,420.44C215.04,420.71 214.84,421.04 214.66,421.43C214.48,421.82 214.38,422.24 214.07,422.79C213.76,423.33 213.21,424.19 212.80,424.69C212.40,425.19 212.00,425.54 211.64,425.79C211.28,426.04 210.90,426.17 210.64,426.20C210.38,426.23 210.21,426.31 210.05,425.98Z" fill="none" stroke="#262626" stroke-width="0.55"/>
<ellipse cx="211.00" cy="425.00" rx="1.20" ry="1.44" fill="none" stroke="#262626" stroke-width="0.55"/>
<ellipse cx="211.00" cy="425.00" rx="2.20" ry="2.64" fill="none" stroke="#262626" stroke-width="0.55"/>
<ellipse cx="211.00" cy="425.00" rx="3.20" ry="3.84" fill="none" stroke="#262626" stroke-width="0.55"/>
<path d="M332.40,431.80C331.70,429.63 331.90,423.97 331.80,420.00C331.70,416.03 331.60,411.38 331.80,408.00C332.00,404.62 331.87,402.53 333.00,399.70C334.13,396.87 336.60,392.87 338.60,391.00C340.60,389.13 342.53,389.22 345.00,388.50C347.47,387.78 350.15,387.00 353.40,386.70C356.65,386.40 362.45,386.38 364.50,386.70C366.55,387.02 365.53,387.55 365.70,388.60C365.87,389.65 366.12,390.77 365.50,393.00C364.88,395.23 363.20,398.83 362.00,402.00C360.80,405.17 360.35,408.27 358.30,412.00C356.25,415.73 352.58,421.20 349.70,424.40C346.82,427.60 343.28,429.77 341.00,431.20C338.72,432.63 337.43,432.90 336.00,433.00C334.57,433.10 333.10,433.97 332.40,431.80Z" fill="none" stroke="#262626" stroke-width="0.55"/>
<path d="M332.71,431.52C332.04,429.45 332.23,424.04 332.13,420.25C332.04,416.46 331.94,412.02 332.13,408.79C332.32,405.56 332.20,403.57 333.28,400.87C334.36,398.16 336.72,394.34 338.63,392.56C340.54,390.77 342.38,390.85 344.74,390.17C347.09,389.49 349.66,388.74 352.76,388.45C355.86,388.16 361.40,388.15 363.36,388.45C365.32,388.75 364.35,389.26 364.51,390.27C364.67,391.27 364.91,392.33 364.32,394.47C363.73,396.60 362.12,400.04 360.97,403.06C359.83,406.09 359.40,409.05 357.44,412.61C355.48,416.18 351.98,421.40 349.23,424.45C346.47,427.51 343.10,429.58 340.92,430.95C338.74,432.32 337.51,432.57 336.14,432.67C334.78,432.76 333.37,433.59 332.71,431.52Z" fill="none" stroke="#262626" stroke-width="0.55"/>
<path d="M333.01,431.24C332.38,429.27 332.56,424.11 332.47,420.50C332.38,416.89 332.28,412.66 332.47,409.58C332.65,406.51 332.53,404.61 333.56,402.03C334.59,399.45 336.83,395.81 338.65,394.11C340.47,392.42 342.23,392.49 344.48,391.84C346.72,391.19 349.16,390.47 352.12,390.20C355.08,389.93 360.36,389.91 362.22,390.20C364.09,390.49 363.16,390.97 363.31,391.93C363.47,392.89 363.69,393.90 363.13,395.93C362.57,397.97 361.04,401.24 359.95,404.12C358.86,407.01 358.45,409.83 356.58,413.22C354.72,416.62 351.38,421.60 348.75,424.51C346.13,427.42 342.92,429.39 340.84,430.70C338.76,432.00 337.59,432.24 336.29,432.33C334.98,432.43 333.65,433.21 333.01,431.24Z" fill="none" stroke="#262626" stroke-width="0.55"/>
<path d="M333.32,430.96C332.71,429.09 332.89,424.19 332.80,420.76C332.71,417.32 332.63,413.30 332.80,410.38C332.97,407.45 332.86,405.65 333.84,403.20C334.82,400.75 336.95,397.29 338.68,395.67C340.41,394.06 342.08,394.13 344.22,393.51C346.35,392.89 348.67,392.21 351.48,391.95C354.29,391.69 359.31,391.68 361.08,391.95C362.86,392.23 361.98,392.69 362.12,393.60C362.27,394.50 362.48,395.47 361.95,397.40C361.42,399.33 359.96,402.45 358.92,405.19C357.88,407.93 357.49,410.61 355.72,413.84C353.95,417.07 350.78,421.79 348.28,424.56C345.79,427.33 342.73,429.20 340.76,430.44C338.78,431.68 337.67,431.91 336.43,432.00C335.19,432.09 333.92,432.84 333.32,430.96Z" fill="none" stroke="#262626" stroke-width="0.55"/>
<path d="M333.62,430.68C333.05,428.91 333.21,424.26 333.13,421.01C333.05,417.76 332.97,413.94 333.13,411.17C333.30,408.39 333.19,406.69 334.12,404.36C335.05,402.04 337.07,398.76 338.71,397.23C340.35,395.70 341.93,395.77 343.96,395.18C345.98,394.59 348.18,393.95 350.84,393.70C353.51,393.46 358.27,393.44 359.95,393.70C361.63,393.96 360.79,394.40 360.93,395.26C361.07,396.12 361.27,397.04 360.77,398.87C360.26,400.70 358.88,403.65 357.90,406.25C356.91,408.84 356.54,411.39 354.86,414.45C353.18,417.51 350.17,421.99 347.81,424.62C345.45,427.24 342.55,429.02 340.68,430.19C338.80,431.37 337.75,431.59 336.58,431.67C335.40,431.75 334.20,432.46 333.62,430.68Z" fill="none" stroke="#262626" stroke-width="0.55"/>
<path d="M333.93,430.41C333.39,428.73 333.54,424.33 333.47,421.26C333.39,418.19 333.31,414.58 333.47,411.96C333.62,409.34 333.52,407.72 334.39,405.53C335.27,403.33 337.19,400.23 338.74,398.79C340.29,397.34 341.78,397.40 343.69,396.85C345.61,396.29 347.69,395.69 350.20,395.45C352.72,395.22 357.22,395.21 358.81,395.45C360.40,395.70 359.61,396.11 359.74,396.93C359.87,397.74 360.06,398.60 359.58,400.33C359.10,402.07 357.80,404.86 356.87,407.31C355.94,409.76 355.59,412.17 354.00,415.06C352.41,417.95 349.57,422.19 347.34,424.67C345.10,427.15 342.36,428.83 340.59,429.94C338.83,431.05 337.83,431.26 336.72,431.33C335.61,431.41 334.47,432.08 333.93,430.41Z" fill="none" stroke="#262626" stroke-width="0.55"/>
<path d="M334.24,430.13C333.73,428.54 333.87,424.41 333.80,421.51C333.73,418.62 333.65,415.22 333.80,412.75C333.94,410.28 333.85,408.76 334.67,406.69C335.50,404.62 337.30,401.70 338.76,400.34C340.22,398.98 341.63,399.04 343.43,398.52C345.23,397.99 347.19,397.42 349.57,397.20C351.94,396.98 356.17,396.97 357.67,397.20C359.17,397.43 358.42,397.82 358.54,398.59C358.67,399.36 358.85,400.17 358.40,401.80C357.95,403.43 356.72,406.06 355.84,408.37C354.97,410.68 354.64,412.95 353.14,415.67C351.65,418.40 348.97,422.39 346.87,424.72C344.76,427.06 342.18,428.64 340.51,429.69C338.85,430.73 337.91,430.93 336.86,431.00C335.82,431.08 334.75,431.71 334.24,430.13Z" fill="none" stroke="#262626" stroke-width="0.55"/>
<path d="M334.54,429.85C334.06,428.36 334.20,424.48 334.13,421.76C334.06,419.05 333.99,415.86 334.13,413.54C334.27,411.23 334.18,409.80 334.95,407.86C335.73,405.92 337.42,403.18 338.79,401.90C340.16,400.62 341.48,400.68 343.17,400.19C344.86,399.70 346.70,399.16 348.93,398.95C351.15,398.75 355.13,398.74 356.53,398.95C357.93,399.17 357.24,399.54 357.35,400.25C357.47,400.97 357.64,401.74 357.22,403.27C356.79,404.80 355.64,407.26 354.82,409.43C354.00,411.60 353.69,413.73 352.28,416.28C350.88,418.84 348.37,422.59 346.39,424.78C344.42,426.97 342.00,428.45 340.43,429.44C338.87,430.42 337.99,430.60 337.01,430.67C336.03,430.74 335.02,431.33 334.54,429.85Z" fill="none" stroke="#262626" stroke-width="0.55"/>
<path d="M334.85,429.57C334.40,428.18 334.53,424.55 334.46,422.02C334.40,419.48 334.34,416.50 334.46,414.34C334.59,412.17 334.51,410.84 335.23,409.02C335.96,407.21 337.54,404.65 338.82,403.46C340.10,402.26 341.33,402.31 342.91,401.86C344.49,401.40 346.21,400.90 348.29,400.70C350.37,400.51 354.08,400.50 355.39,400.70C356.70,400.91 356.05,401.25 356.16,401.92C356.27,402.59 356.43,403.31 356.03,404.74C355.64,406.17 354.56,408.47 353.79,410.50C353.02,412.52 352.74,414.51 351.42,416.90C350.11,419.29 347.77,422.78 345.92,424.83C344.07,426.88 341.81,428.27 340.35,429.18C338.89,430.10 338.07,430.27 337.15,430.34C336.23,430.40 335.30,430.95 334.85,429.57Z" fill="none" stroke="#262626" stroke-width="0.55"/>
<path d="M335.15,429.29C334.74,428.00 334.86,424.63 334.80,422.27C334.74,419.91 334.68,417.14 334.80,415.13C334.92,413.11 334.84,411.88 335.51,410.19C336.19,408.50 337.65,406.12 338.84,405.01C340.03,403.90 341.18,403.95 342.65,403.53C344.12,403.10 345.72,402.63 347.65,402.45C349.58,402.28 353.03,402.27 354.25,402.45C355.47,402.64 354.87,402.96 354.97,403.59C355.07,404.21 355.22,404.87 354.85,406.20C354.48,407.53 353.48,409.67 352.77,411.56C352.05,413.44 351.78,415.29 350.56,417.51C349.34,419.73 347.16,422.98 345.45,424.89C343.73,426.79 341.63,428.08 340.27,428.93C338.91,429.78 338.15,429.94 337.30,430.00C336.44,430.06 335.57,430.58 335.15,429.29Z" fill="none" stroke="#262626" stroke-width="0.55"/>
<path d="M335.46,429.01C335.07,427.82 335.19,424.70 335.13,422.52C335.07,420.34 335.02,417.78 335.13,415.92C335.24,414.06 335.17,412.91 335.79,411.36C336.41,409.80 337.77,407.60 338.87,406.57C339.97,405.54 341.03,405.59 342.39,405.19C343.75,404.80 345.22,404.37 347.01,404.20C348.80,404.04 351.99,404.03 353.12,404.20C354.24,404.38 353.68,404.67 353.77,405.25C353.87,405.83 354.00,406.44 353.67,407.67C353.33,408.90 352.40,410.88 351.74,412.62C351.08,414.36 350.83,416.07 349.70,418.12C348.58,420.17 346.56,423.18 344.97,424.94C343.39,426.70 341.45,427.89 340.19,428.68C338.93,429.47 338.23,429.62 337.44,429.67C336.65,429.73 335.84,430.20 335.46,429.01Z" fill="none" stroke="#262626" stroke-width="0.55"/>
<path d="M335.77,428.73C335.41,427.64 335.51,424.78 335.46,422.77C335.41,420.77 335.36,418.42 335.46,416.71C335.56,415.00 335.50,413.95 336.07,412.52C336.64,411.09 337.89,409.07 338.90,408.13C339.91,407.18 340.88,407.23 342.13,406.86C343.37,406.50 344.73,406.11 346.37,405.96C348.01,405.80 350.94,405.80 351.98,405.96C353.01,406.12 352.50,406.38 352.58,406.92C352.67,407.45 352.79,408.01 352.48,409.14C352.17,410.26 351.32,412.08 350.71,413.68C350.11,415.28 349.88,416.85 348.85,418.73C347.81,420.62 345.96,423.38 344.50,424.99C343.05,426.61 341.26,427.70 340.11,428.43C338.96,429.15 338.31,429.29 337.58,429.34C336.86,429.39 336.12,429.83 335.77,428.73Z" fill="none" stroke="#262626" stroke-width="0.55"/>
<path d="M336.07,428.45C335.75,427.46 335.84,424.85 335.80,423.02C335.75,421.20 335.70,419.06 335.80,417.50C335.89,415.95 335.83,414.99 336.35,413.69C336.87,412.38 338.00,410.54 338.92,409.68C339.84,408.83 340.73,408.86 341.87,408.53C343.00,408.20 344.24,407.84 345.73,407.71C347.23,407.57 349.89,407.56 350.84,407.71C351.78,407.85 351.31,408.10 351.39,408.58C351.47,409.06 351.58,409.58 351.30,410.60C351.01,411.63 350.24,413.29 349.69,414.74C349.14,416.20 348.93,417.63 347.99,419.34C347.04,421.06 345.36,423.58 344.03,425.05C342.70,426.52 341.08,427.52 340.03,428.18C338.98,428.84 338.39,428.96 337.73,429.00C337.07,429.05 336.39,429.45 336.07,428.45Z" fill="none" stroke="#262626" stroke-width="0.55"/>
<path d="M336.38,428.17C336.09,427.27 336.17,424.92 336.13,423.28C336.09,421.63 336.05,419.70 336.13,418.30C336.21,416.89 336.16,416.03 336.63,414.85C337.10,413.68 338.12,412.02 338.95,411.24C339.78,410.47 340.58,410.50 341.61,410.20C342.63,409.91 343.74,409.58 345.09,409.46C346.44,409.33 348.85,409.33 349.70,409.46C350.55,409.59 350.13,409.81 350.20,410.25C350.27,410.68 350.37,411.14 350.11,412.07C349.86,413.00 349.16,414.49 348.66,415.81C348.16,417.12 347.98,418.41 347.13,419.96C346.28,421.51 344.75,423.77 343.56,425.10C342.36,426.43 340.89,427.33 339.95,427.92C339.00,428.52 338.47,428.63 337.87,428.67C337.28,428.71 336.67,429.07 336.38,428.17Z" fill="none" stroke="#262626" stroke-width="0.55"/>
<path d="M336.68,427.89C336.42,427.09 336.50,425.00 336.46,423.53C336.43,422.06 336.39,420.34 336.46,419.09C336.54,417.84 336.49,417.07 336.91,416.02C337.33,414.97 338.24,413.49 338.98,412.80C339.72,412.11 340.43,412.14 341.35,411.87C342.26,411.61 343.25,411.32 344.45,411.21C345.66,411.10 347.80,411.09 348.56,411.21C349.32,411.32 348.94,411.52 349.00,411.91C349.07,412.30 349.16,412.71 348.93,413.54C348.70,414.36 348.08,415.70 347.64,416.87C347.19,418.04 347.03,419.19 346.27,420.57C345.51,421.95 344.15,423.97 343.08,425.16C342.02,426.34 340.71,427.14 339.87,427.67C339.02,428.20 338.55,428.30 338.02,428.34C337.49,428.38 336.94,428.70 336.68,427.89Z" fill="none" stroke="#262626" stroke-width="0.55"/>
<path d="M336.99,427.62C336.76,426.91 336.83,425.07 336.80,423.78C336.76,422.49 336.73,420.98 336.80,419.88C336.86,418.78 336.82,418.10 337.19,417.18C337.55,416.26 338.36,414.96 339.00,414.36C339.65,413.75 340.28,413.78 341.08,413.54C341.89,413.31 342.76,413.06 343.81,412.96C344.87,412.86 346.76,412.85 347.42,412.96C348.09,413.06 347.76,413.23 347.81,413.58C347.87,413.92 347.95,414.28 347.75,415.00C347.55,415.73 347.00,416.90 346.61,417.93C346.22,418.96 346.07,419.97 345.41,421.18C344.74,422.39 343.55,424.17 342.61,425.21C341.68,426.25 340.53,426.95 339.78,427.42C339.04,427.89 338.63,427.97 338.16,428.00C337.69,428.04 337.22,428.32 336.99,427.62Z" fill="none" stroke="#262626" stroke-width="0.55"/>
<path d="M337.30,427.34C337.10,426.73 337.16,425.14 337.13,424.03C337.10,422.92 337.07,421.62 337.13,420.67C337.18,419.72 337.15,419.14 337.46,418.35C337.78,417.55 338.47,416.43 339.03,415.91C339.59,415.39 340.13,415.41 340.82,415.21C341.51,415.01 342.27,414.79 343.18,414.71C344.09,414.62 345.71,414.62 346.28,414.71C346.86,414.80 346.57,414.95 346.62,415.24C346.67,415.53 346.74,415.85 346.56,416.47C346.39,417.10 345.92,418.11 345.58,418.99C345.25,419.88 345.12,420.75 344.55,421.79C343.97,422.84 342.95,424.37 342.14,425.26C341.33,426.16 340.34,426.77 339.70,427.17C339.06,427.57 338.71,427.64 338.30,427.67C337.90,427.70 337.49,427.94 337.30,427.34Z" fill="none" stroke="#262626" stroke-width="0.55"/>
<path d="M337.60,427.06C337.44,426.55 337.48,425.22 337.46,424.28C337.44,423.35 337.41,422.26 337.46,421.46C337.51,420.67 337.48,420.18 337.74,419.51C338.01,418.85 338.59,417.91 339.06,417.47C339.53,417.03 339.98,417.05 340.56,416.88C341.14,416.71 341.77,416.53 342.54,416.46C343.30,416.39 344.66,416.38 345.15,416.46C345.63,416.53 345.39,416.66 345.43,416.91C345.47,417.15 345.53,417.41 345.38,417.94C345.24,418.46 344.84,419.31 344.56,420.05C344.28,420.80 344.17,421.53 343.69,422.40C343.21,423.28 342.35,424.57 341.67,425.32C340.99,426.07 340.16,426.58 339.62,426.92C339.09,427.25 338.78,427.32 338.45,427.34C338.11,427.36 337.77,427.57 337.60,427.06Z" fill="none" stroke="#262626" stroke-width="0.55"/>
<path d="M337.91,426.78C337.77,426.37 337.81,425.29 337.79,424.54C337.77,423.78 337.76,422.90 337.79,422.26C337.83,421.61 337.81,421.22 338.02,420.68C338.24,420.14 338.71,419.38 339.09,419.03C339.47,418.67 339.83,418.69 340.30,418.55C340.77,418.41 341.28,418.27 341.90,418.21C342.52,418.15 343.62,418.15 344.01,418.21C344.40,418.27 344.20,418.37 344.24,418.57C344.27,418.77 344.31,418.98 344.20,419.41C344.08,419.83 343.76,420.51 343.53,421.12C343.30,421.72 343.22,422.31 342.83,423.02C342.44,423.73 341.74,424.76 341.19,425.37C340.65,425.98 339.98,426.39 339.54,426.66C339.11,426.94 338.86,426.99 338.59,427.01C338.32,427.03 338.04,427.19 337.91,426.78Z" fill="none" stroke="#262626" stroke-width="0.55"/>
<path d="M338.21,426.50C338.11,426.18 338.14,425.36 338.13,424.79C338.11,424.21 338.10,423.54 338.13,423.05C338.16,422.56 338.14,422.26 338.30,421.84C338.47,421.43 338.82,420.85 339.11,420.58C339.40,420.31 339.68,420.32 340.04,420.22C340.40,420.12 340.79,420.00 341.26,419.96C341.73,419.92 342.57,419.91 342.87,419.96C343.17,420.01 343.02,420.08 343.04,420.24C343.07,420.39 343.10,420.55 343.01,420.87C342.92,421.20 342.68,421.72 342.51,422.18C342.33,422.64 342.27,423.09 341.97,423.63C341.67,424.17 341.14,424.96 340.72,425.43C340.30,425.89 339.79,426.20 339.46,426.41C339.13,426.62 338.94,426.66 338.74,426.67C338.53,426.69 338.32,426.81 338.21,426.50Z" fill="none" stroke="#262626" stroke-width="0.55"/>
<ellipse cx="339.20" cy="425.60" rx="1.20" ry="1.44" fill="none" stroke="#262626" stroke-width="0.55"/>
<ellipse cx="339.20" cy="425.60" rx="2.20" ry="2.64" fill="none" stroke="#262626" stroke-width="0.55"/>
<ellipse cx="339.20" cy="425.60" rx="3.20" ry="3.84" fill="none" stroke="#262626" stroke-width="0.55"/>
<path d="M462.20,431.65C461.29,429.48 460.81,423.94 460.55,420.00C460.29,416.06 460.37,411.44 460.65,408.00C460.93,404.56 460.99,402.03 462.25,399.35C463.51,396.67 466.16,393.56 468.20,391.90C470.24,390.24 472.20,390.07 474.50,389.40C476.80,388.72 479.02,388.15 482.00,387.85C484.98,387.55 490.00,387.31 492.35,387.60C494.70,387.89 495.53,388.53 496.10,389.60C496.67,390.67 496.35,392.02 495.75,394.00C495.15,395.98 493.68,398.68 492.50,401.50C491.32,404.32 490.71,407.23 488.65,410.90C486.59,414.57 482.92,420.22 480.15,423.50C477.38,426.78 474.41,429.02 472.05,430.60C469.69,432.18 467.64,432.82 466.00,433.00C464.36,433.18 463.11,433.82 462.20,431.65Z" fill="none" stroke="#262626" stroke-width="0.55"/>
<path d="M462.52,431.38C461.66,429.32 461.20,424.04 460.95,420.28C460.70,416.53 460.78,412.13 461.05,408.85C461.32,405.57 461.37,403.17 462.57,400.61C463.77,398.06 466.29,395.10 468.24,393.52C470.18,391.94 472.05,391.78 474.24,391.13C476.43,390.49 478.55,389.94 481.38,389.66C484.22,389.37 489.01,389.14 491.24,389.42C493.48,389.70 494.28,390.31 494.82,391.32C495.36,392.34 495.05,393.63 494.48,395.52C493.91,397.41 492.51,399.98 491.39,402.66C490.26,405.34 489.68,408.12 487.72,411.62C485.76,415.11 482.26,420.49 479.62,423.62C476.99,426.75 474.15,428.87 471.91,430.38C469.66,431.89 467.71,432.50 466.14,432.67C464.58,432.84 463.39,433.45 462.52,431.38Z" fill="none" stroke="#262626" stroke-width="0.55"/>
<path d="M462.84,431.11C462.02,429.15 461.58,424.14 461.35,420.57C461.12,417.00 461.18,412.82 461.44,409.71C461.70,406.59 461.75,404.30 462.89,401.87C464.03,399.45 466.43,396.63 468.28,395.13C470.12,393.63 471.90,393.48 473.98,392.87C476.06,392.26 478.08,391.74 480.77,391.46C483.46,391.19 488.01,390.97 490.14,391.24C492.27,391.50 493.02,392.08 493.53,393.05C494.05,394.01 493.76,395.24 493.22,397.03C492.67,398.83 491.34,401.27 490.27,403.82C489.20,406.37 488.65,409.01 486.79,412.33C484.93,415.65 481.60,420.76 479.09,423.74C476.59,426.71 473.90,428.73 471.76,430.16C469.63,431.60 467.77,432.18 466.28,432.34C464.80,432.50 463.67,433.08 462.84,431.11Z" fill="none" stroke="#262626" stroke-width="0.55"/>
<path d="M463.17,430.85C462.39,428.99 461.97,424.23 461.75,420.85C461.53,417.47 461.59,413.51 461.84,410.56C462.08,407.61 462.13,405.44 463.21,403.14C464.29,400.84 466.56,398.17 468.31,396.75C470.07,395.32 471.75,395.18 473.72,394.60C475.69,394.02 477.60,393.53 480.15,393.27C482.70,393.01 487.02,392.81 489.03,393.06C491.05,393.31 491.76,393.86 492.25,394.77C492.74,395.69 492.46,396.85 491.95,398.55C491.43,400.25 490.18,402.57 489.16,404.98C488.15,407.40 487.62,409.90 485.86,413.05C484.09,416.19 480.94,421.04 478.57,423.86C476.19,426.67 473.64,428.59 471.62,429.95C469.59,431.30 467.83,431.86 466.43,432.01C465.02,432.16 463.95,432.71 463.17,430.85Z" fill="none" stroke="#262626" stroke-width="0.55"/>
<path d="M463.49,430.58C462.75,428.82 462.36,424.33 462.15,421.14C461.94,417.94 462.00,414.20 462.23,411.41C462.46,408.62 462.51,406.57 463.53,404.40C464.55,402.22 466.70,399.71 468.35,398.36C470.01,397.02 471.59,396.88 473.46,396.33C475.32,395.79 477.13,395.32 479.54,395.08C481.95,394.84 486.02,394.64 487.93,394.88C489.83,395.11 490.51,395.63 490.97,396.50C491.42,397.36 491.17,398.46 490.68,400.06C490.20,401.67 489.01,403.86 488.05,406.14C487.09,408.43 486.60,410.79 484.93,413.76C483.26,416.73 480.28,421.31 478.04,423.97C475.79,426.63 473.38,428.45 471.47,429.73C469.56,431.01 467.90,431.53 466.57,431.67C465.24,431.82 464.22,432.34 463.49,430.58Z" fill="none" stroke="#262626" stroke-width="0.55"/>
<path d="M463.81,430.31C463.12,428.66 462.75,424.43 462.55,421.42C462.35,418.41 462.41,414.89 462.63,412.26C462.84,409.64 462.89,407.71 463.85,405.66C464.81,403.61 466.83,401.24 468.39,399.98C469.95,398.71 471.44,398.58 473.20,398.07C474.95,397.55 476.65,397.11 478.92,396.89C481.19,396.66 485.03,396.47 486.82,396.69C488.61,396.92 489.25,397.41 489.68,398.22C490.11,399.04 489.87,400.07 489.41,401.58C488.96,403.09 487.84,405.15 486.93,407.30C486.03,409.45 485.57,411.68 484.00,414.48C482.43,417.27 479.62,421.59 477.51,424.09C475.40,426.60 473.13,428.30 471.33,429.51C469.53,430.72 467.96,431.21 466.71,431.34C465.46,431.48 464.50,431.97 463.81,430.31Z" fill="none" stroke="#262626" stroke-width="0.55"/>
<path d="M464.13,430.04C463.48,428.49 463.14,424.53 462.95,421.71C462.77,418.88 462.82,415.58 463.02,413.12C463.23,410.65 463.27,408.84 464.17,406.92C465.07,405.00 466.97,402.78 468.43,401.59C469.89,400.40 471.29,400.29 472.94,399.80C474.58,399.32 476.18,398.91 478.31,398.69C480.43,398.48 484.03,398.30 485.71,398.51C487.40,398.72 487.99,399.18 488.40,399.95C488.80,400.71 488.58,401.68 488.15,403.09C487.72,404.51 486.67,406.45 485.82,408.46C484.97,410.48 484.54,412.57 483.07,415.19C481.59,417.82 478.96,421.86 476.98,424.21C475.00,426.56 472.87,428.16 471.18,429.29C469.50,430.43 468.03,430.89 466.85,431.01C465.68,431.14 464.78,431.60 464.13,430.04Z" fill="none" stroke="#262626" stroke-width="0.55"/>
<path d="M464.45,429.78C463.85,428.33 463.52,424.62 463.35,421.99C463.18,419.35 463.23,416.27 463.42,413.97C463.61,411.67 463.65,409.98 464.49,408.19C465.33,406.39 467.10,404.32 468.47,403.21C469.83,402.10 471.14,401.99 472.68,401.54C474.21,401.08 475.70,400.70 477.69,400.50C479.68,400.30 483.04,400.14 484.61,400.33C486.18,400.53 486.74,400.96 487.11,401.67C487.49,402.38 487.28,403.28 486.88,404.61C486.48,405.94 485.50,407.74 484.71,409.62C483.92,411.51 483.51,413.46 482.13,415.91C480.76,418.36 478.30,422.13 476.45,424.33C474.60,426.52 472.62,428.02 471.04,429.07C469.46,430.13 468.09,430.56 466.99,430.68C465.90,430.80 465.06,431.22 464.45,429.78Z" fill="none" stroke="#262626" stroke-width="0.55"/>
<path d="M464.78,429.51C464.21,428.16 463.91,424.72 463.75,422.27C463.59,419.83 463.64,416.96 463.81,414.82C463.99,412.68 464.03,411.12 464.81,409.45C465.59,407.78 467.24,405.85 468.50,404.82C469.77,403.79 470.99,403.69 472.42,403.27C473.84,402.85 475.23,402.49 477.07,402.31C478.92,402.12 482.04,401.97 483.50,402.15C484.96,402.33 485.48,402.73 485.83,403.39C486.18,404.06 485.99,404.89 485.61,406.13C485.24,407.36 484.33,409.03 483.59,410.78C482.86,412.53 482.48,414.34 481.20,416.62C479.93,418.90 477.64,422.41 475.92,424.45C474.21,426.49 472.36,427.87 470.89,428.86C469.43,429.84 468.16,430.24 467.14,430.35C466.12,430.46 465.34,430.85 464.78,429.51Z" fill="none" stroke="#262626" stroke-width="0.55"/>
<path d="M465.10,429.24C464.58,428.00 464.30,424.82 464.15,422.56C464.00,420.30 464.05,417.65 464.21,415.67C464.37,413.70 464.41,412.25 465.13,410.71C465.85,409.17 467.37,407.39 468.54,406.44C469.71,405.49 470.84,405.39 472.16,405.00C473.47,404.62 474.75,404.29 476.46,404.11C478.16,403.94 481.05,403.80 482.40,403.97C483.74,404.14 484.22,404.51 484.55,405.12C484.87,405.73 484.69,406.50 484.35,407.64C484.00,408.78 483.16,410.33 482.48,411.94C481.80,413.56 481.45,415.23 480.27,417.34C479.09,419.44 476.98,422.68 475.40,424.57C473.81,426.45 472.10,427.73 470.75,428.64C469.40,429.55 468.22,429.92 467.28,430.02C466.34,430.12 465.62,430.48 465.10,429.24Z" fill="none" stroke="#262626" stroke-width="0.55"/>
<path d="M465.42,428.97C464.94,427.83 464.69,424.92 464.55,422.84C464.42,420.77 464.46,418.34 464.61,416.53C464.75,414.71 464.79,413.39 465.45,411.97C466.11,410.56 467.50,408.93 468.58,408.05C469.65,407.18 470.68,407.09 471.89,406.74C473.11,406.38 474.28,406.08 475.84,405.92C477.41,405.76 480.05,405.64 481.29,405.79C482.53,405.94 482.96,406.28 483.26,406.84C483.56,407.40 483.39,408.11 483.08,409.16C482.76,410.20 481.99,411.62 481.37,413.11C480.75,414.59 480.43,416.12 479.34,418.05C478.26,419.98 476.32,422.96 474.87,424.68C473.41,426.41 471.85,427.59 470.61,428.42C469.36,429.25 468.29,429.59 467.42,429.68C466.56,429.78 465.90,430.11 465.42,428.97Z" fill="none" stroke="#262626" stroke-width="0.55"/>
<path d="M465.74,428.71C465.31,427.67 465.08,425.01 464.95,423.13C464.83,421.24 464.87,419.03 465.00,417.38C465.14,415.73 465.16,414.52 465.77,413.24C466.37,411.95 467.64,410.46 468.62,409.67C469.59,408.87 470.53,408.79 471.63,408.47C472.74,408.15 473.80,407.87 475.23,407.73C476.65,407.58 479.06,407.47 480.18,407.61C481.31,407.75 481.71,408.06 481.98,408.57C482.25,409.08 482.10,409.72 481.81,410.67C481.52,411.62 480.82,412.92 480.26,414.27C479.69,415.61 479.40,417.01 478.41,418.77C477.43,420.52 475.67,423.23 474.34,424.80C473.02,426.38 471.59,427.44 470.46,428.20C469.33,428.96 468.35,429.27 467.56,429.35C466.78,429.44 466.18,429.74 465.74,428.71Z" fill="none" stroke="#262626" stroke-width="0.55"/>
<path d="M466.07,428.44C465.67,427.50 465.46,425.11 465.35,423.41C465.24,421.71 465.27,419.72 465.40,418.23C465.52,416.75 465.54,415.66 466.09,414.50C466.63,413.34 467.77,412.00 468.65,411.28C469.54,410.57 470.38,410.50 471.37,410.20C472.37,409.91 473.33,409.66 474.61,409.54C475.89,409.41 478.06,409.30 479.08,409.43C480.09,409.55 480.45,409.83 480.70,410.29C480.94,410.75 480.80,411.33 480.54,412.19C480.29,413.05 479.65,414.21 479.14,415.43C478.63,416.64 478.37,417.90 477.48,419.48C476.59,421.07 475.01,423.50 473.81,424.92C472.62,426.34 471.33,427.30 470.32,427.99C469.30,428.67 468.41,428.95 467.71,429.02C467.00,429.10 466.46,429.37 466.07,428.44Z" fill="none" stroke="#262626" stroke-width="0.55"/>
<path d="M466.39,428.17C466.04,427.34 465.85,425.21 465.75,423.69C465.65,422.18 465.68,420.41 465.79,419.08C465.90,417.76 465.92,416.79 466.41,415.76C466.89,414.73 467.91,413.54 468.69,412.90C469.48,412.26 470.23,412.20 471.11,411.94C472.00,411.68 472.85,411.46 473.99,411.34C475.14,411.23 477.07,411.13 477.97,411.25C478.87,411.36 479.19,411.60 479.41,412.01C479.63,412.42 479.51,412.94 479.28,413.71C479.05,414.47 478.48,415.50 478.03,416.59C477.57,417.67 477.34,418.79 476.55,420.20C475.76,421.61 474.35,423.78 473.28,425.04C472.22,426.30 471.08,427.16 470.17,427.77C469.27,428.38 468.48,428.62 467.85,428.69C467.22,428.76 466.74,429.00 466.39,428.17Z" fill="none" stroke="#262626" stroke-width="0.55"/>
<path d="M466.71,427.90C466.40,427.17 466.24,425.31 466.15,423.98C466.07,422.65 466.09,421.10 466.19,419.94C466.28,418.78 466.30,417.93 466.73,417.02C467.15,416.12 468.04,415.07 468.73,414.51C469.42,413.96 470.08,413.90 470.85,413.67C471.63,413.44 472.38,413.25 473.38,413.15C474.38,413.05 476.07,412.97 476.87,413.07C477.66,413.16 477.94,413.38 478.13,413.74C478.32,414.10 478.21,414.55 478.01,415.22C477.81,415.89 477.31,416.80 476.92,417.75C476.52,418.70 476.31,419.68 475.62,420.91C474.93,422.15 473.69,424.05 472.76,425.16C471.82,426.26 470.82,427.02 470.03,427.55C469.23,428.08 468.54,428.30 467.99,428.36C467.44,428.42 467.02,428.63 466.71,427.90Z" fill="none" stroke="#262626" stroke-width="0.55"/>
<path d="M467.03,427.64C466.77,427.01 466.63,425.40 466.55,424.26C466.48,423.12 466.50,421.79 466.58,420.79C466.66,419.79 466.68,419.06 467.05,418.29C467.41,417.51 468.18,416.61 468.77,416.13C469.36,415.65 469.93,415.60 470.59,415.41C471.26,415.21 471.90,415.04 472.76,414.96C473.62,414.87 475.08,414.80 475.76,414.88C476.44,414.97 476.68,415.15 476.84,415.46C477.01,415.77 476.92,416.16 476.74,416.74C476.57,417.31 476.15,418.09 475.80,418.91C475.46,419.72 475.28,420.57 474.69,421.63C474.09,422.69 473.03,424.33 472.23,425.28C471.43,426.23 470.57,426.87 469.88,427.33C469.20,427.79 468.61,427.98 468.13,428.03C467.66,428.08 467.29,428.26 467.03,427.64Z" fill="none" stroke="#262626" stroke-width="0.55"/>
<path d="M467.35,427.37C467.13,426.84 467.02,425.50 466.95,424.55C466.89,423.59 466.91,422.48 466.98,421.64C467.05,420.81 467.06,420.20 467.37,419.55C467.67,418.90 468.31,418.15 468.81,417.74C469.30,417.34 469.77,417.30 470.33,417.14C470.89,416.98 471.43,416.84 472.15,416.76C472.87,416.69 474.08,416.63 474.65,416.70C475.22,416.77 475.42,416.93 475.56,417.19C475.70,417.45 475.62,417.77 475.48,418.25C475.33,418.73 474.98,419.39 474.69,420.07C474.40,420.75 474.26,421.46 473.76,422.34C473.26,423.23 472.37,424.60 471.70,425.39C471.03,426.19 470.31,426.73 469.74,427.11C469.17,427.50 468.67,427.65 468.27,427.69C467.88,427.74 467.57,427.89 467.35,427.37Z" fill="none" stroke="#262626" stroke-width="0.55"/>
<path d="M467.68,427.10C467.50,426.68 467.40,425.60 467.35,424.83C467.30,424.06 467.32,423.16 467.37,422.49C467.43,421.82 467.44,421.33 467.69,420.81C467.93,420.29 468.45,419.68 468.84,419.36C469.24,419.04 469.62,419.00 470.07,418.87C470.52,418.74 470.95,418.63 471.53,418.57C472.11,418.51 473.09,418.47 473.55,418.52C474.00,418.58 474.17,418.70 474.28,418.91C474.39,419.12 474.33,419.38 474.21,419.77C474.09,420.15 473.81,420.68 473.58,421.23C473.35,421.78 473.23,422.35 472.83,423.06C472.43,423.77 471.71,424.87 471.17,425.51C470.63,426.15 470.05,426.59 469.59,426.90C469.13,427.20 468.74,427.33 468.42,427.36C468.10,427.40 467.85,427.52 467.68,427.10Z" fill="none" stroke="#262626" stroke-width="0.55"/>
<path d="M468.00,426.83C467.86,426.51 467.79,425.70 467.75,425.12C467.72,424.53 467.73,423.85 467.77,423.35C467.81,422.84 467.82,422.47 468.01,422.07C468.19,421.68 468.58,421.22 468.88,420.97C469.18,420.73 469.47,420.71 469.81,420.61C470.15,420.51 470.48,420.42 470.92,420.38C471.35,420.33 472.09,420.30 472.44,420.34C472.79,420.38 472.91,420.48 472.99,420.64C473.08,420.79 473.03,420.99 472.94,421.28C472.85,421.58 472.64,421.97 472.46,422.39C472.29,422.80 472.20,423.23 471.90,423.77C471.59,424.32 471.05,425.15 470.64,425.63C470.24,426.12 469.80,426.44 469.45,426.68C469.10,426.91 468.80,427.01 468.56,427.03C468.32,427.06 468.13,427.15 468.00,426.83Z" fill="none" stroke="#262626" stroke-width="0.55"/>
<ellipse cx="469.00" cy="426.00" rx="1.20" ry="1.44" fill="none" stroke="#262626" stroke-width="0.55"/>
<ellipse cx="469.00" cy="426.00" rx="2.20" ry="2.64" fill="none" stroke="#262626" stroke-width="0.55"/>
<ellipse cx="469.00" cy="426.00" rx="3.20" ry="3.84" fill="none" stroke="#262626" stroke-width="0.55"/>
<ellipse cx="80.00" cy="455.30" rx="8.07" ry="10.54" fill="#999"/>
<path d="M89.00,454.50C89.00,456.08 88.74,457.78 88.28,459.25C87.81,460.71 87.07,462.15 86.22,463.27C85.36,464.39 84.26,465.35 83.14,465.96C82.02,466.56 80.71,466.90 79.50,466.90C78.29,466.90 76.98,466.56 75.86,465.96C74.74,465.35 73.64,464.39 72.78,463.27C71.93,462.15 71.19,460.71 70.72,459.25C70.26,457.78 70.00,456.08 70.00,454.50C70.00,452.92 70.26,451.22 70.72,449.75C71.19,448.29 71.93,446.85 72.78,445.73C73.64,444.61 74.74,443.65 75.86,443.04C76.98,442.44 78.29,442.10 79.50,442.10C80.71,442.10 82.02,442.44 83.14,443.04C84.26,443.65 85.36,444.61 86.22,445.73C87.07,446.85 87.81,448.29 88.28,449.75C88.74,451.22 89.00,452.92 89.00,454.50Z" fill="none" stroke="#222" stroke-width="0.50"/>
<path d="M88.39,454.65C88.39,456.11 88.15,457.69 87.72,459.04C87.30,460.39 86.61,461.72 85.82,462.75C85.03,463.79 84.01,464.68 82.97,465.24C81.94,465.80 80.73,466.11 79.61,466.11C78.49,466.11 77.29,465.80 76.25,465.24C75.22,464.68 74.20,463.79 73.41,462.75C72.61,461.72 71.93,460.39 71.50,459.04C71.07,457.69 70.84,456.11 70.84,454.65C70.84,453.19 71.07,451.62 71.50,450.27C71.93,448.92 72.61,447.58 73.41,446.55C74.20,445.52 75.22,444.62 76.25,444.07C77.29,443.51 78.49,443.19 79.61,443.19C80.73,443.19 81.94,443.51 82.97,444.07C84.01,444.62 85.03,445.52 85.82,446.55C86.61,447.58 87.30,448.92 87.72,450.27C88.15,451.62 88.39,453.19 88.39,454.65Z" fill="none" stroke="#222" stroke-width="0.50"/>
<path d="M87.94,454.76C87.94,456.14 87.72,457.61 87.32,458.88C86.91,460.15 86.27,461.40 85.53,462.37C84.78,463.34 83.82,464.18 82.85,464.71C81.88,465.23 80.75,465.53 79.70,465.53C78.65,465.53 77.51,465.23 76.54,464.71C75.57,464.18 74.61,463.34 73.87,462.37C73.12,461.40 72.48,460.15 72.08,458.88C71.68,457.61 71.45,456.14 71.45,454.76C71.45,453.39 71.68,451.91 72.08,450.65C72.48,449.38 73.12,448.13 73.87,447.16C74.61,446.18 75.57,445.35 76.54,444.82C77.51,444.30 78.65,444.00 79.70,444.00C80.75,444.00 81.88,444.30 82.85,444.82C83.82,445.35 84.78,446.18 85.53,447.16C86.27,448.13 86.91,449.38 87.32,450.65C87.72,451.91 87.94,453.39 87.94,454.76Z" fill="none" stroke="#222" stroke-width="0.50"/>
<path d="M87.54,454.87C87.54,456.16 87.33,457.55 86.95,458.74C86.57,459.94 85.96,461.12 85.26,462.03C84.56,462.94 83.66,463.73 82.75,464.23C81.83,464.72 80.76,465.00 79.77,465.00C78.78,465.00 77.72,464.72 76.80,464.23C75.89,463.73 74.98,462.94 74.28,462.03C73.58,461.12 72.98,459.94 72.60,458.74C72.22,457.55 72.01,456.16 72.01,454.87C72.01,453.57 72.22,452.18 72.60,450.99C72.98,449.79 73.58,448.61 74.28,447.70C74.98,446.79 75.89,446.00 76.80,445.50C77.72,445.01 78.78,444.73 79.77,444.73C80.76,444.73 81.83,445.01 82.75,445.50C83.66,446.00 84.56,446.79 85.26,447.70C85.96,448.61 86.57,449.79 86.95,450.99C87.33,452.18 87.54,453.57 87.54,454.87Z" fill="none" stroke="#222" stroke-width="0.50"/>
<path d="M87.16,454.96C87.16,456.18 86.96,457.49 86.60,458.61C86.25,459.74 85.68,460.85 85.02,461.71C84.36,462.57 83.51,463.31 82.64,463.78C81.78,464.25 80.78,464.51 79.85,464.51C78.91,464.51 77.91,464.25 77.05,463.78C76.18,463.31 75.33,462.57 74.67,461.71C74.01,460.85 73.45,459.74 73.09,458.61C72.73,457.49 72.53,456.18 72.53,454.96C72.53,453.74 72.73,452.43 73.09,451.31C73.45,450.18 74.01,449.07 74.67,448.21C75.33,447.35 76.18,446.61 77.05,446.14C77.91,445.67 78.91,445.41 79.85,445.41C80.78,445.41 81.78,445.67 82.64,446.14C83.51,446.61 84.36,447.35 85.02,448.21C85.68,449.07 86.25,450.18 86.60,451.31C86.96,452.43 87.16,453.74 87.16,454.96Z" fill="none" stroke="#222" stroke-width="0.50"/>
<path d="M86.80,455.05C86.80,456.20 86.61,457.43 86.28,458.49C85.94,459.55 85.40,460.60 84.78,461.41C84.16,462.22 83.36,462.92 82.55,463.35C81.74,463.79 80.79,464.04 79.91,464.04C79.03,464.04 78.09,463.79 77.28,463.35C76.47,462.92 75.66,462.22 75.04,461.41C74.42,460.60 73.89,459.55 73.55,458.49C73.21,457.43 73.03,456.20 73.03,455.05C73.03,453.90 73.21,452.67 73.55,451.61C73.89,450.55 74.42,449.50 75.04,448.69C75.66,447.88 76.47,447.18 77.28,446.75C78.09,446.31 79.03,446.06 79.91,446.06C80.79,446.06 81.74,446.31 82.55,446.75C83.36,447.18 84.16,447.88 84.78,448.69C85.40,449.50 85.94,450.55 86.28,451.61C86.61,452.67 86.80,453.90 86.80,455.05Z" fill="none" stroke="#222" stroke-width="0.50"/>
<path d="M86.45,455.14C86.45,456.21 86.28,457.38 85.96,458.37C85.64,459.37 85.14,460.35 84.56,461.11C83.97,461.88 83.22,462.53 82.46,462.95C81.69,463.36 80.80,463.59 79.98,463.59C79.15,463.59 78.26,463.36 77.50,462.95C76.74,462.53 75.98,461.88 75.40,461.11C74.81,460.35 74.31,459.37 73.99,458.37C73.68,457.38 73.50,456.21 73.50,455.14C73.50,454.06 73.68,452.90 73.99,451.90C74.31,450.91 74.81,449.92 75.40,449.16C75.98,448.40 76.74,447.74 77.50,447.33C78.26,446.91 79.15,446.68 79.98,446.68C80.80,446.68 81.69,446.91 82.46,447.33C83.22,447.74 83.97,448.40 84.56,449.16C85.14,449.92 85.64,450.91 85.96,451.90C86.28,452.90 86.45,454.06 86.45,455.14Z" fill="none" stroke="#222" stroke-width="0.50"/>
<path d="M86.12,455.22C86.12,456.23 85.95,457.32 85.66,458.26C85.36,459.19 84.89,460.12 84.34,460.83C83.79,461.55 83.08,462.16 82.37,462.55C81.65,462.94 80.82,463.16 80.04,463.16C79.26,463.16 78.43,462.94 77.71,462.55C77.00,462.16 76.29,461.55 75.74,460.83C75.19,460.12 74.72,459.19 74.42,458.26C74.13,457.32 73.96,456.23 73.96,455.22C73.96,454.21 74.13,453.12 74.42,452.18C74.72,451.25 75.19,450.32 75.74,449.61C76.29,448.89 77.00,448.28 77.71,447.89C78.43,447.50 79.26,447.28 80.04,447.28C80.82,447.28 81.65,447.50 82.37,447.89C83.08,448.28 83.79,448.89 84.34,449.61C84.89,450.32 85.36,451.25 85.66,452.18C85.95,453.12 86.12,454.21 86.12,455.22Z" fill="none" stroke="#222" stroke-width="0.50"/>
<path d="M85.79,455.30C85.79,456.25 85.64,457.27 85.36,458.15C85.08,459.02 84.64,459.89 84.13,460.56C83.61,461.23 82.95,461.80 82.28,462.17C81.61,462.53 80.83,462.73 80.10,462.73C79.37,462.73 78.59,462.53 77.92,462.17C77.25,461.80 76.59,461.23 76.07,460.56C75.56,459.89 75.12,459.02 74.84,458.15C74.56,457.27 74.41,456.25 74.41,455.30C74.41,454.35 74.56,453.33 74.84,452.46C75.12,451.58 75.56,450.72 76.07,450.05C76.59,449.38 77.25,448.80 77.92,448.44C78.59,448.07 79.37,447.87 80.10,447.87C80.83,447.87 81.61,448.07 82.28,448.44C82.95,448.80 83.61,449.38 84.13,450.05C84.64,450.72 85.08,451.58 85.36,452.46C85.64,453.33 85.79,454.35 85.79,455.30Z" fill="none" stroke="#222" stroke-width="0.50"/>
<path d="M85.48,455.38C85.48,456.27 85.33,457.22 85.07,458.04C84.81,458.85 84.40,459.66 83.92,460.29C83.44,460.91 82.82,461.45 82.20,461.79C81.57,462.13 80.84,462.32 80.16,462.32C79.48,462.32 78.75,462.13 78.13,461.79C77.50,461.45 76.88,460.91 76.40,460.29C75.92,459.66 75.51,458.85 75.25,458.04C74.99,457.22 74.84,456.27 74.84,455.38C74.84,454.50 74.99,453.54 75.25,452.72C75.51,451.91 75.92,451.10 76.40,450.47C76.88,449.85 77.50,449.31 78.13,448.97C78.75,448.63 79.48,448.44 80.16,448.44C80.84,448.44 81.57,448.63 82.20,448.97C82.82,449.31 83.44,449.85 83.92,450.47C84.40,451.10 84.81,451.91 85.07,452.72C85.33,453.54 85.48,454.50 85.48,455.38Z" fill="none" stroke="#222" stroke-width="0.50"/>
<path d="M85.17,455.46C85.17,456.28 85.03,457.17 84.79,457.93C84.55,458.69 84.16,459.44 83.72,460.03C83.27,460.61 82.70,461.11 82.11,461.43C81.53,461.74 80.85,461.92 80.22,461.92C79.59,461.92 78.91,461.74 78.32,461.43C77.74,461.11 77.16,460.61 76.72,460.03C76.27,459.44 75.89,458.69 75.65,457.93C75.40,457.17 75.27,456.28 75.27,455.46C75.27,454.63 75.40,453.75 75.65,452.99C75.89,452.22 76.27,451.47 76.72,450.89C77.16,450.31 77.74,449.80 78.32,449.49C78.91,449.17 79.59,449.00 80.22,449.00C80.85,449.00 81.53,449.17 82.11,449.49C82.70,449.80 83.27,450.31 83.72,450.89C84.16,451.47 84.55,452.22 84.79,452.99C85.03,453.75 85.17,454.63 85.17,455.46Z" fill="none" stroke="#222" stroke-width="0.50"/>
<path d="M84.86,455.53C84.86,456.30 84.74,457.12 84.52,457.83C84.29,458.53 83.93,459.23 83.52,459.77C83.11,460.31 82.57,460.78 82.03,461.07C81.49,461.36 80.86,461.52 80.28,461.52C79.69,461.52 79.06,461.36 78.52,461.07C77.98,460.78 77.44,460.31 77.03,459.77C76.62,459.23 76.26,458.53 76.04,457.83C75.81,457.12 75.69,456.30 75.69,455.53C75.69,454.77 75.81,453.95 76.04,453.24C76.26,452.54 76.62,451.84 77.03,451.30C77.44,450.76 77.98,450.29 78.52,450.00C79.06,449.71 79.69,449.54 80.28,449.54C80.86,449.54 81.49,449.71 82.03,450.00C82.57,450.29 83.11,450.76 83.52,451.30C83.93,451.84 84.29,452.54 84.52,453.24C84.74,453.95 84.86,454.77 84.86,455.53Z" fill="none" stroke="#222" stroke-width="0.50"/>
<path d="M84.57,455.61C84.57,456.31 84.45,457.07 84.24,457.72C84.04,458.38 83.71,459.02 83.33,459.52C82.94,460.02 82.45,460.45 81.95,460.72C81.45,460.99 80.87,461.14 80.33,461.14C79.79,461.14 79.21,460.99 78.71,460.72C78.21,460.45 77.72,460.02 77.34,459.52C76.95,459.02 76.63,458.38 76.42,457.72C76.21,457.07 76.10,456.31 76.10,455.61C76.10,454.90 76.21,454.14 76.42,453.49C76.63,452.84 76.95,452.20 77.34,451.70C77.72,451.20 78.21,450.77 78.71,450.50C79.21,450.23 79.79,450.08 80.33,450.08C80.87,450.08 81.45,450.23 81.95,450.50C82.45,450.77 82.94,451.20 83.33,451.70C83.71,452.20 84.04,452.84 84.24,453.49C84.45,454.14 84.57,454.90 84.57,455.61Z" fill="none" stroke="#222" stroke-width="0.50"/>
<path d="M84.27,455.68C84.27,456.33 84.17,457.03 83.98,457.62C83.79,458.22 83.49,458.81 83.13,459.27C82.78,459.73 82.33,460.12 81.87,460.37C81.42,460.62 80.88,460.76 80.39,460.76C79.89,460.76 79.36,460.62 78.90,460.37C78.44,460.12 77.99,459.73 77.64,459.27C77.29,458.81 76.98,458.22 76.79,457.62C76.61,457.03 76.50,456.33 76.50,455.68C76.50,455.03 76.61,454.34 76.79,453.74C76.98,453.14 77.29,452.55 77.64,452.09C77.99,451.64 78.44,451.24 78.90,450.99C79.36,450.75 79.89,450.61 80.39,450.61C80.88,450.61 81.42,450.75 81.87,450.99C82.33,451.24 82.78,451.64 83.13,452.09C83.49,452.55 83.79,453.14 83.98,453.74C84.17,454.34 84.27,455.03 84.27,455.68Z" fill="none" stroke="#222" stroke-width="0.50"/>
<path d="M83.98,455.75C83.98,456.34 83.89,456.98 83.71,457.52C83.54,458.07 83.27,458.61 82.95,459.03C82.63,459.44 82.21,459.80 81.80,460.03C81.38,460.25 80.89,460.38 80.44,460.38C79.99,460.38 79.50,460.25 79.08,460.03C78.67,459.80 78.25,459.44 77.93,459.03C77.61,458.61 77.34,458.07 77.17,457.52C76.99,456.98 76.90,456.34 76.90,455.75C76.90,455.16 76.99,454.53 77.17,453.98C77.34,453.44 77.61,452.90 77.93,452.48C78.25,452.07 78.67,451.71 79.08,451.48C79.50,451.25 79.99,451.13 80.44,451.13C80.89,451.13 81.38,451.25 81.80,451.48C82.21,451.71 82.63,452.07 82.95,452.48C83.27,452.90 83.54,453.44 83.71,453.98C83.89,454.53 83.98,455.16 83.98,455.75Z" fill="none" stroke="#222" stroke-width="0.50"/>
<path d="M83.70,455.82C83.70,456.36 83.61,456.93 83.46,457.43C83.30,457.92 83.05,458.41 82.76,458.78C82.47,459.16 82.10,459.49 81.72,459.69C81.34,459.90 80.90,460.01 80.49,460.01C80.08,460.01 79.64,459.90 79.27,459.69C78.89,459.49 78.52,459.16 78.23,458.78C77.94,458.41 77.69,457.92 77.53,457.43C77.37,456.93 77.29,456.36 77.29,455.82C77.29,455.29 77.37,454.72 77.53,454.22C77.69,453.73 77.94,453.24 78.23,452.87C78.52,452.49 78.89,452.16 79.27,451.96C79.64,451.75 80.08,451.64 80.49,451.64C80.90,451.64 81.34,451.75 81.72,451.96C82.10,452.16 82.47,452.49 82.76,452.87C83.05,453.24 83.30,453.73 83.46,454.22C83.61,454.72 83.70,455.29 83.70,455.82Z" fill="none" stroke="#222" stroke-width="0.50"/>
<path d="M83.42,455.90C83.42,456.37 83.34,456.89 83.20,457.33C83.06,457.77 82.84,458.21 82.58,458.55C82.32,458.88 81.98,459.18 81.65,459.36C81.31,459.54 80.91,459.65 80.55,459.65C80.18,459.65 79.79,459.54 79.45,459.36C79.11,459.18 78.77,458.88 78.51,458.55C78.26,458.21 78.03,457.77 77.89,457.33C77.75,456.89 77.67,456.37 77.67,455.90C77.67,455.42 77.75,454.90 77.89,454.46C78.03,454.02 78.26,453.58 78.51,453.24C78.77,452.91 79.11,452.61 79.45,452.43C79.79,452.25 80.18,452.15 80.55,452.15C80.91,452.15 81.31,452.25 81.65,452.43C81.98,452.61 82.32,452.91 82.58,453.24C82.84,453.58 83.06,454.02 83.20,454.46C83.34,454.90 83.42,455.42 83.42,455.90Z" fill="none" stroke="#222" stroke-width="0.50"/>
<path d="M83.14,455.96C83.14,456.39 83.07,456.84 82.95,457.24C82.82,457.63 82.63,458.01 82.40,458.31C82.17,458.61 81.87,458.87 81.57,459.03C81.27,459.19 80.92,459.28 80.60,459.28C80.27,459.28 79.92,459.19 79.63,459.03C79.33,458.87 79.03,458.61 78.80,458.31C78.57,458.01 78.37,457.63 78.25,457.24C78.12,456.84 78.05,456.39 78.05,455.96C78.05,455.54 78.12,455.09 78.25,454.69C78.37,454.30 78.57,453.92 78.80,453.62C79.03,453.32 79.33,453.06 79.63,452.90C79.92,452.74 80.27,452.64 80.60,452.64C80.92,452.64 81.27,452.74 81.57,452.90C81.87,453.06 82.17,453.32 82.40,453.62C82.63,453.92 82.82,454.30 82.95,454.69C83.07,455.09 83.14,455.54 83.14,455.96Z" fill="none" stroke="#222" stroke-width="0.50"/>
<path d="M82.87,456.03C82.87,456.40 82.81,456.80 82.70,457.14C82.59,457.48 82.42,457.82 82.22,458.08C82.02,458.34 81.76,458.57 81.50,458.71C81.24,458.85 80.93,458.93 80.65,458.93C80.37,458.93 80.06,458.85 79.80,458.71C79.54,458.57 79.28,458.34 79.08,458.08C78.88,457.82 78.71,457.48 78.60,457.14C78.49,456.80 78.43,456.40 78.43,456.03C78.43,455.66 78.49,455.27 78.60,454.93C78.71,454.58 78.88,454.25 79.08,453.99C79.28,453.72 79.54,453.50 79.80,453.36C80.06,453.22 80.37,453.14 80.65,453.14C80.93,453.14 81.24,453.22 81.50,453.36C81.76,453.50 82.02,453.72 82.22,453.99C82.42,454.25 82.59,454.58 82.70,454.93C82.81,455.27 82.87,455.66 82.87,456.03Z" fill="none" stroke="#222" stroke-width="0.50"/>
<path d="M82.60,456.10C82.60,456.42 82.55,456.76 82.45,457.05C82.36,457.34 82.21,457.63 82.04,457.85C81.87,458.07 81.65,458.27 81.43,458.39C81.20,458.51 80.94,458.58 80.70,458.58C80.46,458.58 80.20,458.51 79.97,458.39C79.75,458.27 79.53,458.07 79.36,457.85C79.19,457.63 79.04,457.34 78.95,457.05C78.86,456.76 78.80,456.42 78.80,456.10C78.80,455.79 78.86,455.45 78.95,455.15C79.04,454.86 79.19,454.57 79.36,454.35C79.53,454.13 79.75,453.93 79.97,453.81C80.20,453.69 80.46,453.63 80.70,453.63C80.94,453.63 81.20,453.69 81.43,453.81C81.65,453.93 81.87,454.13 82.04,454.35C82.21,454.57 82.36,454.86 82.45,455.15C82.55,455.45 82.60,455.79 82.60,456.10Z" fill="none" stroke="#222" stroke-width="0.50"/>
<path d="M82.33,456.17C82.33,456.43 82.29,456.71 82.21,456.96C82.13,457.20 82.01,457.44 81.87,457.62C81.72,457.81 81.54,457.97 81.35,458.07C81.17,458.17 80.95,458.23 80.75,458.23C80.55,458.23 80.33,458.17 80.15,458.07C79.96,457.97 79.78,457.81 79.64,457.62C79.49,457.44 79.37,457.20 79.29,456.96C79.22,456.71 79.17,456.43 79.17,456.17C79.17,455.91 79.22,455.62 79.29,455.38C79.37,455.14 79.49,454.90 79.64,454.71C79.78,454.53 79.96,454.37 80.15,454.27C80.33,454.16 80.55,454.11 80.75,454.11C80.95,454.11 81.17,454.16 81.35,454.27C81.54,454.37 81.72,454.53 81.87,454.71C82.01,454.90 82.13,455.14 82.21,455.38C82.29,455.62 82.33,455.91 82.33,456.17Z" fill="none" stroke="#222" stroke-width="0.50"/>
<path d="M82.06,456.23C82.06,456.44 82.03,456.67 81.97,456.86C81.91,457.06 81.81,457.25 81.69,457.40C81.58,457.55 81.43,457.68 81.28,457.76C81.13,457.84 80.96,457.88 80.80,457.88C80.64,457.88 80.47,457.84 80.32,457.76C80.17,457.68 80.02,457.55 79.91,457.40C79.79,457.25 79.70,457.06 79.63,456.86C79.57,456.67 79.54,456.44 79.54,456.23C79.54,456.02 79.57,455.80 79.63,455.60C79.70,455.41 79.79,455.22 79.91,455.07C80.02,454.92 80.17,454.79 80.32,454.71C80.47,454.63 80.64,454.59 80.80,454.59C80.96,454.59 81.13,454.63 81.28,454.71C81.43,454.79 81.58,454.92 81.69,455.07C81.81,455.22 81.91,455.41 81.97,455.60C82.03,455.80 82.06,456.02 82.06,456.23Z" fill="none" stroke="#222" stroke-width="0.50"/>
<path d="M75.5,432.5 C77.5,436.5 75.5,439.5 73.5,443.5 M84.5,432.5 C81.5,436.5 83.5,439.5 85.5,443.5" fill="none" stroke="#555" stroke-width="0.45"/>
<ellipse cx="207.50" cy="455.80" rx="8.24" ry="10.96" fill="#999"/>
<path d="M216.70,455.00C216.70,456.65 216.44,458.42 215.96,459.94C215.49,461.46 214.73,462.96 213.86,464.12C212.98,465.29 211.86,466.29 210.71,466.92C209.57,467.55 208.24,467.90 207.00,467.90C205.76,467.90 204.43,467.55 203.29,466.92C202.14,466.29 201.02,465.29 200.14,464.12C199.27,462.96 198.51,461.46 198.04,459.94C197.56,458.42 197.30,456.65 197.30,455.00C197.30,453.35 197.56,451.58 198.04,450.06C198.51,448.54 199.27,447.04 200.14,445.88C201.02,444.71 202.14,443.71 203.29,443.08C204.43,442.45 205.76,442.10 207.00,442.10C208.24,442.10 209.57,442.45 210.71,443.08C211.86,443.71 212.98,444.71 213.86,445.88C214.73,447.04 215.49,448.54 215.96,450.06C216.44,451.58 216.70,453.35 216.70,455.00Z" fill="none" stroke="#222" stroke-width="0.50"/>
<path d="M216.08,455.15C216.08,456.67 215.83,458.31 215.40,459.71C214.96,461.12 214.26,462.51 213.45,463.58C212.64,464.66 211.60,465.58 210.54,466.17C209.49,466.75 208.26,467.07 207.11,467.07C205.97,467.07 204.74,466.75 203.68,466.17C202.63,465.58 201.58,464.66 200.78,463.58C199.97,462.51 199.27,461.12 198.83,459.71C198.39,458.31 198.15,456.67 198.15,455.15C198.15,453.63 198.39,451.99 198.83,450.59C199.27,449.19 199.97,447.80 200.78,446.72C201.58,445.65 202.63,444.72 203.68,444.14C204.74,443.56 205.97,443.23 207.11,443.23C208.26,443.23 209.49,443.56 210.54,444.14C211.60,444.72 212.64,445.65 213.45,446.72C214.26,447.80 214.96,449.19 215.40,450.59C215.83,451.99 216.08,453.63 216.08,455.15Z" fill="none" stroke="#222" stroke-width="0.50"/>
<path d="M215.62,455.26C215.62,456.69 215.39,458.23 214.98,459.55C214.56,460.87 213.91,462.17 213.15,463.18C212.39,464.19 211.41,465.06 210.42,465.61C209.43,466.15 208.27,466.46 207.20,466.46C206.12,466.46 204.97,466.15 203.98,465.61C202.98,465.06 202.01,464.19 201.25,463.18C200.49,462.17 199.83,460.87 199.42,459.55C199.01,458.23 198.78,456.69 198.78,455.26C198.78,453.84 199.01,452.30 199.42,450.98C199.83,449.66 200.49,448.36 201.25,447.35C202.01,446.34 202.98,445.47 203.98,444.92C204.97,444.37 206.12,444.07 207.20,444.07C208.27,444.07 209.43,444.37 210.42,444.92C211.41,445.47 212.39,446.34 213.15,447.35C213.91,448.36 214.56,449.66 214.98,450.98C215.39,452.30 215.62,453.84 215.62,455.26Z" fill="none" stroke="#222" stroke-width="0.50"/>
<path d="M215.20,455.37C215.20,456.71 214.98,458.16 214.60,459.40C214.21,460.64 213.59,461.87 212.88,462.82C212.16,463.77 211.24,464.59 210.31,465.10C209.37,465.62 208.29,465.91 207.27,465.91C206.26,465.91 205.17,465.62 204.24,465.10C203.31,464.59 202.38,463.77 201.67,462.82C200.95,461.87 200.34,460.64 199.95,459.40C199.56,458.16 199.35,456.71 199.35,455.37C199.35,454.02 199.56,452.57 199.95,451.33C200.34,450.09 200.95,448.86 201.67,447.91C202.38,446.96 203.31,446.14 204.24,445.63C205.17,445.11 206.26,444.82 207.27,444.82C208.29,444.82 209.37,445.11 210.31,445.63C211.24,446.14 212.16,446.96 212.88,447.91C213.59,448.86 214.21,450.09 214.60,451.33C214.98,452.57 215.20,454.02 215.20,455.37Z" fill="none" stroke="#222" stroke-width="0.50"/>
<path d="M214.81,455.46C214.81,456.73 214.61,458.09 214.24,459.26C213.88,460.43 213.30,461.59 212.63,462.48C211.95,463.38 211.08,464.15 210.20,464.64C209.32,465.12 208.30,465.39 207.35,465.39C206.39,465.39 205.37,465.12 204.49,464.64C203.61,464.15 202.74,463.38 202.06,462.48C201.39,461.59 200.81,460.43 200.45,459.26C200.08,458.09 199.88,456.73 199.88,455.46C199.88,454.19 200.08,452.83 200.45,451.66C200.81,450.49 201.39,449.33 202.06,448.44C202.74,447.54 203.61,446.77 204.49,446.28C205.37,445.80 206.39,445.53 207.35,445.53C208.30,445.53 209.32,445.80 210.20,446.28C211.08,446.77 211.95,447.54 212.63,448.44C213.30,449.33 213.88,450.49 214.24,451.66C214.61,452.83 214.81,454.19 214.81,455.46Z" fill="none" stroke="#222" stroke-width="0.50"/>
<path d="M214.44,455.55C214.44,456.74 214.25,458.03 213.91,459.13C213.57,460.23 213.02,461.32 212.38,462.16C211.75,463.01 210.93,463.73 210.10,464.19C209.27,464.65 208.31,464.90 207.41,464.90C206.52,464.90 205.55,464.65 204.72,464.19C203.89,463.73 203.07,463.01 202.44,462.16C201.81,461.32 201.26,460.23 200.92,459.13C200.57,458.03 200.38,456.74 200.38,455.55C200.38,454.36 200.57,453.07 200.92,451.97C201.26,450.87 201.81,449.78 202.44,448.94C203.07,448.09 203.89,447.37 204.72,446.91C205.55,446.45 206.52,446.20 207.41,446.20C208.31,446.20 209.27,446.45 210.10,446.91C210.93,447.37 211.75,448.09 212.38,448.94C213.02,449.78 213.57,450.87 213.91,451.97C214.25,453.07 214.44,454.36 214.44,455.55Z" fill="none" stroke="#222" stroke-width="0.50"/>
<path d="M214.09,455.64C214.09,456.76 213.91,457.97 213.59,459.00C213.26,460.04 212.75,461.06 212.15,461.85C211.56,462.65 210.79,463.33 210.01,463.76C209.23,464.19 208.32,464.43 207.48,464.43C206.63,464.43 205.73,464.19 204.95,463.76C204.17,463.33 203.40,462.65 202.80,461.85C202.21,461.06 201.69,460.04 201.37,459.00C201.05,457.97 200.86,456.76 200.86,455.64C200.86,454.51 201.05,453.31 201.37,452.27C201.69,451.23 202.21,450.21 202.80,449.42C203.40,448.63 204.17,447.94 204.95,447.51C205.73,447.08 206.63,446.84 207.48,446.84C208.32,446.84 209.23,447.08 210.01,447.51C210.79,447.94 211.56,448.63 212.15,449.42C212.75,450.21 213.26,451.23 213.59,452.27C213.91,453.31 214.09,454.51 214.09,455.64Z" fill="none" stroke="#222" stroke-width="0.50"/>
<path d="M213.75,455.72C213.75,456.77 213.58,457.91 213.27,458.88C212.97,459.85 212.49,460.81 211.93,461.56C211.37,462.30 210.65,462.94 209.92,463.35C209.18,463.75 208.33,463.98 207.54,463.98C206.75,463.98 205.90,463.75 205.16,463.35C204.43,462.94 203.71,462.30 203.15,461.56C202.59,460.81 202.11,459.85 201.81,458.88C201.50,457.91 201.33,456.77 201.33,455.72C201.33,454.67 201.50,453.53 201.81,452.56C202.11,451.59 202.59,450.63 203.15,449.88C203.71,449.14 204.43,448.50 205.16,448.09C205.90,447.69 206.75,447.46 207.54,447.46C208.33,447.46 209.18,447.69 209.92,448.09C210.65,448.50 211.37,449.14 211.93,449.88C212.49,450.63 212.97,451.59 213.27,452.56C213.58,453.53 213.75,454.67 213.75,455.72Z" fill="none" stroke="#222" stroke-width="0.50"/>
<path d="M213.41,455.80C213.41,456.79 213.26,457.85 212.97,458.76C212.69,459.67 212.24,460.57 211.71,461.27C211.19,461.97 210.51,462.57 209.83,462.94C209.14,463.32 208.34,463.53 207.60,463.53C206.86,463.53 206.06,463.32 205.38,462.94C204.69,462.57 204.01,461.97 203.49,461.27C202.97,460.57 202.51,459.67 202.23,458.76C201.95,457.85 201.79,456.79 201.79,455.80C201.79,454.82 201.95,453.75 202.23,452.84C202.51,451.93 202.97,451.03 203.49,450.33C204.01,449.64 204.69,449.04 205.38,448.66C206.06,448.28 206.86,448.07 207.60,448.07C208.34,448.07 209.14,448.28 209.83,448.66C210.51,449.04 211.19,449.64 211.71,450.33C212.24,451.03 212.69,451.93 212.97,452.84C213.26,453.75 213.41,454.82 213.41,455.80Z" fill="none" stroke="#222" stroke-width="0.50"/>
<path d="M213.09,455.88C213.09,456.80 212.94,457.79 212.68,458.64C212.41,459.49 211.99,460.34 211.50,460.99C211.01,461.64 210.38,462.20 209.74,462.55C209.10,462.90 208.35,463.10 207.66,463.10C206.97,463.10 206.22,462.90 205.58,462.55C204.94,462.20 204.31,461.64 203.82,460.99C203.33,460.34 202.91,459.49 202.64,458.64C202.38,457.79 202.23,456.80 202.23,455.88C202.23,454.96 202.38,453.97 202.64,453.12C202.91,452.27 203.33,451.43 203.82,450.77C204.31,450.12 204.94,449.56 205.58,449.21C206.22,448.86 206.97,448.66 207.66,448.66C208.35,448.66 209.10,448.86 209.74,449.21C210.38,449.56 211.01,450.12 211.50,450.77C211.99,451.43 212.41,452.27 212.68,453.12C212.94,453.97 213.09,454.96 213.09,455.88Z" fill="none" stroke="#222" stroke-width="0.50"/>
<path d="M212.77,455.96C212.77,456.82 212.63,457.74 212.39,458.53C212.14,459.32 211.75,460.10 211.29,460.71C210.84,461.32 210.25,461.84 209.65,462.17C209.06,462.50 208.36,462.68 207.72,462.68C207.07,462.68 206.38,462.50 205.78,462.17C205.19,461.84 204.60,461.32 204.14,460.71C203.69,460.10 203.30,459.32 203.05,458.53C202.80,457.74 202.66,456.82 202.66,455.96C202.66,455.10 202.80,454.18 203.05,453.39C203.30,452.59 203.69,451.81 204.14,451.21C204.60,450.60 205.19,450.08 205.78,449.75C206.38,449.42 207.07,449.24 207.72,449.24C208.36,449.24 209.06,449.42 209.65,449.75C210.25,450.08 210.84,450.60 211.29,451.21C211.75,451.81 212.14,452.59 212.39,453.39C212.63,454.18 212.77,455.10 212.77,455.96Z" fill="none" stroke="#222" stroke-width="0.50"/>
<path d="M212.46,456.03C212.46,456.83 212.33,457.68 212.10,458.42C211.88,459.15 211.51,459.88 211.09,460.44C210.67,461.00 210.12,461.49 209.57,461.79C209.02,462.10 208.37,462.27 207.78,462.27C207.18,462.27 206.53,462.10 205.98,461.79C205.43,461.49 204.88,461.00 204.46,460.44C204.04,459.88 203.67,459.15 203.45,458.42C203.22,457.68 203.09,456.83 203.09,456.03C203.09,455.24 203.22,454.38 203.45,453.65C203.67,452.91 204.04,452.19 204.46,451.63C204.88,451.07 205.43,450.58 205.98,450.28C206.53,449.97 207.18,449.80 207.78,449.80C208.37,449.80 209.02,449.97 209.57,450.28C210.12,450.58 210.67,451.07 211.09,451.63C211.51,452.19 211.88,452.91 212.10,453.65C212.33,454.38 212.46,455.24 212.46,456.03Z" fill="none" stroke="#222" stroke-width="0.50"/>
<path d="M212.16,456.11C212.16,456.84 212.04,457.63 211.83,458.31C211.62,458.99 211.28,459.66 210.89,460.17C210.50,460.69 210.00,461.14 209.49,461.42C208.98,461.70 208.38,461.86 207.83,461.86C207.28,461.86 206.69,461.70 206.18,461.42C205.67,461.14 205.16,460.69 204.77,460.17C204.38,459.66 204.05,458.99 203.84,458.31C203.62,457.63 203.51,456.84 203.51,456.11C203.51,455.37 203.62,454.59 203.84,453.91C204.05,453.23 204.38,452.56 204.77,452.04C205.16,451.52 205.67,451.08 206.18,450.80C206.69,450.51 207.28,450.36 207.83,450.36C208.38,450.36 208.98,450.51 209.49,450.80C210.00,451.08 210.50,451.52 210.89,452.04C211.28,452.56 211.62,453.23 211.83,453.91C212.04,454.59 212.16,455.37 212.16,456.11Z" fill="none" stroke="#222" stroke-width="0.50"/>
<path d="M211.86,456.18C211.86,456.85 211.75,457.58 211.55,458.20C211.36,458.82 211.05,459.44 210.69,459.91C210.33,460.39 209.87,460.80 209.41,461.06C208.94,461.32 208.39,461.46 207.89,461.46C207.38,461.46 206.84,461.32 206.37,461.06C205.90,460.80 205.44,460.39 205.08,459.91C204.72,459.44 204.41,458.82 204.22,458.20C204.03,457.58 203.92,456.85 203.92,456.18C203.92,455.51 204.03,454.78 204.22,454.16C204.41,453.54 204.72,452.93 205.08,452.45C205.44,451.97 205.90,451.56 206.37,451.31C206.84,451.05 207.38,450.90 207.89,450.90C208.39,450.90 208.94,451.05 209.41,451.31C209.87,451.56 210.33,451.97 210.69,452.45C211.05,452.93 211.36,453.54 211.55,454.16C211.75,454.78 211.86,455.51 211.86,456.18Z" fill="none" stroke="#222" stroke-width="0.50"/>
<path d="M211.56,456.25C211.56,456.87 211.46,457.53 211.28,458.10C211.11,458.66 210.83,459.22 210.50,459.66C210.17,460.09 209.75,460.47 209.33,460.70C208.90,460.94 208.40,461.07 207.94,461.07C207.48,461.07 206.98,460.94 206.56,460.70C206.13,460.47 205.71,460.09 205.38,459.66C205.05,459.22 204.77,458.66 204.60,458.10C204.42,457.53 204.32,456.87 204.32,456.25C204.32,455.64 204.42,454.98 204.60,454.41C204.77,453.84 205.05,453.28 205.38,452.85C205.71,452.42 206.13,452.04 206.56,451.81C206.98,451.57 207.48,451.44 207.94,451.44C208.40,451.44 208.90,451.57 209.33,451.81C209.75,452.04 210.17,452.42 210.50,452.85C210.83,453.28 211.11,453.84 211.28,454.41C211.46,454.98 211.56,455.64 211.56,456.25Z" fill="none" stroke="#222" stroke-width="0.50"/>
<path d="M211.27,456.32C211.27,456.88 211.18,457.48 211.02,457.99C210.86,458.50 210.60,459.01 210.31,459.40C210.01,459.80 209.63,460.13 209.25,460.35C208.86,460.56 208.41,460.68 207.99,460.68C207.58,460.68 207.13,460.56 206.74,460.35C206.36,460.13 205.97,459.80 205.68,459.40C205.38,459.01 205.13,458.50 204.97,457.99C204.81,457.48 204.72,456.88 204.72,456.32C204.72,455.77 204.81,455.17 204.97,454.66C205.13,454.15 205.38,453.64 205.68,453.25C205.97,452.85 206.36,452.52 206.74,452.30C207.13,452.09 207.58,451.97 207.99,451.97C208.41,451.97 208.86,452.09 209.25,452.30C209.63,452.52 210.01,452.85 210.31,453.25C210.60,453.64 210.86,454.15 211.02,454.66C211.18,455.17 211.27,455.77 211.27,456.32Z" fill="none" stroke="#222" stroke-width="0.50"/>
<path d="M210.98,456.40C210.98,456.89 210.90,457.43 210.76,457.89C210.61,458.35 210.39,458.80 210.12,459.15C209.86,459.51 209.51,459.81 209.17,460.00C208.82,460.19 208.42,460.30 208.05,460.30C207.67,460.30 207.27,460.19 206.92,460.00C206.58,459.81 206.24,459.51 205.97,459.15C205.71,458.80 205.48,458.35 205.34,457.89C205.19,457.43 205.11,456.89 205.11,456.40C205.11,455.90 205.19,455.36 205.34,454.90C205.48,454.44 205.71,453.99 205.97,453.64C206.24,453.28 206.58,452.98 206.92,452.79C207.27,452.60 207.67,452.49 208.05,452.49C208.42,452.49 208.82,452.60 209.17,452.79C209.51,452.98 209.86,453.28 210.12,453.64C210.39,453.99 210.61,454.44 210.76,454.90C210.90,455.36 210.98,455.90 210.98,456.40Z" fill="none" stroke="#222" stroke-width="0.50"/>
<path d="M210.70,456.46C210.70,456.91 210.62,457.38 210.50,457.79C210.37,458.19 210.17,458.60 209.93,458.91C209.70,459.22 209.40,459.49 209.09,459.66C208.79,459.82 208.43,459.92 208.10,459.92C207.77,459.92 207.41,459.82 207.10,459.66C206.80,459.49 206.50,459.22 206.26,458.91C206.03,458.60 205.83,458.19 205.70,457.79C205.57,457.38 205.50,456.91 205.50,456.46C205.50,456.02 205.57,455.55 205.70,455.14C205.83,454.74 206.03,454.33 206.26,454.02C206.50,453.71 206.80,453.44 207.10,453.27C207.41,453.10 207.77,453.01 208.10,453.01C208.43,453.01 208.79,453.10 209.09,453.27C209.40,453.44 209.70,453.71 209.93,454.02C210.17,454.33 210.37,454.74 210.50,455.14C210.62,455.55 210.70,456.02 210.70,456.46Z" fill="none" stroke="#222" stroke-width="0.50"/>
<path d="M210.41,456.53C210.41,456.92 210.35,457.33 210.24,457.69C210.13,458.04 209.96,458.39 209.75,458.66C209.55,458.93 209.28,459.17 209.02,459.32C208.75,459.46 208.44,459.54 208.15,459.54C207.86,459.54 207.55,459.46 207.28,459.32C207.02,459.17 206.75,458.93 206.55,458.66C206.34,458.39 206.17,458.04 206.06,457.69C205.95,457.33 205.89,456.92 205.89,456.53C205.89,456.15 205.95,455.74 206.06,455.38C206.17,455.03 206.34,454.67 206.55,454.40C206.75,454.13 207.02,453.90 207.28,453.75C207.55,453.60 207.86,453.52 208.15,453.52C208.44,453.52 208.75,453.60 209.02,453.75C209.28,453.90 209.55,454.13 209.75,454.40C209.96,454.67 210.13,455.03 210.24,455.38C210.35,455.74 210.41,456.15 210.41,456.53Z" fill="none" stroke="#222" stroke-width="0.50"/>
<path d="M210.14,456.60C210.14,456.93 210.08,457.28 209.99,457.59C209.89,457.89 209.74,458.19 209.57,458.42C209.40,458.65 209.17,458.85 208.94,458.98C208.71,459.11 208.45,459.18 208.20,459.18C207.95,459.18 207.69,459.11 207.46,458.98C207.23,458.85 207.01,458.65 206.83,458.42C206.66,458.19 206.51,457.89 206.41,457.59C206.32,457.28 206.26,456.93 206.26,456.60C206.26,456.27 206.32,455.92 206.41,455.62C206.51,455.31 206.66,455.01 206.83,454.78C207.01,454.55 207.23,454.35 207.46,454.22C207.69,454.10 207.95,454.03 208.20,454.03C208.45,454.03 208.71,454.10 208.94,454.22C209.17,454.35 209.40,454.55 209.57,454.78C209.74,455.01 209.89,455.31 209.99,455.62C210.08,455.92 210.14,456.27 210.14,456.60Z" fill="none" stroke="#222" stroke-width="0.50"/>
<path d="M209.86,456.67C209.86,456.94 209.82,457.24 209.74,457.49C209.66,457.74 209.54,457.99 209.39,458.18C209.24,458.38 209.06,458.54 208.87,458.65C208.68,458.75 208.46,458.81 208.25,458.81C208.05,458.81 207.82,458.75 207.63,458.65C207.44,458.54 207.26,458.38 207.11,458.18C206.97,457.99 206.84,457.74 206.76,457.49C206.68,457.24 206.64,456.94 206.64,456.67C206.64,456.39 206.68,456.10 206.76,455.85C206.84,455.60 206.97,455.35 207.11,455.15C207.26,454.96 207.44,454.79 207.63,454.69C207.82,454.58 208.05,454.53 208.25,454.53C208.46,454.53 208.68,454.58 208.87,454.69C209.06,454.79 209.24,454.96 209.39,455.15C209.54,455.35 209.66,455.60 209.74,455.85C209.82,456.10 209.86,456.39 209.86,456.67Z" fill="none" stroke="#222" stroke-width="0.50"/>
<path d="M209.59,456.73C209.59,456.95 209.55,457.19 209.49,457.39C209.43,457.59 209.33,457.79 209.21,457.95C209.10,458.10 208.95,458.23 208.79,458.32C208.64,458.40 208.47,458.45 208.30,458.45C208.14,458.45 207.96,458.40 207.81,458.32C207.66,458.23 207.51,458.10 207.39,457.95C207.27,457.79 207.17,457.59 207.11,457.39C207.05,457.19 207.01,456.95 207.01,456.73C207.01,456.52 207.05,456.28 207.11,456.08C207.17,455.88 207.27,455.68 207.39,455.52C207.51,455.37 207.66,455.23 207.81,455.15C207.96,455.07 208.14,455.02 208.30,455.02C208.47,455.02 208.64,455.07 208.79,455.15C208.95,455.23 209.10,455.37 209.21,455.52C209.33,455.68 209.43,455.88 209.49,456.08C209.55,456.28 209.59,456.52 209.59,456.73Z" fill="none" stroke="#222" stroke-width="0.50"/>
<path d="M203.0,433.0 C205.0,437.0 203.0,440.0 201.0,444.0 M212.0,433.0 C209.0,437.0 211.0,440.0 213.0,444.0" fill="none" stroke="#555" stroke-width="0.45"/>
<ellipse cx="337.50" cy="454.80" rx="6.63" ry="9.09" fill="#999"/>
<path d="M344.80,454.00C344.80,455.36 344.59,456.83 344.21,458.09C343.83,459.36 343.22,460.60 342.52,461.57C341.81,462.53 340.90,463.36 339.98,463.89C339.07,464.41 337.99,464.70 337.00,464.70C336.01,464.70 334.93,464.41 334.02,463.89C333.10,463.36 332.19,462.53 331.48,461.57C330.78,460.60 330.17,459.36 329.79,458.09C329.41,456.83 329.20,455.36 329.20,454.00C329.20,452.64 329.41,451.17 329.79,449.91C330.17,448.64 330.78,447.40 331.48,446.43C332.19,445.47 333.10,444.64 334.02,444.11C334.93,443.59 336.01,443.30 337.00,443.30C337.99,443.30 339.07,443.59 339.98,444.11C340.90,444.64 341.81,445.47 342.52,446.43C343.22,447.40 343.83,448.64 344.21,449.91C344.59,451.17 344.80,452.64 344.80,454.00Z" fill="none" stroke="#222" stroke-width="0.50"/>
<path d="M344.32,454.15C344.32,455.41 344.12,456.77 343.77,457.94C343.42,459.10 342.86,460.25 342.21,461.14C341.56,462.04 340.72,462.80 339.87,463.29C339.02,463.77 338.03,464.04 337.11,464.04C336.19,464.04 335.20,463.77 334.36,463.29C333.51,462.80 332.67,462.04 332.02,461.14C331.37,460.25 330.81,459.10 330.45,457.94C330.10,456.77 329.91,455.41 329.91,454.15C329.91,452.89 330.10,451.53 330.45,450.37C330.81,449.20 331.37,448.05 332.02,447.16C332.67,446.27 333.51,445.50 334.36,445.02C335.20,444.53 336.19,444.26 337.11,444.26C338.03,444.26 339.02,444.53 339.87,445.02C340.72,445.50 341.56,446.27 342.21,447.16C342.86,448.05 343.42,449.20 343.77,450.37C344.12,451.53 344.32,452.89 344.32,454.15Z" fill="none" stroke="#222" stroke-width="0.50"/>
<path d="M343.97,454.26C343.97,455.45 343.78,456.72 343.45,457.82C343.12,458.91 342.60,459.99 341.98,460.83C341.37,461.67 340.59,462.39 339.79,462.84C338.99,463.30 338.06,463.55 337.20,463.55C336.33,463.55 335.41,463.30 334.61,462.84C333.81,462.39 333.02,461.67 332.41,460.83C331.80,459.99 331.27,458.91 330.94,457.82C330.61,456.72 330.43,455.45 330.43,454.26C330.43,453.08 330.61,451.81 330.94,450.71C331.27,449.62 331.80,448.54 332.41,447.70C333.02,446.86 333.81,446.14 334.61,445.69C335.41,445.23 336.33,444.98 337.20,444.98C338.06,444.98 338.99,445.23 339.79,445.69C340.59,446.14 341.37,446.86 341.98,447.70C342.60,448.54 343.12,449.62 343.45,450.71C343.78,451.81 343.97,453.08 343.97,454.26Z" fill="none" stroke="#222" stroke-width="0.50"/>
<path d="M343.65,454.37C343.65,455.48 343.47,456.68 343.16,457.71C342.85,458.74 342.36,459.76 341.78,460.55C341.21,461.34 340.46,462.02 339.71,462.44C338.96,462.87 338.09,463.11 337.27,463.11C336.46,463.11 335.59,462.87 334.83,462.44C334.08,462.02 333.34,461.34 332.77,460.55C332.19,459.76 331.70,458.74 331.39,457.71C331.07,456.68 330.90,455.48 330.90,454.37C330.90,453.25 331.07,452.05 331.39,451.02C331.70,449.99 332.19,448.97 332.77,448.18C333.34,447.39 334.08,446.71 334.83,446.29C335.59,445.86 336.46,445.62 337.27,445.62C338.09,445.62 338.96,445.86 339.71,446.29C340.46,446.71 341.21,447.39 341.78,448.18C342.36,448.97 342.85,449.99 343.16,451.02C343.47,452.05 343.65,453.25 343.65,454.37Z" fill="none" stroke="#222" stroke-width="0.50"/>
<path d="M343.35,454.46C343.35,455.51 343.19,456.64 342.89,457.61C342.60,458.58 342.13,459.54 341.59,460.29C341.05,461.03 340.35,461.67 339.64,462.07C338.94,462.47 338.11,462.70 337.35,462.70C336.58,462.70 335.75,462.47 335.05,462.07C334.34,461.67 333.64,461.03 333.10,460.29C332.56,459.54 332.09,458.58 331.80,457.61C331.50,456.64 331.34,455.51 331.34,454.46C331.34,453.41 331.50,452.28 331.80,451.31C332.09,450.34 332.56,449.38 333.10,448.64C333.64,447.89 334.34,447.25 335.05,446.85C335.75,446.45 336.58,446.22 337.35,446.22C338.11,446.22 338.94,446.45 339.64,446.85C340.35,447.25 341.05,447.89 341.59,448.64C342.13,449.38 342.60,450.34 342.89,451.31C343.19,452.28 343.35,453.41 343.35,454.46Z" fill="none" stroke="#222" stroke-width="0.50"/>
<path d="M343.07,454.55C343.07,455.54 342.91,456.60 342.64,457.52C342.36,458.43 341.92,459.34 341.41,460.03C340.90,460.73 340.24,461.34 339.58,461.72C338.91,462.09 338.13,462.31 337.41,462.31C336.69,462.31 335.92,462.09 335.25,461.72C334.58,461.34 333.92,460.73 333.41,460.03C332.90,459.34 332.46,458.43 332.19,457.52C331.91,456.60 331.76,455.54 331.76,454.55C331.76,453.56 331.91,452.50 332.19,451.58C332.46,450.67 332.90,449.77 333.41,449.07C333.92,448.37 334.58,447.76 335.25,447.38C335.92,447.01 336.69,446.79 337.41,446.79C338.13,446.79 338.91,447.01 339.58,447.38C340.24,447.76 340.90,448.37 341.41,449.07C341.92,449.77 342.36,450.67 342.64,451.58C342.91,452.50 343.07,453.56 343.07,454.55Z" fill="none" stroke="#222" stroke-width="0.50"/>
<path d="M342.79,454.64C342.79,455.57 342.65,456.57 342.39,457.43C342.13,458.29 341.72,459.14 341.24,459.79C340.76,460.45 340.14,461.02 339.51,461.38C338.89,461.73 338.16,461.93 337.48,461.93C336.80,461.93 336.07,461.73 335.44,461.38C334.82,461.02 334.20,460.45 333.72,459.79C333.24,459.14 332.82,458.29 332.56,457.43C332.31,456.57 332.16,455.57 332.16,454.64C332.16,453.71 332.31,452.70 332.56,451.85C332.82,450.99 333.24,450.14 333.72,449.48C334.20,448.82 334.82,448.25 335.44,447.90C336.07,447.54 336.80,447.34 337.48,447.34C338.16,447.34 338.89,447.54 339.51,447.90C340.14,448.25 340.76,448.82 341.24,449.48C341.72,450.14 342.13,450.99 342.39,451.85C342.65,452.70 342.79,453.71 342.79,454.64Z" fill="none" stroke="#222" stroke-width="0.50"/>
<path d="M342.53,454.72C342.53,455.59 342.40,456.53 342.15,457.34C341.91,458.15 341.52,458.94 341.07,459.56C340.62,460.18 340.04,460.71 339.45,461.05C338.86,461.38 338.18,461.57 337.54,461.57C336.90,461.57 336.22,461.38 335.63,461.05C335.04,460.71 334.46,460.18 334.01,459.56C333.56,458.94 333.17,458.15 332.93,457.34C332.68,456.53 332.55,455.59 332.55,454.72C332.55,453.85 332.68,452.91 332.93,452.10C333.17,451.29 333.56,450.50 334.01,449.88C334.46,449.26 335.04,448.73 335.63,448.39C336.22,448.06 336.90,447.87 337.54,447.87C338.18,447.87 338.86,448.06 339.45,448.39C340.04,448.73 340.62,449.26 341.07,449.88C341.52,450.50 341.91,451.29 342.15,452.10C342.40,452.91 342.53,453.85 342.53,454.72Z" fill="none" stroke="#222" stroke-width="0.50"/>
<path d="M342.28,454.80C342.28,455.62 342.15,456.50 341.92,457.26C341.69,458.01 341.33,458.76 340.91,459.34C340.48,459.91 339.94,460.41 339.39,460.73C338.84,461.04 338.20,461.21 337.60,461.21C337.00,461.21 336.36,461.04 335.81,460.73C335.26,460.41 334.72,459.91 334.30,459.34C333.87,458.76 333.51,458.01 333.28,457.26C333.05,456.50 332.93,455.62 332.93,454.80C332.93,453.98 333.05,453.10 333.28,452.35C333.51,451.59 333.87,450.85 334.30,450.27C334.72,449.69 335.26,449.19 335.81,448.88C336.36,448.56 337.00,448.39 337.60,448.39C338.20,448.39 338.84,448.56 339.39,448.88C339.94,449.19 340.48,449.69 340.91,450.27C341.33,450.85 341.69,451.59 341.92,452.35C342.15,453.10 342.28,453.98 342.28,454.80Z" fill="none" stroke="#222" stroke-width="0.50"/>
<path d="M342.03,454.88C342.03,455.64 341.91,456.47 341.69,457.17C341.48,457.88 341.14,458.58 340.75,459.12C340.35,459.66 339.85,460.12 339.33,460.41C338.82,460.71 338.22,460.87 337.66,460.87C337.10,460.87 336.50,460.71 335.99,460.41C335.48,460.12 334.97,459.66 334.57,459.12C334.18,458.58 333.84,457.88 333.63,457.17C333.41,456.47 333.29,455.64 333.29,454.88C333.29,454.12 333.41,453.29 333.63,452.59C333.84,451.88 334.18,451.19 334.57,450.65C334.97,450.11 335.48,449.64 335.99,449.35C336.50,449.05 337.10,448.89 337.66,448.89C338.22,448.89 338.82,449.05 339.33,449.35C339.85,449.64 340.35,450.11 340.75,450.65C341.14,451.19 341.48,451.88 341.69,452.59C341.91,453.29 342.03,454.12 342.03,454.88Z" fill="none" stroke="#222" stroke-width="0.50"/>
<path d="M341.78,454.96C341.78,455.67 341.67,456.43 341.47,457.09C341.27,457.75 340.96,458.40 340.59,458.90C340.23,459.40 339.75,459.84 339.27,460.11C338.79,460.38 338.24,460.53 337.72,460.53C337.20,460.53 336.64,460.38 336.16,460.11C335.68,459.84 335.21,459.40 334.84,458.90C334.48,458.40 334.16,457.75 333.96,457.09C333.77,456.43 333.65,455.67 333.65,454.96C333.65,454.25 333.77,453.48 333.96,452.82C334.16,452.17 334.48,451.52 334.84,451.02C335.21,450.51 335.68,450.08 336.16,449.81C336.64,449.54 337.20,449.38 337.72,449.38C338.24,449.38 338.79,449.54 339.27,449.81C339.75,450.08 340.23,450.51 340.59,451.02C340.96,451.52 341.27,452.17 341.47,452.82C341.67,453.48 341.78,454.25 341.78,454.96Z" fill="none" stroke="#222" stroke-width="0.50"/>
<path d="M341.54,455.03C341.54,455.69 341.44,456.40 341.26,457.01C341.07,457.62 340.78,458.22 340.44,458.69C340.10,459.16 339.66,459.56 339.22,459.81C338.77,460.06 338.26,460.20 337.78,460.20C337.29,460.20 336.78,460.06 336.33,459.81C335.89,459.56 335.45,459.16 335.11,458.69C334.77,458.22 334.48,457.62 334.29,457.01C334.11,456.40 334.01,455.69 334.01,455.03C334.01,454.37 334.11,453.66 334.29,453.06C334.48,452.45 334.77,451.85 335.11,451.38C335.45,450.91 335.89,450.51 336.33,450.26C336.78,450.01 337.29,449.86 337.78,449.86C338.26,449.86 338.77,450.01 339.22,450.26C339.66,450.51 340.10,450.91 340.44,451.38C340.78,451.85 341.07,452.45 341.26,453.06C341.44,453.66 341.54,454.37 341.54,455.03Z" fill="none" stroke="#222" stroke-width="0.50"/>
<path d="M341.31,455.11C341.31,455.72 341.21,456.37 341.04,456.93C340.87,457.50 340.60,458.05 340.29,458.48C339.98,458.91 339.57,459.28 339.16,459.52C338.75,459.75 338.27,459.88 337.83,459.88C337.39,459.88 336.91,459.75 336.50,459.52C336.09,459.28 335.69,458.91 335.37,458.48C335.06,458.05 334.79,457.50 334.62,456.93C334.45,456.37 334.35,455.72 334.35,455.11C334.35,454.50 334.45,453.85 334.62,453.28C334.79,452.72 335.06,452.17 335.37,451.74C335.69,451.30 336.09,450.93 336.50,450.70C336.91,450.47 337.39,450.34 337.83,450.34C338.27,450.34 338.75,450.47 339.16,450.70C339.57,450.93 339.98,451.30 340.29,451.74C340.60,452.17 340.87,452.72 341.04,453.28C341.21,453.85 341.31,454.50 341.31,455.11Z" fill="none" stroke="#222" stroke-width="0.50"/>
<path d="M341.08,455.18C341.08,455.74 340.99,456.34 340.83,456.86C340.68,457.37 340.43,457.88 340.14,458.28C339.86,458.67 339.48,459.01 339.11,459.23C338.73,459.44 338.29,459.56 337.89,459.56C337.48,459.56 337.04,459.44 336.66,459.23C336.29,459.01 335.92,458.67 335.63,458.28C335.34,457.88 335.09,457.37 334.94,456.86C334.78,456.34 334.69,455.74 334.69,455.18C334.69,454.62 334.78,454.02 334.94,453.51C335.09,452.99 335.34,452.48 335.63,452.09C335.92,451.69 336.29,451.35 336.66,451.14C337.04,450.92 337.48,450.80 337.89,450.80C338.29,450.80 338.73,450.92 339.11,451.14C339.48,451.35 339.86,451.69 340.14,452.09C340.43,452.48 340.68,452.99 340.83,453.51C340.99,454.02 341.08,454.62 341.08,455.18Z" fill="none" stroke="#222" stroke-width="0.50"/>
<path d="M340.85,455.25C340.85,455.76 340.77,456.31 340.63,456.78C340.49,457.25 340.26,457.72 340.00,458.08C339.74,458.44 339.40,458.75 339.05,458.94C338.71,459.14 338.31,459.25 337.94,459.25C337.57,459.25 337.17,459.14 336.83,458.94C336.48,458.75 336.15,458.44 335.88,458.08C335.62,457.72 335.39,457.25 335.25,456.78C335.11,456.31 335.03,455.76 335.03,455.25C335.03,454.74 335.11,454.20 335.25,453.73C335.39,453.26 335.62,452.79 335.88,452.43C336.15,452.07 336.48,451.76 336.83,451.57C337.17,451.37 337.57,451.26 337.94,451.26C338.31,451.26 338.71,451.37 339.05,451.57C339.40,451.76 339.74,452.07 340.00,452.43C340.26,452.79 340.49,453.26 340.63,453.73C340.77,454.20 340.85,454.74 340.85,455.25Z" fill="none" stroke="#222" stroke-width="0.50"/>
<path d="M340.63,455.32C340.63,455.79 340.55,456.28 340.43,456.71C340.30,457.13 340.09,457.55 339.86,457.88C339.62,458.20 339.31,458.49 339.00,458.66C338.69,458.84 338.33,458.94 337.99,458.94C337.66,458.94 337.30,458.84 336.99,458.66C336.68,458.49 336.37,458.20 336.13,457.88C335.89,457.55 335.69,457.13 335.56,456.71C335.43,456.28 335.36,455.79 335.36,455.32C335.36,454.86 335.43,454.37 335.56,453.94C335.69,453.52 335.89,453.10 336.13,452.77C336.37,452.45 336.68,452.16 336.99,451.99C337.30,451.81 337.66,451.71 337.99,451.71C338.33,451.71 338.69,451.81 339.00,451.99C339.31,452.16 339.62,452.45 339.86,452.77C340.09,453.10 340.30,453.52 340.43,453.94C340.55,454.37 340.63,454.86 340.63,455.32Z" fill="none" stroke="#222" stroke-width="0.50"/>
<path d="M340.41,455.40C340.41,455.81 340.34,456.25 340.23,456.63C340.11,457.01 339.93,457.39 339.71,457.68C339.50,457.98 339.23,458.23 338.95,458.38C338.67,458.54 338.35,458.63 338.05,458.63C337.75,458.63 337.42,458.54 337.14,458.38C336.87,458.23 336.59,457.98 336.38,457.68C336.17,457.39 335.98,457.01 335.87,456.63C335.75,456.25 335.69,455.81 335.69,455.40C335.69,454.98 335.75,454.54 335.87,454.16C335.98,453.78 336.17,453.40 336.38,453.11C336.59,452.82 336.87,452.56 337.14,452.41C337.42,452.25 337.75,452.16 338.05,452.16C338.35,452.16 338.67,452.25 338.95,452.41C339.23,452.56 339.50,452.82 339.71,453.11C339.93,453.40 340.11,453.78 340.23,454.16C340.34,454.54 340.41,454.98 340.41,455.40Z" fill="none" stroke="#222" stroke-width="0.50"/>
<path d="M340.19,455.46C340.19,455.83 340.13,456.22 340.03,456.56C339.93,456.90 339.76,457.23 339.58,457.49C339.39,457.75 339.14,457.97 338.90,458.11C338.65,458.25 338.36,458.33 338.10,458.33C337.83,458.33 337.55,458.25 337.30,458.11C337.05,457.97 336.81,457.75 336.62,457.49C336.43,457.23 336.27,456.90 336.17,456.56C336.07,456.22 336.01,455.83 336.01,455.46C336.01,455.10 336.07,454.71 336.17,454.37C336.27,454.03 336.43,453.70 336.62,453.44C336.81,453.18 337.05,452.96 337.30,452.82C337.55,452.68 337.83,452.60 338.10,452.60C338.36,452.60 338.65,452.68 338.90,452.82C339.14,452.96 339.39,453.18 339.58,453.44C339.76,453.70 339.93,454.03 340.03,454.37C340.13,454.71 340.19,455.10 340.19,455.46Z" fill="none" stroke="#222" stroke-width="0.50"/>
<path d="M339.97,455.53C339.97,455.85 339.92,456.19 339.83,456.49C339.74,456.78 339.60,457.07 339.44,457.30C339.27,457.52 339.06,457.72 338.85,457.84C338.63,457.96 338.38,458.03 338.15,458.03C337.92,458.03 337.67,457.96 337.45,457.84C337.24,457.72 337.03,457.52 336.86,457.30C336.70,457.07 336.56,456.78 336.47,456.49C336.38,456.19 336.33,455.85 336.33,455.53C336.33,455.21 336.38,454.87 336.47,454.58C336.56,454.28 336.70,453.99 336.86,453.77C337.03,453.54 337.24,453.35 337.45,453.22C337.67,453.10 337.92,453.03 338.15,453.03C338.38,453.03 338.63,453.10 338.85,453.22C339.06,453.35 339.27,453.54 339.44,453.77C339.60,453.99 339.74,454.28 339.83,454.58C339.92,454.87 339.97,455.21 339.97,455.53Z" fill="none" stroke="#222" stroke-width="0.50"/>
<path d="M339.76,455.60C339.76,455.87 339.71,456.17 339.64,456.42C339.56,456.67 339.44,456.92 339.30,457.11C339.16,457.30 338.98,457.47 338.80,457.57C338.61,457.68 338.40,457.74 338.20,457.74C338.00,457.74 337.79,457.68 337.60,457.57C337.42,457.47 337.24,457.30 337.10,457.11C336.96,456.92 336.84,456.67 336.76,456.42C336.69,456.17 336.64,455.87 336.64,455.60C336.64,455.33 336.69,455.04 336.76,454.78C336.84,454.53 336.96,454.28 337.10,454.09C337.24,453.90 337.42,453.73 337.60,453.63C337.79,453.52 338.00,453.47 338.20,453.47C338.40,453.47 338.61,453.52 338.80,453.63C338.98,453.73 339.16,453.90 339.30,454.09C339.44,454.28 339.56,454.53 339.64,454.78C339.71,455.04 339.76,455.33 339.76,455.60Z" fill="none" stroke="#222" stroke-width="0.50"/>
<path d="M339.55,455.67C339.55,455.89 339.51,456.14 339.45,456.35C339.38,456.56 339.28,456.76 339.17,456.92C339.05,457.08 338.90,457.22 338.75,457.31C338.59,457.40 338.42,457.44 338.25,457.44C338.09,457.44 337.91,457.40 337.76,457.31C337.60,457.22 337.45,457.08 337.33,456.92C337.22,456.76 337.12,456.56 337.05,456.35C336.99,456.14 336.96,455.89 336.96,455.67C336.96,455.44 336.99,455.20 337.05,454.99C337.12,454.78 337.22,454.57 337.33,454.41C337.45,454.25 337.60,454.11 337.76,454.03C337.91,453.94 338.09,453.89 338.25,453.89C338.42,453.89 338.59,453.94 338.75,454.03C338.90,454.11 339.05,454.25 339.17,454.41C339.28,454.57 339.38,454.78 339.45,454.99C339.51,455.20 339.55,455.44 339.55,455.67Z" fill="none" stroke="#222" stroke-width="0.50"/>
<path d="M339.34,455.73C339.34,455.92 339.31,456.11 339.26,456.28C339.21,456.45 339.13,456.61 339.03,456.74C338.94,456.87 338.82,456.98 338.70,457.05C338.58,457.12 338.43,457.16 338.30,457.16C338.17,457.16 338.03,457.12 337.90,457.05C337.78,456.98 337.66,456.87 337.57,456.74C337.47,456.61 337.39,456.45 337.34,456.28C337.29,456.11 337.26,455.92 337.26,455.73C337.26,455.55 337.29,455.36 337.34,455.19C337.39,455.02 337.47,454.86 337.57,454.73C337.66,454.60 337.78,454.49 337.90,454.42C338.03,454.35 338.17,454.31 338.30,454.31C338.43,454.31 338.58,454.35 338.70,454.42C338.82,454.49 338.94,454.60 339.03,454.73C339.13,454.86 339.21,455.02 339.26,455.19C339.31,455.36 339.34,455.55 339.34,455.73Z" fill="none" stroke="#222" stroke-width="0.50"/>
<path d="M333.0,432.0 C335.0,436.0 333.0,439.0 331.0,443.0 M342.0,432.0 C339.0,436.0 341.0,439.0 343.0,443.0" fill="none" stroke="#555" stroke-width="0.45"/>
<ellipse cx="465.50" cy="455.80" rx="7.31" ry="10.03" fill="#999"/>
<path d="M473.60,455.00C473.60,456.51 473.37,458.13 472.95,459.52C472.53,460.91 471.86,462.28 471.08,463.34C470.31,464.41 469.30,465.33 468.29,465.90C467.28,466.48 466.10,466.80 465.00,466.80C463.90,466.80 462.72,466.48 461.71,465.90C460.70,465.33 459.69,464.41 458.92,463.34C458.14,462.28 457.47,460.91 457.05,459.52C456.63,458.13 456.40,456.51 456.40,455.00C456.40,453.49 456.63,451.87 457.05,450.48C457.47,449.09 458.14,447.72 458.92,446.66C459.69,445.59 460.70,444.67 461.71,444.10C462.72,443.52 463.90,443.20 465.00,443.20C466.10,443.20 467.28,443.52 468.29,444.10C469.30,444.67 470.31,445.59 471.08,446.66C471.86,447.72 472.53,449.09 472.95,450.48C473.37,451.87 473.60,453.49 473.60,455.00Z" fill="none" stroke="#222" stroke-width="0.50"/>
<path d="M473.06,455.15C473.06,456.54 472.84,458.04 472.46,459.32C472.07,460.61 471.45,461.88 470.73,462.86C470.02,463.85 469.09,464.69 468.16,465.23C467.22,465.76 466.13,466.06 465.11,466.06C464.10,466.06 463.01,465.76 462.07,465.23C461.14,464.69 460.21,463.85 459.49,462.86C458.78,461.88 458.16,460.61 457.77,459.32C457.38,458.04 457.17,456.54 457.17,455.15C457.17,453.76 457.38,452.26 457.77,450.98C458.16,449.69 458.78,448.42 459.49,447.44C460.21,446.46 461.14,445.61 462.07,445.08C463.01,444.55 464.10,444.25 465.11,444.25C466.13,444.25 467.22,444.55 468.16,445.08C469.09,445.61 470.02,446.46 470.73,447.44C471.45,448.42 472.07,449.69 472.46,450.98C472.84,452.26 473.06,453.76 473.06,455.15Z" fill="none" stroke="#222" stroke-width="0.50"/>
<path d="M472.66,455.26C472.66,456.57 472.46,457.98 472.09,459.18C471.73,460.39 471.15,461.58 470.48,462.51C469.80,463.43 468.93,464.23 468.05,464.73C467.17,465.23 466.15,465.50 465.20,465.50C464.25,465.50 463.22,465.23 462.34,464.73C461.46,464.23 460.59,463.43 459.92,462.51C459.25,461.58 458.67,460.39 458.30,459.18C457.94,457.98 457.73,456.57 457.73,455.26C457.73,453.96 457.94,452.55 458.30,451.35C458.67,450.14 459.25,448.95 459.92,448.02C460.59,447.10 461.46,446.30 462.34,445.80C463.22,445.30 464.25,445.02 465.20,445.02C466.15,445.02 467.17,445.30 468.05,445.80C468.93,446.30 469.80,447.10 470.48,448.02C471.15,448.95 471.73,450.14 472.09,451.35C472.46,452.55 472.66,453.96 472.66,455.26Z" fill="none" stroke="#222" stroke-width="0.50"/>
<path d="M472.30,455.37C472.30,456.60 472.11,457.92 471.77,459.06C471.42,460.19 470.88,461.31 470.24,462.18C469.61,463.05 468.79,463.80 467.96,464.27C467.14,464.75 466.17,465.01 465.27,465.01C464.38,465.01 463.41,464.75 462.58,464.27C461.76,463.80 460.94,463.05 460.30,462.18C459.67,461.31 459.12,460.19 458.78,459.06C458.44,457.92 458.25,456.60 458.25,455.37C458.25,454.14 458.44,452.81 458.78,451.68C459.12,450.54 459.67,449.42 460.30,448.55C460.94,447.68 461.76,446.93 462.58,446.46C463.41,445.99 464.38,445.72 465.27,445.72C466.17,445.72 467.14,445.99 467.96,446.46C468.79,446.93 469.61,447.68 470.24,448.55C470.88,449.42 471.42,450.54 471.77,451.68C472.11,452.81 472.30,454.14 472.30,455.37Z" fill="none" stroke="#222" stroke-width="0.50"/>
<path d="M471.97,455.46C471.97,456.62 471.79,457.87 471.46,458.94C471.14,460.01 470.62,461.06 470.03,461.88C469.43,462.70 468.66,463.41 467.88,463.85C467.10,464.30 466.19,464.54 465.35,464.54C464.50,464.54 463.59,464.30 462.81,463.85C462.03,463.41 461.26,462.70 460.66,461.88C460.07,461.06 459.55,460.01 459.23,458.94C458.90,457.87 458.72,456.62 458.72,455.46C458.72,454.30 458.90,453.05 459.23,451.98C459.55,450.91 460.07,449.86 460.66,449.04C461.26,448.22 462.03,447.51 462.81,447.07C463.59,446.62 464.50,446.38 465.35,446.38C466.19,446.38 467.10,446.62 467.88,447.07C468.66,447.51 469.43,448.22 470.03,449.04C470.62,449.86 471.14,450.91 471.46,451.98C471.79,453.05 471.97,454.30 471.97,455.46Z" fill="none" stroke="#222" stroke-width="0.50"/>
<path d="M471.65,455.55C471.65,456.64 471.48,457.82 471.17,458.82C470.87,459.83 470.38,460.83 469.82,461.60C469.26,462.37 468.53,463.04 467.80,463.45C467.06,463.87 466.21,464.10 465.41,464.10C464.62,464.10 463.76,463.87 463.03,463.45C462.29,463.04 461.57,462.37 461.00,461.60C460.44,460.83 459.96,459.83 459.65,458.82C459.35,457.82 459.18,456.64 459.18,455.55C459.18,454.46 459.35,453.28 459.65,452.28C459.96,451.27 460.44,450.27 461.00,449.50C461.57,448.73 462.29,448.06 463.03,447.65C463.76,447.23 464.62,447.00 465.41,447.00C466.21,447.00 467.06,447.23 467.80,447.65C468.53,448.06 469.26,448.73 469.82,449.50C470.38,450.27 470.87,451.27 471.17,452.28C471.48,453.28 471.65,454.46 471.65,455.55Z" fill="none" stroke="#222" stroke-width="0.50"/>
<path d="M471.34,455.64C471.34,456.66 471.18,457.77 470.89,458.71C470.61,459.66 470.15,460.60 469.62,461.32C469.09,462.05 468.41,462.68 467.72,463.07C467.03,463.46 466.23,463.68 465.48,463.68C464.73,463.68 463.92,463.46 463.23,463.07C462.54,462.68 461.86,462.05 461.33,461.32C460.80,460.60 460.35,459.66 460.06,458.71C459.77,457.77 459.61,456.66 459.61,455.64C459.61,454.61 459.77,453.51 460.06,452.56C460.35,451.61 460.80,450.67 461.33,449.95C461.86,449.22 462.54,448.60 463.23,448.20C463.92,447.81 464.73,447.59 465.48,447.59C466.23,447.59 467.03,447.81 467.72,448.20C468.41,448.60 469.09,449.22 469.62,449.95C470.15,450.67 470.61,451.61 470.89,452.56C471.18,453.51 471.34,454.61 471.34,455.64Z" fill="none" stroke="#222" stroke-width="0.50"/>
<path d="M471.04,455.72C471.04,456.68 470.89,457.72 470.62,458.61C470.36,459.50 469.93,460.38 469.43,461.06C468.94,461.74 468.29,462.33 467.65,462.70C467.00,463.07 466.24,463.27 465.54,463.27C464.84,463.27 464.08,463.07 463.43,462.70C462.79,462.33 462.14,461.74 461.65,461.06C461.15,460.38 460.72,459.50 460.46,458.61C460.19,457.72 460.04,456.68 460.04,455.72C460.04,454.76 460.19,453.72 460.46,452.83C460.72,451.94 461.15,451.06 461.65,450.38C462.14,449.70 462.79,449.11 463.43,448.74C464.08,448.38 464.84,448.17 465.54,448.17C466.24,448.17 467.00,448.38 467.65,448.74C468.29,449.11 468.94,449.70 469.43,450.38C469.93,451.06 470.36,451.94 470.62,452.83C470.89,453.72 471.04,454.76 471.04,455.72Z" fill="none" stroke="#222" stroke-width="0.50"/>
<path d="M470.76,455.80C470.76,456.70 470.61,457.67 470.36,458.51C470.11,459.34 469.71,460.16 469.25,460.80C468.78,461.44 468.18,461.99 467.57,462.34C466.97,462.68 466.26,462.87 465.60,462.87C464.94,462.87 464.24,462.68 463.63,462.34C463.02,461.99 462.42,461.44 461.96,460.80C461.49,460.16 461.09,459.34 460.84,458.51C460.59,457.67 460.45,456.70 460.45,455.80C460.45,454.90 460.59,453.93 460.84,453.09C461.09,452.26 461.49,451.44 461.96,450.80C462.42,450.16 463.02,449.61 463.63,449.27C464.24,448.92 464.94,448.73 465.60,448.73C466.26,448.73 466.97,448.92 467.57,449.27C468.18,449.61 468.78,450.16 469.25,450.80C469.71,451.44 470.11,452.26 470.36,453.09C470.61,453.93 470.76,454.90 470.76,455.80Z" fill="none" stroke="#222" stroke-width="0.50"/>
<path d="M470.47,455.88C470.47,456.72 470.34,457.63 470.11,458.41C469.87,459.19 469.50,459.96 469.06,460.55C468.63,461.15 468.07,461.66 467.50,461.98C466.94,462.31 466.27,462.49 465.66,462.49C465.05,462.49 464.39,462.31 463.82,461.98C463.25,461.66 462.69,461.15 462.26,460.55C461.82,459.96 461.45,459.19 461.21,458.41C460.98,457.63 460.85,456.72 460.85,455.88C460.85,455.04 460.98,454.13 461.21,453.35C461.45,452.57 461.82,451.81 462.26,451.21C462.69,450.61 463.25,450.10 463.82,449.78C464.39,449.46 465.05,449.28 465.66,449.28C466.27,449.28 466.94,449.46 467.50,449.78C468.07,450.10 468.63,450.61 469.06,451.21C469.50,451.81 469.87,452.57 470.11,453.35C470.34,454.13 470.47,455.04 470.47,455.88Z" fill="none" stroke="#222" stroke-width="0.50"/>
<path d="M470.20,455.96C470.20,456.74 470.08,457.59 469.86,458.31C469.64,459.04 469.29,459.75 468.89,460.31C468.48,460.86 467.96,461.34 467.43,461.64C466.91,461.94 466.29,462.11 465.72,462.11C465.15,462.11 464.53,461.94 464.00,461.64C463.48,461.34 462.95,460.86 462.55,460.31C462.15,459.75 461.80,459.04 461.58,458.31C461.36,457.59 461.24,456.74 461.24,455.96C461.24,455.17 461.36,454.33 461.58,453.61C461.80,452.88 462.15,452.17 462.55,451.61C462.95,451.06 463.48,450.58 464.00,450.28C464.53,449.98 465.15,449.81 465.72,449.81C466.29,449.81 466.91,449.98 467.43,450.28C467.96,450.58 468.48,451.06 468.89,451.61C469.29,452.17 469.64,452.88 469.86,453.61C470.08,454.33 470.20,455.17 470.20,455.96Z" fill="none" stroke="#222" stroke-width="0.50"/>
<path d="M469.93,456.03C469.93,456.76 469.82,457.54 469.61,458.22C469.41,458.89 469.09,459.55 468.71,460.06C468.34,460.58 467.85,461.02 467.37,461.30C466.88,461.58 466.31,461.73 465.78,461.73C465.25,461.73 464.68,461.58 464.19,461.30C463.70,461.02 463.21,460.58 462.84,460.06C462.46,459.55 462.14,458.89 461.94,458.22C461.73,457.54 461.62,456.76 461.62,456.03C461.62,455.31 461.73,454.52 461.94,453.85C462.14,453.18 462.46,452.52 462.84,452.00C463.21,451.49 463.70,451.05 464.19,450.77C464.68,450.49 465.25,450.33 465.78,450.33C466.31,450.33 466.88,450.49 467.37,450.77C467.85,451.05 468.34,451.49 468.71,452.00C469.09,452.52 469.41,453.18 469.61,453.85C469.82,454.52 469.93,455.31 469.93,456.03Z" fill="none" stroke="#222" stroke-width="0.50"/>
<path d="M469.67,456.11C469.67,456.78 469.56,457.50 469.37,458.12C469.19,458.74 468.89,459.35 468.54,459.83C468.20,460.30 467.75,460.71 467.30,460.97C466.85,461.23 466.32,461.37 465.83,461.37C465.34,461.37 464.82,461.23 464.36,460.97C463.91,460.71 463.47,460.30 463.12,459.83C462.77,459.35 462.48,458.74 462.29,458.12C462.10,457.50 462.00,456.78 462.00,456.11C462.00,455.44 462.10,454.72 462.29,454.10C462.48,453.48 462.77,452.86 463.12,452.39C463.47,451.91 463.91,451.50 464.36,451.25C464.82,450.99 465.34,450.85 465.83,450.85C466.32,450.85 466.85,450.99 467.30,451.25C467.75,451.50 468.20,451.91 468.54,452.39C468.89,452.86 469.19,453.48 469.37,454.10C469.56,454.72 469.67,455.44 469.67,456.11Z" fill="none" stroke="#222" stroke-width="0.50"/>
<path d="M469.41,456.18C469.41,456.80 469.31,457.46 469.14,458.03C468.97,458.60 468.69,459.16 468.37,459.60C468.06,460.03 467.65,460.41 467.23,460.64C466.82,460.88 466.34,461.01 465.89,461.01C465.44,461.01 464.95,460.88 464.54,460.64C464.12,460.41 463.72,460.03 463.40,459.60C463.08,459.16 462.81,458.60 462.64,458.03C462.46,457.46 462.37,456.80 462.37,456.18C462.37,455.57 462.46,454.90 462.64,454.33C462.81,453.76 463.08,453.20 463.40,452.77C463.72,452.33 464.12,451.96 464.54,451.72C464.95,451.49 465.44,451.35 465.89,451.35C466.34,451.35 466.82,451.49 467.23,451.72C467.65,451.96 468.06,452.33 468.37,452.77C468.69,453.20 468.97,453.76 469.14,454.33C469.31,454.90 469.41,455.57 469.41,456.18Z" fill="none" stroke="#222" stroke-width="0.50"/>
<path d="M469.15,456.25C469.15,456.82 469.06,457.42 468.90,457.94C468.75,458.46 468.50,458.97 468.21,459.37C467.92,459.76 467.55,460.11 467.17,460.32C466.79,460.54 466.35,460.66 465.94,460.66C465.53,460.66 465.09,460.54 464.71,460.32C464.33,460.11 463.96,459.76 463.67,459.37C463.38,458.97 463.13,458.46 462.98,457.94C462.82,457.42 462.73,456.82 462.73,456.25C462.73,455.69 462.82,455.09 462.98,454.57C463.13,454.05 463.38,453.54 463.67,453.14C463.96,452.74 464.33,452.40 464.71,452.19C465.09,451.97 465.53,451.85 465.94,451.85C466.35,451.85 466.79,451.97 467.17,452.19C467.55,452.40 467.92,452.74 468.21,453.14C468.50,453.54 468.75,454.05 468.90,454.57C469.06,455.09 469.15,455.69 469.15,456.25Z" fill="none" stroke="#222" stroke-width="0.50"/>
<path d="M468.90,456.32C468.90,456.83 468.82,457.38 468.68,457.85C468.53,458.32 468.31,458.78 468.05,459.14C467.78,459.50 467.45,459.81 467.10,460.00C466.76,460.20 466.36,460.31 465.99,460.31C465.62,460.31 465.23,460.20 464.88,460.00C464.54,459.81 464.20,459.50 463.94,459.14C463.68,458.78 463.45,458.32 463.31,457.85C463.17,457.38 463.09,456.83 463.09,456.32C463.09,455.82 463.17,455.27 463.31,454.80C463.45,454.33 463.68,453.87 463.94,453.51C464.20,453.15 464.54,452.84 464.88,452.65C465.23,452.45 465.62,452.34 465.99,452.34C466.36,452.34 466.76,452.45 467.10,452.65C467.45,452.84 467.78,453.15 468.05,453.51C468.31,453.87 468.53,454.33 468.68,454.80C468.82,455.27 468.90,455.82 468.90,456.32Z" fill="none" stroke="#222" stroke-width="0.50"/>
<path d="M468.65,456.40C468.65,456.85 468.58,457.34 468.45,457.76C468.32,458.18 468.12,458.60 467.89,458.92C467.65,459.24 467.35,459.52 467.04,459.69C466.74,459.87 466.38,459.96 466.05,459.96C465.71,459.96 465.36,459.87 465.05,459.69C464.74,459.52 464.44,459.24 464.21,458.92C463.97,458.60 463.77,458.18 463.64,457.76C463.52,457.34 463.45,456.85 463.45,456.40C463.45,455.94 463.52,455.45 463.64,455.03C463.77,454.61 463.97,454.19 464.21,453.87C464.44,453.55 464.74,453.27 465.05,453.10C465.36,452.92 465.71,452.83 466.05,452.83C466.38,452.83 466.74,452.92 467.04,453.10C467.35,453.27 467.65,453.55 467.89,453.87C468.12,454.19 468.32,454.61 468.45,455.03C468.58,455.45 468.65,455.94 468.65,456.40Z" fill="none" stroke="#222" stroke-width="0.50"/>
<path d="M468.40,456.46C468.40,456.87 468.34,457.30 468.23,457.67C468.11,458.05 467.93,458.41 467.73,458.70C467.52,458.98 467.25,459.23 466.98,459.38C466.71,459.54 466.39,459.62 466.10,459.62C465.80,459.62 465.49,459.54 465.22,459.38C464.95,459.23 464.68,458.98 464.47,458.70C464.26,458.41 464.08,458.05 463.97,457.67C463.86,457.30 463.80,456.87 463.80,456.46C463.80,456.06 463.86,455.63 463.97,455.26C464.08,454.88 464.26,454.52 464.47,454.23C464.68,453.95 464.95,453.70 465.22,453.55C465.49,453.39 465.80,453.31 466.10,453.31C466.39,453.31 466.71,453.39 466.98,453.55C467.25,453.70 467.52,453.95 467.73,454.23C467.93,454.52 468.11,454.88 468.23,455.26C468.34,455.63 468.40,456.06 468.40,456.46Z" fill="none" stroke="#222" stroke-width="0.50"/>
<path d="M468.16,456.53C468.16,456.88 468.10,457.26 468.00,457.59C467.91,457.91 467.75,458.23 467.57,458.48C467.39,458.73 467.15,458.94 466.92,459.08C466.68,459.21 466.41,459.29 466.15,459.29C465.89,459.29 465.62,459.21 465.38,459.08C465.14,458.94 464.91,458.73 464.73,458.48C464.55,458.23 464.39,457.91 464.29,457.59C464.20,457.26 464.14,456.88 464.14,456.53C464.14,456.18 464.20,455.80 464.29,455.48C464.39,455.15 464.55,454.83 464.73,454.58C464.91,454.34 465.14,454.12 465.38,453.99C465.62,453.85 465.89,453.78 466.15,453.78C466.41,453.78 466.68,453.85 466.92,453.99C467.15,454.12 467.39,454.34 467.57,454.58C467.75,454.83 467.91,455.15 468.00,455.48C468.10,455.80 468.16,456.18 468.16,456.53Z" fill="none" stroke="#222" stroke-width="0.50"/>
<path d="M467.92,456.60C467.92,456.90 467.87,457.22 467.79,457.50C467.70,457.78 467.57,458.05 467.41,458.27C467.26,458.48 467.06,458.66 466.86,458.78C466.66,458.89 466.42,458.96 466.20,458.96C465.98,458.96 465.75,458.89 465.54,458.78C465.34,458.66 465.14,458.48 464.99,458.27C464.83,458.05 464.70,457.78 464.61,457.50C464.53,457.22 464.48,456.90 464.48,456.60C464.48,456.30 464.53,455.98 464.61,455.70C464.70,455.42 464.83,455.15 464.99,454.94C465.14,454.72 465.34,454.54 465.54,454.42C465.75,454.31 465.98,454.25 466.20,454.25C466.42,454.25 466.66,454.31 466.86,454.42C467.06,454.54 467.26,454.72 467.41,454.94C467.57,455.15 467.70,455.42 467.79,455.70C467.87,455.98 467.92,456.30 467.92,456.60Z" fill="none" stroke="#222" stroke-width="0.50"/>
<path d="M467.68,456.67C467.68,456.92 467.64,457.19 467.57,457.42C467.50,457.65 467.39,457.88 467.26,458.05C467.13,458.23 466.97,458.38 466.80,458.48C466.63,458.57 466.43,458.63 466.25,458.63C466.07,458.63 465.87,458.57 465.70,458.48C465.54,458.38 465.37,458.23 465.24,458.05C465.11,457.88 465.00,457.65 464.93,457.42C464.86,457.19 464.82,456.92 464.82,456.67C464.82,456.42 464.86,456.15 464.93,455.92C465.00,455.69 465.11,455.46 465.24,455.28C465.37,455.11 465.54,454.95 465.70,454.86C465.87,454.76 466.07,454.71 466.25,454.71C466.43,454.71 466.63,454.76 466.80,454.86C466.97,454.95 467.13,455.11 467.26,455.28C467.39,455.46 467.50,455.69 467.57,455.92C467.64,456.15 467.68,456.42 467.68,456.67Z" fill="none" stroke="#222" stroke-width="0.50"/>
<path d="M467.44,456.73C467.44,456.93 467.41,457.15 467.36,457.33C467.30,457.52 467.21,457.70 467.11,457.84C467.01,457.98 466.87,458.11 466.74,458.18C466.60,458.26 466.45,458.30 466.30,458.30C466.15,458.30 466.00,458.26 465.86,458.18C465.73,458.11 465.60,457.98 465.49,457.84C465.39,457.70 465.30,457.52 465.24,457.33C465.19,457.15 465.16,456.93 465.16,456.73C465.16,456.53 465.19,456.32 465.24,456.13C465.30,455.95 465.39,455.77 465.49,455.63C465.60,455.48 465.73,455.36 465.86,455.29C466.00,455.21 466.15,455.17 466.30,455.17C466.45,455.17 466.60,455.21 466.74,455.29C466.87,455.36 467.01,455.48 467.11,455.63C467.21,455.77 467.30,455.95 467.36,456.13C467.41,456.32 467.44,456.53 467.44,456.73Z" fill="none" stroke="#222" stroke-width="0.50"/>
<path d="M461.0,433.0 C463.0,437.0 461.0,440.0 459.0,444.0 M470.0,433.0 C467.0,437.0 469.0,440.0 471.0,444.0" fill="none" stroke="#555" stroke-width="0.45"/>
<path d="M56 401.5h1M69 418.5h1M57 416.5h1M67 417.5h1M66 432.5h1M52 413.5h1M60 420.5h1M57 434.5h1M66 417.5h1M53 412.5h1M63 416.5h1M53 415.5h1M64 426.5h1M69 420.5h1M55 415.5h1M53 421.5h1M60 411.5h1M70 416.5h1M54 417.5h1M67 410.5h1M60 418.5h1M55 415.5h1" stroke="#8a8a8a" stroke-width="1" fill="none"/>
<path d="M103 389.5h1M98 382.5h1M93 382.5h1M107 393.5h1M87 389.5h1M108 385.5h1M88 388.5h1M93 396.5h1M91 390.5h1M88 389.5h1M98 394.5h1M90 393.5h1M103 385.5h1M108 397.5h1M101 390.5h1M95 392.5h1M96 393.5h1M98 391.5h1M87 383.5h1M96 399.5h1M102 395.5h1M93 384.5h1M93 383.5h1M72 391.5h1M90 394.5h1M101 395.5h1M83 382.5h1M104 389.5h1M98 396.5h1M95 387.5h1" stroke="#8a8a8a" stroke-width="1" fill="none"/>
<path d="M76 434.5h1M82 439.5h1M76 434.5h1M81 442.5h1M90 441.5h1M85 434.5h1M81 440.5h1M78 439.5h1M78 442.5h1M81 434.5h1M79 441.5h1M83 438.5h1M74 435.5h1M80 435.5h1M78 440.5h1M77 437.5h1M76 437.5h1M82 442.5h1M80 434.5h1M77 439.5h1M81 438.5h1M84 442.5h1M84 439.5h1M81 437.5h1M87 435.5h1" stroke="#8a8a8a" stroke-width="1" fill="none"/>
<path d="M196 420.5h1M194 408.5h1M181 416.5h1M195 421.5h1M195 429.5h1M183 417.5h1M189 425.5h1M203 426.5h1M189 421.5h1M199 415.5h1M184 410.5h1M175 416.5h1M190 423.5h1M186 414.5h1M191 427.5h1M197 394.5h1M196 409.5h1M190 413.5h1M194 427.5h1M195 411.5h1M205 403.5h1M202 405.5h1M183 415.5h1M197 422.5h1M190 408.5h1M187 416.5h1M193 408.5h1M198 419.5h1M201 413.5h1M192 422.5h1M189 409.5h1M204 416.5h1M190 415.5h1M192 413.5h1M194 409.5h1M188 421.5h1M196 406.5h1M195 420.5h1M197 413.5h1M203 407.5h1" stroke="#8a8a8a" stroke-width="1" fill="none"/>
<path d="M220 393.5h1M219 388.5h1M227 386.5h1M221 376.5h1M221 399.5h1M219 395.5h1M220 385.5h1M223 384.5h1M233 395.5h1M233 395.5h1M228 392.5h1M232 385.5h1M219 390.5h1M224 385.5h1M234 388.5h1M227 391.5h1M216 386.5h1M224 389.5h1M223 373.5h1M226 384.5h1M218 398.5h1M206 397.5h1M222 397.5h1M224 376.5h1M213 391.5h1M228 380.5h1M223 382.5h1M232 393.5h1M226 391.5h1M222 390.5h1" stroke="#8a8a8a" stroke-width="1" fill="none"/>
<path d="M214 437.5h1M204 440.5h1M217 438.5h1M210 431.5h1M216 439.5h1M211 442.5h1M205 442.5h1M210 433.5h1M204 440.5h1M214 440.5h1M211 434.5h1M207 432.5h1M212 431.5h1M205 442.5h1M205 429.5h1M207 442.5h1M207 432.5h1M211 438.5h1M212 435.5h1M206 440.5h1M219 431.5h1M213 430.5h1M214 435.5h1M210 435.5h1M214 437.5h1" stroke="#8a8a8a" stroke-width="1" fill="none"/>
<path d="M240 447.5h1M243 446.5h1M241 449.5h1M243 466.5h1M245 461.5h1M241 456.5h1M235 447.5h1M245 447.5h1M237 454.5h1M229 435.5h1M237 460.5h1M244 437.5h1M235 429.5h1M240 455.5h1M258 460.5h1M242 470.5h1M235 435.5h1M232 473.5h1M249 460.5h1M240 451.5h1M230 457.5h1M239 470.5h1M239 434.5h1M247 452.5h1M241 453.5h1M230 447.5h1M234 429.5h1M247 465.5h1M231 454.5h1M224 473.5h1M250 433.5h1M250 458.5h1M241 445.5h1M226 454.5h1M239 472.5h1M244 456.5h1M247 459.5h1M242 450.5h1M234 445.5h1M236 459.5h1M246 472.5h1M245 445.5h1M243 447.5h1M238 447.5h1M235 440.5h1M247 438.5h1M247 469.5h1M231 455.5h1M228 470.5h1M237 461.5h1M229 458.5h1M233 451.5h1M223 460.5h1M231 457.5h1M239 459.5h1M249 446.5h1M230 459.5h1M250 465.5h1M245 448.5h1M249 462.5h1M226 457.5h1M242 456.5h1M253 454.5h1M244 468.5h1M253 468.5h1M238 456.5h1M233 470.5h1M228 435.5h1M232 457.5h1M239 456.5h1" stroke="#8a8a8a" stroke-width="1" fill="none"/>
<path d="M313 413.5h1M318 421.5h1M326 430.5h1M316 407.5h1M327 413.5h1M326 410.5h1M320 404.5h1M330 411.5h1M328 415.5h1M324 423.5h1M334 421.5h1M317 424.5h1M326 411.5h1M321 413.5h1M318 418.5h1M321 422.5h1M313 419.5h1M330 418.5h1M326 418.5h1M316 423.5h1M323 414.5h1M321 404.5h1M327 425.5h1M314 427.5h1M331 406.5h1M321 405.5h1M319 424.5h1M315 425.5h1M326 410.5h1M309 423.5h1M317 422.5h1M325 430.5h1M325 429.5h1M315 412.5h1M330 414.5h1" stroke="#8a8a8a" stroke-width="1" fill="none"/>
<path d="M368 390.5h1M353 392.5h1M367 387.5h1M350 390.5h1M345 390.5h1M356 383.5h1M351 385.5h1M360 383.5h1M359 395.5h1M353 381.5h1M355 395.5h1M359 388.5h1M362 386.5h1M361 397.5h1M352 399.5h1M348 388.5h1M350 386.5h1M355 393.5h1M354 391.5h1M346 377.5h1M356 392.5h1M361 391.5h1M356 385.5h1M348 386.5h1M348 390.5h1M358 392.5h1M355 393.5h1M366 387.5h1M353 387.5h1M353 389.5h1" stroke="#8a8a8a" stroke-width="1" fill="none"/>
<path d="M349 440.5h1M344 435.5h1M340 440.5h1M342 438.5h1M341 437.5h1M347 444.5h1M333 446.5h1M338 433.5h1M342 434.5h1M337 429.5h1M335 431.5h1M345 433.5h1M343 436.5h1M336 440.5h1M333 433.5h1M335 439.5h1M332 438.5h1M336 435.5h1M330 440.5h1M342 438.5h1M347 437.5h1M341 431.5h1M340 433.5h1M336 438.5h1M348 441.5h1" stroke="#8a8a8a" stroke-width="1" fill="none"/>
<path d="M358 456.5h1M356 448.5h1M363 462.5h1M360 434.5h1M360 447.5h1M360 447.5h1M371 450.5h1M361 447.5h1M364 459.5h1M347 435.5h1" stroke="#8a8a8a" stroke-width="1" fill="none"/>
<path d="M455 421.5h1M446 419.5h1M454 415.5h1M447 414.5h1M452 416.5h1M451 419.5h1M461 418.5h1M449 411.5h1M440 418.5h1M457 408.5h1M445 418.5h1M440 419.5h1M444 433.5h1M448 418.5h1M454 421.5h1M445 419.5h1M449 413.5h1M442 422.5h1M453 411.5h1M453 419.5h1M436 410.5h1M456 424.5h1M447 422.5h1M445 417.5h1M448 422.5h1" stroke="#8a8a8a" stroke-width="1" fill="none"/>
<path d="M497 393.5h1M483 395.5h1M488 397.5h1M490 393.5h1M484 404.5h1M482 393.5h1M484 386.5h1M488 391.5h1M487 389.5h1M488 385.5h1M473 381.5h1M482 381.5h1M505 386.5h1M481 394.5h1M470 388.5h1M490 388.5h1M497 403.5h1M479 394.5h1M480 399.5h1M477 394.5h1M486 389.5h1M489 406.5h1M496 392.5h1M496 395.5h1M483 375.5h1" stroke="#8a8a8a" stroke-width="1" fill="none"/>
<path d="M469 435.5h1M462 442.5h1M474 431.5h1M475 435.5h1M475 440.5h1M469 430.5h1M475 432.5h1M464 438.5h1M469 435.5h1M464 434.5h1M469 437.5h1M458 434.5h1M474 440.5h1M470 432.5h1M469 438.5h1M470 435.5h1M466 434.5h1M466 427.5h1M470 447.5h1M462 434.5h1M463 435.5h1M477 442.5h1M460 447.5h1M468 436.5h1M472 436.5h1" stroke="#8a8a8a" stroke-width="1" fill="none"/>
<rect x="71.40" y="371.60" width="56.60" height="61.40" fill="none" stroke="#3a3a3a" stroke-width="0.9"/>
<rect x="40.70" y="433.00" width="51.60" height="45.80" fill="none" stroke="#3a3a3a" stroke-width="0.9"/>
<rect x="79.00" y="395.30" width="40.00" height="15.5" fill="#fff" fill-opacity="0.78"/>
<text x="99.00" y="401.50" font-size="5.00" text-anchor="middle" font-weight="bold" fill="#222" letter-spacing="0.38">F4-80+CD11b+</text>
<text x="99.00" y="407.70" font-size="5.00" text-anchor="middle" font-weight="bold" fill="#222" >46.9</text>
<rect x="47.30" y="448.40" width="37.00" height="15.5" fill="#fff" fill-opacity="0.78"/>
<text x="65.80" y="454.60" font-size="5.00" text-anchor="middle" font-weight="bold" fill="#222" letter-spacing="0.30">F4-80-CD11b-</text>
<text x="65.80" y="460.80" font-size="5.00" text-anchor="middle" font-weight="bold" fill="#222" >52.6</text>
<rect x="199.80" y="371.60" width="55.90" height="61.40" fill="none" stroke="#3a3a3a" stroke-width="0.9"/>
<rect x="168.20" y="433.00" width="52.20" height="45.80" fill="none" stroke="#3a3a3a" stroke-width="0.9"/>
<rect x="208.00" y="395.30" width="40.00" height="15.5" fill="#fff" fill-opacity="0.78"/>
<text x="228.00" y="401.50" font-size="5.00" text-anchor="middle" font-weight="bold" fill="#222" letter-spacing="0.38">F4-80+CD11b+</text>
<text x="228.00" y="407.70" font-size="5.00" text-anchor="middle" font-weight="bold" fill="#222" >45.0</text>
<rect x="176.30" y="448.40" width="37.00" height="15.5" fill="#fff" fill-opacity="0.78"/>
<text x="194.80" y="454.60" font-size="5.00" text-anchor="middle" font-weight="bold" fill="#222" letter-spacing="0.30">F4-80-CD11b-</text>
<text x="194.80" y="460.80" font-size="5.00" text-anchor="middle" font-weight="bold" fill="#222" >52.6</text>
<rect x="329.40" y="371.60" width="56.60" height="61.40" fill="none" stroke="#3a3a3a" stroke-width="0.9"/>
<rect x="297.90" y="433.00" width="51.50" height="45.80" fill="none" stroke="#3a3a3a" stroke-width="0.9"/>
<rect x="337.00" y="395.30" width="40.00" height="15.5" fill="#fff" fill-opacity="0.78"/>
<text x="357.00" y="401.50" font-size="5.00" text-anchor="middle" font-weight="bold" fill="#222" letter-spacing="0.38">F4-80+CD11b+</text>
<text x="357.00" y="407.70" font-size="5.00" text-anchor="middle" font-weight="bold" fill="#222" >65.2</text>
<rect x="305.30" y="448.40" width="37.00" height="15.5" fill="#fff" fill-opacity="0.78"/>
<text x="323.80" y="454.60" font-size="5.00" text-anchor="middle" font-weight="bold" fill="#222" letter-spacing="0.30">F4-80-CD11b-</text>
<text x="323.80" y="460.80" font-size="5.00" text-anchor="middle" font-weight="bold" fill="#222" >34.0</text>
<rect x="458.40" y="371.60" width="56.60" height="61.40" fill="none" stroke="#3a3a3a" stroke-width="0.9"/>
<rect x="427.30" y="433.00" width="51.10" height="45.80" fill="none" stroke="#3a3a3a" stroke-width="0.9"/>
<rect x="466.00" y="395.30" width="40.00" height="15.5" fill="#fff" fill-opacity="0.78"/>
<text x="486.00" y="401.50" font-size="5.00" text-anchor="middle" font-weight="bold" fill="#222" letter-spacing="0.38">F4-80+CD11b+</text>
<text x="486.00" y="407.70" font-size="5.00" text-anchor="middle" font-weight="bold" fill="#222" >55.2</text>
<rect x="434.30" y="448.40" width="37.00" height="15.5" fill="#fff" fill-opacity="0.78"/>
<text x="452.80" y="454.60" font-size="5.00" text-anchor="middle" font-weight="bold" fill="#222" letter-spacing="0.30">F4-80-CD11b-</text>
<text x="452.80" y="460.80" font-size="5.00" text-anchor="middle" font-weight="bold" fill="#222" >44.1</text>
<rect x="58.80" y="162.80" width="4.6" height="1.5" fill="#111"/>
<rect x="58.80" y="321.80" width="4.6" height="1.5" fill="#111"/>
<rect x="74.40" y="482.20" width="4.6" height="1.5" fill="#111"/>
<rect x="32.80" y="292.6" width="2.8" height="4.6" fill="#111"/>
<rect x="32.80" y="453.2" width="2.8" height="4.8" fill="#111"/>
<rect x="187.80" y="162.80" width="4.6" height="1.5" fill="#111"/>
<rect x="187.80" y="321.80" width="4.6" height="1.5" fill="#111"/>
<rect x="203.40" y="482.20" width="4.6" height="1.5" fill="#111"/>
<rect x="161.80" y="292.6" width="2.8" height="4.6" fill="#111"/>
<rect x="161.80" y="453.2" width="2.8" height="4.8" fill="#111"/>
<rect x="316.80" y="162.80" width="4.6" height="1.5" fill="#111"/>
<rect x="316.80" y="321.80" width="4.6" height="1.5" fill="#111"/>
<rect x="332.40" y="482.20" width="4.6" height="1.5" fill="#111"/>
<rect x="290.80" y="292.6" width="2.8" height="4.6" fill="#111"/>
<rect x="290.80" y="453.2" width="2.8" height="4.8" fill="#111"/>
<rect x="445.80" y="162.80" width="4.6" height="1.5" fill="#111"/>
<rect x="445.80" y="321.80" width="4.6" height="1.5" fill="#111"/>
<rect x="461.40" y="482.20" width="4.6" height="1.5" fill="#111"/>
<rect x="419.80" y="292.6" width="2.8" height="4.6" fill="#111"/>
<rect x="419.80" y="453.2" width="2.8" height="4.8" fill="#111"/>
<path d="M14.4,62.60 V156.20" stroke="#000" stroke-width="1.2"/>
<path d="M14.4,57.60 L11.4,64.10 L17.4,64.10 Z" fill="#000"/>
<rect x="8" y="88.30" width="13" height="40.00" fill="#fff"/>
<text transform="translate(18.8,108.30) rotate(-90)" font-size="12.3" text-anchor="middle">FSC-A</text>
<path d="M14.4,218.10 V312.00" stroke="#000" stroke-width="1.2"/>
<path d="M14.4,213.10 L11.4,219.60 L17.4,219.60 Z" fill="#000"/>
<rect x="8" y="244.80" width="13" height="40.00" fill="#fff"/>
<text transform="translate(18.8,264.80) rotate(-90)" font-size="12.3" text-anchor="middle">CD11b</text>
<path d="M14.4,380.80 V474.40" stroke="#000" stroke-width="1.2"/>
<path d="M14.4,375.80 L11.4,382.30 L17.4,382.30 Z" fill="#000"/>
<rect x="8" y="405.20" width="13" height="40.00" fill="#fff"/>
<text transform="translate(18.8,425.20) rotate(-90)" font-size="12.3" text-anchor="middle">CD11b</text>
<path d="M37.5,180.60 H529" stroke="#000" stroke-width="1.2"/>
<path d="M535.5,180.60 L528.5,177.60 L528.5,183.60 Z" fill="#000"/>
<rect x="269.80" y="173.60" width="32.00" height="14" fill="#fff"/>
<text x="286.00" y="184.50" font-size="11.70" text-anchor="middle" font-weight="normal" fill="#000" >CD45</text>
<path d="M37.5,338.20 H529" stroke="#000" stroke-width="1.2"/>
<path d="M535.5,338.20 L528.5,335.20 L528.5,341.20 Z" fill="#000"/>
<rect x="270.00" y="331.20" width="32.00" height="14" fill="#fff"/>
<text x="286.40" y="342.40" font-size="11.70" text-anchor="middle" font-weight="normal" fill="#000" >Ly6G</text>
<path d="M37.5,502.80 H529" stroke="#000" stroke-width="1.2"/>
<path d="M535.5,502.80 L528.5,499.80 L528.5,505.80 Z" fill="#000"/>
<rect x="269.60" y="495.80" width="32.00" height="14" fill="#fff"/>
<text x="285.60" y="506.50" font-size="11.70" text-anchor="middle" font-weight="normal" fill="#000" >F4/80</text>
<rect x="539.6" y="16.9" width="2.3" height="2.3" fill="#dc1f1f"/>
<rect x="539.6" y="32.6" width="2.3" height="2.3" fill="#000"/>
<text x="550.00" y="22.00" font-size="11.00" text-anchor="start" font-weight="normal" fill="#000" >Control</text>
<text x="550.00" y="37.70" font-size="11.00" text-anchor="start" font-weight="normal" fill="#000" >SAM</text>
<path d="M584.80,71.80 V152.00 H665.5" stroke="#000" stroke-width="1.25" fill="none"/>
<text x="579.20" y="155.90" font-size="11.00" text-anchor="end" font-weight="normal" fill="#000" >0</text>
<text x="579.20" y="129.17" font-size="11.00" text-anchor="end" font-weight="normal" fill="#000" >20</text>
<text x="579.20" y="102.43" font-size="11.00" text-anchor="end" font-weight="normal" fill="#000" >40</text>
<text x="579.20" y="75.70" font-size="11.00" text-anchor="end" font-weight="normal" fill="#000" >60</text>
<path d="M580.60,152.00H584.80M580.60,125.27H584.80M580.60,98.53H584.80M580.60,71.80H584.80M605.00,152.00V156.20M645.60,152.00V156.20" stroke="#000" stroke-width="1.2" fill="none"/>
<rect x="592.00" y="135.10" width="13.00" height="16.90" fill="#fff" stroke="#dc1f1f" stroke-width="1.4"/>
<rect x="605.00" y="132.80" width="13.40" height="19.20" fill="#fff" stroke="#000" stroke-width="1.4"/>
<rect x="632.30" y="90.60" width="13.30" height="61.40" fill="#fff" stroke="#dc1f1f" stroke-width="1.4"/>
<rect x="645.60" y="121.80" width="13.20" height="30.20" fill="#fff" stroke="#000" stroke-width="1.4"/>
<path d="M595.4,132.3h2.3v2.3h-2.3zM598.4,133.3h2.3v2.3h-2.3zM596.9,135.3h2.3v2.3h-2.3zM599.9,132.7h2.3v2.3h-2.3z" fill="#dc1f1f"/>
<path d="M607.4,129.3h2.3v2.3h-2.3zM610.4,128.7h2.3v2.3h-2.3zM613.4,129.8h2.3v2.3h-2.3zM610.4,126.6h2.3v2.3h-2.3z" fill="#000"/>
<path d="M637.5,78.4h2.3v2.3h-2.3zM637.5,83.3h2.3v2.3h-2.3zM635.9,87.8h2.3v2.3h-2.3zM639.1,90.9h2.3v2.3h-2.3zM637.5,93.8h2.3v2.3h-2.3zM637.5,96.6h2.3v2.3h-2.3z" fill="#dc1f1f"/>
<path d="M650.9,114.0h2.3v2.3h-2.3zM648.9,119.0h2.3v2.3h-2.3zM652.4,119.8h2.3v2.3h-2.3zM650.4,122.8h2.3v2.3h-2.3zM652.9,123.1h2.3v2.3h-2.3z" fill="#000"/>
<path d="M598.40,132.20V137.00M595.00,132.20H601.80M595.00,137.00H601.80" stroke="#dc1f1f" stroke-width="1.2" fill="none"/>
<path d="M611.80,130.80V133.60M608.40,130.80H615.20M608.40,133.60H615.20" stroke="#000" stroke-width="1.2" fill="none"/>
<path d="M638.60,86.20V94.80M635.20,86.20H642.00M635.20,94.80H642.00" stroke="#dc1f1f" stroke-width="1.2" fill="none"/>
<path d="M652.00,119.10V124.40M648.60,119.10H655.40M648.60,124.40H655.40" stroke="#000" stroke-width="1.2" fill="none"/>
<path d="M598.40,128.40 V110.50 H612.20 V127.60" stroke="#000" stroke-width="1.25" fill="none"/>
<text x="605.20" y="105.60" font-size="11.00" text-anchor="middle" font-weight="normal" fill="#000" >0.9574</text>
<path d="M638.90,75.20 V70.60 H652.30 V110.50" stroke="#000" stroke-width="1.25" fill="none"/>
<text x="645.60" y="66.00" font-size="11.00" text-anchor="middle" font-weight="normal" fill="#000" >&lt;0.0001</text>
<path d="M598.40,91.20 V48.90 H638.90 V53.40" stroke="#000" stroke-width="1.25" fill="none"/>
<text x="618.50" y="44.00" font-size="11.00" text-anchor="middle" font-weight="normal" fill="#000" >&lt;0.0001</text>
<path d="M611.40,31.00 V26.00 H652.30 V53.40" stroke="#000" stroke-width="1.25" fill="none"/>
<text x="631.60" y="21.50" font-size="11.00" text-anchor="middle" font-weight="normal" fill="#000" >0.0051</text>
<text transform="translate(550.50,112.00) rotate(-90)" font-size="11" text-anchor="middle">CD45<tspan font-size="7.5" dy="-4">+</tspan></text>
<text transform="translate(563.00,111.80) rotate(-90)" font-size="11" text-anchor="middle">(% of live cells)</text>
<text x="605.30" y="168.20" font-size="11.00" text-anchor="middle" font-weight="normal" fill="#000" >Vehicle</text>
<text x="646.30" y="168.20" font-size="11.00" text-anchor="middle" font-weight="normal" fill="#000" >BAPN</text>
<path d="M584.80,238.60 V318.90 H665.5" stroke="#000" stroke-width="1.25" fill="none"/>
<text x="579.20" y="322.80" font-size="11.00" text-anchor="end" font-weight="normal" fill="#000" >0</text>
<text x="579.20" y="302.72" font-size="11.00" text-anchor="end" font-weight="normal" fill="#000" >5</text>
<text x="579.20" y="282.65" font-size="11.00" text-anchor="end" font-weight="normal" fill="#000" >10</text>
<text x="579.20" y="262.57" font-size="11.00" text-anchor="end" font-weight="normal" fill="#000" >15</text>
<text x="579.20" y="242.50" font-size="11.00" text-anchor="end" font-weight="normal" fill="#000" >20</text>
<path d="M580.60,318.90H584.80M580.60,298.82H584.80M580.60,278.75H584.80M580.60,258.68H584.80M580.60,238.60H584.80M605.00,318.90V323.10M645.60,318.90V323.10" stroke="#000" stroke-width="1.2" fill="none"/>
<rect x="592.00" y="312.80" width="13.00" height="6.10" fill="#fff" stroke="#dc1f1f" stroke-width="1.4"/>
<rect x="605.00" y="312.50" width="13.40" height="6.40" fill="#fff" stroke="#000" stroke-width="1.4"/>
<rect x="632.30" y="261.00" width="13.30" height="57.90" fill="#fff" stroke="#dc1f1f" stroke-width="1.4"/>
<rect x="645.60" y="288.20" width="13.20" height="30.70" fill="#fff" stroke="#000" stroke-width="1.4"/>
<path d="M592.6,310.7h2.3v2.3h-2.3zM595.9,311.2h2.3v2.3h-2.3zM598.9,310.5h2.3v2.3h-2.3zM601.9,311.1h2.3v2.3h-2.3z" fill="#dc1f1f"/>
<path d="M606.4,310.9h2.3v2.3h-2.3zM609.9,311.5h2.3v2.3h-2.3zM612.9,310.7h2.3v2.3h-2.3zM615.9,310.2h2.3v2.3h-2.3z" fill="#000"/>
<path d="M637.6,239.7h2.3v2.3h-2.3zM637.6,243.7h2.3v2.3h-2.3zM635.9,258.9h2.3v2.3h-2.3zM639.4,261.4h2.3v2.3h-2.3zM635.9,268.4h2.3v2.3h-2.3zM639.9,270.1h2.3v2.3h-2.3z" fill="#dc1f1f"/>
<path d="M648.4,284.9h2.3v2.3h-2.3zM651.4,283.9h2.3v2.3h-2.3zM653.9,286.4h2.3v2.3h-2.3zM651.4,289.4h2.3v2.3h-2.3zM648.9,291.4h2.3v2.3h-2.3z" fill="#000"/>
<path d="M598.40,310.80V313.20M595.00,310.80H601.80M595.00,313.20H601.80" stroke="#dc1f1f" stroke-width="1.2" fill="none"/>
<path d="M611.80,310.90V313.00M608.40,310.90H615.20M608.40,313.00H615.20" stroke="#000" stroke-width="1.2" fill="none"/>
<path d="M638.80,255.80V265.00M635.40,255.80H642.20M635.40,265.00H642.20" stroke="#dc1f1f" stroke-width="1.2" fill="none"/>
<path d="M652.00,286.50V290.00M648.60,286.50H655.40M648.60,290.00H655.40" stroke="#000" stroke-width="1.2" fill="none"/>
<path d="M598.40,307.60 V292.60 H612.20 V307.60" stroke="#000" stroke-width="1.25" fill="none"/>
<text x="605.20" y="288.30" font-size="11.00" text-anchor="middle" font-weight="normal" fill="#000" >0.9996</text>
<path d="M638.90,241.30 V235.90 H652.30 V282.90" stroke="#000" stroke-width="1.25" fill="none"/>
<text x="645.60" y="231.20" font-size="11.00" text-anchor="middle" font-weight="normal" fill="#000" >&lt;0.0001</text>
<path d="M598.40,274.80 V213.40 H638.90 V218.70" stroke="#000" stroke-width="1.25" fill="none"/>
<text x="618.50" y="208.60" font-size="11.00" text-anchor="middle" font-weight="normal" fill="#000" >&lt;0.0001</text>
<path d="M611.40,196.20 V191.40 H652.30 V218.70" stroke="#000" stroke-width="1.25" fill="none"/>
<text x="631.80" y="186.30" font-size="11.00" text-anchor="middle" font-weight="normal" fill="#000" >&lt;0.0001</text>
<text transform="translate(547.50,282.00) rotate(-90)" font-size="11" text-anchor="middle">Neutrophils</text>
<text transform="translate(560.50,279.50) rotate(-90)" font-size="11" text-anchor="middle">(% of CD45<tspan font-size="7.5" dy="-4">+</tspan><tspan dy="4"> cells)</tspan></text>
<text x="605.30" y="335.10" font-size="11.00" text-anchor="middle" font-weight="normal" fill="#000" >Vehicle</text>
<text x="646.30" y="335.10" font-size="11.00" text-anchor="middle" font-weight="normal" fill="#000" >BAPN</text>
<path d="M584.80,406.30 V487.70 H665.5" stroke="#000" stroke-width="1.25" fill="none"/>
<text x="579.20" y="491.60" font-size="11.00" text-anchor="end" font-weight="normal" fill="#000" >0</text>
<text x="579.20" y="471.25" font-size="11.00" text-anchor="end" font-weight="normal" fill="#000" >20</text>
<text x="579.20" y="450.90" font-size="11.00" text-anchor="end" font-weight="normal" fill="#000" >40</text>
<text x="579.20" y="430.55" font-size="11.00" text-anchor="end" font-weight="normal" fill="#000" >60</text>
<text x="579.20" y="410.20" font-size="11.00" text-anchor="end" font-weight="normal" fill="#000" >80</text>
<path d="M580.60,487.70H584.80M580.60,467.35H584.80M580.60,447.00H584.80M580.60,426.65H584.80M580.60,406.30H584.80M605.00,487.70V491.90M645.60,487.70V491.90" stroke="#000" stroke-width="1.2" fill="none"/>
<rect x="592.00" y="441.00" width="13.00" height="46.70" fill="#fff" stroke="#dc1f1f" stroke-width="1.4"/>
<rect x="605.00" y="442.50" width="13.40" height="45.20" fill="#fff" stroke="#000" stroke-width="1.4"/>
<rect x="632.30" y="424.50" width="13.30" height="63.20" fill="#fff" stroke="#dc1f1f" stroke-width="1.4"/>
<rect x="645.60" y="433.00" width="13.20" height="54.70" fill="#fff" stroke="#000" stroke-width="1.4"/>
<path d="M594.9,435.9h2.3v2.3h-2.3zM598.4,437.4h2.3v2.3h-2.3zM596.4,440.9h2.3v2.3h-2.3zM599.9,442.4h2.3v2.3h-2.3zM597.4,445.2h2.3v2.3h-2.3zM594.4,440.4h2.3v2.3h-2.3z" fill="#dc1f1f"/>
<path d="M606.9,441.1h2.3v2.3h-2.3zM610.4,442.1h2.3v2.3h-2.3zM613.4,441.4h2.3v2.3h-2.3zM615.9,441.9h2.3v2.3h-2.3z" fill="#000"/>
<path d="M634.9,419.4h2.3v2.3h-2.3zM637.9,417.7h2.3v2.3h-2.3zM636.4,423.4h2.3v2.3h-2.3zM640.4,424.4h2.3v2.3h-2.3zM636.9,427.2h2.3v2.3h-2.3zM640.9,421.4h2.3v2.3h-2.3z" fill="#dc1f1f"/>
<path d="M646.9,430.9h2.3v2.3h-2.3zM649.9,432.4h2.3v2.3h-2.3zM652.9,431.4h2.3v2.3h-2.3zM655.9,432.1h2.3v2.3h-2.3zM650.9,434.4h2.3v2.3h-2.3z" fill="#000"/>
<path d="M598.40,438.50V444.00M595.00,438.50H601.80M595.00,444.00H601.80" stroke="#dc1f1f" stroke-width="1.2" fill="none"/>
<path d="M611.80,441.30V443.50M608.40,441.30H615.20M608.40,443.50H615.20" stroke="#000" stroke-width="1.2" fill="none"/>
<path d="M638.60,421.30V428.00M635.20,421.30H642.00M635.20,428.00H642.00" stroke="#dc1f1f" stroke-width="1.2" fill="none"/>
<path d="M652.00,431.20V434.80M648.60,431.20H655.40M648.60,434.80H655.40" stroke="#000" stroke-width="1.2" fill="none"/>
<path d="M598.40,432.00 V422.60 H612.20 V436.00" stroke="#000" stroke-width="1.25" fill="none"/>
<text x="605.20" y="417.40" font-size="11.00" text-anchor="middle" font-weight="normal" fill="#000" >0.8047</text>
<path d="M638.90,414.20 V409.40 H652.30 V426.50" stroke="#000" stroke-width="1.25" fill="none"/>
<text x="645.60" y="404.80" font-size="11.00" text-anchor="middle" font-weight="normal" fill="#000" >0.0009</text>
<path d="M598.40,404.20 V387.60 H638.90 V392.30" stroke="#000" stroke-width="1.25" fill="none"/>
<text x="618.50" y="382.20" font-size="11.00" text-anchor="middle" font-weight="normal" fill="#000" >&lt;0.0001</text>
<path d="M611.40,369.40 V364.60 H652.30 V392.30" stroke="#000" stroke-width="1.25" fill="none"/>
<text x="631.80" y="360.00" font-size="11.00" text-anchor="middle" font-weight="normal" fill="#000" >0.0010</text>
<text transform="translate(547.50,445.50) rotate(-90)" font-size="11" text-anchor="middle">F4/80<tspan font-size="7.5" dy="-4">+</tspan></text>
<text transform="translate(561.50,447.00) rotate(-90)" font-size="11" text-anchor="middle">(% of CD45<tspan font-size="7.5" dy="-4">+</tspan><tspan dy="4"> cells)</tspan></text>
<text x="605.30" y="503.90" font-size="11.00" text-anchor="middle" font-weight="normal" fill="#000" >Vehicle</text>
<text x="646.30" y="503.90" font-size="11.00" text-anchor="middle" font-weight="normal" fill="#000" >BAPN</text>
</svg>
</body></html>
